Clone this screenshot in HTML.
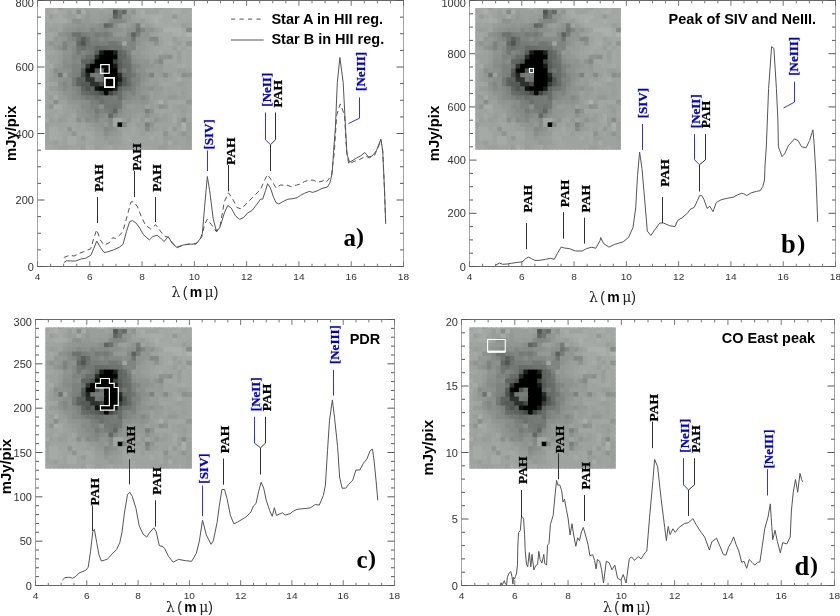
<!DOCTYPE html><html><head><meta charset="utf-8"><style>
html,body{margin:0;padding:0;background:#fff;width:840px;height:616px;overflow:hidden}
svg{display:block}
.tk{font-family:"Liberation Sans",sans-serif;font-size:10px;fill:#333}
.yl{font-family:"Liberation Sans",sans-serif;font-weight:bold;font-size:15.5px;fill:#000}
.xl{font-family:"Liberation Sans",sans-serif;font-size:14px;fill:#222;word-spacing:-1.5px}
.xl .lam,.xl .mu{font-family:"DejaVu Serif","Liberation Serif",serif}
.xl .mb{font-weight:bold;fill:#000}
.ann{font-family:"Liberation Serif",serif;font-weight:bold;font-size:13px;stroke:currentColor;stroke-width:0.25px}.pah{font-size:13.5px}
.ttl{font-family:"Liberation Sans",sans-serif;font-weight:bold;font-size:14.5px;fill:#000}
.pl{font-family:"Liberation Serif",serif;font-weight:bold;font-size:25px;fill:#000}
</style></head><body>
<svg width="840" height="616" viewBox="0 0 840 616">
<rect width="840" height="616" fill="#fff"/>
<path d="M37.5 0.5V266.5M403.5 0.5V266.5" stroke="#a4a4a4" stroke-width="1" fill="none"/>
<path d="M37 0.5H404M37 266.5H404" stroke="#686868" stroke-width="1" fill="none"/>
<path d="M37.5 266.5h7M403.5 266.5h-7M37.5 249.88h3.5M403.5 249.88h-3.5M37.5 233.25h3.5M403.5 233.25h-3.5M37.5 216.62h3.5M403.5 216.62h-3.5M37.5 200h7M403.5 200h-7M37.5 183.38h3.5M403.5 183.38h-3.5M37.5 166.75h3.5M403.5 166.75h-3.5M37.5 150.12h3.5M403.5 150.12h-3.5M37.5 133.5h7M403.5 133.5h-7M37.5 116.88h3.5M403.5 116.88h-3.5M37.5 100.25h3.5M403.5 100.25h-3.5M37.5 83.62h3.5M403.5 83.62h-3.5M37.5 67h7M403.5 67h-7M37.5 50.38h3.5M403.5 50.38h-3.5M37.5 33.75h3.5M403.5 33.75h-3.5M37.5 17.12h3.5M403.5 17.12h-3.5M37.5 0.5h7M403.5 0.5h-7" stroke="#585858" stroke-width="1" fill="none"/>
<path d="M37.5 266.5v-5.3M37.5 0.5v5.4M50.57 266.5v-2.7M50.57 0.5v2.9M63.64 266.5v-2.7M63.64 0.5v2.9M76.71 266.5v-2.7M76.71 0.5v2.9M89.79 266.5v-5.3M89.79 0.5v5.4M102.86 266.5v-2.7M102.86 0.5v2.9M115.93 266.5v-2.7M115.93 0.5v2.9M129 266.5v-2.7M129 0.5v2.9M142.07 266.5v-5.3M142.07 0.5v5.4M155.14 266.5v-2.7M155.14 0.5v2.9M168.21 266.5v-2.7M168.21 0.5v2.9M181.29 266.5v-2.7M181.29 0.5v2.9M194.36 266.5v-5.3M194.36 0.5v5.4M207.43 266.5v-2.7M207.43 0.5v2.9M220.5 266.5v-2.7M220.5 0.5v2.9M233.57 266.5v-2.7M233.57 0.5v2.9M246.64 266.5v-5.3M246.64 0.5v5.4M259.71 266.5v-2.7M259.71 0.5v2.9M272.79 266.5v-2.7M272.79 0.5v2.9M285.86 266.5v-2.7M285.86 0.5v2.9M298.93 266.5v-5.3M298.93 0.5v5.4M312 266.5v-2.7M312 0.5v2.9M325.07 266.5v-2.7M325.07 0.5v2.9M338.14 266.5v-2.7M338.14 0.5v2.9M351.21 266.5v-5.3M351.21 0.5v5.4M364.29 266.5v-2.7M364.29 0.5v2.9M377.36 266.5v-2.7M377.36 0.5v2.9M390.43 266.5v-2.7M390.43 0.5v2.9M403.5 266.5v-5.3M403.5 0.5v5.4" stroke="#767676" stroke-width="1" fill="none"/>
<text transform="translate(37.5,279.8) scale(1.07,1)" class="tk" text-anchor="middle" style="font-size:9.5px">4</text>
<text transform="translate(89.79,279.8) scale(1.07,1)" class="tk" text-anchor="middle" style="font-size:9.5px">6</text>
<text transform="translate(142.07,279.8) scale(1.07,1)" class="tk" text-anchor="middle" style="font-size:9.5px">8</text>
<text transform="translate(194.36,279.8) scale(1.07,1)" class="tk" text-anchor="middle" style="font-size:9.5px">10</text>
<text transform="translate(246.64,279.8) scale(1.07,1)" class="tk" text-anchor="middle" style="font-size:9.5px">12</text>
<text transform="translate(298.93,279.8) scale(1.07,1)" class="tk" text-anchor="middle" style="font-size:9.5px">14</text>
<text transform="translate(351.21,279.8) scale(1.07,1)" class="tk" text-anchor="middle" style="font-size:9.5px">16</text>
<text transform="translate(403.5,279.8) scale(1.07,1)" class="tk" text-anchor="middle" style="font-size:9.5px">18</text>
<text transform="translate(33.9,270.5) scale(1.1,1)" class="tk" text-anchor="end">0</text>
<text transform="translate(33.9,204) scale(1.1,1)" class="tk" text-anchor="end">200</text>
<text transform="translate(33.9,137.5) scale(1.1,1)" class="tk" text-anchor="end">400</text>
<text transform="translate(33.9,71) scale(1.1,1)" class="tk" text-anchor="end">600</text>
<text transform="translate(33.9,7.3) scale(1.1,1)" class="tk" text-anchor="end">800</text>
<text class="yl" transform="translate(16.4,133.4) rotate(-90) scale(0.96,1)" text-anchor="middle">mJy/pix</text>
<text class="xl" x="194.9" y="296.6" text-anchor="middle"><tspan class="lam">&#955;</tspan> ( <tspan class="mb">m</tspan> <tspan class="mu">&#956;</tspan>)</text>
<path d="M469.5 0.5V266.5M835.5 0.5V266.5" stroke="#a4a4a4" stroke-width="1" fill="none"/>
<path d="M469 0.5H836M469 266.5H836" stroke="#686868" stroke-width="1" fill="none"/>
<path d="M469.5 266.5h7M835.5 266.5h-7M469.5 253.2h3.5M835.5 253.2h-3.5M469.5 239.9h3.5M835.5 239.9h-3.5M469.5 226.6h3.5M835.5 226.6h-3.5M469.5 213.3h7M835.5 213.3h-7M469.5 200h3.5M835.5 200h-3.5M469.5 186.7h3.5M835.5 186.7h-3.5M469.5 173.4h3.5M835.5 173.4h-3.5M469.5 160.1h7M835.5 160.1h-7M469.5 146.8h3.5M835.5 146.8h-3.5M469.5 133.5h3.5M835.5 133.5h-3.5M469.5 120.2h3.5M835.5 120.2h-3.5M469.5 106.9h7M835.5 106.9h-7M469.5 93.6h3.5M835.5 93.6h-3.5M469.5 80.3h3.5M835.5 80.3h-3.5M469.5 67h3.5M835.5 67h-3.5M469.5 53.7h7M835.5 53.7h-7M469.5 40.4h3.5M835.5 40.4h-3.5M469.5 27.1h3.5M835.5 27.1h-3.5M469.5 13.8h3.5M835.5 13.8h-3.5M469.5 0.5h7M835.5 0.5h-7" stroke="#585858" stroke-width="1" fill="none"/>
<path d="M469.5 266.5v-5.3M469.5 0.5v5.4M482.57 266.5v-2.7M482.57 0.5v2.9M495.64 266.5v-2.7M495.64 0.5v2.9M508.71 266.5v-2.7M508.71 0.5v2.9M521.79 266.5v-5.3M521.79 0.5v5.4M534.86 266.5v-2.7M534.86 0.5v2.9M547.93 266.5v-2.7M547.93 0.5v2.9M561 266.5v-2.7M561 0.5v2.9M574.07 266.5v-5.3M574.07 0.5v5.4M587.14 266.5v-2.7M587.14 0.5v2.9M600.21 266.5v-2.7M600.21 0.5v2.9M613.29 266.5v-2.7M613.29 0.5v2.9M626.36 266.5v-5.3M626.36 0.5v5.4M639.43 266.5v-2.7M639.43 0.5v2.9M652.5 266.5v-2.7M652.5 0.5v2.9M665.57 266.5v-2.7M665.57 0.5v2.9M678.64 266.5v-5.3M678.64 0.5v5.4M691.71 266.5v-2.7M691.71 0.5v2.9M704.79 266.5v-2.7M704.79 0.5v2.9M717.86 266.5v-2.7M717.86 0.5v2.9M730.93 266.5v-5.3M730.93 0.5v5.4M744 266.5v-2.7M744 0.5v2.9M757.07 266.5v-2.7M757.07 0.5v2.9M770.14 266.5v-2.7M770.14 0.5v2.9M783.21 266.5v-5.3M783.21 0.5v5.4M796.29 266.5v-2.7M796.29 0.5v2.9M809.36 266.5v-2.7M809.36 0.5v2.9M822.43 266.5v-2.7M822.43 0.5v2.9M835.5 266.5v-5.3M835.5 0.5v5.4" stroke="#767676" stroke-width="1" fill="none"/>
<text transform="translate(469.5,279.8) scale(1.07,1)" class="tk" text-anchor="middle" style="font-size:9.5px">4</text>
<text transform="translate(521.79,279.8) scale(1.07,1)" class="tk" text-anchor="middle" style="font-size:9.5px">6</text>
<text transform="translate(574.07,279.8) scale(1.07,1)" class="tk" text-anchor="middle" style="font-size:9.5px">8</text>
<text transform="translate(626.36,279.8) scale(1.07,1)" class="tk" text-anchor="middle" style="font-size:9.5px">10</text>
<text transform="translate(678.64,279.8) scale(1.07,1)" class="tk" text-anchor="middle" style="font-size:9.5px">12</text>
<text transform="translate(730.93,279.8) scale(1.07,1)" class="tk" text-anchor="middle" style="font-size:9.5px">14</text>
<text transform="translate(783.21,279.8) scale(1.07,1)" class="tk" text-anchor="middle" style="font-size:9.5px">16</text>
<text transform="translate(835.5,279.8) scale(1.07,1)" class="tk" text-anchor="middle" style="font-size:9.5px">18</text>
<text transform="translate(465.9,270.5) scale(1.1,1)" class="tk" text-anchor="end">0</text>
<text transform="translate(465.9,217.3) scale(1.1,1)" class="tk" text-anchor="end">200</text>
<text transform="translate(465.9,164.1) scale(1.1,1)" class="tk" text-anchor="end">400</text>
<text transform="translate(465.9,110.9) scale(1.1,1)" class="tk" text-anchor="end">600</text>
<text transform="translate(465.9,57.7) scale(1.1,1)" class="tk" text-anchor="end">800</text>
<text transform="translate(465.9,7.3) scale(1.1,1)" class="tk" text-anchor="end">1000</text>
<text class="yl" transform="translate(438.9,133.5) rotate(-90) scale(0.96,1)" text-anchor="middle">mJy/pix</text>
<text class="xl" x="612.5" y="302" text-anchor="middle"><tspan class="lam">&#955;</tspan> ( <tspan class="mb">m</tspan> <tspan class="mu">&#956;</tspan>)</text>
<path d="M35.5 319.5V585.5M394.5 319.5V585.5" stroke="#a4a4a4" stroke-width="1" fill="none"/>
<path d="M35 319.5H395M35 585.5H395" stroke="#686868" stroke-width="1" fill="none"/>
<path d="M35.5 585.5h7M394.5 585.5h-7M35.5 576.63h3.5M394.5 576.63h-3.5M35.5 567.77h3.5M394.5 567.77h-3.5M35.5 558.9h3.5M394.5 558.9h-3.5M35.5 550.03h3.5M394.5 550.03h-3.5M35.5 541.17h7M394.5 541.17h-7M35.5 532.3h3.5M394.5 532.3h-3.5M35.5 523.43h3.5M394.5 523.43h-3.5M35.5 514.57h3.5M394.5 514.57h-3.5M35.5 505.7h3.5M394.5 505.7h-3.5M35.5 496.83h7M394.5 496.83h-7M35.5 487.97h3.5M394.5 487.97h-3.5M35.5 479.1h3.5M394.5 479.1h-3.5M35.5 470.23h3.5M394.5 470.23h-3.5M35.5 461.37h3.5M394.5 461.37h-3.5M35.5 452.5h7M394.5 452.5h-7M35.5 443.63h3.5M394.5 443.63h-3.5M35.5 434.77h3.5M394.5 434.77h-3.5M35.5 425.9h3.5M394.5 425.9h-3.5M35.5 417.03h3.5M394.5 417.03h-3.5M35.5 408.17h7M394.5 408.17h-7M35.5 399.3h3.5M394.5 399.3h-3.5M35.5 390.43h3.5M394.5 390.43h-3.5M35.5 381.57h3.5M394.5 381.57h-3.5M35.5 372.7h3.5M394.5 372.7h-3.5M35.5 363.83h7M394.5 363.83h-7M35.5 354.97h3.5M394.5 354.97h-3.5M35.5 346.1h3.5M394.5 346.1h-3.5M35.5 337.23h3.5M394.5 337.23h-3.5M35.5 328.37h3.5M394.5 328.37h-3.5M35.5 319.5h7M394.5 319.5h-7" stroke="#585858" stroke-width="1" fill="none"/>
<path d="M35.5 585.5v-5.3M35.5 319.5v5.4M48.32 585.5v-2.7M48.32 319.5v2.9M61.14 585.5v-2.7M61.14 319.5v2.9M73.96 585.5v-2.7M73.96 319.5v2.9M86.79 585.5v-5.3M86.79 319.5v5.4M99.61 585.5v-2.7M99.61 319.5v2.9M112.43 585.5v-2.7M112.43 319.5v2.9M125.25 585.5v-2.7M125.25 319.5v2.9M138.07 585.5v-5.3M138.07 319.5v5.4M150.89 585.5v-2.7M150.89 319.5v2.9M163.71 585.5v-2.7M163.71 319.5v2.9M176.54 585.5v-2.7M176.54 319.5v2.9M189.36 585.5v-5.3M189.36 319.5v5.4M202.18 585.5v-2.7M202.18 319.5v2.9M215 585.5v-2.7M215 319.5v2.9M227.82 585.5v-2.7M227.82 319.5v2.9M240.64 585.5v-5.3M240.64 319.5v5.4M253.46 585.5v-2.7M253.46 319.5v2.9M266.29 585.5v-2.7M266.29 319.5v2.9M279.11 585.5v-2.7M279.11 319.5v2.9M291.93 585.5v-5.3M291.93 319.5v5.4M304.75 585.5v-2.7M304.75 319.5v2.9M317.57 585.5v-2.7M317.57 319.5v2.9M330.39 585.5v-2.7M330.39 319.5v2.9M343.21 585.5v-5.3M343.21 319.5v5.4M356.04 585.5v-2.7M356.04 319.5v2.9M368.86 585.5v-2.7M368.86 319.5v2.9M381.68 585.5v-2.7M381.68 319.5v2.9M394.5 585.5v-5.3M394.5 319.5v5.4" stroke="#767676" stroke-width="1" fill="none"/>
<text transform="translate(35.5,598.8) scale(1.07,1)" class="tk" text-anchor="middle" style="font-size:9.5px">4</text>
<text transform="translate(86.79,598.8) scale(1.07,1)" class="tk" text-anchor="middle" style="font-size:9.5px">6</text>
<text transform="translate(138.07,598.8) scale(1.07,1)" class="tk" text-anchor="middle" style="font-size:9.5px">8</text>
<text transform="translate(189.36,598.8) scale(1.07,1)" class="tk" text-anchor="middle" style="font-size:9.5px">10</text>
<text transform="translate(240.64,598.8) scale(1.07,1)" class="tk" text-anchor="middle" style="font-size:9.5px">12</text>
<text transform="translate(291.93,598.8) scale(1.07,1)" class="tk" text-anchor="middle" style="font-size:9.5px">14</text>
<text transform="translate(343.21,598.8) scale(1.07,1)" class="tk" text-anchor="middle" style="font-size:9.5px">16</text>
<text transform="translate(394.5,598.8) scale(1.07,1)" class="tk" text-anchor="middle" style="font-size:9.5px">18</text>
<text transform="translate(31.9,589.5) scale(1.1,1)" class="tk" text-anchor="end">0</text>
<text transform="translate(31.9,545.17) scale(1.1,1)" class="tk" text-anchor="end">50</text>
<text transform="translate(31.9,500.83) scale(1.1,1)" class="tk" text-anchor="end">100</text>
<text transform="translate(31.9,456.5) scale(1.1,1)" class="tk" text-anchor="end">150</text>
<text transform="translate(31.9,412.17) scale(1.1,1)" class="tk" text-anchor="end">200</text>
<text transform="translate(31.9,367.83) scale(1.1,1)" class="tk" text-anchor="end">250</text>
<text transform="translate(31.9,326.3) scale(1.1,1)" class="tk" text-anchor="end">300</text>
<text class="yl" transform="translate(11,466.6) rotate(-90) scale(0.96,1)" text-anchor="middle">mJy/pix</text>
<text class="xl" x="189.5" y="611.5" text-anchor="middle"><tspan class="lam">&#955;</tspan> ( <tspan class="mb">m</tspan> <tspan class="mu">&#956;</tspan>)</text>
<path d="M461.5 319.5V585.5M834.5 319.5V585.5" stroke="#a4a4a4" stroke-width="1" fill="none"/>
<path d="M461 319.5H835M461 585.5H835" stroke="#686868" stroke-width="1" fill="none"/>
<path d="M461.5 585.5h7M834.5 585.5h-7M461.5 572.2h3.5M834.5 572.2h-3.5M461.5 558.9h3.5M834.5 558.9h-3.5M461.5 545.6h3.5M834.5 545.6h-3.5M461.5 532.3h3.5M834.5 532.3h-3.5M461.5 519h7M834.5 519h-7M461.5 505.7h3.5M834.5 505.7h-3.5M461.5 492.4h3.5M834.5 492.4h-3.5M461.5 479.1h3.5M834.5 479.1h-3.5M461.5 465.8h3.5M834.5 465.8h-3.5M461.5 452.5h7M834.5 452.5h-7M461.5 439.2h3.5M834.5 439.2h-3.5M461.5 425.9h3.5M834.5 425.9h-3.5M461.5 412.6h3.5M834.5 412.6h-3.5M461.5 399.3h3.5M834.5 399.3h-3.5M461.5 386h7M834.5 386h-7M461.5 372.7h3.5M834.5 372.7h-3.5M461.5 359.4h3.5M834.5 359.4h-3.5M461.5 346.1h3.5M834.5 346.1h-3.5M461.5 332.8h3.5M834.5 332.8h-3.5M461.5 319.5h7M834.5 319.5h-7" stroke="#585858" stroke-width="1" fill="none"/>
<path d="M461.5 585.5v-5.3M461.5 319.5v5.4M474.82 585.5v-2.7M474.82 319.5v2.9M488.14 585.5v-2.7M488.14 319.5v2.9M501.46 585.5v-2.7M501.46 319.5v2.9M514.79 585.5v-5.3M514.79 319.5v5.4M528.11 585.5v-2.7M528.11 319.5v2.9M541.43 585.5v-2.7M541.43 319.5v2.9M554.75 585.5v-2.7M554.75 319.5v2.9M568.07 585.5v-5.3M568.07 319.5v5.4M581.39 585.5v-2.7M581.39 319.5v2.9M594.71 585.5v-2.7M594.71 319.5v2.9M608.04 585.5v-2.7M608.04 319.5v2.9M621.36 585.5v-5.3M621.36 319.5v5.4M634.68 585.5v-2.7M634.68 319.5v2.9M648 585.5v-2.7M648 319.5v2.9M661.32 585.5v-2.7M661.32 319.5v2.9M674.64 585.5v-5.3M674.64 319.5v5.4M687.96 585.5v-2.7M687.96 319.5v2.9M701.29 585.5v-2.7M701.29 319.5v2.9M714.61 585.5v-2.7M714.61 319.5v2.9M727.93 585.5v-5.3M727.93 319.5v5.4M741.25 585.5v-2.7M741.25 319.5v2.9M754.57 585.5v-2.7M754.57 319.5v2.9M767.89 585.5v-2.7M767.89 319.5v2.9M781.21 585.5v-5.3M781.21 319.5v5.4M794.54 585.5v-2.7M794.54 319.5v2.9M807.86 585.5v-2.7M807.86 319.5v2.9M821.18 585.5v-2.7M821.18 319.5v2.9M834.5 585.5v-5.3M834.5 319.5v5.4" stroke="#767676" stroke-width="1" fill="none"/>
<text transform="translate(461.5,598.8) scale(1.07,1)" class="tk" text-anchor="middle" style="font-size:9.5px">4</text>
<text transform="translate(514.79,598.8) scale(1.07,1)" class="tk" text-anchor="middle" style="font-size:9.5px">6</text>
<text transform="translate(568.07,598.8) scale(1.07,1)" class="tk" text-anchor="middle" style="font-size:9.5px">8</text>
<text transform="translate(621.36,598.8) scale(1.07,1)" class="tk" text-anchor="middle" style="font-size:9.5px">10</text>
<text transform="translate(674.64,598.8) scale(1.07,1)" class="tk" text-anchor="middle" style="font-size:9.5px">12</text>
<text transform="translate(727.93,598.8) scale(1.07,1)" class="tk" text-anchor="middle" style="font-size:9.5px">14</text>
<text transform="translate(781.21,598.8) scale(1.07,1)" class="tk" text-anchor="middle" style="font-size:9.5px">16</text>
<text transform="translate(834.5,598.8) scale(1.07,1)" class="tk" text-anchor="middle" style="font-size:9.5px">18</text>
<text transform="translate(457.9,589.5) scale(1.1,1)" class="tk" text-anchor="end">0</text>
<text transform="translate(457.9,523) scale(1.1,1)" class="tk" text-anchor="end">5</text>
<text transform="translate(457.9,456.5) scale(1.1,1)" class="tk" text-anchor="end">10</text>
<text transform="translate(457.9,390) scale(1.1,1)" class="tk" text-anchor="end">15</text>
<text transform="translate(457.9,326.3) scale(1.1,1)" class="tk" text-anchor="end">20</text>
<text class="yl" transform="translate(433.2,447.7) rotate(-90) scale(0.96,1)" text-anchor="middle">mJy/pix</text>
<text class="xl" x="626.6" y="611.5" text-anchor="middle"><tspan class="lam">&#955;</tspan> ( <tspan class="mb">m</tspan> <tspan class="mu">&#956;</tspan>)</text>
<g transform="translate(45.1,8)">
<rect x="0" y="0" width="4.85" height="2.76" fill="#a4a8a5"/>
<rect x="3.85" y="0" width="5.57" height="2.76" fill="#a6aaa7"/>
<rect x="8.42" y="0" width="5.57" height="2.76" fill="#a6aaa7"/>
<rect x="12.99" y="0" width="5.57" height="2.76" fill="#9a9e9b"/>
<rect x="17.56" y="0" width="5.57" height="2.76" fill="#a6aaa7"/>
<rect x="22.13" y="0" width="5.57" height="2.76" fill="#a4a8a5"/>
<rect x="26.7" y="0" width="5.57" height="2.76" fill="#a4a8a5"/>
<rect x="31.27" y="0" width="5.57" height="2.76" fill="#a2a6a3"/>
<rect x="35.84" y="0" width="5.57" height="2.76" fill="#a2a6a3"/>
<rect x="40.41" y="0" width="5.57" height="2.76" fill="#9fa3a0"/>
<rect x="44.98" y="0" width="5.57" height="2.76" fill="#9fa3a0"/>
<rect x="49.55" y="0" width="5.57" height="2.76" fill="#a3a7a4"/>
<rect x="54.12" y="0" width="5.57" height="2.76" fill="#abafac"/>
<rect x="58.69" y="0" width="5.57" height="2.76" fill="#a3a7a4"/>
<rect x="63.26" y="0" width="5.57" height="2.76" fill="#9ea29f"/>
<rect x="67.83" y="0" width="5.57" height="2.76" fill="#9ea29f"/>
<rect x="72.4" y="0" width="5.57" height="2.76" fill="#a4a8a5"/>
<rect x="76.97" y="0" width="5.57" height="2.76" fill="#a6aaa7"/>
<rect x="81.54" y="0" width="5.57" height="2.76" fill="#9fa3a0"/>
<rect x="86.11" y="0" width="5.57" height="2.76" fill="#9fa3a0"/>
<rect x="90.68" y="0" width="5.57" height="2.76" fill="#a4a8a5"/>
<rect x="95.25" y="0" width="5.57" height="2.76" fill="#a4a8a5"/>
<rect x="99.82" y="0" width="5.57" height="2.76" fill="#a4a8a5"/>
<rect x="104.39" y="0" width="5.57" height="2.76" fill="#a6aaa7"/>
<rect x="108.96" y="0" width="5.57" height="2.76" fill="#9fa3a0"/>
<rect x="113.53" y="0" width="5.57" height="2.76" fill="#9fa3a0"/>
<rect x="118.1" y="0" width="5.57" height="2.76" fill="#a6aaa7"/>
<rect x="122.67" y="0" width="5.57" height="2.76" fill="#a6aaa7"/>
<rect x="127.24" y="0" width="5.57" height="2.76" fill="#a6aaa7"/>
<rect x="131.81" y="0" width="5.57" height="2.76" fill="#a9adaa"/>
<rect x="136.38" y="0" width="5.57" height="2.76" fill="#a2a6a3"/>
<rect x="140.95" y="0" width="5.85" height="2.76" fill="#a4a8a5"/>
<rect x="0" y="1.76" width="4.85" height="5.5" fill="#a2a6a3"/>
<rect x="3.85" y="1.76" width="5.57" height="5.5" fill="#a6aaa7"/>
<rect x="8.42" y="1.76" width="5.57" height="5.5" fill="#acb0ad"/>
<rect x="12.99" y="1.76" width="5.57" height="5.5" fill="#a4a8a5"/>
<rect x="17.56" y="1.76" width="5.57" height="5.5" fill="#a2a6a3"/>
<rect x="22.13" y="1.76" width="5.57" height="5.5" fill="#9a9e9b"/>
<rect x="26.7" y="1.76" width="5.57" height="5.5" fill="#a4a8a5"/>
<rect x="31.27" y="1.76" width="5.57" height="5.5" fill="#868a87"/>
<rect x="35.84" y="1.76" width="5.57" height="5.5" fill="#a8aca9"/>
<rect x="40.41" y="1.76" width="5.57" height="5.5" fill="#989c99"/>
<rect x="44.98" y="1.76" width="5.57" height="5.5" fill="#9ca09d"/>
<rect x="49.55" y="1.76" width="5.57" height="5.5" fill="#9ca09d"/>
<rect x="54.12" y="1.76" width="5.57" height="5.5" fill="#9b9f9c"/>
<rect x="58.69" y="1.76" width="5.57" height="5.5" fill="#9ea29f"/>
<rect x="63.26" y="1.76" width="5.57" height="5.5" fill="#9b9f9c"/>
<rect x="67.83" y="1.76" width="5.57" height="5.5" fill="#515552"/>
<rect x="72.4" y="1.76" width="5.57" height="5.5" fill="#747875"/>
<rect x="76.97" y="1.76" width="5.57" height="5.5" fill="#666a67"/>
<rect x="81.54" y="1.76" width="5.57" height="5.5" fill="#999d9a"/>
<rect x="86.11" y="1.76" width="5.57" height="5.5" fill="#909491"/>
<rect x="90.68" y="1.76" width="5.57" height="5.5" fill="#a4a8a5"/>
<rect x="95.25" y="1.76" width="5.57" height="5.5" fill="#a9adaa"/>
<rect x="99.82" y="1.76" width="5.57" height="5.5" fill="#9fa3a0"/>
<rect x="104.39" y="1.76" width="5.57" height="5.5" fill="#9fa3a0"/>
<rect x="108.96" y="1.76" width="5.57" height="5.5" fill="#9fa3a0"/>
<rect x="113.53" y="1.76" width="5.57" height="5.5" fill="#a6aaa7"/>
<rect x="118.1" y="1.76" width="5.57" height="5.5" fill="#a4a8a5"/>
<rect x="122.67" y="1.76" width="5.57" height="5.5" fill="#a4a8a5"/>
<rect x="127.24" y="1.76" width="5.57" height="5.5" fill="#a9adaa"/>
<rect x="131.81" y="1.76" width="5.57" height="5.5" fill="#a9adaa"/>
<rect x="136.38" y="1.76" width="5.57" height="5.5" fill="#a2a6a3"/>
<rect x="140.95" y="1.76" width="5.85" height="5.5" fill="#a4a8a5"/>
<rect x="0" y="6.26" width="4.85" height="5.5" fill="#a6aaa7"/>
<rect x="3.85" y="6.26" width="5.57" height="5.5" fill="#9a9e9b"/>
<rect x="8.42" y="6.26" width="5.57" height="5.5" fill="#a2a6a3"/>
<rect x="12.99" y="6.26" width="5.57" height="5.5" fill="#a6aaa7"/>
<rect x="17.56" y="6.26" width="5.57" height="5.5" fill="#9fa3a0"/>
<rect x="22.13" y="6.26" width="5.57" height="5.5" fill="#9a9e9b"/>
<rect x="26.7" y="6.26" width="5.57" height="5.5" fill="#9a9e9b"/>
<rect x="31.27" y="6.26" width="5.57" height="5.5" fill="#a7aba8"/>
<rect x="35.84" y="6.26" width="5.57" height="5.5" fill="#9ca09d"/>
<rect x="40.41" y="6.26" width="5.57" height="5.5" fill="#949895"/>
<rect x="44.98" y="6.26" width="5.57" height="5.5" fill="#9a9e9b"/>
<rect x="49.55" y="6.26" width="5.57" height="5.5" fill="#9ca09d"/>
<rect x="54.12" y="6.26" width="5.57" height="5.5" fill="#999d9a"/>
<rect x="58.69" y="6.26" width="5.57" height="5.5" fill="#999d9a"/>
<rect x="63.26" y="6.26" width="5.57" height="5.5" fill="#949895"/>
<rect x="67.83" y="6.26" width="5.57" height="5.5" fill="#626663"/>
<rect x="72.4" y="6.26" width="5.57" height="5.5" fill="#727673"/>
<rect x="76.97" y="6.26" width="5.57" height="5.5" fill="#919592"/>
<rect x="81.54" y="6.26" width="5.57" height="5.5" fill="#929693"/>
<rect x="86.11" y="6.26" width="5.57" height="5.5" fill="#9da19e"/>
<rect x="90.68" y="6.26" width="5.57" height="5.5" fill="#a2a6a3"/>
<rect x="95.25" y="6.26" width="5.57" height="5.5" fill="#a6aaa7"/>
<rect x="99.82" y="6.26" width="5.57" height="5.5" fill="#a6aaa7"/>
<rect x="104.39" y="6.26" width="5.57" height="5.5" fill="#a9adaa"/>
<rect x="108.96" y="6.26" width="5.57" height="5.5" fill="#a9adaa"/>
<rect x="113.53" y="6.26" width="5.57" height="5.5" fill="#a9adaa"/>
<rect x="118.1" y="6.26" width="5.57" height="5.5" fill="#a4a8a5"/>
<rect x="122.67" y="6.26" width="5.57" height="5.5" fill="#a4a8a5"/>
<rect x="127.24" y="6.26" width="5.57" height="5.5" fill="#959996"/>
<rect x="131.81" y="6.26" width="5.57" height="5.5" fill="#a2a6a3"/>
<rect x="136.38" y="6.26" width="5.57" height="5.5" fill="#a6aaa7"/>
<rect x="140.95" y="6.26" width="5.85" height="5.5" fill="#a4a8a5"/>
<rect x="0" y="10.77" width="4.85" height="5.51" fill="#a4a8a5"/>
<rect x="3.85" y="10.77" width="5.57" height="5.51" fill="#a4a8a5"/>
<rect x="8.42" y="10.77" width="5.57" height="5.51" fill="#a6aaa7"/>
<rect x="12.99" y="10.77" width="5.57" height="5.51" fill="#a6aaa7"/>
<rect x="17.56" y="10.77" width="5.57" height="5.51" fill="#a6aaa7"/>
<rect x="22.13" y="10.77" width="5.57" height="5.51" fill="#9ea29f"/>
<rect x="26.7" y="10.77" width="5.57" height="5.51" fill="#8e928f"/>
<rect x="31.27" y="10.77" width="5.57" height="5.51" fill="#8c908d"/>
<rect x="35.84" y="10.77" width="5.57" height="5.51" fill="#979b98"/>
<rect x="40.41" y="10.77" width="5.57" height="5.51" fill="#959996"/>
<rect x="44.98" y="10.77" width="5.57" height="5.51" fill="#979b98"/>
<rect x="49.55" y="10.77" width="5.57" height="5.51" fill="#9a9e9b"/>
<rect x="54.12" y="10.77" width="5.57" height="5.51" fill="#969a97"/>
<rect x="58.69" y="10.77" width="5.57" height="5.51" fill="#969a97"/>
<rect x="63.26" y="10.77" width="5.57" height="5.51" fill="#878b88"/>
<rect x="67.83" y="10.77" width="5.57" height="5.51" fill="#838784"/>
<rect x="72.4" y="10.77" width="5.57" height="5.51" fill="#838784"/>
<rect x="76.97" y="10.77" width="5.57" height="5.51" fill="#898d8a"/>
<rect x="81.54" y="10.77" width="5.57" height="5.51" fill="#959996"/>
<rect x="86.11" y="10.77" width="5.57" height="5.51" fill="#9b9f9c"/>
<rect x="90.68" y="10.77" width="5.57" height="5.51" fill="#9da19e"/>
<rect x="95.25" y="10.77" width="5.57" height="5.51" fill="#999d9a"/>
<rect x="99.82" y="10.77" width="5.57" height="5.51" fill="#a2a6a3"/>
<rect x="104.39" y="10.77" width="5.57" height="5.51" fill="#a6aaa7"/>
<rect x="108.96" y="10.77" width="5.57" height="5.51" fill="#acb0ad"/>
<rect x="113.53" y="10.77" width="5.57" height="5.51" fill="#a4a8a5"/>
<rect x="118.1" y="10.77" width="5.57" height="5.51" fill="#a4a8a5"/>
<rect x="122.67" y="10.77" width="5.57" height="5.51" fill="#a4a8a5"/>
<rect x="127.24" y="10.77" width="5.57" height="5.51" fill="#a9adaa"/>
<rect x="131.81" y="10.77" width="5.57" height="5.51" fill="#a4a8a5"/>
<rect x="136.38" y="10.77" width="5.57" height="5.51" fill="#a4a8a5"/>
<rect x="140.95" y="10.77" width="5.85" height="5.51" fill="#a2a6a3"/>
<rect x="0" y="15.28" width="4.85" height="5.51" fill="#9fa3a0"/>
<rect x="3.85" y="15.28" width="5.57" height="5.51" fill="#a2a6a3"/>
<rect x="8.42" y="15.28" width="5.57" height="5.51" fill="#9fa3a0"/>
<rect x="12.99" y="15.28" width="5.57" height="5.51" fill="#9fa3a0"/>
<rect x="17.56" y="15.28" width="5.57" height="5.51" fill="#999d9a"/>
<rect x="22.13" y="15.28" width="5.57" height="5.51" fill="#959996"/>
<rect x="26.7" y="15.28" width="5.57" height="5.51" fill="#949895"/>
<rect x="31.27" y="15.28" width="5.57" height="5.51" fill="#929693"/>
<rect x="35.84" y="15.28" width="5.57" height="5.51" fill="#909491"/>
<rect x="40.41" y="15.28" width="5.57" height="5.51" fill="#939794"/>
<rect x="44.98" y="15.28" width="5.57" height="5.51" fill="#909491"/>
<rect x="49.55" y="15.28" width="5.57" height="5.51" fill="#8f9390"/>
<rect x="54.12" y="15.28" width="5.57" height="5.51" fill="#8a8e8b"/>
<rect x="58.69" y="15.28" width="5.57" height="5.51" fill="#616562"/>
<rect x="63.26" y="15.28" width="5.57" height="5.51" fill="#6c706d"/>
<rect x="67.83" y="15.28" width="5.57" height="5.51" fill="#8a8e8b"/>
<rect x="72.4" y="15.28" width="5.57" height="5.51" fill="#9a9e9b"/>
<rect x="76.97" y="15.28" width="5.57" height="5.51" fill="#9da19e"/>
<rect x="81.54" y="15.28" width="5.57" height="5.51" fill="#979b98"/>
<rect x="86.11" y="15.28" width="5.57" height="5.51" fill="#8f9390"/>
<rect x="90.68" y="15.28" width="5.57" height="5.51" fill="#787c79"/>
<rect x="95.25" y="15.28" width="5.57" height="5.51" fill="#a1a5a2"/>
<rect x="99.82" y="15.28" width="5.57" height="5.51" fill="#999d9a"/>
<rect x="104.39" y="15.28" width="5.57" height="5.51" fill="#9fa3a0"/>
<rect x="108.96" y="15.28" width="5.57" height="5.51" fill="#a6aaa7"/>
<rect x="113.53" y="15.28" width="5.57" height="5.51" fill="#a6aaa7"/>
<rect x="118.1" y="15.28" width="5.57" height="5.51" fill="#a6aaa7"/>
<rect x="122.67" y="15.28" width="5.57" height="5.51" fill="#a6aaa7"/>
<rect x="127.24" y="15.28" width="5.57" height="5.51" fill="#a4a8a5"/>
<rect x="131.81" y="15.28" width="5.57" height="5.51" fill="#a4a8a5"/>
<rect x="136.38" y="15.28" width="5.57" height="5.51" fill="#9a9e9b"/>
<rect x="140.95" y="15.28" width="5.85" height="5.51" fill="#9fa3a0"/>
<rect x="0" y="19.78" width="4.85" height="5.5" fill="#9fa3a0"/>
<rect x="3.85" y="19.78" width="5.57" height="5.5" fill="#9a9e9b"/>
<rect x="8.42" y="19.78" width="5.57" height="5.5" fill="#9ca09d"/>
<rect x="12.99" y="19.78" width="5.57" height="5.5" fill="#9fa3a0"/>
<rect x="17.56" y="19.78" width="5.57" height="5.5" fill="#939794"/>
<rect x="22.13" y="19.78" width="5.57" height="5.5" fill="#909491"/>
<rect x="26.7" y="19.78" width="5.57" height="5.5" fill="#8e928f"/>
<rect x="31.27" y="19.78" width="5.57" height="5.5" fill="#888c89"/>
<rect x="35.84" y="19.78" width="5.57" height="5.5" fill="#8b8f8c"/>
<rect x="40.41" y="19.78" width="5.57" height="5.5" fill="#8d918e"/>
<rect x="44.98" y="19.78" width="5.57" height="5.5" fill="#838784"/>
<rect x="49.55" y="19.78" width="5.57" height="5.5" fill="#8a8e8b"/>
<rect x="54.12" y="19.78" width="5.57" height="5.5" fill="#878b88"/>
<rect x="58.69" y="19.78" width="5.57" height="5.5" fill="#848885"/>
<rect x="63.26" y="19.78" width="5.57" height="5.5" fill="#8c908d"/>
<rect x="67.83" y="19.78" width="5.57" height="5.5" fill="#8c908d"/>
<rect x="72.4" y="19.78" width="5.57" height="5.5" fill="#8f9390"/>
<rect x="76.97" y="19.78" width="5.57" height="5.5" fill="#949895"/>
<rect x="81.54" y="19.78" width="5.57" height="5.5" fill="#8e928f"/>
<rect x="86.11" y="19.78" width="5.57" height="5.5" fill="#8d918e"/>
<rect x="90.68" y="19.78" width="5.57" height="5.5" fill="#707471"/>
<rect x="95.25" y="19.78" width="5.57" height="5.5" fill="#818582"/>
<rect x="99.82" y="19.78" width="5.57" height="5.5" fill="#939794"/>
<rect x="104.39" y="19.78" width="5.57" height="5.5" fill="#909491"/>
<rect x="108.96" y="19.78" width="5.57" height="5.5" fill="#9a9e9b"/>
<rect x="113.53" y="19.78" width="5.57" height="5.5" fill="#9fa3a0"/>
<rect x="118.1" y="19.78" width="5.57" height="5.5" fill="#acb0ad"/>
<rect x="122.67" y="19.78" width="5.57" height="5.5" fill="#acb0ad"/>
<rect x="127.24" y="19.78" width="5.57" height="5.5" fill="#acb0ad"/>
<rect x="131.81" y="19.78" width="5.57" height="5.5" fill="#acb0ad"/>
<rect x="136.38" y="19.78" width="5.57" height="5.5" fill="#a4a8a5"/>
<rect x="140.95" y="19.78" width="5.85" height="5.5" fill="#868a87"/>
<rect x="0" y="24.29" width="4.85" height="5.51" fill="#a2a6a3"/>
<rect x="3.85" y="24.29" width="5.57" height="5.51" fill="#a4a8a5"/>
<rect x="8.42" y="24.29" width="5.57" height="5.51" fill="#9fa3a0"/>
<rect x="12.99" y="24.29" width="5.57" height="5.51" fill="#8e928f"/>
<rect x="17.56" y="24.29" width="5.57" height="5.51" fill="#8c908d"/>
<rect x="22.13" y="24.29" width="5.57" height="5.51" fill="#858986"/>
<rect x="26.7" y="24.29" width="5.57" height="5.51" fill="#6f7370"/>
<rect x="31.27" y="24.29" width="5.57" height="5.51" fill="#6d716e"/>
<rect x="35.84" y="24.29" width="5.57" height="5.51" fill="#7a7e7b"/>
<rect x="40.41" y="24.29" width="5.57" height="5.51" fill="#7d817e"/>
<rect x="44.98" y="24.29" width="5.57" height="5.51" fill="#818582"/>
<rect x="49.55" y="24.29" width="5.57" height="5.51" fill="#767a77"/>
<rect x="54.12" y="24.29" width="5.57" height="5.51" fill="#7a7e7b"/>
<rect x="58.69" y="24.29" width="5.57" height="5.51" fill="#757976"/>
<rect x="63.26" y="24.29" width="5.57" height="5.51" fill="#7f8380"/>
<rect x="67.83" y="24.29" width="5.57" height="5.51" fill="#949895"/>
<rect x="72.4" y="24.29" width="5.57" height="5.51" fill="#959996"/>
<rect x="76.97" y="24.29" width="5.57" height="5.51" fill="#969a97"/>
<rect x="81.54" y="24.29" width="5.57" height="5.51" fill="#848885"/>
<rect x="86.11" y="24.29" width="5.57" height="5.51" fill="#5e625f"/>
<rect x="90.68" y="24.29" width="5.57" height="5.51" fill="#797d7a"/>
<rect x="95.25" y="24.29" width="5.57" height="5.51" fill="#949895"/>
<rect x="99.82" y="24.29" width="5.57" height="5.51" fill="#919592"/>
<rect x="104.39" y="24.29" width="5.57" height="5.51" fill="#9da19e"/>
<rect x="108.96" y="24.29" width="5.57" height="5.51" fill="#9fa3a0"/>
<rect x="113.53" y="24.29" width="5.57" height="5.51" fill="#a4a8a5"/>
<rect x="118.1" y="24.29" width="5.57" height="5.51" fill="#a4a8a5"/>
<rect x="122.67" y="24.29" width="5.57" height="5.51" fill="#a4a8a5"/>
<rect x="127.24" y="24.29" width="5.57" height="5.51" fill="#a9adaa"/>
<rect x="131.81" y="24.29" width="5.57" height="5.51" fill="#acb0ad"/>
<rect x="136.38" y="24.29" width="5.57" height="5.51" fill="#a6aaa7"/>
<rect x="140.95" y="24.29" width="5.85" height="5.51" fill="#aeb2af"/>
<rect x="0" y="28.79" width="4.85" height="5.5" fill="#a2a6a3"/>
<rect x="3.85" y="28.79" width="5.57" height="5.5" fill="#a2a6a3"/>
<rect x="8.42" y="28.79" width="5.57" height="5.5" fill="#949895"/>
<rect x="12.99" y="28.79" width="5.57" height="5.5" fill="#979b98"/>
<rect x="17.56" y="28.79" width="5.57" height="5.5" fill="#929693"/>
<rect x="22.13" y="28.79" width="5.57" height="5.5" fill="#888c89"/>
<rect x="26.7" y="28.79" width="5.57" height="5.5" fill="#818582"/>
<rect x="31.27" y="28.79" width="5.57" height="5.5" fill="#707471"/>
<rect x="35.84" y="28.79" width="5.57" height="5.5" fill="#5b5f5c"/>
<rect x="40.41" y="28.79" width="5.57" height="5.5" fill="#6c706d"/>
<rect x="44.98" y="28.79" width="5.57" height="5.5" fill="#7f8380"/>
<rect x="49.55" y="28.79" width="5.57" height="5.5" fill="#7e827f"/>
<rect x="54.12" y="28.79" width="5.57" height="5.5" fill="#888c89"/>
<rect x="58.69" y="28.79" width="5.57" height="5.5" fill="#7e827f"/>
<rect x="63.26" y="28.79" width="5.57" height="5.5" fill="#868a87"/>
<rect x="67.83" y="28.79" width="5.57" height="5.5" fill="#868a87"/>
<rect x="72.4" y="28.79" width="5.57" height="5.5" fill="#878b88"/>
<rect x="76.97" y="28.79" width="5.57" height="5.5" fill="#8a8e8b"/>
<rect x="81.54" y="28.79" width="5.57" height="5.5" fill="#878b88"/>
<rect x="86.11" y="28.79" width="5.57" height="5.5" fill="#707471"/>
<rect x="90.68" y="28.79" width="5.57" height="5.5" fill="#909491"/>
<rect x="95.25" y="28.79" width="5.57" height="5.5" fill="#929693"/>
<rect x="99.82" y="28.79" width="5.57" height="5.5" fill="#949895"/>
<rect x="104.39" y="28.79" width="5.57" height="5.5" fill="#838784"/>
<rect x="108.96" y="28.79" width="5.57" height="5.5" fill="#858986"/>
<rect x="113.53" y="28.79" width="5.57" height="5.5" fill="#9fa3a0"/>
<rect x="118.1" y="28.79" width="5.57" height="5.5" fill="#a4a8a5"/>
<rect x="122.67" y="28.79" width="5.57" height="5.5" fill="#a4a8a5"/>
<rect x="127.24" y="28.79" width="5.57" height="5.5" fill="#9a9e9b"/>
<rect x="131.81" y="28.79" width="5.57" height="5.5" fill="#a2a6a3"/>
<rect x="136.38" y="28.79" width="5.57" height="5.5" fill="#a4a8a5"/>
<rect x="140.95" y="28.79" width="5.85" height="5.5" fill="#a4a8a5"/>
<rect x="0" y="33.3" width="4.85" height="5.5" fill="#9a9e9b"/>
<rect x="3.85" y="33.3" width="5.57" height="5.5" fill="#909491"/>
<rect x="8.42" y="33.3" width="5.57" height="5.5" fill="#989c99"/>
<rect x="12.99" y="33.3" width="5.57" height="5.5" fill="#939794"/>
<rect x="17.56" y="33.3" width="5.57" height="5.5" fill="#7f8380"/>
<rect x="22.13" y="33.3" width="5.57" height="5.5" fill="#8b8f8c"/>
<rect x="26.7" y="33.3" width="5.57" height="5.5" fill="#8e928f"/>
<rect x="31.27" y="33.3" width="5.57" height="5.5" fill="#646865"/>
<rect x="35.84" y="33.3" width="5.57" height="5.5" fill="#515552"/>
<rect x="40.41" y="33.3" width="5.57" height="5.5" fill="#6f7370"/>
<rect x="44.98" y="33.3" width="5.57" height="5.5" fill="#797d7a"/>
<rect x="49.55" y="33.3" width="5.57" height="5.5" fill="#797d7a"/>
<rect x="54.12" y="33.3" width="5.57" height="5.5" fill="#7c807d"/>
<rect x="58.69" y="33.3" width="5.57" height="5.5" fill="#7c807d"/>
<rect x="63.26" y="33.3" width="5.57" height="5.5" fill="#747875"/>
<rect x="67.83" y="33.3" width="5.57" height="5.5" fill="#747875"/>
<rect x="72.4" y="33.3" width="5.57" height="5.5" fill="#7c807d"/>
<rect x="76.97" y="33.3" width="5.57" height="5.5" fill="#a1a5a2"/>
<rect x="81.54" y="33.3" width="5.57" height="5.5" fill="#808481"/>
<rect x="86.11" y="33.3" width="5.57" height="5.5" fill="#828683"/>
<rect x="90.68" y="33.3" width="5.57" height="5.5" fill="#8e928f"/>
<rect x="95.25" y="33.3" width="5.57" height="5.5" fill="#959996"/>
<rect x="99.82" y="33.3" width="5.57" height="5.5" fill="#9b9f9c"/>
<rect x="104.39" y="33.3" width="5.57" height="5.5" fill="#9a9e9b"/>
<rect x="108.96" y="33.3" width="5.57" height="5.5" fill="#8e928f"/>
<rect x="113.53" y="33.3" width="5.57" height="5.5" fill="#9fa3a0"/>
<rect x="118.1" y="33.3" width="5.57" height="5.5" fill="#a4a8a5"/>
<rect x="122.67" y="33.3" width="5.57" height="5.5" fill="#a9adaa"/>
<rect x="127.24" y="33.3" width="5.57" height="5.5" fill="#9fa3a0"/>
<rect x="131.81" y="33.3" width="5.57" height="5.5" fill="#9a9e9b"/>
<rect x="136.38" y="33.3" width="5.57" height="5.5" fill="#a4a8a5"/>
<rect x="140.95" y="33.3" width="5.85" height="5.5" fill="#909491"/>
<rect x="0" y="37.8" width="4.85" height="5.51" fill="#9fa3a0"/>
<rect x="3.85" y="37.8" width="5.57" height="5.51" fill="#9ca09d"/>
<rect x="8.42" y="37.8" width="5.57" height="5.51" fill="#929693"/>
<rect x="12.99" y="37.8" width="5.57" height="5.51" fill="#8c908d"/>
<rect x="17.56" y="37.8" width="5.57" height="5.51" fill="#7e827f"/>
<rect x="22.13" y="37.8" width="5.57" height="5.51" fill="#8d918e"/>
<rect x="26.7" y="37.8" width="5.57" height="5.51" fill="#848885"/>
<rect x="31.27" y="37.8" width="5.57" height="5.51" fill="#717572"/>
<rect x="35.84" y="37.8" width="5.57" height="5.51" fill="#6a6e6b"/>
<rect x="40.41" y="37.8" width="5.57" height="5.51" fill="#747875"/>
<rect x="44.98" y="37.8" width="5.57" height="5.51" fill="#747875"/>
<rect x="49.55" y="37.8" width="5.57" height="5.51" fill="#686c69"/>
<rect x="54.12" y="37.8" width="5.57" height="5.51" fill="#686c69"/>
<rect x="58.69" y="37.8" width="5.57" height="5.51" fill="#6a6e6b"/>
<rect x="63.26" y="37.8" width="5.57" height="5.51" fill="#6f7370"/>
<rect x="67.83" y="37.8" width="5.57" height="5.51" fill="#6f7370"/>
<rect x="72.4" y="37.8" width="5.57" height="5.51" fill="#6f7370"/>
<rect x="76.97" y="37.8" width="5.57" height="5.51" fill="#7e827f"/>
<rect x="81.54" y="37.8" width="5.57" height="5.51" fill="#838784"/>
<rect x="86.11" y="37.8" width="5.57" height="5.51" fill="#808481"/>
<rect x="90.68" y="37.8" width="5.57" height="5.51" fill="#969a97"/>
<rect x="95.25" y="37.8" width="5.57" height="5.51" fill="#979b98"/>
<rect x="99.82" y="37.8" width="5.57" height="5.51" fill="#9a9e9b"/>
<rect x="104.39" y="37.8" width="5.57" height="5.51" fill="#9ea29f"/>
<rect x="108.96" y="37.8" width="5.57" height="5.51" fill="#a1a5a2"/>
<rect x="113.53" y="37.8" width="5.57" height="5.51" fill="#a2a6a3"/>
<rect x="118.1" y="37.8" width="5.57" height="5.51" fill="#a4a8a5"/>
<rect x="122.67" y="37.8" width="5.57" height="5.51" fill="#a2a6a3"/>
<rect x="127.24" y="37.8" width="5.57" height="5.51" fill="#9a9e9b"/>
<rect x="131.81" y="37.8" width="5.57" height="5.51" fill="#a4a8a5"/>
<rect x="136.38" y="37.8" width="5.57" height="5.51" fill="#9fa3a0"/>
<rect x="140.95" y="37.8" width="5.85" height="5.51" fill="#a4a8a5"/>
<rect x="0" y="42.3" width="4.85" height="5.5" fill="#a4a8a5"/>
<rect x="3.85" y="42.3" width="5.57" height="5.5" fill="#a1a5a2"/>
<rect x="8.42" y="42.3" width="5.57" height="5.5" fill="#9ea29f"/>
<rect x="12.99" y="42.3" width="5.57" height="5.5" fill="#9b9f9c"/>
<rect x="17.56" y="42.3" width="5.57" height="5.5" fill="#909491"/>
<rect x="22.13" y="42.3" width="5.57" height="5.5" fill="#909491"/>
<rect x="26.7" y="42.3" width="5.57" height="5.5" fill="#868a87"/>
<rect x="31.27" y="42.3" width="5.57" height="5.5" fill="#747875"/>
<rect x="35.84" y="42.3" width="5.57" height="5.5" fill="#838784"/>
<rect x="40.41" y="42.3" width="5.57" height="5.5" fill="#7c807d"/>
<rect x="44.98" y="42.3" width="5.57" height="5.5" fill="#747875"/>
<rect x="49.55" y="42.3" width="5.57" height="5.5" fill="#5b5f5c"/>
<rect x="54.12" y="42.3" width="5.57" height="5.5" fill="#1a1e1b"/>
<rect x="58.69" y="42.3" width="5.57" height="5.5" fill="#000000"/>
<rect x="63.26" y="42.3" width="5.57" height="5.5" fill="#000000"/>
<rect x="67.83" y="42.3" width="5.57" height="5.5" fill="#1f2320"/>
<rect x="72.4" y="42.3" width="5.57" height="5.5" fill="#606461"/>
<rect x="76.97" y="42.3" width="5.57" height="5.5" fill="#6a6e6b"/>
<rect x="81.54" y="42.3" width="5.57" height="5.5" fill="#7e827f"/>
<rect x="86.11" y="42.3" width="5.57" height="5.5" fill="#979b98"/>
<rect x="90.68" y="42.3" width="5.57" height="5.5" fill="#939794"/>
<rect x="95.25" y="42.3" width="5.57" height="5.5" fill="#9a9e9b"/>
<rect x="99.82" y="42.3" width="5.57" height="5.5" fill="#9ca09d"/>
<rect x="104.39" y="42.3" width="5.57" height="5.5" fill="#9fa3a0"/>
<rect x="108.96" y="42.3" width="5.57" height="5.5" fill="#a2a6a3"/>
<rect x="113.53" y="42.3" width="5.57" height="5.5" fill="#a5a9a6"/>
<rect x="118.1" y="42.3" width="5.57" height="5.5" fill="#9fa3a0"/>
<rect x="122.67" y="42.3" width="5.57" height="5.5" fill="#a2a6a3"/>
<rect x="127.24" y="42.3" width="5.57" height="5.5" fill="#a2a6a3"/>
<rect x="131.81" y="42.3" width="5.57" height="5.5" fill="#9a9e9b"/>
<rect x="136.38" y="42.3" width="5.57" height="5.5" fill="#a4a8a5"/>
<rect x="140.95" y="42.3" width="5.85" height="5.5" fill="#a2a6a3"/>
<rect x="0" y="46.81" width="4.85" height="5.51" fill="#9fa3a0"/>
<rect x="3.85" y="46.81" width="5.57" height="5.51" fill="#9da19e"/>
<rect x="8.42" y="46.81" width="5.57" height="5.51" fill="#9da19e"/>
<rect x="12.99" y="46.81" width="5.57" height="5.51" fill="#979b98"/>
<rect x="17.56" y="46.81" width="5.57" height="5.51" fill="#8e928f"/>
<rect x="22.13" y="46.81" width="5.57" height="5.51" fill="#8d918e"/>
<rect x="26.7" y="46.81" width="5.57" height="5.51" fill="#808481"/>
<rect x="31.27" y="46.81" width="5.57" height="5.51" fill="#838784"/>
<rect x="35.84" y="46.81" width="5.57" height="5.51" fill="#797d7a"/>
<rect x="40.41" y="46.81" width="5.57" height="5.51" fill="#6a6e6b"/>
<rect x="44.98" y="46.81" width="5.57" height="5.51" fill="#686c69"/>
<rect x="49.55" y="46.81" width="5.57" height="5.51" fill="#292d2a"/>
<rect x="54.12" y="46.81" width="5.57" height="5.51" fill="#010502"/>
<rect x="58.69" y="46.81" width="5.57" height="5.51" fill="#000000"/>
<rect x="63.26" y="46.81" width="5.57" height="5.51" fill="#000000"/>
<rect x="67.83" y="46.81" width="5.57" height="5.51" fill="#040805"/>
<rect x="72.4" y="46.81" width="5.57" height="5.51" fill="#606461"/>
<rect x="76.97" y="46.81" width="5.57" height="5.51" fill="#656966"/>
<rect x="81.54" y="46.81" width="5.57" height="5.51" fill="#747875"/>
<rect x="86.11" y="46.81" width="5.57" height="5.51" fill="#8d918e"/>
<rect x="90.68" y="46.81" width="5.57" height="5.51" fill="#949895"/>
<rect x="95.25" y="46.81" width="5.57" height="5.51" fill="#959996"/>
<rect x="99.82" y="46.81" width="5.57" height="5.51" fill="#9a9e9b"/>
<rect x="104.39" y="46.81" width="5.57" height="5.51" fill="#9ea29f"/>
<rect x="108.96" y="46.81" width="5.57" height="5.51" fill="#9fa3a0"/>
<rect x="113.53" y="46.81" width="5.57" height="5.51" fill="#8e928f"/>
<rect x="118.1" y="46.81" width="5.57" height="5.51" fill="#909491"/>
<rect x="122.67" y="46.81" width="5.57" height="5.51" fill="#8b8f8c"/>
<rect x="127.24" y="46.81" width="5.57" height="5.51" fill="#a2a6a3"/>
<rect x="131.81" y="46.81" width="5.57" height="5.51" fill="#9a9e9b"/>
<rect x="136.38" y="46.81" width="5.57" height="5.51" fill="#a4a8a5"/>
<rect x="140.95" y="46.81" width="5.85" height="5.51" fill="#a2a6a3"/>
<rect x="0" y="51.31" width="4.85" height="5.51" fill="#a6aaa7"/>
<rect x="3.85" y="51.31" width="5.57" height="5.51" fill="#9da19e"/>
<rect x="8.42" y="51.31" width="5.57" height="5.51" fill="#9da19e"/>
<rect x="12.99" y="51.31" width="5.57" height="5.51" fill="#979b98"/>
<rect x="17.56" y="51.31" width="5.57" height="5.51" fill="#8a8e8b"/>
<rect x="22.13" y="51.31" width="5.57" height="5.51" fill="#8c908d"/>
<rect x="26.7" y="51.31" width="5.57" height="5.51" fill="#848885"/>
<rect x="31.27" y="51.31" width="5.57" height="5.51" fill="#888c89"/>
<rect x="35.84" y="51.31" width="5.57" height="5.51" fill="#606461"/>
<rect x="40.41" y="51.31" width="5.57" height="5.51" fill="#606461"/>
<rect x="44.98" y="51.31" width="5.57" height="5.51" fill="#515552"/>
<rect x="49.55" y="51.31" width="5.57" height="5.51" fill="#010502"/>
<rect x="54.12" y="51.31" width="5.57" height="5.51" fill="#000000"/>
<rect x="58.69" y="51.31" width="5.57" height="5.51" fill="#000000"/>
<rect x="63.26" y="51.31" width="5.57" height="5.51" fill="#000000"/>
<rect x="67.83" y="51.31" width="5.57" height="5.51" fill="#3d413e"/>
<rect x="72.4" y="51.31" width="5.57" height="5.51" fill="#5b5f5c"/>
<rect x="76.97" y="51.31" width="5.57" height="5.51" fill="#6a6e6b"/>
<rect x="81.54" y="51.31" width="5.57" height="5.51" fill="#6f7370"/>
<rect x="86.11" y="51.31" width="5.57" height="5.51" fill="#888c89"/>
<rect x="90.68" y="51.31" width="5.57" height="5.51" fill="#8e928f"/>
<rect x="95.25" y="51.31" width="5.57" height="5.51" fill="#919592"/>
<rect x="99.82" y="51.31" width="5.57" height="5.51" fill="#919592"/>
<rect x="104.39" y="51.31" width="5.57" height="5.51" fill="#9a9e9b"/>
<rect x="108.96" y="51.31" width="5.57" height="5.51" fill="#909491"/>
<rect x="113.53" y="51.31" width="5.57" height="5.51" fill="#848885"/>
<rect x="118.1" y="51.31" width="5.57" height="5.51" fill="#a2a6a3"/>
<rect x="122.67" y="51.31" width="5.57" height="5.51" fill="#a4a8a5"/>
<rect x="127.24" y="51.31" width="5.57" height="5.51" fill="#a2a6a3"/>
<rect x="131.81" y="51.31" width="5.57" height="5.51" fill="#9ca09d"/>
<rect x="136.38" y="51.31" width="5.57" height="5.51" fill="#a4a8a5"/>
<rect x="140.95" y="51.31" width="5.85" height="5.51" fill="#a2a6a3"/>
<rect x="0" y="55.82" width="4.85" height="5.5" fill="#a2a6a3"/>
<rect x="3.85" y="55.82" width="5.57" height="5.5" fill="#a6aaa7"/>
<rect x="8.42" y="55.82" width="5.57" height="5.5" fill="#999d9a"/>
<rect x="12.99" y="55.82" width="5.57" height="5.5" fill="#939794"/>
<rect x="17.56" y="55.82" width="5.57" height="5.5" fill="#898d8a"/>
<rect x="22.13" y="55.82" width="5.57" height="5.5" fill="#868a87"/>
<rect x="26.7" y="55.82" width="5.57" height="5.5" fill="#7e827f"/>
<rect x="31.27" y="55.82" width="5.57" height="5.5" fill="#7e827f"/>
<rect x="35.84" y="55.82" width="5.57" height="5.5" fill="#6f7370"/>
<rect x="40.41" y="55.82" width="5.57" height="5.5" fill="#333734"/>
<rect x="44.98" y="55.82" width="5.57" height="5.5" fill="#000000"/>
<rect x="49.55" y="55.82" width="5.57" height="5.5" fill="#000000"/>
<rect x="54.12" y="55.82" width="5.57" height="5.5" fill="#000000"/>
<rect x="58.69" y="55.82" width="5.57" height="5.5" fill="#000000"/>
<rect x="63.26" y="55.82" width="5.57" height="5.5" fill="#000000"/>
<rect x="67.83" y="55.82" width="5.57" height="5.5" fill="#151916"/>
<rect x="72.4" y="55.82" width="5.57" height="5.5" fill="#565a57"/>
<rect x="76.97" y="55.82" width="5.57" height="5.5" fill="#656966"/>
<rect x="81.54" y="55.82" width="5.57" height="5.5" fill="#6a6e6b"/>
<rect x="86.11" y="55.82" width="5.57" height="5.5" fill="#7e827f"/>
<rect x="90.68" y="55.82" width="5.57" height="5.5" fill="#838784"/>
<rect x="95.25" y="55.82" width="5.57" height="5.5" fill="#8d918e"/>
<rect x="99.82" y="55.82" width="5.57" height="5.5" fill="#909491"/>
<rect x="104.39" y="55.82" width="5.57" height="5.5" fill="#939794"/>
<rect x="108.96" y="55.82" width="5.57" height="5.5" fill="#999d9a"/>
<rect x="113.53" y="55.82" width="5.57" height="5.5" fill="#959996"/>
<rect x="118.1" y="55.82" width="5.57" height="5.5" fill="#9fa3a0"/>
<rect x="122.67" y="55.82" width="5.57" height="5.5" fill="#9fa3a0"/>
<rect x="127.24" y="55.82" width="5.57" height="5.5" fill="#a2a6a3"/>
<rect x="131.81" y="55.82" width="5.57" height="5.5" fill="#a4a8a5"/>
<rect x="136.38" y="55.82" width="5.57" height="5.5" fill="#a6aaa7"/>
<rect x="140.95" y="55.82" width="5.85" height="5.5" fill="#a2a6a3"/>
<rect x="0" y="60.32" width="4.85" height="5.51" fill="#a4a8a5"/>
<rect x="3.85" y="60.32" width="5.57" height="5.51" fill="#9ca09d"/>
<rect x="8.42" y="60.32" width="5.57" height="5.51" fill="#8a8e8b"/>
<rect x="12.99" y="60.32" width="5.57" height="5.51" fill="#919592"/>
<rect x="17.56" y="60.32" width="5.57" height="5.51" fill="#8e928f"/>
<rect x="22.13" y="60.32" width="5.57" height="5.51" fill="#8b8f8c"/>
<rect x="26.7" y="60.32" width="5.57" height="5.51" fill="#7e827f"/>
<rect x="31.27" y="60.32" width="5.57" height="5.51" fill="#7e827f"/>
<rect x="35.84" y="60.32" width="5.57" height="5.51" fill="#565a57"/>
<rect x="40.41" y="60.32" width="5.57" height="5.51" fill="#060a07"/>
<rect x="44.98" y="60.32" width="5.57" height="5.51" fill="#000000"/>
<rect x="49.55" y="60.32" width="5.57" height="5.51" fill="#515552"/>
<rect x="54.12" y="60.32" width="5.57" height="5.51" fill="#6f7370"/>
<rect x="58.69" y="60.32" width="5.57" height="5.51" fill="#000000"/>
<rect x="63.26" y="60.32" width="5.57" height="5.51" fill="#000000"/>
<rect x="67.83" y="60.32" width="5.57" height="5.51" fill="#000000"/>
<rect x="72.4" y="60.32" width="5.57" height="5.51" fill="#606461"/>
<rect x="76.97" y="60.32" width="5.57" height="5.51" fill="#747875"/>
<rect x="81.54" y="60.32" width="5.57" height="5.51" fill="#6a6e6b"/>
<rect x="86.11" y="60.32" width="5.57" height="5.51" fill="#7e827f"/>
<rect x="90.68" y="60.32" width="5.57" height="5.51" fill="#8d918e"/>
<rect x="95.25" y="60.32" width="5.57" height="5.51" fill="#8d918e"/>
<rect x="99.82" y="60.32" width="5.57" height="5.51" fill="#969a97"/>
<rect x="104.39" y="60.32" width="5.57" height="5.51" fill="#999d9a"/>
<rect x="108.96" y="60.32" width="5.57" height="5.51" fill="#999d9a"/>
<rect x="113.53" y="60.32" width="5.57" height="5.51" fill="#979b98"/>
<rect x="118.1" y="60.32" width="5.57" height="5.51" fill="#9fa3a0"/>
<rect x="122.67" y="60.32" width="5.57" height="5.51" fill="#9fa3a0"/>
<rect x="127.24" y="60.32" width="5.57" height="5.51" fill="#9fa3a0"/>
<rect x="131.81" y="60.32" width="5.57" height="5.51" fill="#9a9e9b"/>
<rect x="136.38" y="60.32" width="5.57" height="5.51" fill="#9a9e9b"/>
<rect x="140.95" y="60.32" width="5.85" height="5.51" fill="#9fa3a0"/>
<rect x="0" y="64.83" width="4.85" height="5.51" fill="#a2a6a3"/>
<rect x="3.85" y="64.83" width="5.57" height="5.51" fill="#9ca09d"/>
<rect x="8.42" y="64.83" width="5.57" height="5.51" fill="#929693"/>
<rect x="12.99" y="64.83" width="5.57" height="5.51" fill="#6e726f"/>
<rect x="17.56" y="64.83" width="5.57" height="5.51" fill="#9da19e"/>
<rect x="22.13" y="64.83" width="5.57" height="5.51" fill="#868a87"/>
<rect x="26.7" y="64.83" width="5.57" height="5.51" fill="#7e827f"/>
<rect x="31.27" y="64.83" width="5.57" height="5.51" fill="#797d7a"/>
<rect x="35.84" y="64.83" width="5.57" height="5.51" fill="#4e524f"/>
<rect x="40.41" y="64.83" width="5.57" height="5.51" fill="#222623"/>
<rect x="44.98" y="64.83" width="5.57" height="5.51" fill="#747875"/>
<rect x="49.55" y="64.83" width="5.57" height="5.51" fill="#797d7a"/>
<rect x="54.12" y="64.83" width="5.57" height="5.51" fill="#797d7a"/>
<rect x="58.69" y="64.83" width="5.57" height="5.51" fill="#000000"/>
<rect x="63.26" y="64.83" width="5.57" height="5.51" fill="#000000"/>
<rect x="67.83" y="64.83" width="5.57" height="5.51" fill="#000000"/>
<rect x="72.4" y="64.83" width="5.57" height="5.51" fill="#292d2a"/>
<rect x="76.97" y="64.83" width="5.57" height="5.51" fill="#656966"/>
<rect x="81.54" y="64.83" width="5.57" height="5.51" fill="#6a6e6b"/>
<rect x="86.11" y="64.83" width="5.57" height="5.51" fill="#747875"/>
<rect x="90.68" y="64.83" width="5.57" height="5.51" fill="#838784"/>
<rect x="95.25" y="64.83" width="5.57" height="5.51" fill="#8b8f8c"/>
<rect x="99.82" y="64.83" width="5.57" height="5.51" fill="#8e928f"/>
<rect x="104.39" y="64.83" width="5.57" height="5.51" fill="#7d817e"/>
<rect x="108.96" y="64.83" width="5.57" height="5.51" fill="#9ca09d"/>
<rect x="113.53" y="64.83" width="5.57" height="5.51" fill="#999d9a"/>
<rect x="118.1" y="64.83" width="5.57" height="5.51" fill="#868a87"/>
<rect x="122.67" y="64.83" width="5.57" height="5.51" fill="#9a9e9b"/>
<rect x="127.24" y="64.83" width="5.57" height="5.51" fill="#a2a6a3"/>
<rect x="131.81" y="64.83" width="5.57" height="5.51" fill="#9fa3a0"/>
<rect x="136.38" y="64.83" width="5.57" height="5.51" fill="#8b8f8c"/>
<rect x="140.95" y="64.83" width="5.85" height="5.51" fill="#909491"/>
<rect x="0" y="69.34" width="4.85" height="5.5" fill="#a2a6a3"/>
<rect x="3.85" y="69.34" width="5.57" height="5.5" fill="#999d9a"/>
<rect x="8.42" y="69.34" width="5.57" height="5.5" fill="#969a97"/>
<rect x="12.99" y="69.34" width="5.57" height="5.5" fill="#939794"/>
<rect x="17.56" y="69.34" width="5.57" height="5.5" fill="#8c908d"/>
<rect x="22.13" y="69.34" width="5.57" height="5.5" fill="#8b8f8c"/>
<rect x="26.7" y="69.34" width="5.57" height="5.5" fill="#767a77"/>
<rect x="31.27" y="69.34" width="5.57" height="5.5" fill="#5e625f"/>
<rect x="35.84" y="69.34" width="5.57" height="5.5" fill="#606461"/>
<rect x="40.41" y="69.34" width="5.57" height="5.5" fill="#2e322f"/>
<rect x="44.98" y="69.34" width="5.57" height="5.5" fill="#2e322f"/>
<rect x="49.55" y="69.34" width="5.57" height="5.5" fill="#747875"/>
<rect x="54.12" y="69.34" width="5.57" height="5.5" fill="#6f7370"/>
<rect x="58.69" y="69.34" width="5.57" height="5.5" fill="#000000"/>
<rect x="63.26" y="69.34" width="5.57" height="5.5" fill="#000000"/>
<rect x="67.83" y="69.34" width="5.57" height="5.5" fill="#000000"/>
<rect x="72.4" y="69.34" width="5.57" height="5.5" fill="#1a1e1b"/>
<rect x="76.97" y="69.34" width="5.57" height="5.5" fill="#515552"/>
<rect x="81.54" y="69.34" width="5.57" height="5.5" fill="#6a6e6b"/>
<rect x="86.11" y="69.34" width="5.57" height="5.5" fill="#7e827f"/>
<rect x="90.68" y="69.34" width="5.57" height="5.5" fill="#808481"/>
<rect x="95.25" y="69.34" width="5.57" height="5.5" fill="#8d918e"/>
<rect x="99.82" y="69.34" width="5.57" height="5.5" fill="#939794"/>
<rect x="104.39" y="69.34" width="5.57" height="5.5" fill="#9b9f9c"/>
<rect x="108.96" y="69.34" width="5.57" height="5.5" fill="#999d9a"/>
<rect x="113.53" y="69.34" width="5.57" height="5.5" fill="#9fa3a0"/>
<rect x="118.1" y="69.34" width="5.57" height="5.5" fill="#9ca09d"/>
<rect x="122.67" y="69.34" width="5.57" height="5.5" fill="#9fa3a0"/>
<rect x="127.24" y="69.34" width="5.57" height="5.5" fill="#a2a6a3"/>
<rect x="131.81" y="69.34" width="5.57" height="5.5" fill="#a9adaa"/>
<rect x="136.38" y="69.34" width="5.57" height="5.5" fill="#9fa3a0"/>
<rect x="140.95" y="69.34" width="5.85" height="5.5" fill="#9fa3a0"/>
<rect x="0" y="73.84" width="4.85" height="5.5" fill="#a4a8a5"/>
<rect x="3.85" y="73.84" width="5.57" height="5.5" fill="#a2a6a3"/>
<rect x="8.42" y="73.84" width="5.57" height="5.5" fill="#9fa3a0"/>
<rect x="12.99" y="73.84" width="5.57" height="5.5" fill="#8d918e"/>
<rect x="17.56" y="73.84" width="5.57" height="5.5" fill="#838784"/>
<rect x="22.13" y="73.84" width="5.57" height="5.5" fill="#8c908d"/>
<rect x="26.7" y="73.84" width="5.57" height="5.5" fill="#757976"/>
<rect x="31.27" y="73.84" width="5.57" height="5.5" fill="#5e625f"/>
<rect x="35.84" y="73.84" width="5.57" height="5.5" fill="#565a57"/>
<rect x="40.41" y="73.84" width="5.57" height="5.5" fill="#565a57"/>
<rect x="44.98" y="73.84" width="5.57" height="5.5" fill="#2e322f"/>
<rect x="49.55" y="73.84" width="5.57" height="5.5" fill="#2e322f"/>
<rect x="54.12" y="73.84" width="5.57" height="5.5" fill="#474b48"/>
<rect x="58.69" y="73.84" width="5.57" height="5.5" fill="#000000"/>
<rect x="63.26" y="73.84" width="5.57" height="5.5" fill="#000000"/>
<rect x="67.83" y="73.84" width="5.57" height="5.5" fill="#000000"/>
<rect x="72.4" y="73.84" width="5.57" height="5.5" fill="#383c39"/>
<rect x="76.97" y="73.84" width="5.57" height="5.5" fill="#565a57"/>
<rect x="81.54" y="73.84" width="5.57" height="5.5" fill="#656966"/>
<rect x="86.11" y="73.84" width="5.57" height="5.5" fill="#797d7a"/>
<rect x="90.68" y="73.84" width="5.57" height="5.5" fill="#848885"/>
<rect x="95.25" y="73.84" width="5.57" height="5.5" fill="#919592"/>
<rect x="99.82" y="73.84" width="5.57" height="5.5" fill="#979b98"/>
<rect x="104.39" y="73.84" width="5.57" height="5.5" fill="#9a9e9b"/>
<rect x="108.96" y="73.84" width="5.57" height="5.5" fill="#979b98"/>
<rect x="113.53" y="73.84" width="5.57" height="5.5" fill="#a0a4a1"/>
<rect x="118.1" y="73.84" width="5.57" height="5.5" fill="#a2a6a3"/>
<rect x="122.67" y="73.84" width="5.57" height="5.5" fill="#a2a6a3"/>
<rect x="127.24" y="73.84" width="5.57" height="5.5" fill="#9fa3a0"/>
<rect x="131.81" y="73.84" width="5.57" height="5.5" fill="#9a9e9b"/>
<rect x="136.38" y="73.84" width="5.57" height="5.5" fill="#9ca09d"/>
<rect x="140.95" y="73.84" width="5.85" height="5.5" fill="#9fa3a0"/>
<rect x="0" y="78.34" width="4.85" height="5.51" fill="#a2a6a3"/>
<rect x="3.85" y="78.34" width="5.57" height="5.51" fill="#989c99"/>
<rect x="8.42" y="78.34" width="5.57" height="5.51" fill="#979b98"/>
<rect x="12.99" y="78.34" width="5.57" height="5.51" fill="#909491"/>
<rect x="17.56" y="78.34" width="5.57" height="5.51" fill="#868a87"/>
<rect x="22.13" y="78.34" width="5.57" height="5.51" fill="#8b8f8c"/>
<rect x="26.7" y="78.34" width="5.57" height="5.51" fill="#858986"/>
<rect x="31.27" y="78.34" width="5.57" height="5.51" fill="#7e827f"/>
<rect x="35.84" y="78.34" width="5.57" height="5.51" fill="#606461"/>
<rect x="40.41" y="78.34" width="5.57" height="5.51" fill="#515552"/>
<rect x="44.98" y="78.34" width="5.57" height="5.51" fill="#606461"/>
<rect x="49.55" y="78.34" width="5.57" height="5.51" fill="#101411"/>
<rect x="54.12" y="78.34" width="5.57" height="5.51" fill="#000000"/>
<rect x="58.69" y="78.34" width="5.57" height="5.51" fill="#000000"/>
<rect x="63.26" y="78.34" width="5.57" height="5.51" fill="#000000"/>
<rect x="67.83" y="78.34" width="5.57" height="5.51" fill="#1a1e1b"/>
<rect x="72.4" y="78.34" width="5.57" height="5.51" fill="#606461"/>
<rect x="76.97" y="78.34" width="5.57" height="5.51" fill="#6f7370"/>
<rect x="81.54" y="78.34" width="5.57" height="5.51" fill="#727673"/>
<rect x="86.11" y="78.34" width="5.57" height="5.51" fill="#7c807d"/>
<rect x="90.68" y="78.34" width="5.57" height="5.51" fill="#8a8e8b"/>
<rect x="95.25" y="78.34" width="5.57" height="5.51" fill="#8f9390"/>
<rect x="99.82" y="78.34" width="5.57" height="5.51" fill="#909491"/>
<rect x="104.39" y="78.34" width="5.57" height="5.51" fill="#8d918e"/>
<rect x="108.96" y="78.34" width="5.57" height="5.51" fill="#979b98"/>
<rect x="113.53" y="78.34" width="5.57" height="5.51" fill="#969a97"/>
<rect x="118.1" y="78.34" width="5.57" height="5.51" fill="#9fa3a0"/>
<rect x="122.67" y="78.34" width="5.57" height="5.51" fill="#9ca09d"/>
<rect x="127.24" y="78.34" width="5.57" height="5.51" fill="#9fa3a0"/>
<rect x="131.81" y="78.34" width="5.57" height="5.51" fill="#9fa3a0"/>
<rect x="136.38" y="78.34" width="5.57" height="5.51" fill="#9ca09d"/>
<rect x="140.95" y="78.34" width="5.85" height="5.51" fill="#9fa3a0"/>
<rect x="0" y="82.85" width="4.85" height="5.5" fill="#9fa3a0"/>
<rect x="3.85" y="82.85" width="5.57" height="5.5" fill="#a1a5a2"/>
<rect x="8.42" y="82.85" width="5.57" height="5.5" fill="#9ea29f"/>
<rect x="12.99" y="82.85" width="5.57" height="5.5" fill="#989c99"/>
<rect x="17.56" y="82.85" width="5.57" height="5.5" fill="#909491"/>
<rect x="22.13" y="82.85" width="5.57" height="5.5" fill="#8e928f"/>
<rect x="26.7" y="82.85" width="5.57" height="5.5" fill="#898d8a"/>
<rect x="31.27" y="82.85" width="5.57" height="5.5" fill="#808481"/>
<rect x="35.84" y="82.85" width="5.57" height="5.5" fill="#6a6e6b"/>
<rect x="40.41" y="82.85" width="5.57" height="5.5" fill="#656966"/>
<rect x="44.98" y="82.85" width="5.57" height="5.5" fill="#5e625f"/>
<rect x="49.55" y="82.85" width="5.57" height="5.5" fill="#585c59"/>
<rect x="54.12" y="82.85" width="5.57" height="5.5" fill="#474b48"/>
<rect x="58.69" y="82.85" width="5.57" height="5.5" fill="#060a07"/>
<rect x="63.26" y="82.85" width="5.57" height="5.5" fill="#424643"/>
<rect x="67.83" y="82.85" width="5.57" height="5.5" fill="#5b5f5c"/>
<rect x="72.4" y="82.85" width="5.57" height="5.5" fill="#6a6e6b"/>
<rect x="76.97" y="82.85" width="5.57" height="5.5" fill="#7e827f"/>
<rect x="81.54" y="82.85" width="5.57" height="5.5" fill="#838784"/>
<rect x="86.11" y="82.85" width="5.57" height="5.5" fill="#808481"/>
<rect x="90.68" y="82.85" width="5.57" height="5.5" fill="#8d918e"/>
<rect x="95.25" y="82.85" width="5.57" height="5.5" fill="#939794"/>
<rect x="99.82" y="82.85" width="5.57" height="5.5" fill="#959996"/>
<rect x="104.39" y="82.85" width="5.57" height="5.5" fill="#9da19e"/>
<rect x="108.96" y="82.85" width="5.57" height="5.5" fill="#989c99"/>
<rect x="113.53" y="82.85" width="5.57" height="5.5" fill="#9b9f9c"/>
<rect x="118.1" y="82.85" width="5.57" height="5.5" fill="#9fa3a0"/>
<rect x="122.67" y="82.85" width="5.57" height="5.5" fill="#9ca09d"/>
<rect x="127.24" y="82.85" width="5.57" height="5.5" fill="#9ca09d"/>
<rect x="131.81" y="82.85" width="5.57" height="5.5" fill="#9fa3a0"/>
<rect x="136.38" y="82.85" width="5.57" height="5.5" fill="#9a9e9b"/>
<rect x="140.95" y="82.85" width="5.85" height="5.5" fill="#9fa3a0"/>
<rect x="0" y="87.36" width="4.85" height="5.5" fill="#9fa3a0"/>
<rect x="3.85" y="87.36" width="5.57" height="5.5" fill="#989c99"/>
<rect x="8.42" y="87.36" width="5.57" height="5.5" fill="#a6aaa7"/>
<rect x="12.99" y="87.36" width="5.57" height="5.5" fill="#999d9a"/>
<rect x="17.56" y="87.36" width="5.57" height="5.5" fill="#979b98"/>
<rect x="22.13" y="87.36" width="5.57" height="5.5" fill="#8f9390"/>
<rect x="26.7" y="87.36" width="5.57" height="5.5" fill="#878b88"/>
<rect x="31.27" y="87.36" width="5.57" height="5.5" fill="#858986"/>
<rect x="35.84" y="87.36" width="5.57" height="5.5" fill="#7e827f"/>
<rect x="40.41" y="87.36" width="5.57" height="5.5" fill="#747875"/>
<rect x="44.98" y="87.36" width="5.57" height="5.5" fill="#747875"/>
<rect x="49.55" y="87.36" width="5.57" height="5.5" fill="#6a6e6b"/>
<rect x="54.12" y="87.36" width="5.57" height="5.5" fill="#6f7370"/>
<rect x="58.69" y="87.36" width="5.57" height="5.5" fill="#747875"/>
<rect x="63.26" y="87.36" width="5.57" height="5.5" fill="#747875"/>
<rect x="67.83" y="87.36" width="5.57" height="5.5" fill="#797d7a"/>
<rect x="72.4" y="87.36" width="5.57" height="5.5" fill="#6a6e6b"/>
<rect x="76.97" y="87.36" width="5.57" height="5.5" fill="#7e827f"/>
<rect x="81.54" y="87.36" width="5.57" height="5.5" fill="#868a87"/>
<rect x="86.11" y="87.36" width="5.57" height="5.5" fill="#8a8e8b"/>
<rect x="90.68" y="87.36" width="5.57" height="5.5" fill="#8e928f"/>
<rect x="95.25" y="87.36" width="5.57" height="5.5" fill="#858986"/>
<rect x="99.82" y="87.36" width="5.57" height="5.5" fill="#8d918e"/>
<rect x="104.39" y="87.36" width="5.57" height="5.5" fill="#9ca09d"/>
<rect x="108.96" y="87.36" width="5.57" height="5.5" fill="#999d9a"/>
<rect x="113.53" y="87.36" width="5.57" height="5.5" fill="#9ca09d"/>
<rect x="118.1" y="87.36" width="5.57" height="5.5" fill="#9ca09d"/>
<rect x="122.67" y="87.36" width="5.57" height="5.5" fill="#959996"/>
<rect x="127.24" y="87.36" width="5.57" height="5.5" fill="#959996"/>
<rect x="131.81" y="87.36" width="5.57" height="5.5" fill="#9ca09d"/>
<rect x="136.38" y="87.36" width="5.57" height="5.5" fill="#9ca09d"/>
<rect x="140.95" y="87.36" width="5.85" height="5.5" fill="#9fa3a0"/>
<rect x="0" y="91.86" width="4.85" height="5.51" fill="#a0a4a1"/>
<rect x="3.85" y="91.86" width="5.57" height="5.51" fill="#9fa3a0"/>
<rect x="8.42" y="91.86" width="5.57" height="5.51" fill="#898d8a"/>
<rect x="12.99" y="91.86" width="5.57" height="5.51" fill="#9b9f9c"/>
<rect x="17.56" y="91.86" width="5.57" height="5.51" fill="#9da19e"/>
<rect x="22.13" y="91.86" width="5.57" height="5.51" fill="#939794"/>
<rect x="26.7" y="91.86" width="5.57" height="5.51" fill="#919592"/>
<rect x="31.27" y="91.86" width="5.57" height="5.51" fill="#909491"/>
<rect x="35.84" y="91.86" width="5.57" height="5.51" fill="#8a8e8b"/>
<rect x="40.41" y="91.86" width="5.57" height="5.51" fill="#888c89"/>
<rect x="44.98" y="91.86" width="5.57" height="5.51" fill="#7c807d"/>
<rect x="49.55" y="91.86" width="5.57" height="5.51" fill="#797d7a"/>
<rect x="54.12" y="91.86" width="5.57" height="5.51" fill="#6c706d"/>
<rect x="58.69" y="91.86" width="5.57" height="5.51" fill="#747875"/>
<rect x="63.26" y="91.86" width="5.57" height="5.51" fill="#767a77"/>
<rect x="67.83" y="91.86" width="5.57" height="5.51" fill="#767a77"/>
<rect x="72.4" y="91.86" width="5.57" height="5.51" fill="#747875"/>
<rect x="76.97" y="91.86" width="5.57" height="5.51" fill="#8d918e"/>
<rect x="81.54" y="91.86" width="5.57" height="5.51" fill="#8c908d"/>
<rect x="86.11" y="91.86" width="5.57" height="5.51" fill="#919592"/>
<rect x="90.68" y="91.86" width="5.57" height="5.51" fill="#919592"/>
<rect x="95.25" y="91.86" width="5.57" height="5.51" fill="#8e928f"/>
<rect x="99.82" y="91.86" width="5.57" height="5.51" fill="#919592"/>
<rect x="104.39" y="91.86" width="5.57" height="5.51" fill="#9a9e9b"/>
<rect x="108.96" y="91.86" width="5.57" height="5.51" fill="#a0a4a1"/>
<rect x="113.53" y="91.86" width="5.57" height="5.51" fill="#acb0ad"/>
<rect x="118.1" y="91.86" width="5.57" height="5.51" fill="#9a9e9b"/>
<rect x="122.67" y="91.86" width="5.57" height="5.51" fill="#a2a6a3"/>
<rect x="127.24" y="91.86" width="5.57" height="5.51" fill="#a2a6a3"/>
<rect x="131.81" y="91.86" width="5.57" height="5.51" fill="#a4a8a5"/>
<rect x="136.38" y="91.86" width="5.57" height="5.51" fill="#a2a6a3"/>
<rect x="140.95" y="91.86" width="5.85" height="5.51" fill="#909491"/>
<rect x="0" y="96.37" width="4.85" height="5.5" fill="#9ca09d"/>
<rect x="3.85" y="96.37" width="5.57" height="5.5" fill="#909491"/>
<rect x="8.42" y="96.37" width="5.57" height="5.5" fill="#a8aca9"/>
<rect x="12.99" y="96.37" width="5.57" height="5.5" fill="#a6aaa7"/>
<rect x="17.56" y="96.37" width="5.57" height="5.5" fill="#9ca09d"/>
<rect x="22.13" y="96.37" width="5.57" height="5.5" fill="#9a9e9b"/>
<rect x="26.7" y="96.37" width="5.57" height="5.5" fill="#959996"/>
<rect x="31.27" y="96.37" width="5.57" height="5.5" fill="#939794"/>
<rect x="35.84" y="96.37" width="5.57" height="5.5" fill="#878b88"/>
<rect x="40.41" y="96.37" width="5.57" height="5.5" fill="#888c89"/>
<rect x="44.98" y="96.37" width="5.57" height="5.5" fill="#7f8380"/>
<rect x="49.55" y="96.37" width="5.57" height="5.5" fill="#7e827f"/>
<rect x="54.12" y="96.37" width="5.57" height="5.5" fill="#8d918e"/>
<rect x="58.69" y="96.37" width="5.57" height="5.5" fill="#747875"/>
<rect x="63.26" y="96.37" width="5.57" height="5.5" fill="#747875"/>
<rect x="67.83" y="96.37" width="5.57" height="5.5" fill="#6f7370"/>
<rect x="72.4" y="96.37" width="5.57" height="5.5" fill="#757976"/>
<rect x="76.97" y="96.37" width="5.57" height="5.5" fill="#8f9390"/>
<rect x="81.54" y="96.37" width="5.57" height="5.5" fill="#989c99"/>
<rect x="86.11" y="96.37" width="5.57" height="5.5" fill="#989c99"/>
<rect x="90.68" y="96.37" width="5.57" height="5.5" fill="#959996"/>
<rect x="95.25" y="96.37" width="5.57" height="5.5" fill="#949895"/>
<rect x="99.82" y="96.37" width="5.57" height="5.5" fill="#9ea29f"/>
<rect x="104.39" y="96.37" width="5.57" height="5.5" fill="#999d9a"/>
<rect x="108.96" y="96.37" width="5.57" height="5.5" fill="#9b9f9c"/>
<rect x="113.53" y="96.37" width="5.57" height="5.5" fill="#8b8f8c"/>
<rect x="118.1" y="96.37" width="5.57" height="5.5" fill="#909491"/>
<rect x="122.67" y="96.37" width="5.57" height="5.5" fill="#a2a6a3"/>
<rect x="127.24" y="96.37" width="5.57" height="5.5" fill="#9fa3a0"/>
<rect x="131.81" y="96.37" width="5.57" height="5.5" fill="#9a9e9b"/>
<rect x="136.38" y="96.37" width="5.57" height="5.5" fill="#9ca09d"/>
<rect x="140.95" y="96.37" width="5.85" height="5.5" fill="#9fa3a0"/>
<rect x="0" y="100.87" width="4.85" height="5.5" fill="#a2a6a3"/>
<rect x="3.85" y="100.87" width="5.57" height="5.5" fill="#9fa3a0"/>
<rect x="8.42" y="100.87" width="5.57" height="5.5" fill="#9fa3a0"/>
<rect x="12.99" y="100.87" width="5.57" height="5.5" fill="#a4a8a5"/>
<rect x="17.56" y="100.87" width="5.57" height="5.5" fill="#9ea29f"/>
<rect x="22.13" y="100.87" width="5.57" height="5.5" fill="#9ca09d"/>
<rect x="26.7" y="100.87" width="5.57" height="5.5" fill="#9a9e9b"/>
<rect x="31.27" y="100.87" width="5.57" height="5.5" fill="#929693"/>
<rect x="35.84" y="100.87" width="5.57" height="5.5" fill="#8e928f"/>
<rect x="40.41" y="100.87" width="5.57" height="5.5" fill="#878b88"/>
<rect x="44.98" y="100.87" width="5.57" height="5.5" fill="#868a87"/>
<rect x="49.55" y="100.87" width="5.57" height="5.5" fill="#767a77"/>
<rect x="54.12" y="100.87" width="5.57" height="5.5" fill="#7f8380"/>
<rect x="58.69" y="100.87" width="5.57" height="5.5" fill="#7a7e7b"/>
<rect x="63.26" y="100.87" width="5.57" height="5.5" fill="#757976"/>
<rect x="67.83" y="100.87" width="5.57" height="5.5" fill="#626663"/>
<rect x="72.4" y="100.87" width="5.57" height="5.5" fill="#868a87"/>
<rect x="76.97" y="100.87" width="5.57" height="5.5" fill="#919592"/>
<rect x="81.54" y="100.87" width="5.57" height="5.5" fill="#939794"/>
<rect x="86.11" y="100.87" width="5.57" height="5.5" fill="#959996"/>
<rect x="90.68" y="100.87" width="5.57" height="5.5" fill="#979b98"/>
<rect x="95.25" y="100.87" width="5.57" height="5.5" fill="#969a97"/>
<rect x="99.82" y="100.87" width="5.57" height="5.5" fill="#7d817e"/>
<rect x="104.39" y="100.87" width="5.57" height="5.5" fill="#8e928f"/>
<rect x="108.96" y="100.87" width="5.57" height="5.5" fill="#a2a6a3"/>
<rect x="113.53" y="100.87" width="5.57" height="5.5" fill="#a2a6a3"/>
<rect x="118.1" y="100.87" width="5.57" height="5.5" fill="#a2a6a3"/>
<rect x="122.67" y="100.87" width="5.57" height="5.5" fill="#a2a6a3"/>
<rect x="127.24" y="100.87" width="5.57" height="5.5" fill="#9fa3a0"/>
<rect x="131.81" y="100.87" width="5.57" height="5.5" fill="#9fa3a0"/>
<rect x="136.38" y="100.87" width="5.57" height="5.5" fill="#989c99"/>
<rect x="140.95" y="100.87" width="5.85" height="5.5" fill="#9fa3a0"/>
<rect x="0" y="105.38" width="4.85" height="5.51" fill="#9fa3a0"/>
<rect x="3.85" y="105.38" width="5.57" height="5.51" fill="#9fa3a0"/>
<rect x="8.42" y="105.38" width="5.57" height="5.51" fill="#a4a8a5"/>
<rect x="12.99" y="105.38" width="5.57" height="5.51" fill="#9fa3a0"/>
<rect x="17.56" y="105.38" width="5.57" height="5.51" fill="#9a9e9b"/>
<rect x="22.13" y="105.38" width="5.57" height="5.51" fill="#9da19e"/>
<rect x="26.7" y="105.38" width="5.57" height="5.51" fill="#a2a6a3"/>
<rect x="31.27" y="105.38" width="5.57" height="5.51" fill="#949895"/>
<rect x="35.84" y="105.38" width="5.57" height="5.51" fill="#909491"/>
<rect x="40.41" y="105.38" width="5.57" height="5.51" fill="#8d918e"/>
<rect x="44.98" y="105.38" width="5.57" height="5.51" fill="#888c89"/>
<rect x="49.55" y="105.38" width="5.57" height="5.51" fill="#808481"/>
<rect x="54.12" y="105.38" width="5.57" height="5.51" fill="#878b88"/>
<rect x="58.69" y="105.38" width="5.57" height="5.51" fill="#8c908d"/>
<rect x="63.26" y="105.38" width="5.57" height="5.51" fill="#646865"/>
<rect x="67.83" y="105.38" width="5.57" height="5.51" fill="#828683"/>
<rect x="72.4" y="105.38" width="5.57" height="5.51" fill="#8d918e"/>
<rect x="76.97" y="105.38" width="5.57" height="5.51" fill="#919592"/>
<rect x="81.54" y="105.38" width="5.57" height="5.51" fill="#959996"/>
<rect x="86.11" y="105.38" width="5.57" height="5.51" fill="#979b98"/>
<rect x="90.68" y="105.38" width="5.57" height="5.51" fill="#9b9f9c"/>
<rect x="95.25" y="105.38" width="5.57" height="5.51" fill="#9a9e9b"/>
<rect x="99.82" y="105.38" width="5.57" height="5.51" fill="#8e928f"/>
<rect x="104.39" y="105.38" width="5.57" height="5.51" fill="#989c99"/>
<rect x="108.96" y="105.38" width="5.57" height="5.51" fill="#9a9e9b"/>
<rect x="113.53" y="105.38" width="5.57" height="5.51" fill="#9fa3a0"/>
<rect x="118.1" y="105.38" width="5.57" height="5.51" fill="#9a9e9b"/>
<rect x="122.67" y="105.38" width="5.57" height="5.51" fill="#9fa3a0"/>
<rect x="127.24" y="105.38" width="5.57" height="5.51" fill="#a6aaa7"/>
<rect x="131.81" y="105.38" width="5.57" height="5.51" fill="#9fa3a0"/>
<rect x="136.38" y="105.38" width="5.57" height="5.51" fill="#9ca09d"/>
<rect x="140.95" y="105.38" width="5.85" height="5.51" fill="#a2a6a3"/>
<rect x="0" y="109.88" width="4.85" height="5.5" fill="#a6aaa7"/>
<rect x="3.85" y="109.88" width="5.57" height="5.5" fill="#9a9e9b"/>
<rect x="8.42" y="109.88" width="5.57" height="5.5" fill="#9fa3a0"/>
<rect x="12.99" y="109.88" width="5.57" height="5.5" fill="#989c99"/>
<rect x="17.56" y="109.88" width="5.57" height="5.5" fill="#9b9f9c"/>
<rect x="22.13" y="109.88" width="5.57" height="5.5" fill="#a1a5a2"/>
<rect x="26.7" y="109.88" width="5.57" height="5.5" fill="#9ea29f"/>
<rect x="31.27" y="109.88" width="5.57" height="5.5" fill="#8a8e8b"/>
<rect x="35.84" y="109.88" width="5.57" height="5.5" fill="#979b98"/>
<rect x="40.41" y="109.88" width="5.57" height="5.5" fill="#878b88"/>
<rect x="44.98" y="109.88" width="5.57" height="5.5" fill="#8b8f8c"/>
<rect x="49.55" y="109.88" width="5.57" height="5.5" fill="#858986"/>
<rect x="54.12" y="109.88" width="5.57" height="5.5" fill="#8f9390"/>
<rect x="58.69" y="109.88" width="5.57" height="5.5" fill="#8e928f"/>
<rect x="63.26" y="109.88" width="5.57" height="5.5" fill="#858986"/>
<rect x="67.83" y="109.88" width="5.57" height="5.5" fill="#a3a7a4"/>
<rect x="72.4" y="109.88" width="5.57" height="5.5" fill="#a4a8a5"/>
<rect x="76.97" y="109.88" width="5.57" height="5.5" fill="#999d9a"/>
<rect x="81.54" y="109.88" width="5.57" height="5.5" fill="#909491"/>
<rect x="86.11" y="109.88" width="5.57" height="5.5" fill="#9ea29f"/>
<rect x="90.68" y="109.88" width="5.57" height="5.5" fill="#a0a4a1"/>
<rect x="95.25" y="109.88" width="5.57" height="5.5" fill="#959996"/>
<rect x="99.82" y="109.88" width="5.57" height="5.5" fill="#a1a5a2"/>
<rect x="104.39" y="109.88" width="5.57" height="5.5" fill="#9a9e9b"/>
<rect x="108.96" y="109.88" width="5.57" height="5.5" fill="#909491"/>
<rect x="113.53" y="109.88" width="5.57" height="5.5" fill="#989c99"/>
<rect x="118.1" y="109.88" width="5.57" height="5.5" fill="#9a9e9b"/>
<rect x="122.67" y="109.88" width="5.57" height="5.5" fill="#9fa3a0"/>
<rect x="127.24" y="109.88" width="5.57" height="5.5" fill="#a6aaa7"/>
<rect x="131.81" y="109.88" width="5.57" height="5.5" fill="#9a9e9b"/>
<rect x="136.38" y="109.88" width="5.57" height="5.5" fill="#868a87"/>
<rect x="140.95" y="109.88" width="5.85" height="5.5" fill="#9fa3a0"/>
<rect x="0" y="114.39" width="4.85" height="5.5" fill="#9a9e9b"/>
<rect x="3.85" y="114.39" width="5.57" height="5.5" fill="#9fa3a0"/>
<rect x="8.42" y="114.39" width="5.57" height="5.5" fill="#9fa3a0"/>
<rect x="12.99" y="114.39" width="5.57" height="5.5" fill="#9fa3a0"/>
<rect x="17.56" y="114.39" width="5.57" height="5.5" fill="#9fa3a0"/>
<rect x="22.13" y="114.39" width="5.57" height="5.5" fill="#a1a5a2"/>
<rect x="26.7" y="114.39" width="5.57" height="5.5" fill="#a2a6a3"/>
<rect x="31.27" y="114.39" width="5.57" height="5.5" fill="#9ea29f"/>
<rect x="35.84" y="114.39" width="5.57" height="5.5" fill="#9fa3a0"/>
<rect x="40.41" y="114.39" width="5.57" height="5.5" fill="#9b9f9c"/>
<rect x="44.98" y="114.39" width="5.57" height="5.5" fill="#949895"/>
<rect x="49.55" y="114.39" width="5.57" height="5.5" fill="#929693"/>
<rect x="54.12" y="114.39" width="5.57" height="5.5" fill="#8f9390"/>
<rect x="58.69" y="114.39" width="5.57" height="5.5" fill="#969a97"/>
<rect x="63.26" y="114.39" width="5.57" height="5.5" fill="#878b88"/>
<rect x="67.83" y="114.39" width="5.57" height="5.5" fill="#a1a5a2"/>
<rect x="72.4" y="114.39" width="5.57" height="5.5" fill="#000000"/>
<rect x="76.97" y="114.39" width="5.57" height="5.5" fill="#848885"/>
<rect x="81.54" y="114.39" width="5.57" height="5.5" fill="#9da19e"/>
<rect x="86.11" y="114.39" width="5.57" height="5.5" fill="#a0a4a1"/>
<rect x="90.68" y="114.39" width="5.57" height="5.5" fill="#989c99"/>
<rect x="95.25" y="114.39" width="5.57" height="5.5" fill="#9b9f9c"/>
<rect x="99.82" y="114.39" width="5.57" height="5.5" fill="#7c807d"/>
<rect x="104.39" y="114.39" width="5.57" height="5.5" fill="#909491"/>
<rect x="108.96" y="114.39" width="5.57" height="5.5" fill="#9fa3a0"/>
<rect x="113.53" y="114.39" width="5.57" height="5.5" fill="#9fa3a0"/>
<rect x="118.1" y="114.39" width="5.57" height="5.5" fill="#9fa3a0"/>
<rect x="122.67" y="114.39" width="5.57" height="5.5" fill="#9fa3a0"/>
<rect x="127.24" y="114.39" width="5.57" height="5.5" fill="#a2a6a3"/>
<rect x="131.81" y="114.39" width="5.57" height="5.5" fill="#989c99"/>
<rect x="136.38" y="114.39" width="5.57" height="5.5" fill="#acb0ad"/>
<rect x="140.95" y="114.39" width="5.85" height="5.5" fill="#9a9e9b"/>
<rect x="0" y="118.89" width="4.85" height="5.5" fill="#9fa3a0"/>
<rect x="3.85" y="118.89" width="5.57" height="5.5" fill="#a6aaa7"/>
<rect x="8.42" y="118.89" width="5.57" height="5.5" fill="#a6aaa7"/>
<rect x="12.99" y="118.89" width="5.57" height="5.5" fill="#9fa3a0"/>
<rect x="17.56" y="118.89" width="5.57" height="5.5" fill="#a2a6a3"/>
<rect x="22.13" y="118.89" width="5.57" height="5.5" fill="#909491"/>
<rect x="26.7" y="118.89" width="5.57" height="5.5" fill="#a2a6a3"/>
<rect x="31.27" y="118.89" width="5.57" height="5.5" fill="#a0a4a1"/>
<rect x="35.84" y="118.89" width="5.57" height="5.5" fill="#9fa3a0"/>
<rect x="40.41" y="118.89" width="5.57" height="5.5" fill="#9b9f9c"/>
<rect x="44.98" y="118.89" width="5.57" height="5.5" fill="#9da19e"/>
<rect x="49.55" y="118.89" width="5.57" height="5.5" fill="#949895"/>
<rect x="54.12" y="118.89" width="5.57" height="5.5" fill="#949895"/>
<rect x="58.69" y="118.89" width="5.57" height="5.5" fill="#858986"/>
<rect x="63.26" y="118.89" width="5.57" height="5.5" fill="#8a8e8b"/>
<rect x="67.83" y="118.89" width="5.57" height="5.5" fill="#8f9390"/>
<rect x="72.4" y="118.89" width="5.57" height="5.5" fill="#9a9e9b"/>
<rect x="76.97" y="118.89" width="5.57" height="5.5" fill="#9ea29f"/>
<rect x="81.54" y="118.89" width="5.57" height="5.5" fill="#9fa3a0"/>
<rect x="86.11" y="118.89" width="5.57" height="5.5" fill="#a4a8a5"/>
<rect x="90.68" y="118.89" width="5.57" height="5.5" fill="#9ea29f"/>
<rect x="95.25" y="118.89" width="5.57" height="5.5" fill="#9ca09d"/>
<rect x="99.82" y="118.89" width="5.57" height="5.5" fill="#868a87"/>
<rect x="104.39" y="118.89" width="5.57" height="5.5" fill="#989c99"/>
<rect x="108.96" y="118.89" width="5.57" height="5.5" fill="#9a9e9b"/>
<rect x="113.53" y="118.89" width="5.57" height="5.5" fill="#9fa3a0"/>
<rect x="118.1" y="118.89" width="5.57" height="5.5" fill="#9ca09d"/>
<rect x="122.67" y="118.89" width="5.57" height="5.5" fill="#a4a8a5"/>
<rect x="127.24" y="118.89" width="5.57" height="5.5" fill="#959996"/>
<rect x="131.81" y="118.89" width="5.57" height="5.5" fill="#9fa3a0"/>
<rect x="136.38" y="118.89" width="5.57" height="5.5" fill="#a9adaa"/>
<rect x="140.95" y="118.89" width="5.85" height="5.5" fill="#9a9e9b"/>
<rect x="0" y="123.39" width="4.85" height="5.51" fill="#9fa3a0"/>
<rect x="3.85" y="123.39" width="5.57" height="5.51" fill="#a6aaa7"/>
<rect x="8.42" y="123.39" width="5.57" height="5.51" fill="#a6aaa7"/>
<rect x="12.99" y="123.39" width="5.57" height="5.51" fill="#a4a8a5"/>
<rect x="17.56" y="123.39" width="5.57" height="5.51" fill="#9fa3a0"/>
<rect x="22.13" y="123.39" width="5.57" height="5.51" fill="#9fa3a0"/>
<rect x="26.7" y="123.39" width="5.57" height="5.51" fill="#909491"/>
<rect x="31.27" y="123.39" width="5.57" height="5.51" fill="#a2a6a3"/>
<rect x="35.84" y="123.39" width="5.57" height="5.51" fill="#a1a5a2"/>
<rect x="40.41" y="123.39" width="5.57" height="5.51" fill="#a4a8a5"/>
<rect x="44.98" y="123.39" width="5.57" height="5.51" fill="#a1a5a2"/>
<rect x="49.55" y="123.39" width="5.57" height="5.51" fill="#999d9a"/>
<rect x="54.12" y="123.39" width="5.57" height="5.51" fill="#989c99"/>
<rect x="58.69" y="123.39" width="5.57" height="5.51" fill="#8a8e8b"/>
<rect x="63.26" y="123.39" width="5.57" height="5.51" fill="#919592"/>
<rect x="67.83" y="123.39" width="5.57" height="5.51" fill="#959996"/>
<rect x="72.4" y="123.39" width="5.57" height="5.51" fill="#979b98"/>
<rect x="76.97" y="123.39" width="5.57" height="5.51" fill="#a2a6a3"/>
<rect x="81.54" y="123.39" width="5.57" height="5.51" fill="#a1a5a2"/>
<rect x="86.11" y="123.39" width="5.57" height="5.51" fill="#a2a6a3"/>
<rect x="90.68" y="123.39" width="5.57" height="5.51" fill="#a0a4a1"/>
<rect x="95.25" y="123.39" width="5.57" height="5.51" fill="#9a9e9b"/>
<rect x="99.82" y="123.39" width="5.57" height="5.51" fill="#9fa3a0"/>
<rect x="104.39" y="123.39" width="5.57" height="5.51" fill="#9fa3a0"/>
<rect x="108.96" y="123.39" width="5.57" height="5.51" fill="#a2a6a3"/>
<rect x="113.53" y="123.39" width="5.57" height="5.51" fill="#a2a6a3"/>
<rect x="118.1" y="123.39" width="5.57" height="5.51" fill="#8e928f"/>
<rect x="122.67" y="123.39" width="5.57" height="5.51" fill="#9fa3a0"/>
<rect x="127.24" y="123.39" width="5.57" height="5.51" fill="#a2a6a3"/>
<rect x="131.81" y="123.39" width="5.57" height="5.51" fill="#9ca09d"/>
<rect x="136.38" y="123.39" width="5.57" height="5.51" fill="#909491"/>
<rect x="140.95" y="123.39" width="5.85" height="5.51" fill="#9ca09d"/>
<rect x="0" y="127.9" width="4.85" height="5.5" fill="#9fa3a0"/>
<rect x="3.85" y="127.9" width="5.57" height="5.5" fill="#a6aaa7"/>
<rect x="8.42" y="127.9" width="5.57" height="5.5" fill="#a6aaa7"/>
<rect x="12.99" y="127.9" width="5.57" height="5.5" fill="#a6aaa7"/>
<rect x="17.56" y="127.9" width="5.57" height="5.5" fill="#9fa3a0"/>
<rect x="22.13" y="127.9" width="5.57" height="5.5" fill="#a6aaa7"/>
<rect x="26.7" y="127.9" width="5.57" height="5.5" fill="#a6aaa7"/>
<rect x="31.27" y="127.9" width="5.57" height="5.5" fill="#9fa3a0"/>
<rect x="35.84" y="127.9" width="5.57" height="5.5" fill="#959996"/>
<rect x="40.41" y="127.9" width="5.57" height="5.5" fill="#a2a6a3"/>
<rect x="44.98" y="127.9" width="5.57" height="5.5" fill="#a2a6a3"/>
<rect x="49.55" y="127.9" width="5.57" height="5.5" fill="#9b9f9c"/>
<rect x="54.12" y="127.9" width="5.57" height="5.5" fill="#9b9f9c"/>
<rect x="58.69" y="127.9" width="5.57" height="5.5" fill="#949895"/>
<rect x="63.26" y="127.9" width="5.57" height="5.5" fill="#999d9a"/>
<rect x="67.83" y="127.9" width="5.57" height="5.5" fill="#999d9a"/>
<rect x="72.4" y="127.9" width="5.57" height="5.5" fill="#9ca09d"/>
<rect x="76.97" y="127.9" width="5.57" height="5.5" fill="#a2a6a3"/>
<rect x="81.54" y="127.9" width="5.57" height="5.5" fill="#a4a8a5"/>
<rect x="86.11" y="127.9" width="5.57" height="5.5" fill="#9fa3a0"/>
<rect x="90.68" y="127.9" width="5.57" height="5.5" fill="#a0a4a1"/>
<rect x="95.25" y="127.9" width="5.57" height="5.5" fill="#9fa3a0"/>
<rect x="99.82" y="127.9" width="5.57" height="5.5" fill="#9fa3a0"/>
<rect x="104.39" y="127.9" width="5.57" height="5.5" fill="#a6aaa7"/>
<rect x="108.96" y="127.9" width="5.57" height="5.5" fill="#9fa3a0"/>
<rect x="113.53" y="127.9" width="5.57" height="5.5" fill="#a2a6a3"/>
<rect x="118.1" y="127.9" width="5.57" height="5.5" fill="#989c99"/>
<rect x="122.67" y="127.9" width="5.57" height="5.5" fill="#9a9e9b"/>
<rect x="127.24" y="127.9" width="5.57" height="5.5" fill="#9fa3a0"/>
<rect x="131.81" y="127.9" width="5.57" height="5.5" fill="#9fa3a0"/>
<rect x="136.38" y="127.9" width="5.57" height="5.5" fill="#9fa3a0"/>
<rect x="140.95" y="127.9" width="5.85" height="5.5" fill="#9a9e9b"/>
<rect x="0" y="132.41" width="4.85" height="5.5" fill="#9fa3a0"/>
<rect x="3.85" y="132.41" width="5.57" height="5.5" fill="#9fa3a0"/>
<rect x="8.42" y="132.41" width="5.57" height="5.5" fill="#9a9e9b"/>
<rect x="12.99" y="132.41" width="5.57" height="5.5" fill="#a2a6a3"/>
<rect x="17.56" y="132.41" width="5.57" height="5.5" fill="#9fa3a0"/>
<rect x="22.13" y="132.41" width="5.57" height="5.5" fill="#a6aaa7"/>
<rect x="26.7" y="132.41" width="5.57" height="5.5" fill="#a6aaa7"/>
<rect x="31.27" y="132.41" width="5.57" height="5.5" fill="#9fa3a0"/>
<rect x="35.84" y="132.41" width="5.57" height="5.5" fill="#9fa3a0"/>
<rect x="40.41" y="132.41" width="5.57" height="5.5" fill="#a2a6a3"/>
<rect x="44.98" y="132.41" width="5.57" height="5.5" fill="#9fa3a0"/>
<rect x="49.55" y="132.41" width="5.57" height="5.5" fill="#9ca09d"/>
<rect x="54.12" y="132.41" width="5.57" height="5.5" fill="#9ca09d"/>
<rect x="58.69" y="132.41" width="5.57" height="5.5" fill="#9ca09d"/>
<rect x="63.26" y="132.41" width="5.57" height="5.5" fill="#959996"/>
<rect x="67.83" y="132.41" width="5.57" height="5.5" fill="#9a9e9b"/>
<rect x="72.4" y="132.41" width="5.57" height="5.5" fill="#9a9e9b"/>
<rect x="76.97" y="132.41" width="5.57" height="5.5" fill="#9fa3a0"/>
<rect x="81.54" y="132.41" width="5.57" height="5.5" fill="#a2a6a3"/>
<rect x="86.11" y="132.41" width="5.57" height="5.5" fill="#a2a6a3"/>
<rect x="90.68" y="132.41" width="5.57" height="5.5" fill="#9fa3a0"/>
<rect x="95.25" y="132.41" width="5.57" height="5.5" fill="#9fa3a0"/>
<rect x="99.82" y="132.41" width="5.57" height="5.5" fill="#9fa3a0"/>
<rect x="104.39" y="132.41" width="5.57" height="5.5" fill="#9fa3a0"/>
<rect x="108.96" y="132.41" width="5.57" height="5.5" fill="#9fa3a0"/>
<rect x="113.53" y="132.41" width="5.57" height="5.5" fill="#a2a6a3"/>
<rect x="118.1" y="132.41" width="5.57" height="5.5" fill="#9ca09d"/>
<rect x="122.67" y="132.41" width="5.57" height="5.5" fill="#a6aaa7"/>
<rect x="127.24" y="132.41" width="5.57" height="5.5" fill="#9ca09d"/>
<rect x="131.81" y="132.41" width="5.57" height="5.5" fill="#9fa3a0"/>
<rect x="136.38" y="132.41" width="5.57" height="5.5" fill="#9fa3a0"/>
<rect x="140.95" y="132.41" width="5.85" height="5.5" fill="#9ca09d"/>
<rect x="0" y="136.91" width="4.85" height="4.99" fill="#a2a6a3"/>
<rect x="3.85" y="136.91" width="5.57" height="4.99" fill="#a2a6a3"/>
<rect x="8.42" y="136.91" width="5.57" height="4.99" fill="#9fa3a0"/>
<rect x="12.99" y="136.91" width="5.57" height="4.99" fill="#9ca09d"/>
<rect x="17.56" y="136.91" width="5.57" height="4.99" fill="#9ca09d"/>
<rect x="22.13" y="136.91" width="5.57" height="4.99" fill="#9fa3a0"/>
<rect x="26.7" y="136.91" width="5.57" height="4.99" fill="#9fa3a0"/>
<rect x="31.27" y="136.91" width="5.57" height="4.99" fill="#9fa3a0"/>
<rect x="35.84" y="136.91" width="5.57" height="4.99" fill="#9a9e9b"/>
<rect x="40.41" y="136.91" width="5.57" height="4.99" fill="#a6aaa7"/>
<rect x="44.98" y="136.91" width="5.57" height="4.99" fill="#a2a6a3"/>
<rect x="49.55" y="136.91" width="5.57" height="4.99" fill="#9a9e9b"/>
<rect x="54.12" y="136.91" width="5.57" height="4.99" fill="#9ca09d"/>
<rect x="58.69" y="136.91" width="5.57" height="4.99" fill="#9fa3a0"/>
<rect x="63.26" y="136.91" width="5.57" height="4.99" fill="#a2a6a3"/>
<rect x="67.83" y="136.91" width="5.57" height="4.99" fill="#9ca09d"/>
<rect x="72.4" y="136.91" width="5.57" height="4.99" fill="#9fa3a0"/>
<rect x="76.97" y="136.91" width="5.57" height="4.99" fill="#9fa3a0"/>
<rect x="81.54" y="136.91" width="5.57" height="4.99" fill="#a2a6a3"/>
<rect x="86.11" y="136.91" width="5.57" height="4.99" fill="#a2a6a3"/>
<rect x="90.68" y="136.91" width="5.57" height="4.99" fill="#a0a4a1"/>
<rect x="95.25" y="136.91" width="5.57" height="4.99" fill="#9fa3a0"/>
<rect x="99.82" y="136.91" width="5.57" height="4.99" fill="#9fa3a0"/>
<rect x="104.39" y="136.91" width="5.57" height="4.99" fill="#9fa3a0"/>
<rect x="108.96" y="136.91" width="5.57" height="4.99" fill="#9fa3a0"/>
<rect x="113.53" y="136.91" width="5.57" height="4.99" fill="#9a9e9b"/>
<rect x="118.1" y="136.91" width="5.57" height="4.99" fill="#9a9e9b"/>
<rect x="122.67" y="136.91" width="5.57" height="4.99" fill="#9fa3a0"/>
<rect x="127.24" y="136.91" width="5.57" height="4.99" fill="#9fa3a0"/>
<rect x="131.81" y="136.91" width="5.57" height="4.99" fill="#a2a6a3"/>
<rect x="136.38" y="136.91" width="5.57" height="4.99" fill="#9fa3a0"/>
<rect x="140.95" y="136.91" width="5.85" height="4.99" fill="#9ca09d"/>
</g>
<g transform="translate(475.2,8)">
<rect x="0" y="0" width="4.85" height="2.76" fill="#a4a8a5"/>
<rect x="3.85" y="0" width="5.57" height="2.76" fill="#a6aaa7"/>
<rect x="8.42" y="0" width="5.57" height="2.76" fill="#a6aaa7"/>
<rect x="12.99" y="0" width="5.57" height="2.76" fill="#9a9e9b"/>
<rect x="17.56" y="0" width="5.57" height="2.76" fill="#a6aaa7"/>
<rect x="22.13" y="0" width="5.57" height="2.76" fill="#a4a8a5"/>
<rect x="26.7" y="0" width="5.57" height="2.76" fill="#a4a8a5"/>
<rect x="31.27" y="0" width="5.57" height="2.76" fill="#a2a6a3"/>
<rect x="35.84" y="0" width="5.57" height="2.76" fill="#a2a6a3"/>
<rect x="40.41" y="0" width="5.57" height="2.76" fill="#9fa3a0"/>
<rect x="44.98" y="0" width="5.57" height="2.76" fill="#9fa3a0"/>
<rect x="49.55" y="0" width="5.57" height="2.76" fill="#a3a7a4"/>
<rect x="54.12" y="0" width="5.57" height="2.76" fill="#abafac"/>
<rect x="58.69" y="0" width="5.57" height="2.76" fill="#a3a7a4"/>
<rect x="63.26" y="0" width="5.57" height="2.76" fill="#9ea29f"/>
<rect x="67.83" y="0" width="5.57" height="2.76" fill="#9ea29f"/>
<rect x="72.4" y="0" width="5.57" height="2.76" fill="#a4a8a5"/>
<rect x="76.97" y="0" width="5.57" height="2.76" fill="#a6aaa7"/>
<rect x="81.54" y="0" width="5.57" height="2.76" fill="#9fa3a0"/>
<rect x="86.11" y="0" width="5.57" height="2.76" fill="#9fa3a0"/>
<rect x="90.68" y="0" width="5.57" height="2.76" fill="#a4a8a5"/>
<rect x="95.25" y="0" width="5.57" height="2.76" fill="#a4a8a5"/>
<rect x="99.82" y="0" width="5.57" height="2.76" fill="#a4a8a5"/>
<rect x="104.39" y="0" width="5.57" height="2.76" fill="#a6aaa7"/>
<rect x="108.96" y="0" width="5.57" height="2.76" fill="#9fa3a0"/>
<rect x="113.53" y="0" width="5.57" height="2.76" fill="#9fa3a0"/>
<rect x="118.1" y="0" width="5.57" height="2.76" fill="#a6aaa7"/>
<rect x="122.67" y="0" width="5.57" height="2.76" fill="#a6aaa7"/>
<rect x="127.24" y="0" width="5.57" height="2.76" fill="#a6aaa7"/>
<rect x="131.81" y="0" width="5.57" height="2.76" fill="#a9adaa"/>
<rect x="136.38" y="0" width="5.57" height="2.76" fill="#a2a6a3"/>
<rect x="140.95" y="0" width="4.75" height="2.76" fill="#a4a8a5"/>
<rect x="0" y="1.76" width="4.85" height="5.5" fill="#a2a6a3"/>
<rect x="3.85" y="1.76" width="5.57" height="5.5" fill="#a6aaa7"/>
<rect x="8.42" y="1.76" width="5.57" height="5.5" fill="#acb0ad"/>
<rect x="12.99" y="1.76" width="5.57" height="5.5" fill="#a4a8a5"/>
<rect x="17.56" y="1.76" width="5.57" height="5.5" fill="#a2a6a3"/>
<rect x="22.13" y="1.76" width="5.57" height="5.5" fill="#9a9e9b"/>
<rect x="26.7" y="1.76" width="5.57" height="5.5" fill="#a4a8a5"/>
<rect x="31.27" y="1.76" width="5.57" height="5.5" fill="#868a87"/>
<rect x="35.84" y="1.76" width="5.57" height="5.5" fill="#a8aca9"/>
<rect x="40.41" y="1.76" width="5.57" height="5.5" fill="#989c99"/>
<rect x="44.98" y="1.76" width="5.57" height="5.5" fill="#9ca09d"/>
<rect x="49.55" y="1.76" width="5.57" height="5.5" fill="#9ca09d"/>
<rect x="54.12" y="1.76" width="5.57" height="5.5" fill="#9b9f9c"/>
<rect x="58.69" y="1.76" width="5.57" height="5.5" fill="#9ea29f"/>
<rect x="63.26" y="1.76" width="5.57" height="5.5" fill="#9b9f9c"/>
<rect x="67.83" y="1.76" width="5.57" height="5.5" fill="#515552"/>
<rect x="72.4" y="1.76" width="5.57" height="5.5" fill="#747875"/>
<rect x="76.97" y="1.76" width="5.57" height="5.5" fill="#666a67"/>
<rect x="81.54" y="1.76" width="5.57" height="5.5" fill="#999d9a"/>
<rect x="86.11" y="1.76" width="5.57" height="5.5" fill="#909491"/>
<rect x="90.68" y="1.76" width="5.57" height="5.5" fill="#a4a8a5"/>
<rect x="95.25" y="1.76" width="5.57" height="5.5" fill="#a9adaa"/>
<rect x="99.82" y="1.76" width="5.57" height="5.5" fill="#9fa3a0"/>
<rect x="104.39" y="1.76" width="5.57" height="5.5" fill="#9fa3a0"/>
<rect x="108.96" y="1.76" width="5.57" height="5.5" fill="#9fa3a0"/>
<rect x="113.53" y="1.76" width="5.57" height="5.5" fill="#a6aaa7"/>
<rect x="118.1" y="1.76" width="5.57" height="5.5" fill="#a4a8a5"/>
<rect x="122.67" y="1.76" width="5.57" height="5.5" fill="#a4a8a5"/>
<rect x="127.24" y="1.76" width="5.57" height="5.5" fill="#a9adaa"/>
<rect x="131.81" y="1.76" width="5.57" height="5.5" fill="#a9adaa"/>
<rect x="136.38" y="1.76" width="5.57" height="5.5" fill="#a2a6a3"/>
<rect x="140.95" y="1.76" width="4.75" height="5.5" fill="#a4a8a5"/>
<rect x="0" y="6.26" width="4.85" height="5.5" fill="#a6aaa7"/>
<rect x="3.85" y="6.26" width="5.57" height="5.5" fill="#9a9e9b"/>
<rect x="8.42" y="6.26" width="5.57" height="5.5" fill="#a2a6a3"/>
<rect x="12.99" y="6.26" width="5.57" height="5.5" fill="#a6aaa7"/>
<rect x="17.56" y="6.26" width="5.57" height="5.5" fill="#9fa3a0"/>
<rect x="22.13" y="6.26" width="5.57" height="5.5" fill="#9a9e9b"/>
<rect x="26.7" y="6.26" width="5.57" height="5.5" fill="#9a9e9b"/>
<rect x="31.27" y="6.26" width="5.57" height="5.5" fill="#a7aba8"/>
<rect x="35.84" y="6.26" width="5.57" height="5.5" fill="#9ca09d"/>
<rect x="40.41" y="6.26" width="5.57" height="5.5" fill="#949895"/>
<rect x="44.98" y="6.26" width="5.57" height="5.5" fill="#9a9e9b"/>
<rect x="49.55" y="6.26" width="5.57" height="5.5" fill="#9ca09d"/>
<rect x="54.12" y="6.26" width="5.57" height="5.5" fill="#999d9a"/>
<rect x="58.69" y="6.26" width="5.57" height="5.5" fill="#999d9a"/>
<rect x="63.26" y="6.26" width="5.57" height="5.5" fill="#949895"/>
<rect x="67.83" y="6.26" width="5.57" height="5.5" fill="#626663"/>
<rect x="72.4" y="6.26" width="5.57" height="5.5" fill="#727673"/>
<rect x="76.97" y="6.26" width="5.57" height="5.5" fill="#919592"/>
<rect x="81.54" y="6.26" width="5.57" height="5.5" fill="#929693"/>
<rect x="86.11" y="6.26" width="5.57" height="5.5" fill="#9da19e"/>
<rect x="90.68" y="6.26" width="5.57" height="5.5" fill="#a2a6a3"/>
<rect x="95.25" y="6.26" width="5.57" height="5.5" fill="#a6aaa7"/>
<rect x="99.82" y="6.26" width="5.57" height="5.5" fill="#a6aaa7"/>
<rect x="104.39" y="6.26" width="5.57" height="5.5" fill="#a9adaa"/>
<rect x="108.96" y="6.26" width="5.57" height="5.5" fill="#a9adaa"/>
<rect x="113.53" y="6.26" width="5.57" height="5.5" fill="#a9adaa"/>
<rect x="118.1" y="6.26" width="5.57" height="5.5" fill="#a4a8a5"/>
<rect x="122.67" y="6.26" width="5.57" height="5.5" fill="#a4a8a5"/>
<rect x="127.24" y="6.26" width="5.57" height="5.5" fill="#959996"/>
<rect x="131.81" y="6.26" width="5.57" height="5.5" fill="#a2a6a3"/>
<rect x="136.38" y="6.26" width="5.57" height="5.5" fill="#a6aaa7"/>
<rect x="140.95" y="6.26" width="4.75" height="5.5" fill="#a4a8a5"/>
<rect x="0" y="10.77" width="4.85" height="5.51" fill="#a4a8a5"/>
<rect x="3.85" y="10.77" width="5.57" height="5.51" fill="#a4a8a5"/>
<rect x="8.42" y="10.77" width="5.57" height="5.51" fill="#a6aaa7"/>
<rect x="12.99" y="10.77" width="5.57" height="5.51" fill="#a6aaa7"/>
<rect x="17.56" y="10.77" width="5.57" height="5.51" fill="#a6aaa7"/>
<rect x="22.13" y="10.77" width="5.57" height="5.51" fill="#9ea29f"/>
<rect x="26.7" y="10.77" width="5.57" height="5.51" fill="#8e928f"/>
<rect x="31.27" y="10.77" width="5.57" height="5.51" fill="#8c908d"/>
<rect x="35.84" y="10.77" width="5.57" height="5.51" fill="#979b98"/>
<rect x="40.41" y="10.77" width="5.57" height="5.51" fill="#959996"/>
<rect x="44.98" y="10.77" width="5.57" height="5.51" fill="#979b98"/>
<rect x="49.55" y="10.77" width="5.57" height="5.51" fill="#9a9e9b"/>
<rect x="54.12" y="10.77" width="5.57" height="5.51" fill="#969a97"/>
<rect x="58.69" y="10.77" width="5.57" height="5.51" fill="#969a97"/>
<rect x="63.26" y="10.77" width="5.57" height="5.51" fill="#878b88"/>
<rect x="67.83" y="10.77" width="5.57" height="5.51" fill="#838784"/>
<rect x="72.4" y="10.77" width="5.57" height="5.51" fill="#838784"/>
<rect x="76.97" y="10.77" width="5.57" height="5.51" fill="#898d8a"/>
<rect x="81.54" y="10.77" width="5.57" height="5.51" fill="#959996"/>
<rect x="86.11" y="10.77" width="5.57" height="5.51" fill="#9b9f9c"/>
<rect x="90.68" y="10.77" width="5.57" height="5.51" fill="#9da19e"/>
<rect x="95.25" y="10.77" width="5.57" height="5.51" fill="#999d9a"/>
<rect x="99.82" y="10.77" width="5.57" height="5.51" fill="#a2a6a3"/>
<rect x="104.39" y="10.77" width="5.57" height="5.51" fill="#a6aaa7"/>
<rect x="108.96" y="10.77" width="5.57" height="5.51" fill="#acb0ad"/>
<rect x="113.53" y="10.77" width="5.57" height="5.51" fill="#a4a8a5"/>
<rect x="118.1" y="10.77" width="5.57" height="5.51" fill="#a4a8a5"/>
<rect x="122.67" y="10.77" width="5.57" height="5.51" fill="#a4a8a5"/>
<rect x="127.24" y="10.77" width="5.57" height="5.51" fill="#a9adaa"/>
<rect x="131.81" y="10.77" width="5.57" height="5.51" fill="#a4a8a5"/>
<rect x="136.38" y="10.77" width="5.57" height="5.51" fill="#a4a8a5"/>
<rect x="140.95" y="10.77" width="4.75" height="5.51" fill="#a2a6a3"/>
<rect x="0" y="15.28" width="4.85" height="5.51" fill="#9fa3a0"/>
<rect x="3.85" y="15.28" width="5.57" height="5.51" fill="#a2a6a3"/>
<rect x="8.42" y="15.28" width="5.57" height="5.51" fill="#9fa3a0"/>
<rect x="12.99" y="15.28" width="5.57" height="5.51" fill="#9fa3a0"/>
<rect x="17.56" y="15.28" width="5.57" height="5.51" fill="#999d9a"/>
<rect x="22.13" y="15.28" width="5.57" height="5.51" fill="#959996"/>
<rect x="26.7" y="15.28" width="5.57" height="5.51" fill="#949895"/>
<rect x="31.27" y="15.28" width="5.57" height="5.51" fill="#929693"/>
<rect x="35.84" y="15.28" width="5.57" height="5.51" fill="#909491"/>
<rect x="40.41" y="15.28" width="5.57" height="5.51" fill="#939794"/>
<rect x="44.98" y="15.28" width="5.57" height="5.51" fill="#909491"/>
<rect x="49.55" y="15.28" width="5.57" height="5.51" fill="#8f9390"/>
<rect x="54.12" y="15.28" width="5.57" height="5.51" fill="#8a8e8b"/>
<rect x="58.69" y="15.28" width="5.57" height="5.51" fill="#616562"/>
<rect x="63.26" y="15.28" width="5.57" height="5.51" fill="#6c706d"/>
<rect x="67.83" y="15.28" width="5.57" height="5.51" fill="#8a8e8b"/>
<rect x="72.4" y="15.28" width="5.57" height="5.51" fill="#9a9e9b"/>
<rect x="76.97" y="15.28" width="5.57" height="5.51" fill="#9da19e"/>
<rect x="81.54" y="15.28" width="5.57" height="5.51" fill="#979b98"/>
<rect x="86.11" y="15.28" width="5.57" height="5.51" fill="#8f9390"/>
<rect x="90.68" y="15.28" width="5.57" height="5.51" fill="#787c79"/>
<rect x="95.25" y="15.28" width="5.57" height="5.51" fill="#a1a5a2"/>
<rect x="99.82" y="15.28" width="5.57" height="5.51" fill="#999d9a"/>
<rect x="104.39" y="15.28" width="5.57" height="5.51" fill="#9fa3a0"/>
<rect x="108.96" y="15.28" width="5.57" height="5.51" fill="#a6aaa7"/>
<rect x="113.53" y="15.28" width="5.57" height="5.51" fill="#a6aaa7"/>
<rect x="118.1" y="15.28" width="5.57" height="5.51" fill="#a6aaa7"/>
<rect x="122.67" y="15.28" width="5.57" height="5.51" fill="#a6aaa7"/>
<rect x="127.24" y="15.28" width="5.57" height="5.51" fill="#a4a8a5"/>
<rect x="131.81" y="15.28" width="5.57" height="5.51" fill="#a4a8a5"/>
<rect x="136.38" y="15.28" width="5.57" height="5.51" fill="#9a9e9b"/>
<rect x="140.95" y="15.28" width="4.75" height="5.51" fill="#9fa3a0"/>
<rect x="0" y="19.78" width="4.85" height="5.5" fill="#9fa3a0"/>
<rect x="3.85" y="19.78" width="5.57" height="5.5" fill="#9a9e9b"/>
<rect x="8.42" y="19.78" width="5.57" height="5.5" fill="#9ca09d"/>
<rect x="12.99" y="19.78" width="5.57" height="5.5" fill="#9fa3a0"/>
<rect x="17.56" y="19.78" width="5.57" height="5.5" fill="#939794"/>
<rect x="22.13" y="19.78" width="5.57" height="5.5" fill="#909491"/>
<rect x="26.7" y="19.78" width="5.57" height="5.5" fill="#8e928f"/>
<rect x="31.27" y="19.78" width="5.57" height="5.5" fill="#888c89"/>
<rect x="35.84" y="19.78" width="5.57" height="5.5" fill="#8b8f8c"/>
<rect x="40.41" y="19.78" width="5.57" height="5.5" fill="#8d918e"/>
<rect x="44.98" y="19.78" width="5.57" height="5.5" fill="#838784"/>
<rect x="49.55" y="19.78" width="5.57" height="5.5" fill="#8a8e8b"/>
<rect x="54.12" y="19.78" width="5.57" height="5.5" fill="#878b88"/>
<rect x="58.69" y="19.78" width="5.57" height="5.5" fill="#848885"/>
<rect x="63.26" y="19.78" width="5.57" height="5.5" fill="#8c908d"/>
<rect x="67.83" y="19.78" width="5.57" height="5.5" fill="#8c908d"/>
<rect x="72.4" y="19.78" width="5.57" height="5.5" fill="#8f9390"/>
<rect x="76.97" y="19.78" width="5.57" height="5.5" fill="#949895"/>
<rect x="81.54" y="19.78" width="5.57" height="5.5" fill="#8e928f"/>
<rect x="86.11" y="19.78" width="5.57" height="5.5" fill="#8d918e"/>
<rect x="90.68" y="19.78" width="5.57" height="5.5" fill="#707471"/>
<rect x="95.25" y="19.78" width="5.57" height="5.5" fill="#818582"/>
<rect x="99.82" y="19.78" width="5.57" height="5.5" fill="#939794"/>
<rect x="104.39" y="19.78" width="5.57" height="5.5" fill="#909491"/>
<rect x="108.96" y="19.78" width="5.57" height="5.5" fill="#9a9e9b"/>
<rect x="113.53" y="19.78" width="5.57" height="5.5" fill="#9fa3a0"/>
<rect x="118.1" y="19.78" width="5.57" height="5.5" fill="#acb0ad"/>
<rect x="122.67" y="19.78" width="5.57" height="5.5" fill="#acb0ad"/>
<rect x="127.24" y="19.78" width="5.57" height="5.5" fill="#acb0ad"/>
<rect x="131.81" y="19.78" width="5.57" height="5.5" fill="#acb0ad"/>
<rect x="136.38" y="19.78" width="5.57" height="5.5" fill="#a4a8a5"/>
<rect x="140.95" y="19.78" width="4.75" height="5.5" fill="#868a87"/>
<rect x="0" y="24.29" width="4.85" height="5.51" fill="#a2a6a3"/>
<rect x="3.85" y="24.29" width="5.57" height="5.51" fill="#a4a8a5"/>
<rect x="8.42" y="24.29" width="5.57" height="5.51" fill="#9fa3a0"/>
<rect x="12.99" y="24.29" width="5.57" height="5.51" fill="#8e928f"/>
<rect x="17.56" y="24.29" width="5.57" height="5.51" fill="#8c908d"/>
<rect x="22.13" y="24.29" width="5.57" height="5.51" fill="#858986"/>
<rect x="26.7" y="24.29" width="5.57" height="5.51" fill="#6f7370"/>
<rect x="31.27" y="24.29" width="5.57" height="5.51" fill="#6d716e"/>
<rect x="35.84" y="24.29" width="5.57" height="5.51" fill="#7a7e7b"/>
<rect x="40.41" y="24.29" width="5.57" height="5.51" fill="#7d817e"/>
<rect x="44.98" y="24.29" width="5.57" height="5.51" fill="#818582"/>
<rect x="49.55" y="24.29" width="5.57" height="5.51" fill="#767a77"/>
<rect x="54.12" y="24.29" width="5.57" height="5.51" fill="#7a7e7b"/>
<rect x="58.69" y="24.29" width="5.57" height="5.51" fill="#757976"/>
<rect x="63.26" y="24.29" width="5.57" height="5.51" fill="#7f8380"/>
<rect x="67.83" y="24.29" width="5.57" height="5.51" fill="#949895"/>
<rect x="72.4" y="24.29" width="5.57" height="5.51" fill="#959996"/>
<rect x="76.97" y="24.29" width="5.57" height="5.51" fill="#969a97"/>
<rect x="81.54" y="24.29" width="5.57" height="5.51" fill="#848885"/>
<rect x="86.11" y="24.29" width="5.57" height="5.51" fill="#5e625f"/>
<rect x="90.68" y="24.29" width="5.57" height="5.51" fill="#797d7a"/>
<rect x="95.25" y="24.29" width="5.57" height="5.51" fill="#949895"/>
<rect x="99.82" y="24.29" width="5.57" height="5.51" fill="#919592"/>
<rect x="104.39" y="24.29" width="5.57" height="5.51" fill="#9da19e"/>
<rect x="108.96" y="24.29" width="5.57" height="5.51" fill="#9fa3a0"/>
<rect x="113.53" y="24.29" width="5.57" height="5.51" fill="#a4a8a5"/>
<rect x="118.1" y="24.29" width="5.57" height="5.51" fill="#a4a8a5"/>
<rect x="122.67" y="24.29" width="5.57" height="5.51" fill="#a4a8a5"/>
<rect x="127.24" y="24.29" width="5.57" height="5.51" fill="#a9adaa"/>
<rect x="131.81" y="24.29" width="5.57" height="5.51" fill="#acb0ad"/>
<rect x="136.38" y="24.29" width="5.57" height="5.51" fill="#a6aaa7"/>
<rect x="140.95" y="24.29" width="4.75" height="5.51" fill="#aeb2af"/>
<rect x="0" y="28.79" width="4.85" height="5.5" fill="#a2a6a3"/>
<rect x="3.85" y="28.79" width="5.57" height="5.5" fill="#a2a6a3"/>
<rect x="8.42" y="28.79" width="5.57" height="5.5" fill="#949895"/>
<rect x="12.99" y="28.79" width="5.57" height="5.5" fill="#979b98"/>
<rect x="17.56" y="28.79" width="5.57" height="5.5" fill="#929693"/>
<rect x="22.13" y="28.79" width="5.57" height="5.5" fill="#888c89"/>
<rect x="26.7" y="28.79" width="5.57" height="5.5" fill="#818582"/>
<rect x="31.27" y="28.79" width="5.57" height="5.5" fill="#707471"/>
<rect x="35.84" y="28.79" width="5.57" height="5.5" fill="#5b5f5c"/>
<rect x="40.41" y="28.79" width="5.57" height="5.5" fill="#6c706d"/>
<rect x="44.98" y="28.79" width="5.57" height="5.5" fill="#7f8380"/>
<rect x="49.55" y="28.79" width="5.57" height="5.5" fill="#7e827f"/>
<rect x="54.12" y="28.79" width="5.57" height="5.5" fill="#888c89"/>
<rect x="58.69" y="28.79" width="5.57" height="5.5" fill="#7e827f"/>
<rect x="63.26" y="28.79" width="5.57" height="5.5" fill="#868a87"/>
<rect x="67.83" y="28.79" width="5.57" height="5.5" fill="#868a87"/>
<rect x="72.4" y="28.79" width="5.57" height="5.5" fill="#878b88"/>
<rect x="76.97" y="28.79" width="5.57" height="5.5" fill="#8a8e8b"/>
<rect x="81.54" y="28.79" width="5.57" height="5.5" fill="#878b88"/>
<rect x="86.11" y="28.79" width="5.57" height="5.5" fill="#707471"/>
<rect x="90.68" y="28.79" width="5.57" height="5.5" fill="#909491"/>
<rect x="95.25" y="28.79" width="5.57" height="5.5" fill="#929693"/>
<rect x="99.82" y="28.79" width="5.57" height="5.5" fill="#949895"/>
<rect x="104.39" y="28.79" width="5.57" height="5.5" fill="#838784"/>
<rect x="108.96" y="28.79" width="5.57" height="5.5" fill="#858986"/>
<rect x="113.53" y="28.79" width="5.57" height="5.5" fill="#9fa3a0"/>
<rect x="118.1" y="28.79" width="5.57" height="5.5" fill="#a4a8a5"/>
<rect x="122.67" y="28.79" width="5.57" height="5.5" fill="#a4a8a5"/>
<rect x="127.24" y="28.79" width="5.57" height="5.5" fill="#9a9e9b"/>
<rect x="131.81" y="28.79" width="5.57" height="5.5" fill="#a2a6a3"/>
<rect x="136.38" y="28.79" width="5.57" height="5.5" fill="#a4a8a5"/>
<rect x="140.95" y="28.79" width="4.75" height="5.5" fill="#a4a8a5"/>
<rect x="0" y="33.3" width="4.85" height="5.5" fill="#9a9e9b"/>
<rect x="3.85" y="33.3" width="5.57" height="5.5" fill="#909491"/>
<rect x="8.42" y="33.3" width="5.57" height="5.5" fill="#989c99"/>
<rect x="12.99" y="33.3" width="5.57" height="5.5" fill="#939794"/>
<rect x="17.56" y="33.3" width="5.57" height="5.5" fill="#7f8380"/>
<rect x="22.13" y="33.3" width="5.57" height="5.5" fill="#8b8f8c"/>
<rect x="26.7" y="33.3" width="5.57" height="5.5" fill="#8e928f"/>
<rect x="31.27" y="33.3" width="5.57" height="5.5" fill="#646865"/>
<rect x="35.84" y="33.3" width="5.57" height="5.5" fill="#515552"/>
<rect x="40.41" y="33.3" width="5.57" height="5.5" fill="#6f7370"/>
<rect x="44.98" y="33.3" width="5.57" height="5.5" fill="#797d7a"/>
<rect x="49.55" y="33.3" width="5.57" height="5.5" fill="#797d7a"/>
<rect x="54.12" y="33.3" width="5.57" height="5.5" fill="#7c807d"/>
<rect x="58.69" y="33.3" width="5.57" height="5.5" fill="#7c807d"/>
<rect x="63.26" y="33.3" width="5.57" height="5.5" fill="#747875"/>
<rect x="67.83" y="33.3" width="5.57" height="5.5" fill="#747875"/>
<rect x="72.4" y="33.3" width="5.57" height="5.5" fill="#7c807d"/>
<rect x="76.97" y="33.3" width="5.57" height="5.5" fill="#a1a5a2"/>
<rect x="81.54" y="33.3" width="5.57" height="5.5" fill="#808481"/>
<rect x="86.11" y="33.3" width="5.57" height="5.5" fill="#828683"/>
<rect x="90.68" y="33.3" width="5.57" height="5.5" fill="#8e928f"/>
<rect x="95.25" y="33.3" width="5.57" height="5.5" fill="#959996"/>
<rect x="99.82" y="33.3" width="5.57" height="5.5" fill="#9b9f9c"/>
<rect x="104.39" y="33.3" width="5.57" height="5.5" fill="#9a9e9b"/>
<rect x="108.96" y="33.3" width="5.57" height="5.5" fill="#8e928f"/>
<rect x="113.53" y="33.3" width="5.57" height="5.5" fill="#9fa3a0"/>
<rect x="118.1" y="33.3" width="5.57" height="5.5" fill="#a4a8a5"/>
<rect x="122.67" y="33.3" width="5.57" height="5.5" fill="#a9adaa"/>
<rect x="127.24" y="33.3" width="5.57" height="5.5" fill="#9fa3a0"/>
<rect x="131.81" y="33.3" width="5.57" height="5.5" fill="#9a9e9b"/>
<rect x="136.38" y="33.3" width="5.57" height="5.5" fill="#a4a8a5"/>
<rect x="140.95" y="33.3" width="4.75" height="5.5" fill="#909491"/>
<rect x="0" y="37.8" width="4.85" height="5.51" fill="#9fa3a0"/>
<rect x="3.85" y="37.8" width="5.57" height="5.51" fill="#9ca09d"/>
<rect x="8.42" y="37.8" width="5.57" height="5.51" fill="#929693"/>
<rect x="12.99" y="37.8" width="5.57" height="5.51" fill="#8c908d"/>
<rect x="17.56" y="37.8" width="5.57" height="5.51" fill="#7e827f"/>
<rect x="22.13" y="37.8" width="5.57" height="5.51" fill="#8d918e"/>
<rect x="26.7" y="37.8" width="5.57" height="5.51" fill="#848885"/>
<rect x="31.27" y="37.8" width="5.57" height="5.51" fill="#717572"/>
<rect x="35.84" y="37.8" width="5.57" height="5.51" fill="#6a6e6b"/>
<rect x="40.41" y="37.8" width="5.57" height="5.51" fill="#747875"/>
<rect x="44.98" y="37.8" width="5.57" height="5.51" fill="#747875"/>
<rect x="49.55" y="37.8" width="5.57" height="5.51" fill="#686c69"/>
<rect x="54.12" y="37.8" width="5.57" height="5.51" fill="#686c69"/>
<rect x="58.69" y="37.8" width="5.57" height="5.51" fill="#6a6e6b"/>
<rect x="63.26" y="37.8" width="5.57" height="5.51" fill="#6f7370"/>
<rect x="67.83" y="37.8" width="5.57" height="5.51" fill="#6f7370"/>
<rect x="72.4" y="37.8" width="5.57" height="5.51" fill="#6f7370"/>
<rect x="76.97" y="37.8" width="5.57" height="5.51" fill="#7e827f"/>
<rect x="81.54" y="37.8" width="5.57" height="5.51" fill="#838784"/>
<rect x="86.11" y="37.8" width="5.57" height="5.51" fill="#808481"/>
<rect x="90.68" y="37.8" width="5.57" height="5.51" fill="#969a97"/>
<rect x="95.25" y="37.8" width="5.57" height="5.51" fill="#979b98"/>
<rect x="99.82" y="37.8" width="5.57" height="5.51" fill="#9a9e9b"/>
<rect x="104.39" y="37.8" width="5.57" height="5.51" fill="#9ea29f"/>
<rect x="108.96" y="37.8" width="5.57" height="5.51" fill="#a1a5a2"/>
<rect x="113.53" y="37.8" width="5.57" height="5.51" fill="#a2a6a3"/>
<rect x="118.1" y="37.8" width="5.57" height="5.51" fill="#a4a8a5"/>
<rect x="122.67" y="37.8" width="5.57" height="5.51" fill="#a2a6a3"/>
<rect x="127.24" y="37.8" width="5.57" height="5.51" fill="#9a9e9b"/>
<rect x="131.81" y="37.8" width="5.57" height="5.51" fill="#a4a8a5"/>
<rect x="136.38" y="37.8" width="5.57" height="5.51" fill="#9fa3a0"/>
<rect x="140.95" y="37.8" width="4.75" height="5.51" fill="#a4a8a5"/>
<rect x="0" y="42.3" width="4.85" height="5.5" fill="#a4a8a5"/>
<rect x="3.85" y="42.3" width="5.57" height="5.5" fill="#a1a5a2"/>
<rect x="8.42" y="42.3" width="5.57" height="5.5" fill="#9ea29f"/>
<rect x="12.99" y="42.3" width="5.57" height="5.5" fill="#9b9f9c"/>
<rect x="17.56" y="42.3" width="5.57" height="5.5" fill="#909491"/>
<rect x="22.13" y="42.3" width="5.57" height="5.5" fill="#909491"/>
<rect x="26.7" y="42.3" width="5.57" height="5.5" fill="#868a87"/>
<rect x="31.27" y="42.3" width="5.57" height="5.5" fill="#747875"/>
<rect x="35.84" y="42.3" width="5.57" height="5.5" fill="#838784"/>
<rect x="40.41" y="42.3" width="5.57" height="5.5" fill="#7c807d"/>
<rect x="44.98" y="42.3" width="5.57" height="5.5" fill="#747875"/>
<rect x="49.55" y="42.3" width="5.57" height="5.5" fill="#5b5f5c"/>
<rect x="54.12" y="42.3" width="5.57" height="5.5" fill="#1a1e1b"/>
<rect x="58.69" y="42.3" width="5.57" height="5.5" fill="#000000"/>
<rect x="63.26" y="42.3" width="5.57" height="5.5" fill="#000000"/>
<rect x="67.83" y="42.3" width="5.57" height="5.5" fill="#1f2320"/>
<rect x="72.4" y="42.3" width="5.57" height="5.5" fill="#606461"/>
<rect x="76.97" y="42.3" width="5.57" height="5.5" fill="#6a6e6b"/>
<rect x="81.54" y="42.3" width="5.57" height="5.5" fill="#7e827f"/>
<rect x="86.11" y="42.3" width="5.57" height="5.5" fill="#979b98"/>
<rect x="90.68" y="42.3" width="5.57" height="5.5" fill="#939794"/>
<rect x="95.25" y="42.3" width="5.57" height="5.5" fill="#9a9e9b"/>
<rect x="99.82" y="42.3" width="5.57" height="5.5" fill="#9ca09d"/>
<rect x="104.39" y="42.3" width="5.57" height="5.5" fill="#9fa3a0"/>
<rect x="108.96" y="42.3" width="5.57" height="5.5" fill="#a2a6a3"/>
<rect x="113.53" y="42.3" width="5.57" height="5.5" fill="#a5a9a6"/>
<rect x="118.1" y="42.3" width="5.57" height="5.5" fill="#9fa3a0"/>
<rect x="122.67" y="42.3" width="5.57" height="5.5" fill="#a2a6a3"/>
<rect x="127.24" y="42.3" width="5.57" height="5.5" fill="#a2a6a3"/>
<rect x="131.81" y="42.3" width="5.57" height="5.5" fill="#9a9e9b"/>
<rect x="136.38" y="42.3" width="5.57" height="5.5" fill="#a4a8a5"/>
<rect x="140.95" y="42.3" width="4.75" height="5.5" fill="#a2a6a3"/>
<rect x="0" y="46.81" width="4.85" height="5.51" fill="#9fa3a0"/>
<rect x="3.85" y="46.81" width="5.57" height="5.51" fill="#9da19e"/>
<rect x="8.42" y="46.81" width="5.57" height="5.51" fill="#9da19e"/>
<rect x="12.99" y="46.81" width="5.57" height="5.51" fill="#979b98"/>
<rect x="17.56" y="46.81" width="5.57" height="5.51" fill="#8e928f"/>
<rect x="22.13" y="46.81" width="5.57" height="5.51" fill="#8d918e"/>
<rect x="26.7" y="46.81" width="5.57" height="5.51" fill="#808481"/>
<rect x="31.27" y="46.81" width="5.57" height="5.51" fill="#838784"/>
<rect x="35.84" y="46.81" width="5.57" height="5.51" fill="#797d7a"/>
<rect x="40.41" y="46.81" width="5.57" height="5.51" fill="#6a6e6b"/>
<rect x="44.98" y="46.81" width="5.57" height="5.51" fill="#686c69"/>
<rect x="49.55" y="46.81" width="5.57" height="5.51" fill="#292d2a"/>
<rect x="54.12" y="46.81" width="5.57" height="5.51" fill="#010502"/>
<rect x="58.69" y="46.81" width="5.57" height="5.51" fill="#000000"/>
<rect x="63.26" y="46.81" width="5.57" height="5.51" fill="#000000"/>
<rect x="67.83" y="46.81" width="5.57" height="5.51" fill="#040805"/>
<rect x="72.4" y="46.81" width="5.57" height="5.51" fill="#606461"/>
<rect x="76.97" y="46.81" width="5.57" height="5.51" fill="#656966"/>
<rect x="81.54" y="46.81" width="5.57" height="5.51" fill="#747875"/>
<rect x="86.11" y="46.81" width="5.57" height="5.51" fill="#8d918e"/>
<rect x="90.68" y="46.81" width="5.57" height="5.51" fill="#949895"/>
<rect x="95.25" y="46.81" width="5.57" height="5.51" fill="#959996"/>
<rect x="99.82" y="46.81" width="5.57" height="5.51" fill="#9a9e9b"/>
<rect x="104.39" y="46.81" width="5.57" height="5.51" fill="#9ea29f"/>
<rect x="108.96" y="46.81" width="5.57" height="5.51" fill="#9fa3a0"/>
<rect x="113.53" y="46.81" width="5.57" height="5.51" fill="#8e928f"/>
<rect x="118.1" y="46.81" width="5.57" height="5.51" fill="#909491"/>
<rect x="122.67" y="46.81" width="5.57" height="5.51" fill="#8b8f8c"/>
<rect x="127.24" y="46.81" width="5.57" height="5.51" fill="#a2a6a3"/>
<rect x="131.81" y="46.81" width="5.57" height="5.51" fill="#9a9e9b"/>
<rect x="136.38" y="46.81" width="5.57" height="5.51" fill="#a4a8a5"/>
<rect x="140.95" y="46.81" width="4.75" height="5.51" fill="#a2a6a3"/>
<rect x="0" y="51.31" width="4.85" height="5.51" fill="#a6aaa7"/>
<rect x="3.85" y="51.31" width="5.57" height="5.51" fill="#9da19e"/>
<rect x="8.42" y="51.31" width="5.57" height="5.51" fill="#9da19e"/>
<rect x="12.99" y="51.31" width="5.57" height="5.51" fill="#979b98"/>
<rect x="17.56" y="51.31" width="5.57" height="5.51" fill="#8a8e8b"/>
<rect x="22.13" y="51.31" width="5.57" height="5.51" fill="#8c908d"/>
<rect x="26.7" y="51.31" width="5.57" height="5.51" fill="#848885"/>
<rect x="31.27" y="51.31" width="5.57" height="5.51" fill="#888c89"/>
<rect x="35.84" y="51.31" width="5.57" height="5.51" fill="#606461"/>
<rect x="40.41" y="51.31" width="5.57" height="5.51" fill="#606461"/>
<rect x="44.98" y="51.31" width="5.57" height="5.51" fill="#515552"/>
<rect x="49.55" y="51.31" width="5.57" height="5.51" fill="#010502"/>
<rect x="54.12" y="51.31" width="5.57" height="5.51" fill="#000000"/>
<rect x="58.69" y="51.31" width="5.57" height="5.51" fill="#000000"/>
<rect x="63.26" y="51.31" width="5.57" height="5.51" fill="#000000"/>
<rect x="67.83" y="51.31" width="5.57" height="5.51" fill="#3d413e"/>
<rect x="72.4" y="51.31" width="5.57" height="5.51" fill="#5b5f5c"/>
<rect x="76.97" y="51.31" width="5.57" height="5.51" fill="#6a6e6b"/>
<rect x="81.54" y="51.31" width="5.57" height="5.51" fill="#6f7370"/>
<rect x="86.11" y="51.31" width="5.57" height="5.51" fill="#888c89"/>
<rect x="90.68" y="51.31" width="5.57" height="5.51" fill="#8e928f"/>
<rect x="95.25" y="51.31" width="5.57" height="5.51" fill="#919592"/>
<rect x="99.82" y="51.31" width="5.57" height="5.51" fill="#919592"/>
<rect x="104.39" y="51.31" width="5.57" height="5.51" fill="#9a9e9b"/>
<rect x="108.96" y="51.31" width="5.57" height="5.51" fill="#909491"/>
<rect x="113.53" y="51.31" width="5.57" height="5.51" fill="#848885"/>
<rect x="118.1" y="51.31" width="5.57" height="5.51" fill="#a2a6a3"/>
<rect x="122.67" y="51.31" width="5.57" height="5.51" fill="#a4a8a5"/>
<rect x="127.24" y="51.31" width="5.57" height="5.51" fill="#a2a6a3"/>
<rect x="131.81" y="51.31" width="5.57" height="5.51" fill="#9ca09d"/>
<rect x="136.38" y="51.31" width="5.57" height="5.51" fill="#a4a8a5"/>
<rect x="140.95" y="51.31" width="4.75" height="5.51" fill="#a2a6a3"/>
<rect x="0" y="55.82" width="4.85" height="5.5" fill="#a2a6a3"/>
<rect x="3.85" y="55.82" width="5.57" height="5.5" fill="#a6aaa7"/>
<rect x="8.42" y="55.82" width="5.57" height="5.5" fill="#999d9a"/>
<rect x="12.99" y="55.82" width="5.57" height="5.5" fill="#939794"/>
<rect x="17.56" y="55.82" width="5.57" height="5.5" fill="#898d8a"/>
<rect x="22.13" y="55.82" width="5.57" height="5.5" fill="#868a87"/>
<rect x="26.7" y="55.82" width="5.57" height="5.5" fill="#7e827f"/>
<rect x="31.27" y="55.82" width="5.57" height="5.5" fill="#7e827f"/>
<rect x="35.84" y="55.82" width="5.57" height="5.5" fill="#6f7370"/>
<rect x="40.41" y="55.82" width="5.57" height="5.5" fill="#333734"/>
<rect x="44.98" y="55.82" width="5.57" height="5.5" fill="#000000"/>
<rect x="49.55" y="55.82" width="5.57" height="5.5" fill="#000000"/>
<rect x="54.12" y="55.82" width="5.57" height="5.5" fill="#000000"/>
<rect x="58.69" y="55.82" width="5.57" height="5.5" fill="#000000"/>
<rect x="63.26" y="55.82" width="5.57" height="5.5" fill="#000000"/>
<rect x="67.83" y="55.82" width="5.57" height="5.5" fill="#151916"/>
<rect x="72.4" y="55.82" width="5.57" height="5.5" fill="#565a57"/>
<rect x="76.97" y="55.82" width="5.57" height="5.5" fill="#656966"/>
<rect x="81.54" y="55.82" width="5.57" height="5.5" fill="#6a6e6b"/>
<rect x="86.11" y="55.82" width="5.57" height="5.5" fill="#7e827f"/>
<rect x="90.68" y="55.82" width="5.57" height="5.5" fill="#838784"/>
<rect x="95.25" y="55.82" width="5.57" height="5.5" fill="#8d918e"/>
<rect x="99.82" y="55.82" width="5.57" height="5.5" fill="#909491"/>
<rect x="104.39" y="55.82" width="5.57" height="5.5" fill="#939794"/>
<rect x="108.96" y="55.82" width="5.57" height="5.5" fill="#999d9a"/>
<rect x="113.53" y="55.82" width="5.57" height="5.5" fill="#959996"/>
<rect x="118.1" y="55.82" width="5.57" height="5.5" fill="#9fa3a0"/>
<rect x="122.67" y="55.82" width="5.57" height="5.5" fill="#9fa3a0"/>
<rect x="127.24" y="55.82" width="5.57" height="5.5" fill="#a2a6a3"/>
<rect x="131.81" y="55.82" width="5.57" height="5.5" fill="#a4a8a5"/>
<rect x="136.38" y="55.82" width="5.57" height="5.5" fill="#a6aaa7"/>
<rect x="140.95" y="55.82" width="4.75" height="5.5" fill="#a2a6a3"/>
<rect x="0" y="60.32" width="4.85" height="5.51" fill="#a4a8a5"/>
<rect x="3.85" y="60.32" width="5.57" height="5.51" fill="#9ca09d"/>
<rect x="8.42" y="60.32" width="5.57" height="5.51" fill="#8a8e8b"/>
<rect x="12.99" y="60.32" width="5.57" height="5.51" fill="#919592"/>
<rect x="17.56" y="60.32" width="5.57" height="5.51" fill="#8e928f"/>
<rect x="22.13" y="60.32" width="5.57" height="5.51" fill="#8b8f8c"/>
<rect x="26.7" y="60.32" width="5.57" height="5.51" fill="#7e827f"/>
<rect x="31.27" y="60.32" width="5.57" height="5.51" fill="#7e827f"/>
<rect x="35.84" y="60.32" width="5.57" height="5.51" fill="#565a57"/>
<rect x="40.41" y="60.32" width="5.57" height="5.51" fill="#060a07"/>
<rect x="44.98" y="60.32" width="5.57" height="5.51" fill="#000000"/>
<rect x="49.55" y="60.32" width="5.57" height="5.51" fill="#515552"/>
<rect x="54.12" y="60.32" width="5.57" height="5.51" fill="#6f7370"/>
<rect x="58.69" y="60.32" width="5.57" height="5.51" fill="#000000"/>
<rect x="63.26" y="60.32" width="5.57" height="5.51" fill="#000000"/>
<rect x="67.83" y="60.32" width="5.57" height="5.51" fill="#000000"/>
<rect x="72.4" y="60.32" width="5.57" height="5.51" fill="#606461"/>
<rect x="76.97" y="60.32" width="5.57" height="5.51" fill="#747875"/>
<rect x="81.54" y="60.32" width="5.57" height="5.51" fill="#6a6e6b"/>
<rect x="86.11" y="60.32" width="5.57" height="5.51" fill="#7e827f"/>
<rect x="90.68" y="60.32" width="5.57" height="5.51" fill="#8d918e"/>
<rect x="95.25" y="60.32" width="5.57" height="5.51" fill="#8d918e"/>
<rect x="99.82" y="60.32" width="5.57" height="5.51" fill="#969a97"/>
<rect x="104.39" y="60.32" width="5.57" height="5.51" fill="#999d9a"/>
<rect x="108.96" y="60.32" width="5.57" height="5.51" fill="#999d9a"/>
<rect x="113.53" y="60.32" width="5.57" height="5.51" fill="#979b98"/>
<rect x="118.1" y="60.32" width="5.57" height="5.51" fill="#9fa3a0"/>
<rect x="122.67" y="60.32" width="5.57" height="5.51" fill="#9fa3a0"/>
<rect x="127.24" y="60.32" width="5.57" height="5.51" fill="#9fa3a0"/>
<rect x="131.81" y="60.32" width="5.57" height="5.51" fill="#9a9e9b"/>
<rect x="136.38" y="60.32" width="5.57" height="5.51" fill="#9a9e9b"/>
<rect x="140.95" y="60.32" width="4.75" height="5.51" fill="#9fa3a0"/>
<rect x="0" y="64.83" width="4.85" height="5.51" fill="#a2a6a3"/>
<rect x="3.85" y="64.83" width="5.57" height="5.51" fill="#9ca09d"/>
<rect x="8.42" y="64.83" width="5.57" height="5.51" fill="#929693"/>
<rect x="12.99" y="64.83" width="5.57" height="5.51" fill="#6e726f"/>
<rect x="17.56" y="64.83" width="5.57" height="5.51" fill="#9da19e"/>
<rect x="22.13" y="64.83" width="5.57" height="5.51" fill="#868a87"/>
<rect x="26.7" y="64.83" width="5.57" height="5.51" fill="#7e827f"/>
<rect x="31.27" y="64.83" width="5.57" height="5.51" fill="#797d7a"/>
<rect x="35.84" y="64.83" width="5.57" height="5.51" fill="#4e524f"/>
<rect x="40.41" y="64.83" width="5.57" height="5.51" fill="#222623"/>
<rect x="44.98" y="64.83" width="5.57" height="5.51" fill="#747875"/>
<rect x="49.55" y="64.83" width="5.57" height="5.51" fill="#797d7a"/>
<rect x="54.12" y="64.83" width="5.57" height="5.51" fill="#797d7a"/>
<rect x="58.69" y="64.83" width="5.57" height="5.51" fill="#000000"/>
<rect x="63.26" y="64.83" width="5.57" height="5.51" fill="#000000"/>
<rect x="67.83" y="64.83" width="5.57" height="5.51" fill="#000000"/>
<rect x="72.4" y="64.83" width="5.57" height="5.51" fill="#292d2a"/>
<rect x="76.97" y="64.83" width="5.57" height="5.51" fill="#656966"/>
<rect x="81.54" y="64.83" width="5.57" height="5.51" fill="#6a6e6b"/>
<rect x="86.11" y="64.83" width="5.57" height="5.51" fill="#747875"/>
<rect x="90.68" y="64.83" width="5.57" height="5.51" fill="#838784"/>
<rect x="95.25" y="64.83" width="5.57" height="5.51" fill="#8b8f8c"/>
<rect x="99.82" y="64.83" width="5.57" height="5.51" fill="#8e928f"/>
<rect x="104.39" y="64.83" width="5.57" height="5.51" fill="#7d817e"/>
<rect x="108.96" y="64.83" width="5.57" height="5.51" fill="#9ca09d"/>
<rect x="113.53" y="64.83" width="5.57" height="5.51" fill="#999d9a"/>
<rect x="118.1" y="64.83" width="5.57" height="5.51" fill="#868a87"/>
<rect x="122.67" y="64.83" width="5.57" height="5.51" fill="#9a9e9b"/>
<rect x="127.24" y="64.83" width="5.57" height="5.51" fill="#a2a6a3"/>
<rect x="131.81" y="64.83" width="5.57" height="5.51" fill="#9fa3a0"/>
<rect x="136.38" y="64.83" width="5.57" height="5.51" fill="#8b8f8c"/>
<rect x="140.95" y="64.83" width="4.75" height="5.51" fill="#909491"/>
<rect x="0" y="69.34" width="4.85" height="5.5" fill="#a2a6a3"/>
<rect x="3.85" y="69.34" width="5.57" height="5.5" fill="#999d9a"/>
<rect x="8.42" y="69.34" width="5.57" height="5.5" fill="#969a97"/>
<rect x="12.99" y="69.34" width="5.57" height="5.5" fill="#939794"/>
<rect x="17.56" y="69.34" width="5.57" height="5.5" fill="#8c908d"/>
<rect x="22.13" y="69.34" width="5.57" height="5.5" fill="#8b8f8c"/>
<rect x="26.7" y="69.34" width="5.57" height="5.5" fill="#767a77"/>
<rect x="31.27" y="69.34" width="5.57" height="5.5" fill="#5e625f"/>
<rect x="35.84" y="69.34" width="5.57" height="5.5" fill="#606461"/>
<rect x="40.41" y="69.34" width="5.57" height="5.5" fill="#2e322f"/>
<rect x="44.98" y="69.34" width="5.57" height="5.5" fill="#2e322f"/>
<rect x="49.55" y="69.34" width="5.57" height="5.5" fill="#747875"/>
<rect x="54.12" y="69.34" width="5.57" height="5.5" fill="#6f7370"/>
<rect x="58.69" y="69.34" width="5.57" height="5.5" fill="#000000"/>
<rect x="63.26" y="69.34" width="5.57" height="5.5" fill="#000000"/>
<rect x="67.83" y="69.34" width="5.57" height="5.5" fill="#000000"/>
<rect x="72.4" y="69.34" width="5.57" height="5.5" fill="#1a1e1b"/>
<rect x="76.97" y="69.34" width="5.57" height="5.5" fill="#515552"/>
<rect x="81.54" y="69.34" width="5.57" height="5.5" fill="#6a6e6b"/>
<rect x="86.11" y="69.34" width="5.57" height="5.5" fill="#7e827f"/>
<rect x="90.68" y="69.34" width="5.57" height="5.5" fill="#808481"/>
<rect x="95.25" y="69.34" width="5.57" height="5.5" fill="#8d918e"/>
<rect x="99.82" y="69.34" width="5.57" height="5.5" fill="#939794"/>
<rect x="104.39" y="69.34" width="5.57" height="5.5" fill="#9b9f9c"/>
<rect x="108.96" y="69.34" width="5.57" height="5.5" fill="#999d9a"/>
<rect x="113.53" y="69.34" width="5.57" height="5.5" fill="#9fa3a0"/>
<rect x="118.1" y="69.34" width="5.57" height="5.5" fill="#9ca09d"/>
<rect x="122.67" y="69.34" width="5.57" height="5.5" fill="#9fa3a0"/>
<rect x="127.24" y="69.34" width="5.57" height="5.5" fill="#a2a6a3"/>
<rect x="131.81" y="69.34" width="5.57" height="5.5" fill="#a9adaa"/>
<rect x="136.38" y="69.34" width="5.57" height="5.5" fill="#9fa3a0"/>
<rect x="140.95" y="69.34" width="4.75" height="5.5" fill="#9fa3a0"/>
<rect x="0" y="73.84" width="4.85" height="5.5" fill="#a4a8a5"/>
<rect x="3.85" y="73.84" width="5.57" height="5.5" fill="#a2a6a3"/>
<rect x="8.42" y="73.84" width="5.57" height="5.5" fill="#9fa3a0"/>
<rect x="12.99" y="73.84" width="5.57" height="5.5" fill="#8d918e"/>
<rect x="17.56" y="73.84" width="5.57" height="5.5" fill="#838784"/>
<rect x="22.13" y="73.84" width="5.57" height="5.5" fill="#8c908d"/>
<rect x="26.7" y="73.84" width="5.57" height="5.5" fill="#757976"/>
<rect x="31.27" y="73.84" width="5.57" height="5.5" fill="#5e625f"/>
<rect x="35.84" y="73.84" width="5.57" height="5.5" fill="#565a57"/>
<rect x="40.41" y="73.84" width="5.57" height="5.5" fill="#565a57"/>
<rect x="44.98" y="73.84" width="5.57" height="5.5" fill="#2e322f"/>
<rect x="49.55" y="73.84" width="5.57" height="5.5" fill="#2e322f"/>
<rect x="54.12" y="73.84" width="5.57" height="5.5" fill="#474b48"/>
<rect x="58.69" y="73.84" width="5.57" height="5.5" fill="#000000"/>
<rect x="63.26" y="73.84" width="5.57" height="5.5" fill="#000000"/>
<rect x="67.83" y="73.84" width="5.57" height="5.5" fill="#000000"/>
<rect x="72.4" y="73.84" width="5.57" height="5.5" fill="#383c39"/>
<rect x="76.97" y="73.84" width="5.57" height="5.5" fill="#565a57"/>
<rect x="81.54" y="73.84" width="5.57" height="5.5" fill="#656966"/>
<rect x="86.11" y="73.84" width="5.57" height="5.5" fill="#797d7a"/>
<rect x="90.68" y="73.84" width="5.57" height="5.5" fill="#848885"/>
<rect x="95.25" y="73.84" width="5.57" height="5.5" fill="#919592"/>
<rect x="99.82" y="73.84" width="5.57" height="5.5" fill="#979b98"/>
<rect x="104.39" y="73.84" width="5.57" height="5.5" fill="#9a9e9b"/>
<rect x="108.96" y="73.84" width="5.57" height="5.5" fill="#979b98"/>
<rect x="113.53" y="73.84" width="5.57" height="5.5" fill="#a0a4a1"/>
<rect x="118.1" y="73.84" width="5.57" height="5.5" fill="#a2a6a3"/>
<rect x="122.67" y="73.84" width="5.57" height="5.5" fill="#a2a6a3"/>
<rect x="127.24" y="73.84" width="5.57" height="5.5" fill="#9fa3a0"/>
<rect x="131.81" y="73.84" width="5.57" height="5.5" fill="#9a9e9b"/>
<rect x="136.38" y="73.84" width="5.57" height="5.5" fill="#9ca09d"/>
<rect x="140.95" y="73.84" width="4.75" height="5.5" fill="#9fa3a0"/>
<rect x="0" y="78.34" width="4.85" height="5.51" fill="#a2a6a3"/>
<rect x="3.85" y="78.34" width="5.57" height="5.51" fill="#989c99"/>
<rect x="8.42" y="78.34" width="5.57" height="5.51" fill="#979b98"/>
<rect x="12.99" y="78.34" width="5.57" height="5.51" fill="#909491"/>
<rect x="17.56" y="78.34" width="5.57" height="5.51" fill="#868a87"/>
<rect x="22.13" y="78.34" width="5.57" height="5.51" fill="#8b8f8c"/>
<rect x="26.7" y="78.34" width="5.57" height="5.51" fill="#858986"/>
<rect x="31.27" y="78.34" width="5.57" height="5.51" fill="#7e827f"/>
<rect x="35.84" y="78.34" width="5.57" height="5.51" fill="#606461"/>
<rect x="40.41" y="78.34" width="5.57" height="5.51" fill="#515552"/>
<rect x="44.98" y="78.34" width="5.57" height="5.51" fill="#606461"/>
<rect x="49.55" y="78.34" width="5.57" height="5.51" fill="#101411"/>
<rect x="54.12" y="78.34" width="5.57" height="5.51" fill="#000000"/>
<rect x="58.69" y="78.34" width="5.57" height="5.51" fill="#000000"/>
<rect x="63.26" y="78.34" width="5.57" height="5.51" fill="#000000"/>
<rect x="67.83" y="78.34" width="5.57" height="5.51" fill="#1a1e1b"/>
<rect x="72.4" y="78.34" width="5.57" height="5.51" fill="#606461"/>
<rect x="76.97" y="78.34" width="5.57" height="5.51" fill="#6f7370"/>
<rect x="81.54" y="78.34" width="5.57" height="5.51" fill="#727673"/>
<rect x="86.11" y="78.34" width="5.57" height="5.51" fill="#7c807d"/>
<rect x="90.68" y="78.34" width="5.57" height="5.51" fill="#8a8e8b"/>
<rect x="95.25" y="78.34" width="5.57" height="5.51" fill="#8f9390"/>
<rect x="99.82" y="78.34" width="5.57" height="5.51" fill="#909491"/>
<rect x="104.39" y="78.34" width="5.57" height="5.51" fill="#8d918e"/>
<rect x="108.96" y="78.34" width="5.57" height="5.51" fill="#979b98"/>
<rect x="113.53" y="78.34" width="5.57" height="5.51" fill="#969a97"/>
<rect x="118.1" y="78.34" width="5.57" height="5.51" fill="#9fa3a0"/>
<rect x="122.67" y="78.34" width="5.57" height="5.51" fill="#9ca09d"/>
<rect x="127.24" y="78.34" width="5.57" height="5.51" fill="#9fa3a0"/>
<rect x="131.81" y="78.34" width="5.57" height="5.51" fill="#9fa3a0"/>
<rect x="136.38" y="78.34" width="5.57" height="5.51" fill="#9ca09d"/>
<rect x="140.95" y="78.34" width="4.75" height="5.51" fill="#9fa3a0"/>
<rect x="0" y="82.85" width="4.85" height="5.5" fill="#9fa3a0"/>
<rect x="3.85" y="82.85" width="5.57" height="5.5" fill="#a1a5a2"/>
<rect x="8.42" y="82.85" width="5.57" height="5.5" fill="#9ea29f"/>
<rect x="12.99" y="82.85" width="5.57" height="5.5" fill="#989c99"/>
<rect x="17.56" y="82.85" width="5.57" height="5.5" fill="#909491"/>
<rect x="22.13" y="82.85" width="5.57" height="5.5" fill="#8e928f"/>
<rect x="26.7" y="82.85" width="5.57" height="5.5" fill="#898d8a"/>
<rect x="31.27" y="82.85" width="5.57" height="5.5" fill="#808481"/>
<rect x="35.84" y="82.85" width="5.57" height="5.5" fill="#6a6e6b"/>
<rect x="40.41" y="82.85" width="5.57" height="5.5" fill="#656966"/>
<rect x="44.98" y="82.85" width="5.57" height="5.5" fill="#5e625f"/>
<rect x="49.55" y="82.85" width="5.57" height="5.5" fill="#585c59"/>
<rect x="54.12" y="82.85" width="5.57" height="5.5" fill="#474b48"/>
<rect x="58.69" y="82.85" width="5.57" height="5.5" fill="#060a07"/>
<rect x="63.26" y="82.85" width="5.57" height="5.5" fill="#424643"/>
<rect x="67.83" y="82.85" width="5.57" height="5.5" fill="#5b5f5c"/>
<rect x="72.4" y="82.85" width="5.57" height="5.5" fill="#6a6e6b"/>
<rect x="76.97" y="82.85" width="5.57" height="5.5" fill="#7e827f"/>
<rect x="81.54" y="82.85" width="5.57" height="5.5" fill="#838784"/>
<rect x="86.11" y="82.85" width="5.57" height="5.5" fill="#808481"/>
<rect x="90.68" y="82.85" width="5.57" height="5.5" fill="#8d918e"/>
<rect x="95.25" y="82.85" width="5.57" height="5.5" fill="#939794"/>
<rect x="99.82" y="82.85" width="5.57" height="5.5" fill="#959996"/>
<rect x="104.39" y="82.85" width="5.57" height="5.5" fill="#9da19e"/>
<rect x="108.96" y="82.85" width="5.57" height="5.5" fill="#989c99"/>
<rect x="113.53" y="82.85" width="5.57" height="5.5" fill="#9b9f9c"/>
<rect x="118.1" y="82.85" width="5.57" height="5.5" fill="#9fa3a0"/>
<rect x="122.67" y="82.85" width="5.57" height="5.5" fill="#9ca09d"/>
<rect x="127.24" y="82.85" width="5.57" height="5.5" fill="#9ca09d"/>
<rect x="131.81" y="82.85" width="5.57" height="5.5" fill="#9fa3a0"/>
<rect x="136.38" y="82.85" width="5.57" height="5.5" fill="#9a9e9b"/>
<rect x="140.95" y="82.85" width="4.75" height="5.5" fill="#9fa3a0"/>
<rect x="0" y="87.36" width="4.85" height="5.5" fill="#9fa3a0"/>
<rect x="3.85" y="87.36" width="5.57" height="5.5" fill="#989c99"/>
<rect x="8.42" y="87.36" width="5.57" height="5.5" fill="#a6aaa7"/>
<rect x="12.99" y="87.36" width="5.57" height="5.5" fill="#999d9a"/>
<rect x="17.56" y="87.36" width="5.57" height="5.5" fill="#979b98"/>
<rect x="22.13" y="87.36" width="5.57" height="5.5" fill="#8f9390"/>
<rect x="26.7" y="87.36" width="5.57" height="5.5" fill="#878b88"/>
<rect x="31.27" y="87.36" width="5.57" height="5.5" fill="#858986"/>
<rect x="35.84" y="87.36" width="5.57" height="5.5" fill="#7e827f"/>
<rect x="40.41" y="87.36" width="5.57" height="5.5" fill="#747875"/>
<rect x="44.98" y="87.36" width="5.57" height="5.5" fill="#747875"/>
<rect x="49.55" y="87.36" width="5.57" height="5.5" fill="#6a6e6b"/>
<rect x="54.12" y="87.36" width="5.57" height="5.5" fill="#6f7370"/>
<rect x="58.69" y="87.36" width="5.57" height="5.5" fill="#747875"/>
<rect x="63.26" y="87.36" width="5.57" height="5.5" fill="#747875"/>
<rect x="67.83" y="87.36" width="5.57" height="5.5" fill="#797d7a"/>
<rect x="72.4" y="87.36" width="5.57" height="5.5" fill="#6a6e6b"/>
<rect x="76.97" y="87.36" width="5.57" height="5.5" fill="#7e827f"/>
<rect x="81.54" y="87.36" width="5.57" height="5.5" fill="#868a87"/>
<rect x="86.11" y="87.36" width="5.57" height="5.5" fill="#8a8e8b"/>
<rect x="90.68" y="87.36" width="5.57" height="5.5" fill="#8e928f"/>
<rect x="95.25" y="87.36" width="5.57" height="5.5" fill="#858986"/>
<rect x="99.82" y="87.36" width="5.57" height="5.5" fill="#8d918e"/>
<rect x="104.39" y="87.36" width="5.57" height="5.5" fill="#9ca09d"/>
<rect x="108.96" y="87.36" width="5.57" height="5.5" fill="#999d9a"/>
<rect x="113.53" y="87.36" width="5.57" height="5.5" fill="#9ca09d"/>
<rect x="118.1" y="87.36" width="5.57" height="5.5" fill="#9ca09d"/>
<rect x="122.67" y="87.36" width="5.57" height="5.5" fill="#959996"/>
<rect x="127.24" y="87.36" width="5.57" height="5.5" fill="#959996"/>
<rect x="131.81" y="87.36" width="5.57" height="5.5" fill="#9ca09d"/>
<rect x="136.38" y="87.36" width="5.57" height="5.5" fill="#9ca09d"/>
<rect x="140.95" y="87.36" width="4.75" height="5.5" fill="#9fa3a0"/>
<rect x="0" y="91.86" width="4.85" height="5.51" fill="#a0a4a1"/>
<rect x="3.85" y="91.86" width="5.57" height="5.51" fill="#9fa3a0"/>
<rect x="8.42" y="91.86" width="5.57" height="5.51" fill="#898d8a"/>
<rect x="12.99" y="91.86" width="5.57" height="5.51" fill="#9b9f9c"/>
<rect x="17.56" y="91.86" width="5.57" height="5.51" fill="#9da19e"/>
<rect x="22.13" y="91.86" width="5.57" height="5.51" fill="#939794"/>
<rect x="26.7" y="91.86" width="5.57" height="5.51" fill="#919592"/>
<rect x="31.27" y="91.86" width="5.57" height="5.51" fill="#909491"/>
<rect x="35.84" y="91.86" width="5.57" height="5.51" fill="#8a8e8b"/>
<rect x="40.41" y="91.86" width="5.57" height="5.51" fill="#888c89"/>
<rect x="44.98" y="91.86" width="5.57" height="5.51" fill="#7c807d"/>
<rect x="49.55" y="91.86" width="5.57" height="5.51" fill="#797d7a"/>
<rect x="54.12" y="91.86" width="5.57" height="5.51" fill="#6c706d"/>
<rect x="58.69" y="91.86" width="5.57" height="5.51" fill="#747875"/>
<rect x="63.26" y="91.86" width="5.57" height="5.51" fill="#767a77"/>
<rect x="67.83" y="91.86" width="5.57" height="5.51" fill="#767a77"/>
<rect x="72.4" y="91.86" width="5.57" height="5.51" fill="#747875"/>
<rect x="76.97" y="91.86" width="5.57" height="5.51" fill="#8d918e"/>
<rect x="81.54" y="91.86" width="5.57" height="5.51" fill="#8c908d"/>
<rect x="86.11" y="91.86" width="5.57" height="5.51" fill="#919592"/>
<rect x="90.68" y="91.86" width="5.57" height="5.51" fill="#919592"/>
<rect x="95.25" y="91.86" width="5.57" height="5.51" fill="#8e928f"/>
<rect x="99.82" y="91.86" width="5.57" height="5.51" fill="#919592"/>
<rect x="104.39" y="91.86" width="5.57" height="5.51" fill="#9a9e9b"/>
<rect x="108.96" y="91.86" width="5.57" height="5.51" fill="#a0a4a1"/>
<rect x="113.53" y="91.86" width="5.57" height="5.51" fill="#acb0ad"/>
<rect x="118.1" y="91.86" width="5.57" height="5.51" fill="#9a9e9b"/>
<rect x="122.67" y="91.86" width="5.57" height="5.51" fill="#a2a6a3"/>
<rect x="127.24" y="91.86" width="5.57" height="5.51" fill="#a2a6a3"/>
<rect x="131.81" y="91.86" width="5.57" height="5.51" fill="#a4a8a5"/>
<rect x="136.38" y="91.86" width="5.57" height="5.51" fill="#a2a6a3"/>
<rect x="140.95" y="91.86" width="4.75" height="5.51" fill="#909491"/>
<rect x="0" y="96.37" width="4.85" height="5.5" fill="#9ca09d"/>
<rect x="3.85" y="96.37" width="5.57" height="5.5" fill="#909491"/>
<rect x="8.42" y="96.37" width="5.57" height="5.5" fill="#a8aca9"/>
<rect x="12.99" y="96.37" width="5.57" height="5.5" fill="#a6aaa7"/>
<rect x="17.56" y="96.37" width="5.57" height="5.5" fill="#9ca09d"/>
<rect x="22.13" y="96.37" width="5.57" height="5.5" fill="#9a9e9b"/>
<rect x="26.7" y="96.37" width="5.57" height="5.5" fill="#959996"/>
<rect x="31.27" y="96.37" width="5.57" height="5.5" fill="#939794"/>
<rect x="35.84" y="96.37" width="5.57" height="5.5" fill="#878b88"/>
<rect x="40.41" y="96.37" width="5.57" height="5.5" fill="#888c89"/>
<rect x="44.98" y="96.37" width="5.57" height="5.5" fill="#7f8380"/>
<rect x="49.55" y="96.37" width="5.57" height="5.5" fill="#7e827f"/>
<rect x="54.12" y="96.37" width="5.57" height="5.5" fill="#8d918e"/>
<rect x="58.69" y="96.37" width="5.57" height="5.5" fill="#747875"/>
<rect x="63.26" y="96.37" width="5.57" height="5.5" fill="#747875"/>
<rect x="67.83" y="96.37" width="5.57" height="5.5" fill="#6f7370"/>
<rect x="72.4" y="96.37" width="5.57" height="5.5" fill="#757976"/>
<rect x="76.97" y="96.37" width="5.57" height="5.5" fill="#8f9390"/>
<rect x="81.54" y="96.37" width="5.57" height="5.5" fill="#989c99"/>
<rect x="86.11" y="96.37" width="5.57" height="5.5" fill="#989c99"/>
<rect x="90.68" y="96.37" width="5.57" height="5.5" fill="#959996"/>
<rect x="95.25" y="96.37" width="5.57" height="5.5" fill="#949895"/>
<rect x="99.82" y="96.37" width="5.57" height="5.5" fill="#9ea29f"/>
<rect x="104.39" y="96.37" width="5.57" height="5.5" fill="#999d9a"/>
<rect x="108.96" y="96.37" width="5.57" height="5.5" fill="#9b9f9c"/>
<rect x="113.53" y="96.37" width="5.57" height="5.5" fill="#8b8f8c"/>
<rect x="118.1" y="96.37" width="5.57" height="5.5" fill="#909491"/>
<rect x="122.67" y="96.37" width="5.57" height="5.5" fill="#a2a6a3"/>
<rect x="127.24" y="96.37" width="5.57" height="5.5" fill="#9fa3a0"/>
<rect x="131.81" y="96.37" width="5.57" height="5.5" fill="#9a9e9b"/>
<rect x="136.38" y="96.37" width="5.57" height="5.5" fill="#9ca09d"/>
<rect x="140.95" y="96.37" width="4.75" height="5.5" fill="#9fa3a0"/>
<rect x="0" y="100.87" width="4.85" height="5.5" fill="#a2a6a3"/>
<rect x="3.85" y="100.87" width="5.57" height="5.5" fill="#9fa3a0"/>
<rect x="8.42" y="100.87" width="5.57" height="5.5" fill="#9fa3a0"/>
<rect x="12.99" y="100.87" width="5.57" height="5.5" fill="#a4a8a5"/>
<rect x="17.56" y="100.87" width="5.57" height="5.5" fill="#9ea29f"/>
<rect x="22.13" y="100.87" width="5.57" height="5.5" fill="#9ca09d"/>
<rect x="26.7" y="100.87" width="5.57" height="5.5" fill="#9a9e9b"/>
<rect x="31.27" y="100.87" width="5.57" height="5.5" fill="#929693"/>
<rect x="35.84" y="100.87" width="5.57" height="5.5" fill="#8e928f"/>
<rect x="40.41" y="100.87" width="5.57" height="5.5" fill="#878b88"/>
<rect x="44.98" y="100.87" width="5.57" height="5.5" fill="#868a87"/>
<rect x="49.55" y="100.87" width="5.57" height="5.5" fill="#767a77"/>
<rect x="54.12" y="100.87" width="5.57" height="5.5" fill="#7f8380"/>
<rect x="58.69" y="100.87" width="5.57" height="5.5" fill="#7a7e7b"/>
<rect x="63.26" y="100.87" width="5.57" height="5.5" fill="#757976"/>
<rect x="67.83" y="100.87" width="5.57" height="5.5" fill="#626663"/>
<rect x="72.4" y="100.87" width="5.57" height="5.5" fill="#868a87"/>
<rect x="76.97" y="100.87" width="5.57" height="5.5" fill="#919592"/>
<rect x="81.54" y="100.87" width="5.57" height="5.5" fill="#939794"/>
<rect x="86.11" y="100.87" width="5.57" height="5.5" fill="#959996"/>
<rect x="90.68" y="100.87" width="5.57" height="5.5" fill="#979b98"/>
<rect x="95.25" y="100.87" width="5.57" height="5.5" fill="#969a97"/>
<rect x="99.82" y="100.87" width="5.57" height="5.5" fill="#7d817e"/>
<rect x="104.39" y="100.87" width="5.57" height="5.5" fill="#8e928f"/>
<rect x="108.96" y="100.87" width="5.57" height="5.5" fill="#a2a6a3"/>
<rect x="113.53" y="100.87" width="5.57" height="5.5" fill="#a2a6a3"/>
<rect x="118.1" y="100.87" width="5.57" height="5.5" fill="#a2a6a3"/>
<rect x="122.67" y="100.87" width="5.57" height="5.5" fill="#a2a6a3"/>
<rect x="127.24" y="100.87" width="5.57" height="5.5" fill="#9fa3a0"/>
<rect x="131.81" y="100.87" width="5.57" height="5.5" fill="#9fa3a0"/>
<rect x="136.38" y="100.87" width="5.57" height="5.5" fill="#989c99"/>
<rect x="140.95" y="100.87" width="4.75" height="5.5" fill="#9fa3a0"/>
<rect x="0" y="105.38" width="4.85" height="5.51" fill="#9fa3a0"/>
<rect x="3.85" y="105.38" width="5.57" height="5.51" fill="#9fa3a0"/>
<rect x="8.42" y="105.38" width="5.57" height="5.51" fill="#a4a8a5"/>
<rect x="12.99" y="105.38" width="5.57" height="5.51" fill="#9fa3a0"/>
<rect x="17.56" y="105.38" width="5.57" height="5.51" fill="#9a9e9b"/>
<rect x="22.13" y="105.38" width="5.57" height="5.51" fill="#9da19e"/>
<rect x="26.7" y="105.38" width="5.57" height="5.51" fill="#a2a6a3"/>
<rect x="31.27" y="105.38" width="5.57" height="5.51" fill="#949895"/>
<rect x="35.84" y="105.38" width="5.57" height="5.51" fill="#909491"/>
<rect x="40.41" y="105.38" width="5.57" height="5.51" fill="#8d918e"/>
<rect x="44.98" y="105.38" width="5.57" height="5.51" fill="#888c89"/>
<rect x="49.55" y="105.38" width="5.57" height="5.51" fill="#808481"/>
<rect x="54.12" y="105.38" width="5.57" height="5.51" fill="#878b88"/>
<rect x="58.69" y="105.38" width="5.57" height="5.51" fill="#8c908d"/>
<rect x="63.26" y="105.38" width="5.57" height="5.51" fill="#646865"/>
<rect x="67.83" y="105.38" width="5.57" height="5.51" fill="#828683"/>
<rect x="72.4" y="105.38" width="5.57" height="5.51" fill="#8d918e"/>
<rect x="76.97" y="105.38" width="5.57" height="5.51" fill="#919592"/>
<rect x="81.54" y="105.38" width="5.57" height="5.51" fill="#959996"/>
<rect x="86.11" y="105.38" width="5.57" height="5.51" fill="#979b98"/>
<rect x="90.68" y="105.38" width="5.57" height="5.51" fill="#9b9f9c"/>
<rect x="95.25" y="105.38" width="5.57" height="5.51" fill="#9a9e9b"/>
<rect x="99.82" y="105.38" width="5.57" height="5.51" fill="#8e928f"/>
<rect x="104.39" y="105.38" width="5.57" height="5.51" fill="#989c99"/>
<rect x="108.96" y="105.38" width="5.57" height="5.51" fill="#9a9e9b"/>
<rect x="113.53" y="105.38" width="5.57" height="5.51" fill="#9fa3a0"/>
<rect x="118.1" y="105.38" width="5.57" height="5.51" fill="#9a9e9b"/>
<rect x="122.67" y="105.38" width="5.57" height="5.51" fill="#9fa3a0"/>
<rect x="127.24" y="105.38" width="5.57" height="5.51" fill="#a6aaa7"/>
<rect x="131.81" y="105.38" width="5.57" height="5.51" fill="#9fa3a0"/>
<rect x="136.38" y="105.38" width="5.57" height="5.51" fill="#9ca09d"/>
<rect x="140.95" y="105.38" width="4.75" height="5.51" fill="#a2a6a3"/>
<rect x="0" y="109.88" width="4.85" height="5.5" fill="#a6aaa7"/>
<rect x="3.85" y="109.88" width="5.57" height="5.5" fill="#9a9e9b"/>
<rect x="8.42" y="109.88" width="5.57" height="5.5" fill="#9fa3a0"/>
<rect x="12.99" y="109.88" width="5.57" height="5.5" fill="#989c99"/>
<rect x="17.56" y="109.88" width="5.57" height="5.5" fill="#9b9f9c"/>
<rect x="22.13" y="109.88" width="5.57" height="5.5" fill="#a1a5a2"/>
<rect x="26.7" y="109.88" width="5.57" height="5.5" fill="#9ea29f"/>
<rect x="31.27" y="109.88" width="5.57" height="5.5" fill="#8a8e8b"/>
<rect x="35.84" y="109.88" width="5.57" height="5.5" fill="#979b98"/>
<rect x="40.41" y="109.88" width="5.57" height="5.5" fill="#878b88"/>
<rect x="44.98" y="109.88" width="5.57" height="5.5" fill="#8b8f8c"/>
<rect x="49.55" y="109.88" width="5.57" height="5.5" fill="#858986"/>
<rect x="54.12" y="109.88" width="5.57" height="5.5" fill="#8f9390"/>
<rect x="58.69" y="109.88" width="5.57" height="5.5" fill="#8e928f"/>
<rect x="63.26" y="109.88" width="5.57" height="5.5" fill="#858986"/>
<rect x="67.83" y="109.88" width="5.57" height="5.5" fill="#a3a7a4"/>
<rect x="72.4" y="109.88" width="5.57" height="5.5" fill="#a4a8a5"/>
<rect x="76.97" y="109.88" width="5.57" height="5.5" fill="#999d9a"/>
<rect x="81.54" y="109.88" width="5.57" height="5.5" fill="#909491"/>
<rect x="86.11" y="109.88" width="5.57" height="5.5" fill="#9ea29f"/>
<rect x="90.68" y="109.88" width="5.57" height="5.5" fill="#a0a4a1"/>
<rect x="95.25" y="109.88" width="5.57" height="5.5" fill="#959996"/>
<rect x="99.82" y="109.88" width="5.57" height="5.5" fill="#a1a5a2"/>
<rect x="104.39" y="109.88" width="5.57" height="5.5" fill="#9a9e9b"/>
<rect x="108.96" y="109.88" width="5.57" height="5.5" fill="#909491"/>
<rect x="113.53" y="109.88" width="5.57" height="5.5" fill="#989c99"/>
<rect x="118.1" y="109.88" width="5.57" height="5.5" fill="#9a9e9b"/>
<rect x="122.67" y="109.88" width="5.57" height="5.5" fill="#9fa3a0"/>
<rect x="127.24" y="109.88" width="5.57" height="5.5" fill="#a6aaa7"/>
<rect x="131.81" y="109.88" width="5.57" height="5.5" fill="#9a9e9b"/>
<rect x="136.38" y="109.88" width="5.57" height="5.5" fill="#868a87"/>
<rect x="140.95" y="109.88" width="4.75" height="5.5" fill="#9fa3a0"/>
<rect x="0" y="114.39" width="4.85" height="5.5" fill="#9a9e9b"/>
<rect x="3.85" y="114.39" width="5.57" height="5.5" fill="#9fa3a0"/>
<rect x="8.42" y="114.39" width="5.57" height="5.5" fill="#9fa3a0"/>
<rect x="12.99" y="114.39" width="5.57" height="5.5" fill="#9fa3a0"/>
<rect x="17.56" y="114.39" width="5.57" height="5.5" fill="#9fa3a0"/>
<rect x="22.13" y="114.39" width="5.57" height="5.5" fill="#a1a5a2"/>
<rect x="26.7" y="114.39" width="5.57" height="5.5" fill="#a2a6a3"/>
<rect x="31.27" y="114.39" width="5.57" height="5.5" fill="#9ea29f"/>
<rect x="35.84" y="114.39" width="5.57" height="5.5" fill="#9fa3a0"/>
<rect x="40.41" y="114.39" width="5.57" height="5.5" fill="#9b9f9c"/>
<rect x="44.98" y="114.39" width="5.57" height="5.5" fill="#949895"/>
<rect x="49.55" y="114.39" width="5.57" height="5.5" fill="#929693"/>
<rect x="54.12" y="114.39" width="5.57" height="5.5" fill="#8f9390"/>
<rect x="58.69" y="114.39" width="5.57" height="5.5" fill="#969a97"/>
<rect x="63.26" y="114.39" width="5.57" height="5.5" fill="#878b88"/>
<rect x="67.83" y="114.39" width="5.57" height="5.5" fill="#a1a5a2"/>
<rect x="72.4" y="114.39" width="5.57" height="5.5" fill="#000000"/>
<rect x="76.97" y="114.39" width="5.57" height="5.5" fill="#848885"/>
<rect x="81.54" y="114.39" width="5.57" height="5.5" fill="#9da19e"/>
<rect x="86.11" y="114.39" width="5.57" height="5.5" fill="#a0a4a1"/>
<rect x="90.68" y="114.39" width="5.57" height="5.5" fill="#989c99"/>
<rect x="95.25" y="114.39" width="5.57" height="5.5" fill="#9b9f9c"/>
<rect x="99.82" y="114.39" width="5.57" height="5.5" fill="#7c807d"/>
<rect x="104.39" y="114.39" width="5.57" height="5.5" fill="#909491"/>
<rect x="108.96" y="114.39" width="5.57" height="5.5" fill="#9fa3a0"/>
<rect x="113.53" y="114.39" width="5.57" height="5.5" fill="#9fa3a0"/>
<rect x="118.1" y="114.39" width="5.57" height="5.5" fill="#9fa3a0"/>
<rect x="122.67" y="114.39" width="5.57" height="5.5" fill="#9fa3a0"/>
<rect x="127.24" y="114.39" width="5.57" height="5.5" fill="#a2a6a3"/>
<rect x="131.81" y="114.39" width="5.57" height="5.5" fill="#989c99"/>
<rect x="136.38" y="114.39" width="5.57" height="5.5" fill="#acb0ad"/>
<rect x="140.95" y="114.39" width="4.75" height="5.5" fill="#9a9e9b"/>
<rect x="0" y="118.89" width="4.85" height="5.5" fill="#9fa3a0"/>
<rect x="3.85" y="118.89" width="5.57" height="5.5" fill="#a6aaa7"/>
<rect x="8.42" y="118.89" width="5.57" height="5.5" fill="#a6aaa7"/>
<rect x="12.99" y="118.89" width="5.57" height="5.5" fill="#9fa3a0"/>
<rect x="17.56" y="118.89" width="5.57" height="5.5" fill="#a2a6a3"/>
<rect x="22.13" y="118.89" width="5.57" height="5.5" fill="#909491"/>
<rect x="26.7" y="118.89" width="5.57" height="5.5" fill="#a2a6a3"/>
<rect x="31.27" y="118.89" width="5.57" height="5.5" fill="#a0a4a1"/>
<rect x="35.84" y="118.89" width="5.57" height="5.5" fill="#9fa3a0"/>
<rect x="40.41" y="118.89" width="5.57" height="5.5" fill="#9b9f9c"/>
<rect x="44.98" y="118.89" width="5.57" height="5.5" fill="#9da19e"/>
<rect x="49.55" y="118.89" width="5.57" height="5.5" fill="#949895"/>
<rect x="54.12" y="118.89" width="5.57" height="5.5" fill="#949895"/>
<rect x="58.69" y="118.89" width="5.57" height="5.5" fill="#858986"/>
<rect x="63.26" y="118.89" width="5.57" height="5.5" fill="#8a8e8b"/>
<rect x="67.83" y="118.89" width="5.57" height="5.5" fill="#8f9390"/>
<rect x="72.4" y="118.89" width="5.57" height="5.5" fill="#9a9e9b"/>
<rect x="76.97" y="118.89" width="5.57" height="5.5" fill="#9ea29f"/>
<rect x="81.54" y="118.89" width="5.57" height="5.5" fill="#9fa3a0"/>
<rect x="86.11" y="118.89" width="5.57" height="5.5" fill="#a4a8a5"/>
<rect x="90.68" y="118.89" width="5.57" height="5.5" fill="#9ea29f"/>
<rect x="95.25" y="118.89" width="5.57" height="5.5" fill="#9ca09d"/>
<rect x="99.82" y="118.89" width="5.57" height="5.5" fill="#868a87"/>
<rect x="104.39" y="118.89" width="5.57" height="5.5" fill="#989c99"/>
<rect x="108.96" y="118.89" width="5.57" height="5.5" fill="#9a9e9b"/>
<rect x="113.53" y="118.89" width="5.57" height="5.5" fill="#9fa3a0"/>
<rect x="118.1" y="118.89" width="5.57" height="5.5" fill="#9ca09d"/>
<rect x="122.67" y="118.89" width="5.57" height="5.5" fill="#a4a8a5"/>
<rect x="127.24" y="118.89" width="5.57" height="5.5" fill="#959996"/>
<rect x="131.81" y="118.89" width="5.57" height="5.5" fill="#9fa3a0"/>
<rect x="136.38" y="118.89" width="5.57" height="5.5" fill="#a9adaa"/>
<rect x="140.95" y="118.89" width="4.75" height="5.5" fill="#9a9e9b"/>
<rect x="0" y="123.39" width="4.85" height="5.51" fill="#9fa3a0"/>
<rect x="3.85" y="123.39" width="5.57" height="5.51" fill="#a6aaa7"/>
<rect x="8.42" y="123.39" width="5.57" height="5.51" fill="#a6aaa7"/>
<rect x="12.99" y="123.39" width="5.57" height="5.51" fill="#a4a8a5"/>
<rect x="17.56" y="123.39" width="5.57" height="5.51" fill="#9fa3a0"/>
<rect x="22.13" y="123.39" width="5.57" height="5.51" fill="#9fa3a0"/>
<rect x="26.7" y="123.39" width="5.57" height="5.51" fill="#909491"/>
<rect x="31.27" y="123.39" width="5.57" height="5.51" fill="#a2a6a3"/>
<rect x="35.84" y="123.39" width="5.57" height="5.51" fill="#a1a5a2"/>
<rect x="40.41" y="123.39" width="5.57" height="5.51" fill="#a4a8a5"/>
<rect x="44.98" y="123.39" width="5.57" height="5.51" fill="#a1a5a2"/>
<rect x="49.55" y="123.39" width="5.57" height="5.51" fill="#999d9a"/>
<rect x="54.12" y="123.39" width="5.57" height="5.51" fill="#989c99"/>
<rect x="58.69" y="123.39" width="5.57" height="5.51" fill="#8a8e8b"/>
<rect x="63.26" y="123.39" width="5.57" height="5.51" fill="#919592"/>
<rect x="67.83" y="123.39" width="5.57" height="5.51" fill="#959996"/>
<rect x="72.4" y="123.39" width="5.57" height="5.51" fill="#979b98"/>
<rect x="76.97" y="123.39" width="5.57" height="5.51" fill="#a2a6a3"/>
<rect x="81.54" y="123.39" width="5.57" height="5.51" fill="#a1a5a2"/>
<rect x="86.11" y="123.39" width="5.57" height="5.51" fill="#a2a6a3"/>
<rect x="90.68" y="123.39" width="5.57" height="5.51" fill="#a0a4a1"/>
<rect x="95.25" y="123.39" width="5.57" height="5.51" fill="#9a9e9b"/>
<rect x="99.82" y="123.39" width="5.57" height="5.51" fill="#9fa3a0"/>
<rect x="104.39" y="123.39" width="5.57" height="5.51" fill="#9fa3a0"/>
<rect x="108.96" y="123.39" width="5.57" height="5.51" fill="#a2a6a3"/>
<rect x="113.53" y="123.39" width="5.57" height="5.51" fill="#a2a6a3"/>
<rect x="118.1" y="123.39" width="5.57" height="5.51" fill="#8e928f"/>
<rect x="122.67" y="123.39" width="5.57" height="5.51" fill="#9fa3a0"/>
<rect x="127.24" y="123.39" width="5.57" height="5.51" fill="#a2a6a3"/>
<rect x="131.81" y="123.39" width="5.57" height="5.51" fill="#9ca09d"/>
<rect x="136.38" y="123.39" width="5.57" height="5.51" fill="#909491"/>
<rect x="140.95" y="123.39" width="4.75" height="5.51" fill="#9ca09d"/>
<rect x="0" y="127.9" width="4.85" height="5.5" fill="#9fa3a0"/>
<rect x="3.85" y="127.9" width="5.57" height="5.5" fill="#a6aaa7"/>
<rect x="8.42" y="127.9" width="5.57" height="5.5" fill="#a6aaa7"/>
<rect x="12.99" y="127.9" width="5.57" height="5.5" fill="#a6aaa7"/>
<rect x="17.56" y="127.9" width="5.57" height="5.5" fill="#9fa3a0"/>
<rect x="22.13" y="127.9" width="5.57" height="5.5" fill="#a6aaa7"/>
<rect x="26.7" y="127.9" width="5.57" height="5.5" fill="#a6aaa7"/>
<rect x="31.27" y="127.9" width="5.57" height="5.5" fill="#9fa3a0"/>
<rect x="35.84" y="127.9" width="5.57" height="5.5" fill="#959996"/>
<rect x="40.41" y="127.9" width="5.57" height="5.5" fill="#a2a6a3"/>
<rect x="44.98" y="127.9" width="5.57" height="5.5" fill="#a2a6a3"/>
<rect x="49.55" y="127.9" width="5.57" height="5.5" fill="#9b9f9c"/>
<rect x="54.12" y="127.9" width="5.57" height="5.5" fill="#9b9f9c"/>
<rect x="58.69" y="127.9" width="5.57" height="5.5" fill="#949895"/>
<rect x="63.26" y="127.9" width="5.57" height="5.5" fill="#999d9a"/>
<rect x="67.83" y="127.9" width="5.57" height="5.5" fill="#999d9a"/>
<rect x="72.4" y="127.9" width="5.57" height="5.5" fill="#9ca09d"/>
<rect x="76.97" y="127.9" width="5.57" height="5.5" fill="#a2a6a3"/>
<rect x="81.54" y="127.9" width="5.57" height="5.5" fill="#a4a8a5"/>
<rect x="86.11" y="127.9" width="5.57" height="5.5" fill="#9fa3a0"/>
<rect x="90.68" y="127.9" width="5.57" height="5.5" fill="#a0a4a1"/>
<rect x="95.25" y="127.9" width="5.57" height="5.5" fill="#9fa3a0"/>
<rect x="99.82" y="127.9" width="5.57" height="5.5" fill="#9fa3a0"/>
<rect x="104.39" y="127.9" width="5.57" height="5.5" fill="#a6aaa7"/>
<rect x="108.96" y="127.9" width="5.57" height="5.5" fill="#9fa3a0"/>
<rect x="113.53" y="127.9" width="5.57" height="5.5" fill="#a2a6a3"/>
<rect x="118.1" y="127.9" width="5.57" height="5.5" fill="#989c99"/>
<rect x="122.67" y="127.9" width="5.57" height="5.5" fill="#9a9e9b"/>
<rect x="127.24" y="127.9" width="5.57" height="5.5" fill="#9fa3a0"/>
<rect x="131.81" y="127.9" width="5.57" height="5.5" fill="#9fa3a0"/>
<rect x="136.38" y="127.9" width="5.57" height="5.5" fill="#9fa3a0"/>
<rect x="140.95" y="127.9" width="4.75" height="5.5" fill="#9a9e9b"/>
<rect x="0" y="132.41" width="4.85" height="5.5" fill="#9fa3a0"/>
<rect x="3.85" y="132.41" width="5.57" height="5.5" fill="#9fa3a0"/>
<rect x="8.42" y="132.41" width="5.57" height="5.5" fill="#9a9e9b"/>
<rect x="12.99" y="132.41" width="5.57" height="5.5" fill="#a2a6a3"/>
<rect x="17.56" y="132.41" width="5.57" height="5.5" fill="#9fa3a0"/>
<rect x="22.13" y="132.41" width="5.57" height="5.5" fill="#a6aaa7"/>
<rect x="26.7" y="132.41" width="5.57" height="5.5" fill="#a6aaa7"/>
<rect x="31.27" y="132.41" width="5.57" height="5.5" fill="#9fa3a0"/>
<rect x="35.84" y="132.41" width="5.57" height="5.5" fill="#9fa3a0"/>
<rect x="40.41" y="132.41" width="5.57" height="5.5" fill="#a2a6a3"/>
<rect x="44.98" y="132.41" width="5.57" height="5.5" fill="#9fa3a0"/>
<rect x="49.55" y="132.41" width="5.57" height="5.5" fill="#9ca09d"/>
<rect x="54.12" y="132.41" width="5.57" height="5.5" fill="#9ca09d"/>
<rect x="58.69" y="132.41" width="5.57" height="5.5" fill="#9ca09d"/>
<rect x="63.26" y="132.41" width="5.57" height="5.5" fill="#959996"/>
<rect x="67.83" y="132.41" width="5.57" height="5.5" fill="#9a9e9b"/>
<rect x="72.4" y="132.41" width="5.57" height="5.5" fill="#9a9e9b"/>
<rect x="76.97" y="132.41" width="5.57" height="5.5" fill="#9fa3a0"/>
<rect x="81.54" y="132.41" width="5.57" height="5.5" fill="#a2a6a3"/>
<rect x="86.11" y="132.41" width="5.57" height="5.5" fill="#a2a6a3"/>
<rect x="90.68" y="132.41" width="5.57" height="5.5" fill="#9fa3a0"/>
<rect x="95.25" y="132.41" width="5.57" height="5.5" fill="#9fa3a0"/>
<rect x="99.82" y="132.41" width="5.57" height="5.5" fill="#9fa3a0"/>
<rect x="104.39" y="132.41" width="5.57" height="5.5" fill="#9fa3a0"/>
<rect x="108.96" y="132.41" width="5.57" height="5.5" fill="#9fa3a0"/>
<rect x="113.53" y="132.41" width="5.57" height="5.5" fill="#a2a6a3"/>
<rect x="118.1" y="132.41" width="5.57" height="5.5" fill="#9ca09d"/>
<rect x="122.67" y="132.41" width="5.57" height="5.5" fill="#a6aaa7"/>
<rect x="127.24" y="132.41" width="5.57" height="5.5" fill="#9ca09d"/>
<rect x="131.81" y="132.41" width="5.57" height="5.5" fill="#9fa3a0"/>
<rect x="136.38" y="132.41" width="5.57" height="5.5" fill="#9fa3a0"/>
<rect x="140.95" y="132.41" width="4.75" height="5.5" fill="#9ca09d"/>
<rect x="0" y="136.91" width="4.85" height="4.89" fill="#a2a6a3"/>
<rect x="3.85" y="136.91" width="5.57" height="4.89" fill="#a2a6a3"/>
<rect x="8.42" y="136.91" width="5.57" height="4.89" fill="#9fa3a0"/>
<rect x="12.99" y="136.91" width="5.57" height="4.89" fill="#9ca09d"/>
<rect x="17.56" y="136.91" width="5.57" height="4.89" fill="#9ca09d"/>
<rect x="22.13" y="136.91" width="5.57" height="4.89" fill="#9fa3a0"/>
<rect x="26.7" y="136.91" width="5.57" height="4.89" fill="#9fa3a0"/>
<rect x="31.27" y="136.91" width="5.57" height="4.89" fill="#9fa3a0"/>
<rect x="35.84" y="136.91" width="5.57" height="4.89" fill="#9a9e9b"/>
<rect x="40.41" y="136.91" width="5.57" height="4.89" fill="#a6aaa7"/>
<rect x="44.98" y="136.91" width="5.57" height="4.89" fill="#a2a6a3"/>
<rect x="49.55" y="136.91" width="5.57" height="4.89" fill="#9a9e9b"/>
<rect x="54.12" y="136.91" width="5.57" height="4.89" fill="#9ca09d"/>
<rect x="58.69" y="136.91" width="5.57" height="4.89" fill="#9fa3a0"/>
<rect x="63.26" y="136.91" width="5.57" height="4.89" fill="#a2a6a3"/>
<rect x="67.83" y="136.91" width="5.57" height="4.89" fill="#9ca09d"/>
<rect x="72.4" y="136.91" width="5.57" height="4.89" fill="#9fa3a0"/>
<rect x="76.97" y="136.91" width="5.57" height="4.89" fill="#9fa3a0"/>
<rect x="81.54" y="136.91" width="5.57" height="4.89" fill="#a2a6a3"/>
<rect x="86.11" y="136.91" width="5.57" height="4.89" fill="#a2a6a3"/>
<rect x="90.68" y="136.91" width="5.57" height="4.89" fill="#a0a4a1"/>
<rect x="95.25" y="136.91" width="5.57" height="4.89" fill="#9fa3a0"/>
<rect x="99.82" y="136.91" width="5.57" height="4.89" fill="#9fa3a0"/>
<rect x="104.39" y="136.91" width="5.57" height="4.89" fill="#9fa3a0"/>
<rect x="108.96" y="136.91" width="5.57" height="4.89" fill="#9fa3a0"/>
<rect x="113.53" y="136.91" width="5.57" height="4.89" fill="#9a9e9b"/>
<rect x="118.1" y="136.91" width="5.57" height="4.89" fill="#9a9e9b"/>
<rect x="122.67" y="136.91" width="5.57" height="4.89" fill="#9fa3a0"/>
<rect x="127.24" y="136.91" width="5.57" height="4.89" fill="#9fa3a0"/>
<rect x="131.81" y="136.91" width="5.57" height="4.89" fill="#a2a6a3"/>
<rect x="136.38" y="136.91" width="5.57" height="4.89" fill="#9fa3a0"/>
<rect x="140.95" y="136.91" width="4.75" height="4.89" fill="#9ca09d"/>
</g>
<g transform="translate(45.3,327.3)">
<rect x="0" y="0" width="4.85" height="2.76" fill="#a4a8a5"/>
<rect x="3.85" y="0" width="5.57" height="2.76" fill="#a6aaa7"/>
<rect x="8.42" y="0" width="5.57" height="2.76" fill="#a6aaa7"/>
<rect x="12.99" y="0" width="5.57" height="2.76" fill="#9a9e9b"/>
<rect x="17.56" y="0" width="5.57" height="2.76" fill="#a6aaa7"/>
<rect x="22.13" y="0" width="5.57" height="2.76" fill="#a4a8a5"/>
<rect x="26.7" y="0" width="5.57" height="2.76" fill="#a4a8a5"/>
<rect x="31.27" y="0" width="5.57" height="2.76" fill="#a2a6a3"/>
<rect x="35.84" y="0" width="5.57" height="2.76" fill="#a2a6a3"/>
<rect x="40.41" y="0" width="5.57" height="2.76" fill="#9fa3a0"/>
<rect x="44.98" y="0" width="5.57" height="2.76" fill="#9fa3a0"/>
<rect x="49.55" y="0" width="5.57" height="2.76" fill="#a3a7a4"/>
<rect x="54.12" y="0" width="5.57" height="2.76" fill="#abafac"/>
<rect x="58.69" y="0" width="5.57" height="2.76" fill="#a3a7a4"/>
<rect x="63.26" y="0" width="5.57" height="2.76" fill="#9ea29f"/>
<rect x="67.83" y="0" width="5.57" height="2.76" fill="#9ea29f"/>
<rect x="72.4" y="0" width="5.57" height="2.76" fill="#a4a8a5"/>
<rect x="76.97" y="0" width="5.57" height="2.76" fill="#a6aaa7"/>
<rect x="81.54" y="0" width="5.57" height="2.76" fill="#9fa3a0"/>
<rect x="86.11" y="0" width="5.57" height="2.76" fill="#9fa3a0"/>
<rect x="90.68" y="0" width="5.57" height="2.76" fill="#a4a8a5"/>
<rect x="95.25" y="0" width="5.57" height="2.76" fill="#a4a8a5"/>
<rect x="99.82" y="0" width="5.57" height="2.76" fill="#a4a8a5"/>
<rect x="104.39" y="0" width="5.57" height="2.76" fill="#a6aaa7"/>
<rect x="108.96" y="0" width="5.57" height="2.76" fill="#9fa3a0"/>
<rect x="113.53" y="0" width="5.57" height="2.76" fill="#9fa3a0"/>
<rect x="118.1" y="0" width="5.57" height="2.76" fill="#a6aaa7"/>
<rect x="122.67" y="0" width="5.57" height="2.76" fill="#a6aaa7"/>
<rect x="127.24" y="0" width="5.57" height="2.76" fill="#a6aaa7"/>
<rect x="131.81" y="0" width="5.57" height="2.76" fill="#a9adaa"/>
<rect x="136.38" y="0" width="5.57" height="2.76" fill="#a2a6a3"/>
<rect x="140.95" y="0" width="5.65" height="2.76" fill="#a4a8a5"/>
<rect x="0" y="1.76" width="4.85" height="5.5" fill="#a2a6a3"/>
<rect x="3.85" y="1.76" width="5.57" height="5.5" fill="#a6aaa7"/>
<rect x="8.42" y="1.76" width="5.57" height="5.5" fill="#acb0ad"/>
<rect x="12.99" y="1.76" width="5.57" height="5.5" fill="#a4a8a5"/>
<rect x="17.56" y="1.76" width="5.57" height="5.5" fill="#a2a6a3"/>
<rect x="22.13" y="1.76" width="5.57" height="5.5" fill="#9a9e9b"/>
<rect x="26.7" y="1.76" width="5.57" height="5.5" fill="#a4a8a5"/>
<rect x="31.27" y="1.76" width="5.57" height="5.5" fill="#868a87"/>
<rect x="35.84" y="1.76" width="5.57" height="5.5" fill="#a8aca9"/>
<rect x="40.41" y="1.76" width="5.57" height="5.5" fill="#989c99"/>
<rect x="44.98" y="1.76" width="5.57" height="5.5" fill="#9ca09d"/>
<rect x="49.55" y="1.76" width="5.57" height="5.5" fill="#9ca09d"/>
<rect x="54.12" y="1.76" width="5.57" height="5.5" fill="#9b9f9c"/>
<rect x="58.69" y="1.76" width="5.57" height="5.5" fill="#9ea29f"/>
<rect x="63.26" y="1.76" width="5.57" height="5.5" fill="#9b9f9c"/>
<rect x="67.83" y="1.76" width="5.57" height="5.5" fill="#515552"/>
<rect x="72.4" y="1.76" width="5.57" height="5.5" fill="#747875"/>
<rect x="76.97" y="1.76" width="5.57" height="5.5" fill="#666a67"/>
<rect x="81.54" y="1.76" width="5.57" height="5.5" fill="#999d9a"/>
<rect x="86.11" y="1.76" width="5.57" height="5.5" fill="#909491"/>
<rect x="90.68" y="1.76" width="5.57" height="5.5" fill="#a4a8a5"/>
<rect x="95.25" y="1.76" width="5.57" height="5.5" fill="#a9adaa"/>
<rect x="99.82" y="1.76" width="5.57" height="5.5" fill="#9fa3a0"/>
<rect x="104.39" y="1.76" width="5.57" height="5.5" fill="#9fa3a0"/>
<rect x="108.96" y="1.76" width="5.57" height="5.5" fill="#9fa3a0"/>
<rect x="113.53" y="1.76" width="5.57" height="5.5" fill="#a6aaa7"/>
<rect x="118.1" y="1.76" width="5.57" height="5.5" fill="#a4a8a5"/>
<rect x="122.67" y="1.76" width="5.57" height="5.5" fill="#a4a8a5"/>
<rect x="127.24" y="1.76" width="5.57" height="5.5" fill="#a9adaa"/>
<rect x="131.81" y="1.76" width="5.57" height="5.5" fill="#a9adaa"/>
<rect x="136.38" y="1.76" width="5.57" height="5.5" fill="#a2a6a3"/>
<rect x="140.95" y="1.76" width="5.65" height="5.5" fill="#a4a8a5"/>
<rect x="0" y="6.26" width="4.85" height="5.5" fill="#a6aaa7"/>
<rect x="3.85" y="6.26" width="5.57" height="5.5" fill="#9a9e9b"/>
<rect x="8.42" y="6.26" width="5.57" height="5.5" fill="#a2a6a3"/>
<rect x="12.99" y="6.26" width="5.57" height="5.5" fill="#a6aaa7"/>
<rect x="17.56" y="6.26" width="5.57" height="5.5" fill="#9fa3a0"/>
<rect x="22.13" y="6.26" width="5.57" height="5.5" fill="#9a9e9b"/>
<rect x="26.7" y="6.26" width="5.57" height="5.5" fill="#9a9e9b"/>
<rect x="31.27" y="6.26" width="5.57" height="5.5" fill="#a7aba8"/>
<rect x="35.84" y="6.26" width="5.57" height="5.5" fill="#9ca09d"/>
<rect x="40.41" y="6.26" width="5.57" height="5.5" fill="#949895"/>
<rect x="44.98" y="6.26" width="5.57" height="5.5" fill="#9a9e9b"/>
<rect x="49.55" y="6.26" width="5.57" height="5.5" fill="#9ca09d"/>
<rect x="54.12" y="6.26" width="5.57" height="5.5" fill="#999d9a"/>
<rect x="58.69" y="6.26" width="5.57" height="5.5" fill="#999d9a"/>
<rect x="63.26" y="6.26" width="5.57" height="5.5" fill="#949895"/>
<rect x="67.83" y="6.26" width="5.57" height="5.5" fill="#626663"/>
<rect x="72.4" y="6.26" width="5.57" height="5.5" fill="#727673"/>
<rect x="76.97" y="6.26" width="5.57" height="5.5" fill="#919592"/>
<rect x="81.54" y="6.26" width="5.57" height="5.5" fill="#929693"/>
<rect x="86.11" y="6.26" width="5.57" height="5.5" fill="#9da19e"/>
<rect x="90.68" y="6.26" width="5.57" height="5.5" fill="#a2a6a3"/>
<rect x="95.25" y="6.26" width="5.57" height="5.5" fill="#a6aaa7"/>
<rect x="99.82" y="6.26" width="5.57" height="5.5" fill="#a6aaa7"/>
<rect x="104.39" y="6.26" width="5.57" height="5.5" fill="#a9adaa"/>
<rect x="108.96" y="6.26" width="5.57" height="5.5" fill="#a9adaa"/>
<rect x="113.53" y="6.26" width="5.57" height="5.5" fill="#a9adaa"/>
<rect x="118.1" y="6.26" width="5.57" height="5.5" fill="#a4a8a5"/>
<rect x="122.67" y="6.26" width="5.57" height="5.5" fill="#a4a8a5"/>
<rect x="127.24" y="6.26" width="5.57" height="5.5" fill="#959996"/>
<rect x="131.81" y="6.26" width="5.57" height="5.5" fill="#a2a6a3"/>
<rect x="136.38" y="6.26" width="5.57" height="5.5" fill="#a6aaa7"/>
<rect x="140.95" y="6.26" width="5.65" height="5.5" fill="#a4a8a5"/>
<rect x="0" y="10.77" width="4.85" height="5.51" fill="#a4a8a5"/>
<rect x="3.85" y="10.77" width="5.57" height="5.51" fill="#a4a8a5"/>
<rect x="8.42" y="10.77" width="5.57" height="5.51" fill="#a6aaa7"/>
<rect x="12.99" y="10.77" width="5.57" height="5.51" fill="#a6aaa7"/>
<rect x="17.56" y="10.77" width="5.57" height="5.51" fill="#a6aaa7"/>
<rect x="22.13" y="10.77" width="5.57" height="5.51" fill="#9ea29f"/>
<rect x="26.7" y="10.77" width="5.57" height="5.51" fill="#8e928f"/>
<rect x="31.27" y="10.77" width="5.57" height="5.51" fill="#8c908d"/>
<rect x="35.84" y="10.77" width="5.57" height="5.51" fill="#979b98"/>
<rect x="40.41" y="10.77" width="5.57" height="5.51" fill="#959996"/>
<rect x="44.98" y="10.77" width="5.57" height="5.51" fill="#979b98"/>
<rect x="49.55" y="10.77" width="5.57" height="5.51" fill="#9a9e9b"/>
<rect x="54.12" y="10.77" width="5.57" height="5.51" fill="#969a97"/>
<rect x="58.69" y="10.77" width="5.57" height="5.51" fill="#969a97"/>
<rect x="63.26" y="10.77" width="5.57" height="5.51" fill="#878b88"/>
<rect x="67.83" y="10.77" width="5.57" height="5.51" fill="#838784"/>
<rect x="72.4" y="10.77" width="5.57" height="5.51" fill="#838784"/>
<rect x="76.97" y="10.77" width="5.57" height="5.51" fill="#898d8a"/>
<rect x="81.54" y="10.77" width="5.57" height="5.51" fill="#959996"/>
<rect x="86.11" y="10.77" width="5.57" height="5.51" fill="#9b9f9c"/>
<rect x="90.68" y="10.77" width="5.57" height="5.51" fill="#9da19e"/>
<rect x="95.25" y="10.77" width="5.57" height="5.51" fill="#999d9a"/>
<rect x="99.82" y="10.77" width="5.57" height="5.51" fill="#a2a6a3"/>
<rect x="104.39" y="10.77" width="5.57" height="5.51" fill="#a6aaa7"/>
<rect x="108.96" y="10.77" width="5.57" height="5.51" fill="#acb0ad"/>
<rect x="113.53" y="10.77" width="5.57" height="5.51" fill="#a4a8a5"/>
<rect x="118.1" y="10.77" width="5.57" height="5.51" fill="#a4a8a5"/>
<rect x="122.67" y="10.77" width="5.57" height="5.51" fill="#a4a8a5"/>
<rect x="127.24" y="10.77" width="5.57" height="5.51" fill="#a9adaa"/>
<rect x="131.81" y="10.77" width="5.57" height="5.51" fill="#a4a8a5"/>
<rect x="136.38" y="10.77" width="5.57" height="5.51" fill="#a4a8a5"/>
<rect x="140.95" y="10.77" width="5.65" height="5.51" fill="#a2a6a3"/>
<rect x="0" y="15.28" width="4.85" height="5.51" fill="#9fa3a0"/>
<rect x="3.85" y="15.28" width="5.57" height="5.51" fill="#a2a6a3"/>
<rect x="8.42" y="15.28" width="5.57" height="5.51" fill="#9fa3a0"/>
<rect x="12.99" y="15.28" width="5.57" height="5.51" fill="#9fa3a0"/>
<rect x="17.56" y="15.28" width="5.57" height="5.51" fill="#999d9a"/>
<rect x="22.13" y="15.28" width="5.57" height="5.51" fill="#959996"/>
<rect x="26.7" y="15.28" width="5.57" height="5.51" fill="#949895"/>
<rect x="31.27" y="15.28" width="5.57" height="5.51" fill="#929693"/>
<rect x="35.84" y="15.28" width="5.57" height="5.51" fill="#909491"/>
<rect x="40.41" y="15.28" width="5.57" height="5.51" fill="#939794"/>
<rect x="44.98" y="15.28" width="5.57" height="5.51" fill="#909491"/>
<rect x="49.55" y="15.28" width="5.57" height="5.51" fill="#8f9390"/>
<rect x="54.12" y="15.28" width="5.57" height="5.51" fill="#8a8e8b"/>
<rect x="58.69" y="15.28" width="5.57" height="5.51" fill="#616562"/>
<rect x="63.26" y="15.28" width="5.57" height="5.51" fill="#6c706d"/>
<rect x="67.83" y="15.28" width="5.57" height="5.51" fill="#8a8e8b"/>
<rect x="72.4" y="15.28" width="5.57" height="5.51" fill="#9a9e9b"/>
<rect x="76.97" y="15.28" width="5.57" height="5.51" fill="#9da19e"/>
<rect x="81.54" y="15.28" width="5.57" height="5.51" fill="#979b98"/>
<rect x="86.11" y="15.28" width="5.57" height="5.51" fill="#8f9390"/>
<rect x="90.68" y="15.28" width="5.57" height="5.51" fill="#787c79"/>
<rect x="95.25" y="15.28" width="5.57" height="5.51" fill="#a1a5a2"/>
<rect x="99.82" y="15.28" width="5.57" height="5.51" fill="#999d9a"/>
<rect x="104.39" y="15.28" width="5.57" height="5.51" fill="#9fa3a0"/>
<rect x="108.96" y="15.28" width="5.57" height="5.51" fill="#a6aaa7"/>
<rect x="113.53" y="15.28" width="5.57" height="5.51" fill="#a6aaa7"/>
<rect x="118.1" y="15.28" width="5.57" height="5.51" fill="#a6aaa7"/>
<rect x="122.67" y="15.28" width="5.57" height="5.51" fill="#a6aaa7"/>
<rect x="127.24" y="15.28" width="5.57" height="5.51" fill="#a4a8a5"/>
<rect x="131.81" y="15.28" width="5.57" height="5.51" fill="#a4a8a5"/>
<rect x="136.38" y="15.28" width="5.57" height="5.51" fill="#9a9e9b"/>
<rect x="140.95" y="15.28" width="5.65" height="5.51" fill="#9fa3a0"/>
<rect x="0" y="19.78" width="4.85" height="5.5" fill="#9fa3a0"/>
<rect x="3.85" y="19.78" width="5.57" height="5.5" fill="#9a9e9b"/>
<rect x="8.42" y="19.78" width="5.57" height="5.5" fill="#9ca09d"/>
<rect x="12.99" y="19.78" width="5.57" height="5.5" fill="#9fa3a0"/>
<rect x="17.56" y="19.78" width="5.57" height="5.5" fill="#939794"/>
<rect x="22.13" y="19.78" width="5.57" height="5.5" fill="#909491"/>
<rect x="26.7" y="19.78" width="5.57" height="5.5" fill="#8e928f"/>
<rect x="31.27" y="19.78" width="5.57" height="5.5" fill="#888c89"/>
<rect x="35.84" y="19.78" width="5.57" height="5.5" fill="#8b8f8c"/>
<rect x="40.41" y="19.78" width="5.57" height="5.5" fill="#8d918e"/>
<rect x="44.98" y="19.78" width="5.57" height="5.5" fill="#838784"/>
<rect x="49.55" y="19.78" width="5.57" height="5.5" fill="#8a8e8b"/>
<rect x="54.12" y="19.78" width="5.57" height="5.5" fill="#878b88"/>
<rect x="58.69" y="19.78" width="5.57" height="5.5" fill="#848885"/>
<rect x="63.26" y="19.78" width="5.57" height="5.5" fill="#8c908d"/>
<rect x="67.83" y="19.78" width="5.57" height="5.5" fill="#8c908d"/>
<rect x="72.4" y="19.78" width="5.57" height="5.5" fill="#8f9390"/>
<rect x="76.97" y="19.78" width="5.57" height="5.5" fill="#949895"/>
<rect x="81.54" y="19.78" width="5.57" height="5.5" fill="#8e928f"/>
<rect x="86.11" y="19.78" width="5.57" height="5.5" fill="#8d918e"/>
<rect x="90.68" y="19.78" width="5.57" height="5.5" fill="#707471"/>
<rect x="95.25" y="19.78" width="5.57" height="5.5" fill="#818582"/>
<rect x="99.82" y="19.78" width="5.57" height="5.5" fill="#939794"/>
<rect x="104.39" y="19.78" width="5.57" height="5.5" fill="#909491"/>
<rect x="108.96" y="19.78" width="5.57" height="5.5" fill="#9a9e9b"/>
<rect x="113.53" y="19.78" width="5.57" height="5.5" fill="#9fa3a0"/>
<rect x="118.1" y="19.78" width="5.57" height="5.5" fill="#acb0ad"/>
<rect x="122.67" y="19.78" width="5.57" height="5.5" fill="#acb0ad"/>
<rect x="127.24" y="19.78" width="5.57" height="5.5" fill="#acb0ad"/>
<rect x="131.81" y="19.78" width="5.57" height="5.5" fill="#acb0ad"/>
<rect x="136.38" y="19.78" width="5.57" height="5.5" fill="#a4a8a5"/>
<rect x="140.95" y="19.78" width="5.65" height="5.5" fill="#868a87"/>
<rect x="0" y="24.29" width="4.85" height="5.51" fill="#a2a6a3"/>
<rect x="3.85" y="24.29" width="5.57" height="5.51" fill="#a4a8a5"/>
<rect x="8.42" y="24.29" width="5.57" height="5.51" fill="#9fa3a0"/>
<rect x="12.99" y="24.29" width="5.57" height="5.51" fill="#8e928f"/>
<rect x="17.56" y="24.29" width="5.57" height="5.51" fill="#8c908d"/>
<rect x="22.13" y="24.29" width="5.57" height="5.51" fill="#858986"/>
<rect x="26.7" y="24.29" width="5.57" height="5.51" fill="#6f7370"/>
<rect x="31.27" y="24.29" width="5.57" height="5.51" fill="#6d716e"/>
<rect x="35.84" y="24.29" width="5.57" height="5.51" fill="#7a7e7b"/>
<rect x="40.41" y="24.29" width="5.57" height="5.51" fill="#7d817e"/>
<rect x="44.98" y="24.29" width="5.57" height="5.51" fill="#818582"/>
<rect x="49.55" y="24.29" width="5.57" height="5.51" fill="#767a77"/>
<rect x="54.12" y="24.29" width="5.57" height="5.51" fill="#7a7e7b"/>
<rect x="58.69" y="24.29" width="5.57" height="5.51" fill="#757976"/>
<rect x="63.26" y="24.29" width="5.57" height="5.51" fill="#7f8380"/>
<rect x="67.83" y="24.29" width="5.57" height="5.51" fill="#949895"/>
<rect x="72.4" y="24.29" width="5.57" height="5.51" fill="#959996"/>
<rect x="76.97" y="24.29" width="5.57" height="5.51" fill="#969a97"/>
<rect x="81.54" y="24.29" width="5.57" height="5.51" fill="#848885"/>
<rect x="86.11" y="24.29" width="5.57" height="5.51" fill="#5e625f"/>
<rect x="90.68" y="24.29" width="5.57" height="5.51" fill="#797d7a"/>
<rect x="95.25" y="24.29" width="5.57" height="5.51" fill="#949895"/>
<rect x="99.82" y="24.29" width="5.57" height="5.51" fill="#919592"/>
<rect x="104.39" y="24.29" width="5.57" height="5.51" fill="#9da19e"/>
<rect x="108.96" y="24.29" width="5.57" height="5.51" fill="#9fa3a0"/>
<rect x="113.53" y="24.29" width="5.57" height="5.51" fill="#a4a8a5"/>
<rect x="118.1" y="24.29" width="5.57" height="5.51" fill="#a4a8a5"/>
<rect x="122.67" y="24.29" width="5.57" height="5.51" fill="#a4a8a5"/>
<rect x="127.24" y="24.29" width="5.57" height="5.51" fill="#a9adaa"/>
<rect x="131.81" y="24.29" width="5.57" height="5.51" fill="#acb0ad"/>
<rect x="136.38" y="24.29" width="5.57" height="5.51" fill="#a6aaa7"/>
<rect x="140.95" y="24.29" width="5.65" height="5.51" fill="#aeb2af"/>
<rect x="0" y="28.79" width="4.85" height="5.5" fill="#a2a6a3"/>
<rect x="3.85" y="28.79" width="5.57" height="5.5" fill="#a2a6a3"/>
<rect x="8.42" y="28.79" width="5.57" height="5.5" fill="#949895"/>
<rect x="12.99" y="28.79" width="5.57" height="5.5" fill="#979b98"/>
<rect x="17.56" y="28.79" width="5.57" height="5.5" fill="#929693"/>
<rect x="22.13" y="28.79" width="5.57" height="5.5" fill="#888c89"/>
<rect x="26.7" y="28.79" width="5.57" height="5.5" fill="#818582"/>
<rect x="31.27" y="28.79" width="5.57" height="5.5" fill="#707471"/>
<rect x="35.84" y="28.79" width="5.57" height="5.5" fill="#5b5f5c"/>
<rect x="40.41" y="28.79" width="5.57" height="5.5" fill="#6c706d"/>
<rect x="44.98" y="28.79" width="5.57" height="5.5" fill="#7f8380"/>
<rect x="49.55" y="28.79" width="5.57" height="5.5" fill="#7e827f"/>
<rect x="54.12" y="28.79" width="5.57" height="5.5" fill="#888c89"/>
<rect x="58.69" y="28.79" width="5.57" height="5.5" fill="#7e827f"/>
<rect x="63.26" y="28.79" width="5.57" height="5.5" fill="#868a87"/>
<rect x="67.83" y="28.79" width="5.57" height="5.5" fill="#868a87"/>
<rect x="72.4" y="28.79" width="5.57" height="5.5" fill="#878b88"/>
<rect x="76.97" y="28.79" width="5.57" height="5.5" fill="#8a8e8b"/>
<rect x="81.54" y="28.79" width="5.57" height="5.5" fill="#878b88"/>
<rect x="86.11" y="28.79" width="5.57" height="5.5" fill="#707471"/>
<rect x="90.68" y="28.79" width="5.57" height="5.5" fill="#909491"/>
<rect x="95.25" y="28.79" width="5.57" height="5.5" fill="#929693"/>
<rect x="99.82" y="28.79" width="5.57" height="5.5" fill="#949895"/>
<rect x="104.39" y="28.79" width="5.57" height="5.5" fill="#838784"/>
<rect x="108.96" y="28.79" width="5.57" height="5.5" fill="#858986"/>
<rect x="113.53" y="28.79" width="5.57" height="5.5" fill="#9fa3a0"/>
<rect x="118.1" y="28.79" width="5.57" height="5.5" fill="#a4a8a5"/>
<rect x="122.67" y="28.79" width="5.57" height="5.5" fill="#a4a8a5"/>
<rect x="127.24" y="28.79" width="5.57" height="5.5" fill="#9a9e9b"/>
<rect x="131.81" y="28.79" width="5.57" height="5.5" fill="#a2a6a3"/>
<rect x="136.38" y="28.79" width="5.57" height="5.5" fill="#a4a8a5"/>
<rect x="140.95" y="28.79" width="5.65" height="5.5" fill="#a4a8a5"/>
<rect x="0" y="33.3" width="4.85" height="5.5" fill="#9a9e9b"/>
<rect x="3.85" y="33.3" width="5.57" height="5.5" fill="#909491"/>
<rect x="8.42" y="33.3" width="5.57" height="5.5" fill="#989c99"/>
<rect x="12.99" y="33.3" width="5.57" height="5.5" fill="#939794"/>
<rect x="17.56" y="33.3" width="5.57" height="5.5" fill="#7f8380"/>
<rect x="22.13" y="33.3" width="5.57" height="5.5" fill="#8b8f8c"/>
<rect x="26.7" y="33.3" width="5.57" height="5.5" fill="#8e928f"/>
<rect x="31.27" y="33.3" width="5.57" height="5.5" fill="#646865"/>
<rect x="35.84" y="33.3" width="5.57" height="5.5" fill="#515552"/>
<rect x="40.41" y="33.3" width="5.57" height="5.5" fill="#6f7370"/>
<rect x="44.98" y="33.3" width="5.57" height="5.5" fill="#797d7a"/>
<rect x="49.55" y="33.3" width="5.57" height="5.5" fill="#797d7a"/>
<rect x="54.12" y="33.3" width="5.57" height="5.5" fill="#7c807d"/>
<rect x="58.69" y="33.3" width="5.57" height="5.5" fill="#7c807d"/>
<rect x="63.26" y="33.3" width="5.57" height="5.5" fill="#747875"/>
<rect x="67.83" y="33.3" width="5.57" height="5.5" fill="#747875"/>
<rect x="72.4" y="33.3" width="5.57" height="5.5" fill="#7c807d"/>
<rect x="76.97" y="33.3" width="5.57" height="5.5" fill="#a1a5a2"/>
<rect x="81.54" y="33.3" width="5.57" height="5.5" fill="#808481"/>
<rect x="86.11" y="33.3" width="5.57" height="5.5" fill="#828683"/>
<rect x="90.68" y="33.3" width="5.57" height="5.5" fill="#8e928f"/>
<rect x="95.25" y="33.3" width="5.57" height="5.5" fill="#959996"/>
<rect x="99.82" y="33.3" width="5.57" height="5.5" fill="#9b9f9c"/>
<rect x="104.39" y="33.3" width="5.57" height="5.5" fill="#9a9e9b"/>
<rect x="108.96" y="33.3" width="5.57" height="5.5" fill="#8e928f"/>
<rect x="113.53" y="33.3" width="5.57" height="5.5" fill="#9fa3a0"/>
<rect x="118.1" y="33.3" width="5.57" height="5.5" fill="#a4a8a5"/>
<rect x="122.67" y="33.3" width="5.57" height="5.5" fill="#a9adaa"/>
<rect x="127.24" y="33.3" width="5.57" height="5.5" fill="#9fa3a0"/>
<rect x="131.81" y="33.3" width="5.57" height="5.5" fill="#9a9e9b"/>
<rect x="136.38" y="33.3" width="5.57" height="5.5" fill="#a4a8a5"/>
<rect x="140.95" y="33.3" width="5.65" height="5.5" fill="#909491"/>
<rect x="0" y="37.8" width="4.85" height="5.51" fill="#9fa3a0"/>
<rect x="3.85" y="37.8" width="5.57" height="5.51" fill="#9ca09d"/>
<rect x="8.42" y="37.8" width="5.57" height="5.51" fill="#929693"/>
<rect x="12.99" y="37.8" width="5.57" height="5.51" fill="#8c908d"/>
<rect x="17.56" y="37.8" width="5.57" height="5.51" fill="#7e827f"/>
<rect x="22.13" y="37.8" width="5.57" height="5.51" fill="#8d918e"/>
<rect x="26.7" y="37.8" width="5.57" height="5.51" fill="#848885"/>
<rect x="31.27" y="37.8" width="5.57" height="5.51" fill="#717572"/>
<rect x="35.84" y="37.8" width="5.57" height="5.51" fill="#6a6e6b"/>
<rect x="40.41" y="37.8" width="5.57" height="5.51" fill="#747875"/>
<rect x="44.98" y="37.8" width="5.57" height="5.51" fill="#747875"/>
<rect x="49.55" y="37.8" width="5.57" height="5.51" fill="#686c69"/>
<rect x="54.12" y="37.8" width="5.57" height="5.51" fill="#686c69"/>
<rect x="58.69" y="37.8" width="5.57" height="5.51" fill="#6a6e6b"/>
<rect x="63.26" y="37.8" width="5.57" height="5.51" fill="#6f7370"/>
<rect x="67.83" y="37.8" width="5.57" height="5.51" fill="#6f7370"/>
<rect x="72.4" y="37.8" width="5.57" height="5.51" fill="#6f7370"/>
<rect x="76.97" y="37.8" width="5.57" height="5.51" fill="#7e827f"/>
<rect x="81.54" y="37.8" width="5.57" height="5.51" fill="#838784"/>
<rect x="86.11" y="37.8" width="5.57" height="5.51" fill="#808481"/>
<rect x="90.68" y="37.8" width="5.57" height="5.51" fill="#969a97"/>
<rect x="95.25" y="37.8" width="5.57" height="5.51" fill="#979b98"/>
<rect x="99.82" y="37.8" width="5.57" height="5.51" fill="#9a9e9b"/>
<rect x="104.39" y="37.8" width="5.57" height="5.51" fill="#9ea29f"/>
<rect x="108.96" y="37.8" width="5.57" height="5.51" fill="#a1a5a2"/>
<rect x="113.53" y="37.8" width="5.57" height="5.51" fill="#a2a6a3"/>
<rect x="118.1" y="37.8" width="5.57" height="5.51" fill="#a4a8a5"/>
<rect x="122.67" y="37.8" width="5.57" height="5.51" fill="#a2a6a3"/>
<rect x="127.24" y="37.8" width="5.57" height="5.51" fill="#9a9e9b"/>
<rect x="131.81" y="37.8" width="5.57" height="5.51" fill="#a4a8a5"/>
<rect x="136.38" y="37.8" width="5.57" height="5.51" fill="#9fa3a0"/>
<rect x="140.95" y="37.8" width="5.65" height="5.51" fill="#a4a8a5"/>
<rect x="0" y="42.3" width="4.85" height="5.5" fill="#a4a8a5"/>
<rect x="3.85" y="42.3" width="5.57" height="5.5" fill="#a1a5a2"/>
<rect x="8.42" y="42.3" width="5.57" height="5.5" fill="#9ea29f"/>
<rect x="12.99" y="42.3" width="5.57" height="5.5" fill="#9b9f9c"/>
<rect x="17.56" y="42.3" width="5.57" height="5.5" fill="#909491"/>
<rect x="22.13" y="42.3" width="5.57" height="5.5" fill="#909491"/>
<rect x="26.7" y="42.3" width="5.57" height="5.5" fill="#868a87"/>
<rect x="31.27" y="42.3" width="5.57" height="5.5" fill="#747875"/>
<rect x="35.84" y="42.3" width="5.57" height="5.5" fill="#838784"/>
<rect x="40.41" y="42.3" width="5.57" height="5.5" fill="#7c807d"/>
<rect x="44.98" y="42.3" width="5.57" height="5.5" fill="#747875"/>
<rect x="49.55" y="42.3" width="5.57" height="5.5" fill="#5b5f5c"/>
<rect x="54.12" y="42.3" width="5.57" height="5.5" fill="#1a1e1b"/>
<rect x="58.69" y="42.3" width="5.57" height="5.5" fill="#000000"/>
<rect x="63.26" y="42.3" width="5.57" height="5.5" fill="#000000"/>
<rect x="67.83" y="42.3" width="5.57" height="5.5" fill="#1f2320"/>
<rect x="72.4" y="42.3" width="5.57" height="5.5" fill="#606461"/>
<rect x="76.97" y="42.3" width="5.57" height="5.5" fill="#6a6e6b"/>
<rect x="81.54" y="42.3" width="5.57" height="5.5" fill="#7e827f"/>
<rect x="86.11" y="42.3" width="5.57" height="5.5" fill="#979b98"/>
<rect x="90.68" y="42.3" width="5.57" height="5.5" fill="#939794"/>
<rect x="95.25" y="42.3" width="5.57" height="5.5" fill="#9a9e9b"/>
<rect x="99.82" y="42.3" width="5.57" height="5.5" fill="#9ca09d"/>
<rect x="104.39" y="42.3" width="5.57" height="5.5" fill="#9fa3a0"/>
<rect x="108.96" y="42.3" width="5.57" height="5.5" fill="#a2a6a3"/>
<rect x="113.53" y="42.3" width="5.57" height="5.5" fill="#a5a9a6"/>
<rect x="118.1" y="42.3" width="5.57" height="5.5" fill="#9fa3a0"/>
<rect x="122.67" y="42.3" width="5.57" height="5.5" fill="#a2a6a3"/>
<rect x="127.24" y="42.3" width="5.57" height="5.5" fill="#a2a6a3"/>
<rect x="131.81" y="42.3" width="5.57" height="5.5" fill="#9a9e9b"/>
<rect x="136.38" y="42.3" width="5.57" height="5.5" fill="#a4a8a5"/>
<rect x="140.95" y="42.3" width="5.65" height="5.5" fill="#a2a6a3"/>
<rect x="0" y="46.81" width="4.85" height="5.51" fill="#9fa3a0"/>
<rect x="3.85" y="46.81" width="5.57" height="5.51" fill="#9da19e"/>
<rect x="8.42" y="46.81" width="5.57" height="5.51" fill="#9da19e"/>
<rect x="12.99" y="46.81" width="5.57" height="5.51" fill="#979b98"/>
<rect x="17.56" y="46.81" width="5.57" height="5.51" fill="#8e928f"/>
<rect x="22.13" y="46.81" width="5.57" height="5.51" fill="#8d918e"/>
<rect x="26.7" y="46.81" width="5.57" height="5.51" fill="#808481"/>
<rect x="31.27" y="46.81" width="5.57" height="5.51" fill="#838784"/>
<rect x="35.84" y="46.81" width="5.57" height="5.51" fill="#797d7a"/>
<rect x="40.41" y="46.81" width="5.57" height="5.51" fill="#6a6e6b"/>
<rect x="44.98" y="46.81" width="5.57" height="5.51" fill="#686c69"/>
<rect x="49.55" y="46.81" width="5.57" height="5.51" fill="#292d2a"/>
<rect x="54.12" y="46.81" width="5.57" height="5.51" fill="#010502"/>
<rect x="58.69" y="46.81" width="5.57" height="5.51" fill="#000000"/>
<rect x="63.26" y="46.81" width="5.57" height="5.51" fill="#000000"/>
<rect x="67.83" y="46.81" width="5.57" height="5.51" fill="#040805"/>
<rect x="72.4" y="46.81" width="5.57" height="5.51" fill="#606461"/>
<rect x="76.97" y="46.81" width="5.57" height="5.51" fill="#656966"/>
<rect x="81.54" y="46.81" width="5.57" height="5.51" fill="#747875"/>
<rect x="86.11" y="46.81" width="5.57" height="5.51" fill="#8d918e"/>
<rect x="90.68" y="46.81" width="5.57" height="5.51" fill="#949895"/>
<rect x="95.25" y="46.81" width="5.57" height="5.51" fill="#959996"/>
<rect x="99.82" y="46.81" width="5.57" height="5.51" fill="#9a9e9b"/>
<rect x="104.39" y="46.81" width="5.57" height="5.51" fill="#9ea29f"/>
<rect x="108.96" y="46.81" width="5.57" height="5.51" fill="#9fa3a0"/>
<rect x="113.53" y="46.81" width="5.57" height="5.51" fill="#8e928f"/>
<rect x="118.1" y="46.81" width="5.57" height="5.51" fill="#909491"/>
<rect x="122.67" y="46.81" width="5.57" height="5.51" fill="#8b8f8c"/>
<rect x="127.24" y="46.81" width="5.57" height="5.51" fill="#a2a6a3"/>
<rect x="131.81" y="46.81" width="5.57" height="5.51" fill="#9a9e9b"/>
<rect x="136.38" y="46.81" width="5.57" height="5.51" fill="#a4a8a5"/>
<rect x="140.95" y="46.81" width="5.65" height="5.51" fill="#a2a6a3"/>
<rect x="0" y="51.31" width="4.85" height="5.51" fill="#a6aaa7"/>
<rect x="3.85" y="51.31" width="5.57" height="5.51" fill="#9da19e"/>
<rect x="8.42" y="51.31" width="5.57" height="5.51" fill="#9da19e"/>
<rect x="12.99" y="51.31" width="5.57" height="5.51" fill="#979b98"/>
<rect x="17.56" y="51.31" width="5.57" height="5.51" fill="#8a8e8b"/>
<rect x="22.13" y="51.31" width="5.57" height="5.51" fill="#8c908d"/>
<rect x="26.7" y="51.31" width="5.57" height="5.51" fill="#848885"/>
<rect x="31.27" y="51.31" width="5.57" height="5.51" fill="#888c89"/>
<rect x="35.84" y="51.31" width="5.57" height="5.51" fill="#606461"/>
<rect x="40.41" y="51.31" width="5.57" height="5.51" fill="#606461"/>
<rect x="44.98" y="51.31" width="5.57" height="5.51" fill="#515552"/>
<rect x="49.55" y="51.31" width="5.57" height="5.51" fill="#010502"/>
<rect x="54.12" y="51.31" width="5.57" height="5.51" fill="#000000"/>
<rect x="58.69" y="51.31" width="5.57" height="5.51" fill="#000000"/>
<rect x="63.26" y="51.31" width="5.57" height="5.51" fill="#000000"/>
<rect x="67.83" y="51.31" width="5.57" height="5.51" fill="#3d413e"/>
<rect x="72.4" y="51.31" width="5.57" height="5.51" fill="#5b5f5c"/>
<rect x="76.97" y="51.31" width="5.57" height="5.51" fill="#6a6e6b"/>
<rect x="81.54" y="51.31" width="5.57" height="5.51" fill="#6f7370"/>
<rect x="86.11" y="51.31" width="5.57" height="5.51" fill="#888c89"/>
<rect x="90.68" y="51.31" width="5.57" height="5.51" fill="#8e928f"/>
<rect x="95.25" y="51.31" width="5.57" height="5.51" fill="#919592"/>
<rect x="99.82" y="51.31" width="5.57" height="5.51" fill="#919592"/>
<rect x="104.39" y="51.31" width="5.57" height="5.51" fill="#9a9e9b"/>
<rect x="108.96" y="51.31" width="5.57" height="5.51" fill="#909491"/>
<rect x="113.53" y="51.31" width="5.57" height="5.51" fill="#848885"/>
<rect x="118.1" y="51.31" width="5.57" height="5.51" fill="#a2a6a3"/>
<rect x="122.67" y="51.31" width="5.57" height="5.51" fill="#a4a8a5"/>
<rect x="127.24" y="51.31" width="5.57" height="5.51" fill="#a2a6a3"/>
<rect x="131.81" y="51.31" width="5.57" height="5.51" fill="#9ca09d"/>
<rect x="136.38" y="51.31" width="5.57" height="5.51" fill="#a4a8a5"/>
<rect x="140.95" y="51.31" width="5.65" height="5.51" fill="#a2a6a3"/>
<rect x="0" y="55.82" width="4.85" height="5.5" fill="#a2a6a3"/>
<rect x="3.85" y="55.82" width="5.57" height="5.5" fill="#a6aaa7"/>
<rect x="8.42" y="55.82" width="5.57" height="5.5" fill="#999d9a"/>
<rect x="12.99" y="55.82" width="5.57" height="5.5" fill="#939794"/>
<rect x="17.56" y="55.82" width="5.57" height="5.5" fill="#898d8a"/>
<rect x="22.13" y="55.82" width="5.57" height="5.5" fill="#868a87"/>
<rect x="26.7" y="55.82" width="5.57" height="5.5" fill="#7e827f"/>
<rect x="31.27" y="55.82" width="5.57" height="5.5" fill="#7e827f"/>
<rect x="35.84" y="55.82" width="5.57" height="5.5" fill="#6f7370"/>
<rect x="40.41" y="55.82" width="5.57" height="5.5" fill="#333734"/>
<rect x="44.98" y="55.82" width="5.57" height="5.5" fill="#000000"/>
<rect x="49.55" y="55.82" width="5.57" height="5.5" fill="#000000"/>
<rect x="54.12" y="55.82" width="5.57" height="5.5" fill="#000000"/>
<rect x="58.69" y="55.82" width="5.57" height="5.5" fill="#000000"/>
<rect x="63.26" y="55.82" width="5.57" height="5.5" fill="#000000"/>
<rect x="67.83" y="55.82" width="5.57" height="5.5" fill="#151916"/>
<rect x="72.4" y="55.82" width="5.57" height="5.5" fill="#565a57"/>
<rect x="76.97" y="55.82" width="5.57" height="5.5" fill="#656966"/>
<rect x="81.54" y="55.82" width="5.57" height="5.5" fill="#6a6e6b"/>
<rect x="86.11" y="55.82" width="5.57" height="5.5" fill="#7e827f"/>
<rect x="90.68" y="55.82" width="5.57" height="5.5" fill="#838784"/>
<rect x="95.25" y="55.82" width="5.57" height="5.5" fill="#8d918e"/>
<rect x="99.82" y="55.82" width="5.57" height="5.5" fill="#909491"/>
<rect x="104.39" y="55.82" width="5.57" height="5.5" fill="#939794"/>
<rect x="108.96" y="55.82" width="5.57" height="5.5" fill="#999d9a"/>
<rect x="113.53" y="55.82" width="5.57" height="5.5" fill="#959996"/>
<rect x="118.1" y="55.82" width="5.57" height="5.5" fill="#9fa3a0"/>
<rect x="122.67" y="55.82" width="5.57" height="5.5" fill="#9fa3a0"/>
<rect x="127.24" y="55.82" width="5.57" height="5.5" fill="#a2a6a3"/>
<rect x="131.81" y="55.82" width="5.57" height="5.5" fill="#a4a8a5"/>
<rect x="136.38" y="55.82" width="5.57" height="5.5" fill="#a6aaa7"/>
<rect x="140.95" y="55.82" width="5.65" height="5.5" fill="#a2a6a3"/>
<rect x="0" y="60.32" width="4.85" height="5.51" fill="#a4a8a5"/>
<rect x="3.85" y="60.32" width="5.57" height="5.51" fill="#9ca09d"/>
<rect x="8.42" y="60.32" width="5.57" height="5.51" fill="#8a8e8b"/>
<rect x="12.99" y="60.32" width="5.57" height="5.51" fill="#919592"/>
<rect x="17.56" y="60.32" width="5.57" height="5.51" fill="#8e928f"/>
<rect x="22.13" y="60.32" width="5.57" height="5.51" fill="#8b8f8c"/>
<rect x="26.7" y="60.32" width="5.57" height="5.51" fill="#7e827f"/>
<rect x="31.27" y="60.32" width="5.57" height="5.51" fill="#7e827f"/>
<rect x="35.84" y="60.32" width="5.57" height="5.51" fill="#565a57"/>
<rect x="40.41" y="60.32" width="5.57" height="5.51" fill="#060a07"/>
<rect x="44.98" y="60.32" width="5.57" height="5.51" fill="#000000"/>
<rect x="49.55" y="60.32" width="5.57" height="5.51" fill="#515552"/>
<rect x="54.12" y="60.32" width="5.57" height="5.51" fill="#6f7370"/>
<rect x="58.69" y="60.32" width="5.57" height="5.51" fill="#000000"/>
<rect x="63.26" y="60.32" width="5.57" height="5.51" fill="#000000"/>
<rect x="67.83" y="60.32" width="5.57" height="5.51" fill="#000000"/>
<rect x="72.4" y="60.32" width="5.57" height="5.51" fill="#606461"/>
<rect x="76.97" y="60.32" width="5.57" height="5.51" fill="#747875"/>
<rect x="81.54" y="60.32" width="5.57" height="5.51" fill="#6a6e6b"/>
<rect x="86.11" y="60.32" width="5.57" height="5.51" fill="#7e827f"/>
<rect x="90.68" y="60.32" width="5.57" height="5.51" fill="#8d918e"/>
<rect x="95.25" y="60.32" width="5.57" height="5.51" fill="#8d918e"/>
<rect x="99.82" y="60.32" width="5.57" height="5.51" fill="#969a97"/>
<rect x="104.39" y="60.32" width="5.57" height="5.51" fill="#999d9a"/>
<rect x="108.96" y="60.32" width="5.57" height="5.51" fill="#999d9a"/>
<rect x="113.53" y="60.32" width="5.57" height="5.51" fill="#979b98"/>
<rect x="118.1" y="60.32" width="5.57" height="5.51" fill="#9fa3a0"/>
<rect x="122.67" y="60.32" width="5.57" height="5.51" fill="#9fa3a0"/>
<rect x="127.24" y="60.32" width="5.57" height="5.51" fill="#9fa3a0"/>
<rect x="131.81" y="60.32" width="5.57" height="5.51" fill="#9a9e9b"/>
<rect x="136.38" y="60.32" width="5.57" height="5.51" fill="#9a9e9b"/>
<rect x="140.95" y="60.32" width="5.65" height="5.51" fill="#9fa3a0"/>
<rect x="0" y="64.83" width="4.85" height="5.51" fill="#a2a6a3"/>
<rect x="3.85" y="64.83" width="5.57" height="5.51" fill="#9ca09d"/>
<rect x="8.42" y="64.83" width="5.57" height="5.51" fill="#929693"/>
<rect x="12.99" y="64.83" width="5.57" height="5.51" fill="#6e726f"/>
<rect x="17.56" y="64.83" width="5.57" height="5.51" fill="#9da19e"/>
<rect x="22.13" y="64.83" width="5.57" height="5.51" fill="#868a87"/>
<rect x="26.7" y="64.83" width="5.57" height="5.51" fill="#7e827f"/>
<rect x="31.27" y="64.83" width="5.57" height="5.51" fill="#797d7a"/>
<rect x="35.84" y="64.83" width="5.57" height="5.51" fill="#4e524f"/>
<rect x="40.41" y="64.83" width="5.57" height="5.51" fill="#222623"/>
<rect x="44.98" y="64.83" width="5.57" height="5.51" fill="#747875"/>
<rect x="49.55" y="64.83" width="5.57" height="5.51" fill="#797d7a"/>
<rect x="54.12" y="64.83" width="5.57" height="5.51" fill="#797d7a"/>
<rect x="58.69" y="64.83" width="5.57" height="5.51" fill="#000000"/>
<rect x="63.26" y="64.83" width="5.57" height="5.51" fill="#000000"/>
<rect x="67.83" y="64.83" width="5.57" height="5.51" fill="#000000"/>
<rect x="72.4" y="64.83" width="5.57" height="5.51" fill="#292d2a"/>
<rect x="76.97" y="64.83" width="5.57" height="5.51" fill="#656966"/>
<rect x="81.54" y="64.83" width="5.57" height="5.51" fill="#6a6e6b"/>
<rect x="86.11" y="64.83" width="5.57" height="5.51" fill="#747875"/>
<rect x="90.68" y="64.83" width="5.57" height="5.51" fill="#838784"/>
<rect x="95.25" y="64.83" width="5.57" height="5.51" fill="#8b8f8c"/>
<rect x="99.82" y="64.83" width="5.57" height="5.51" fill="#8e928f"/>
<rect x="104.39" y="64.83" width="5.57" height="5.51" fill="#7d817e"/>
<rect x="108.96" y="64.83" width="5.57" height="5.51" fill="#9ca09d"/>
<rect x="113.53" y="64.83" width="5.57" height="5.51" fill="#999d9a"/>
<rect x="118.1" y="64.83" width="5.57" height="5.51" fill="#868a87"/>
<rect x="122.67" y="64.83" width="5.57" height="5.51" fill="#9a9e9b"/>
<rect x="127.24" y="64.83" width="5.57" height="5.51" fill="#a2a6a3"/>
<rect x="131.81" y="64.83" width="5.57" height="5.51" fill="#9fa3a0"/>
<rect x="136.38" y="64.83" width="5.57" height="5.51" fill="#8b8f8c"/>
<rect x="140.95" y="64.83" width="5.65" height="5.51" fill="#909491"/>
<rect x="0" y="69.34" width="4.85" height="5.5" fill="#a2a6a3"/>
<rect x="3.85" y="69.34" width="5.57" height="5.5" fill="#999d9a"/>
<rect x="8.42" y="69.34" width="5.57" height="5.5" fill="#969a97"/>
<rect x="12.99" y="69.34" width="5.57" height="5.5" fill="#939794"/>
<rect x="17.56" y="69.34" width="5.57" height="5.5" fill="#8c908d"/>
<rect x="22.13" y="69.34" width="5.57" height="5.5" fill="#8b8f8c"/>
<rect x="26.7" y="69.34" width="5.57" height="5.5" fill="#767a77"/>
<rect x="31.27" y="69.34" width="5.57" height="5.5" fill="#5e625f"/>
<rect x="35.84" y="69.34" width="5.57" height="5.5" fill="#606461"/>
<rect x="40.41" y="69.34" width="5.57" height="5.5" fill="#2e322f"/>
<rect x="44.98" y="69.34" width="5.57" height="5.5" fill="#2e322f"/>
<rect x="49.55" y="69.34" width="5.57" height="5.5" fill="#747875"/>
<rect x="54.12" y="69.34" width="5.57" height="5.5" fill="#6f7370"/>
<rect x="58.69" y="69.34" width="5.57" height="5.5" fill="#000000"/>
<rect x="63.26" y="69.34" width="5.57" height="5.5" fill="#000000"/>
<rect x="67.83" y="69.34" width="5.57" height="5.5" fill="#000000"/>
<rect x="72.4" y="69.34" width="5.57" height="5.5" fill="#1a1e1b"/>
<rect x="76.97" y="69.34" width="5.57" height="5.5" fill="#515552"/>
<rect x="81.54" y="69.34" width="5.57" height="5.5" fill="#6a6e6b"/>
<rect x="86.11" y="69.34" width="5.57" height="5.5" fill="#7e827f"/>
<rect x="90.68" y="69.34" width="5.57" height="5.5" fill="#808481"/>
<rect x="95.25" y="69.34" width="5.57" height="5.5" fill="#8d918e"/>
<rect x="99.82" y="69.34" width="5.57" height="5.5" fill="#939794"/>
<rect x="104.39" y="69.34" width="5.57" height="5.5" fill="#9b9f9c"/>
<rect x="108.96" y="69.34" width="5.57" height="5.5" fill="#999d9a"/>
<rect x="113.53" y="69.34" width="5.57" height="5.5" fill="#9fa3a0"/>
<rect x="118.1" y="69.34" width="5.57" height="5.5" fill="#9ca09d"/>
<rect x="122.67" y="69.34" width="5.57" height="5.5" fill="#9fa3a0"/>
<rect x="127.24" y="69.34" width="5.57" height="5.5" fill="#a2a6a3"/>
<rect x="131.81" y="69.34" width="5.57" height="5.5" fill="#a9adaa"/>
<rect x="136.38" y="69.34" width="5.57" height="5.5" fill="#9fa3a0"/>
<rect x="140.95" y="69.34" width="5.65" height="5.5" fill="#9fa3a0"/>
<rect x="0" y="73.84" width="4.85" height="5.5" fill="#a4a8a5"/>
<rect x="3.85" y="73.84" width="5.57" height="5.5" fill="#a2a6a3"/>
<rect x="8.42" y="73.84" width="5.57" height="5.5" fill="#9fa3a0"/>
<rect x="12.99" y="73.84" width="5.57" height="5.5" fill="#8d918e"/>
<rect x="17.56" y="73.84" width="5.57" height="5.5" fill="#838784"/>
<rect x="22.13" y="73.84" width="5.57" height="5.5" fill="#8c908d"/>
<rect x="26.7" y="73.84" width="5.57" height="5.5" fill="#757976"/>
<rect x="31.27" y="73.84" width="5.57" height="5.5" fill="#5e625f"/>
<rect x="35.84" y="73.84" width="5.57" height="5.5" fill="#565a57"/>
<rect x="40.41" y="73.84" width="5.57" height="5.5" fill="#565a57"/>
<rect x="44.98" y="73.84" width="5.57" height="5.5" fill="#2e322f"/>
<rect x="49.55" y="73.84" width="5.57" height="5.5" fill="#2e322f"/>
<rect x="54.12" y="73.84" width="5.57" height="5.5" fill="#474b48"/>
<rect x="58.69" y="73.84" width="5.57" height="5.5" fill="#000000"/>
<rect x="63.26" y="73.84" width="5.57" height="5.5" fill="#000000"/>
<rect x="67.83" y="73.84" width="5.57" height="5.5" fill="#000000"/>
<rect x="72.4" y="73.84" width="5.57" height="5.5" fill="#383c39"/>
<rect x="76.97" y="73.84" width="5.57" height="5.5" fill="#565a57"/>
<rect x="81.54" y="73.84" width="5.57" height="5.5" fill="#656966"/>
<rect x="86.11" y="73.84" width="5.57" height="5.5" fill="#797d7a"/>
<rect x="90.68" y="73.84" width="5.57" height="5.5" fill="#848885"/>
<rect x="95.25" y="73.84" width="5.57" height="5.5" fill="#919592"/>
<rect x="99.82" y="73.84" width="5.57" height="5.5" fill="#979b98"/>
<rect x="104.39" y="73.84" width="5.57" height="5.5" fill="#9a9e9b"/>
<rect x="108.96" y="73.84" width="5.57" height="5.5" fill="#979b98"/>
<rect x="113.53" y="73.84" width="5.57" height="5.5" fill="#a0a4a1"/>
<rect x="118.1" y="73.84" width="5.57" height="5.5" fill="#a2a6a3"/>
<rect x="122.67" y="73.84" width="5.57" height="5.5" fill="#a2a6a3"/>
<rect x="127.24" y="73.84" width="5.57" height="5.5" fill="#9fa3a0"/>
<rect x="131.81" y="73.84" width="5.57" height="5.5" fill="#9a9e9b"/>
<rect x="136.38" y="73.84" width="5.57" height="5.5" fill="#9ca09d"/>
<rect x="140.95" y="73.84" width="5.65" height="5.5" fill="#9fa3a0"/>
<rect x="0" y="78.34" width="4.85" height="5.51" fill="#a2a6a3"/>
<rect x="3.85" y="78.34" width="5.57" height="5.51" fill="#989c99"/>
<rect x="8.42" y="78.34" width="5.57" height="5.51" fill="#979b98"/>
<rect x="12.99" y="78.34" width="5.57" height="5.51" fill="#909491"/>
<rect x="17.56" y="78.34" width="5.57" height="5.51" fill="#868a87"/>
<rect x="22.13" y="78.34" width="5.57" height="5.51" fill="#8b8f8c"/>
<rect x="26.7" y="78.34" width="5.57" height="5.51" fill="#858986"/>
<rect x="31.27" y="78.34" width="5.57" height="5.51" fill="#7e827f"/>
<rect x="35.84" y="78.34" width="5.57" height="5.51" fill="#606461"/>
<rect x="40.41" y="78.34" width="5.57" height="5.51" fill="#515552"/>
<rect x="44.98" y="78.34" width="5.57" height="5.51" fill="#606461"/>
<rect x="49.55" y="78.34" width="5.57" height="5.51" fill="#101411"/>
<rect x="54.12" y="78.34" width="5.57" height="5.51" fill="#000000"/>
<rect x="58.69" y="78.34" width="5.57" height="5.51" fill="#000000"/>
<rect x="63.26" y="78.34" width="5.57" height="5.51" fill="#000000"/>
<rect x="67.83" y="78.34" width="5.57" height="5.51" fill="#1a1e1b"/>
<rect x="72.4" y="78.34" width="5.57" height="5.51" fill="#606461"/>
<rect x="76.97" y="78.34" width="5.57" height="5.51" fill="#6f7370"/>
<rect x="81.54" y="78.34" width="5.57" height="5.51" fill="#727673"/>
<rect x="86.11" y="78.34" width="5.57" height="5.51" fill="#7c807d"/>
<rect x="90.68" y="78.34" width="5.57" height="5.51" fill="#8a8e8b"/>
<rect x="95.25" y="78.34" width="5.57" height="5.51" fill="#8f9390"/>
<rect x="99.82" y="78.34" width="5.57" height="5.51" fill="#909491"/>
<rect x="104.39" y="78.34" width="5.57" height="5.51" fill="#8d918e"/>
<rect x="108.96" y="78.34" width="5.57" height="5.51" fill="#979b98"/>
<rect x="113.53" y="78.34" width="5.57" height="5.51" fill="#969a97"/>
<rect x="118.1" y="78.34" width="5.57" height="5.51" fill="#9fa3a0"/>
<rect x="122.67" y="78.34" width="5.57" height="5.51" fill="#9ca09d"/>
<rect x="127.24" y="78.34" width="5.57" height="5.51" fill="#9fa3a0"/>
<rect x="131.81" y="78.34" width="5.57" height="5.51" fill="#9fa3a0"/>
<rect x="136.38" y="78.34" width="5.57" height="5.51" fill="#9ca09d"/>
<rect x="140.95" y="78.34" width="5.65" height="5.51" fill="#9fa3a0"/>
<rect x="0" y="82.85" width="4.85" height="5.5" fill="#9fa3a0"/>
<rect x="3.85" y="82.85" width="5.57" height="5.5" fill="#a1a5a2"/>
<rect x="8.42" y="82.85" width="5.57" height="5.5" fill="#9ea29f"/>
<rect x="12.99" y="82.85" width="5.57" height="5.5" fill="#989c99"/>
<rect x="17.56" y="82.85" width="5.57" height="5.5" fill="#909491"/>
<rect x="22.13" y="82.85" width="5.57" height="5.5" fill="#8e928f"/>
<rect x="26.7" y="82.85" width="5.57" height="5.5" fill="#898d8a"/>
<rect x="31.27" y="82.85" width="5.57" height="5.5" fill="#808481"/>
<rect x="35.84" y="82.85" width="5.57" height="5.5" fill="#6a6e6b"/>
<rect x="40.41" y="82.85" width="5.57" height="5.5" fill="#656966"/>
<rect x="44.98" y="82.85" width="5.57" height="5.5" fill="#5e625f"/>
<rect x="49.55" y="82.85" width="5.57" height="5.5" fill="#585c59"/>
<rect x="54.12" y="82.85" width="5.57" height="5.5" fill="#474b48"/>
<rect x="58.69" y="82.85" width="5.57" height="5.5" fill="#060a07"/>
<rect x="63.26" y="82.85" width="5.57" height="5.5" fill="#424643"/>
<rect x="67.83" y="82.85" width="5.57" height="5.5" fill="#5b5f5c"/>
<rect x="72.4" y="82.85" width="5.57" height="5.5" fill="#6a6e6b"/>
<rect x="76.97" y="82.85" width="5.57" height="5.5" fill="#7e827f"/>
<rect x="81.54" y="82.85" width="5.57" height="5.5" fill="#838784"/>
<rect x="86.11" y="82.85" width="5.57" height="5.5" fill="#808481"/>
<rect x="90.68" y="82.85" width="5.57" height="5.5" fill="#8d918e"/>
<rect x="95.25" y="82.85" width="5.57" height="5.5" fill="#939794"/>
<rect x="99.82" y="82.85" width="5.57" height="5.5" fill="#959996"/>
<rect x="104.39" y="82.85" width="5.57" height="5.5" fill="#9da19e"/>
<rect x="108.96" y="82.85" width="5.57" height="5.5" fill="#989c99"/>
<rect x="113.53" y="82.85" width="5.57" height="5.5" fill="#9b9f9c"/>
<rect x="118.1" y="82.85" width="5.57" height="5.5" fill="#9fa3a0"/>
<rect x="122.67" y="82.85" width="5.57" height="5.5" fill="#9ca09d"/>
<rect x="127.24" y="82.85" width="5.57" height="5.5" fill="#9ca09d"/>
<rect x="131.81" y="82.85" width="5.57" height="5.5" fill="#9fa3a0"/>
<rect x="136.38" y="82.85" width="5.57" height="5.5" fill="#9a9e9b"/>
<rect x="140.95" y="82.85" width="5.65" height="5.5" fill="#9fa3a0"/>
<rect x="0" y="87.36" width="4.85" height="5.5" fill="#9fa3a0"/>
<rect x="3.85" y="87.36" width="5.57" height="5.5" fill="#989c99"/>
<rect x="8.42" y="87.36" width="5.57" height="5.5" fill="#a6aaa7"/>
<rect x="12.99" y="87.36" width="5.57" height="5.5" fill="#999d9a"/>
<rect x="17.56" y="87.36" width="5.57" height="5.5" fill="#979b98"/>
<rect x="22.13" y="87.36" width="5.57" height="5.5" fill="#8f9390"/>
<rect x="26.7" y="87.36" width="5.57" height="5.5" fill="#878b88"/>
<rect x="31.27" y="87.36" width="5.57" height="5.5" fill="#858986"/>
<rect x="35.84" y="87.36" width="5.57" height="5.5" fill="#7e827f"/>
<rect x="40.41" y="87.36" width="5.57" height="5.5" fill="#747875"/>
<rect x="44.98" y="87.36" width="5.57" height="5.5" fill="#747875"/>
<rect x="49.55" y="87.36" width="5.57" height="5.5" fill="#6a6e6b"/>
<rect x="54.12" y="87.36" width="5.57" height="5.5" fill="#6f7370"/>
<rect x="58.69" y="87.36" width="5.57" height="5.5" fill="#747875"/>
<rect x="63.26" y="87.36" width="5.57" height="5.5" fill="#747875"/>
<rect x="67.83" y="87.36" width="5.57" height="5.5" fill="#797d7a"/>
<rect x="72.4" y="87.36" width="5.57" height="5.5" fill="#6a6e6b"/>
<rect x="76.97" y="87.36" width="5.57" height="5.5" fill="#7e827f"/>
<rect x="81.54" y="87.36" width="5.57" height="5.5" fill="#868a87"/>
<rect x="86.11" y="87.36" width="5.57" height="5.5" fill="#8a8e8b"/>
<rect x="90.68" y="87.36" width="5.57" height="5.5" fill="#8e928f"/>
<rect x="95.25" y="87.36" width="5.57" height="5.5" fill="#858986"/>
<rect x="99.82" y="87.36" width="5.57" height="5.5" fill="#8d918e"/>
<rect x="104.39" y="87.36" width="5.57" height="5.5" fill="#9ca09d"/>
<rect x="108.96" y="87.36" width="5.57" height="5.5" fill="#999d9a"/>
<rect x="113.53" y="87.36" width="5.57" height="5.5" fill="#9ca09d"/>
<rect x="118.1" y="87.36" width="5.57" height="5.5" fill="#9ca09d"/>
<rect x="122.67" y="87.36" width="5.57" height="5.5" fill="#959996"/>
<rect x="127.24" y="87.36" width="5.57" height="5.5" fill="#959996"/>
<rect x="131.81" y="87.36" width="5.57" height="5.5" fill="#9ca09d"/>
<rect x="136.38" y="87.36" width="5.57" height="5.5" fill="#9ca09d"/>
<rect x="140.95" y="87.36" width="5.65" height="5.5" fill="#9fa3a0"/>
<rect x="0" y="91.86" width="4.85" height="5.51" fill="#a0a4a1"/>
<rect x="3.85" y="91.86" width="5.57" height="5.51" fill="#9fa3a0"/>
<rect x="8.42" y="91.86" width="5.57" height="5.51" fill="#898d8a"/>
<rect x="12.99" y="91.86" width="5.57" height="5.51" fill="#9b9f9c"/>
<rect x="17.56" y="91.86" width="5.57" height="5.51" fill="#9da19e"/>
<rect x="22.13" y="91.86" width="5.57" height="5.51" fill="#939794"/>
<rect x="26.7" y="91.86" width="5.57" height="5.51" fill="#919592"/>
<rect x="31.27" y="91.86" width="5.57" height="5.51" fill="#909491"/>
<rect x="35.84" y="91.86" width="5.57" height="5.51" fill="#8a8e8b"/>
<rect x="40.41" y="91.86" width="5.57" height="5.51" fill="#888c89"/>
<rect x="44.98" y="91.86" width="5.57" height="5.51" fill="#7c807d"/>
<rect x="49.55" y="91.86" width="5.57" height="5.51" fill="#797d7a"/>
<rect x="54.12" y="91.86" width="5.57" height="5.51" fill="#6c706d"/>
<rect x="58.69" y="91.86" width="5.57" height="5.51" fill="#747875"/>
<rect x="63.26" y="91.86" width="5.57" height="5.51" fill="#767a77"/>
<rect x="67.83" y="91.86" width="5.57" height="5.51" fill="#767a77"/>
<rect x="72.4" y="91.86" width="5.57" height="5.51" fill="#747875"/>
<rect x="76.97" y="91.86" width="5.57" height="5.51" fill="#8d918e"/>
<rect x="81.54" y="91.86" width="5.57" height="5.51" fill="#8c908d"/>
<rect x="86.11" y="91.86" width="5.57" height="5.51" fill="#919592"/>
<rect x="90.68" y="91.86" width="5.57" height="5.51" fill="#919592"/>
<rect x="95.25" y="91.86" width="5.57" height="5.51" fill="#8e928f"/>
<rect x="99.82" y="91.86" width="5.57" height="5.51" fill="#919592"/>
<rect x="104.39" y="91.86" width="5.57" height="5.51" fill="#9a9e9b"/>
<rect x="108.96" y="91.86" width="5.57" height="5.51" fill="#a0a4a1"/>
<rect x="113.53" y="91.86" width="5.57" height="5.51" fill="#acb0ad"/>
<rect x="118.1" y="91.86" width="5.57" height="5.51" fill="#9a9e9b"/>
<rect x="122.67" y="91.86" width="5.57" height="5.51" fill="#a2a6a3"/>
<rect x="127.24" y="91.86" width="5.57" height="5.51" fill="#a2a6a3"/>
<rect x="131.81" y="91.86" width="5.57" height="5.51" fill="#a4a8a5"/>
<rect x="136.38" y="91.86" width="5.57" height="5.51" fill="#a2a6a3"/>
<rect x="140.95" y="91.86" width="5.65" height="5.51" fill="#909491"/>
<rect x="0" y="96.37" width="4.85" height="5.5" fill="#9ca09d"/>
<rect x="3.85" y="96.37" width="5.57" height="5.5" fill="#909491"/>
<rect x="8.42" y="96.37" width="5.57" height="5.5" fill="#a8aca9"/>
<rect x="12.99" y="96.37" width="5.57" height="5.5" fill="#a6aaa7"/>
<rect x="17.56" y="96.37" width="5.57" height="5.5" fill="#9ca09d"/>
<rect x="22.13" y="96.37" width="5.57" height="5.5" fill="#9a9e9b"/>
<rect x="26.7" y="96.37" width="5.57" height="5.5" fill="#959996"/>
<rect x="31.27" y="96.37" width="5.57" height="5.5" fill="#939794"/>
<rect x="35.84" y="96.37" width="5.57" height="5.5" fill="#878b88"/>
<rect x="40.41" y="96.37" width="5.57" height="5.5" fill="#888c89"/>
<rect x="44.98" y="96.37" width="5.57" height="5.5" fill="#7f8380"/>
<rect x="49.55" y="96.37" width="5.57" height="5.5" fill="#7e827f"/>
<rect x="54.12" y="96.37" width="5.57" height="5.5" fill="#8d918e"/>
<rect x="58.69" y="96.37" width="5.57" height="5.5" fill="#747875"/>
<rect x="63.26" y="96.37" width="5.57" height="5.5" fill="#747875"/>
<rect x="67.83" y="96.37" width="5.57" height="5.5" fill="#6f7370"/>
<rect x="72.4" y="96.37" width="5.57" height="5.5" fill="#757976"/>
<rect x="76.97" y="96.37" width="5.57" height="5.5" fill="#8f9390"/>
<rect x="81.54" y="96.37" width="5.57" height="5.5" fill="#989c99"/>
<rect x="86.11" y="96.37" width="5.57" height="5.5" fill="#989c99"/>
<rect x="90.68" y="96.37" width="5.57" height="5.5" fill="#959996"/>
<rect x="95.25" y="96.37" width="5.57" height="5.5" fill="#949895"/>
<rect x="99.82" y="96.37" width="5.57" height="5.5" fill="#9ea29f"/>
<rect x="104.39" y="96.37" width="5.57" height="5.5" fill="#999d9a"/>
<rect x="108.96" y="96.37" width="5.57" height="5.5" fill="#9b9f9c"/>
<rect x="113.53" y="96.37" width="5.57" height="5.5" fill="#8b8f8c"/>
<rect x="118.1" y="96.37" width="5.57" height="5.5" fill="#909491"/>
<rect x="122.67" y="96.37" width="5.57" height="5.5" fill="#a2a6a3"/>
<rect x="127.24" y="96.37" width="5.57" height="5.5" fill="#9fa3a0"/>
<rect x="131.81" y="96.37" width="5.57" height="5.5" fill="#9a9e9b"/>
<rect x="136.38" y="96.37" width="5.57" height="5.5" fill="#9ca09d"/>
<rect x="140.95" y="96.37" width="5.65" height="5.5" fill="#9fa3a0"/>
<rect x="0" y="100.87" width="4.85" height="5.5" fill="#a2a6a3"/>
<rect x="3.85" y="100.87" width="5.57" height="5.5" fill="#9fa3a0"/>
<rect x="8.42" y="100.87" width="5.57" height="5.5" fill="#9fa3a0"/>
<rect x="12.99" y="100.87" width="5.57" height="5.5" fill="#a4a8a5"/>
<rect x="17.56" y="100.87" width="5.57" height="5.5" fill="#9ea29f"/>
<rect x="22.13" y="100.87" width="5.57" height="5.5" fill="#9ca09d"/>
<rect x="26.7" y="100.87" width="5.57" height="5.5" fill="#9a9e9b"/>
<rect x="31.27" y="100.87" width="5.57" height="5.5" fill="#929693"/>
<rect x="35.84" y="100.87" width="5.57" height="5.5" fill="#8e928f"/>
<rect x="40.41" y="100.87" width="5.57" height="5.5" fill="#878b88"/>
<rect x="44.98" y="100.87" width="5.57" height="5.5" fill="#868a87"/>
<rect x="49.55" y="100.87" width="5.57" height="5.5" fill="#767a77"/>
<rect x="54.12" y="100.87" width="5.57" height="5.5" fill="#7f8380"/>
<rect x="58.69" y="100.87" width="5.57" height="5.5" fill="#7a7e7b"/>
<rect x="63.26" y="100.87" width="5.57" height="5.5" fill="#757976"/>
<rect x="67.83" y="100.87" width="5.57" height="5.5" fill="#626663"/>
<rect x="72.4" y="100.87" width="5.57" height="5.5" fill="#868a87"/>
<rect x="76.97" y="100.87" width="5.57" height="5.5" fill="#919592"/>
<rect x="81.54" y="100.87" width="5.57" height="5.5" fill="#939794"/>
<rect x="86.11" y="100.87" width="5.57" height="5.5" fill="#959996"/>
<rect x="90.68" y="100.87" width="5.57" height="5.5" fill="#979b98"/>
<rect x="95.25" y="100.87" width="5.57" height="5.5" fill="#969a97"/>
<rect x="99.82" y="100.87" width="5.57" height="5.5" fill="#7d817e"/>
<rect x="104.39" y="100.87" width="5.57" height="5.5" fill="#8e928f"/>
<rect x="108.96" y="100.87" width="5.57" height="5.5" fill="#a2a6a3"/>
<rect x="113.53" y="100.87" width="5.57" height="5.5" fill="#a2a6a3"/>
<rect x="118.1" y="100.87" width="5.57" height="5.5" fill="#a2a6a3"/>
<rect x="122.67" y="100.87" width="5.57" height="5.5" fill="#a2a6a3"/>
<rect x="127.24" y="100.87" width="5.57" height="5.5" fill="#9fa3a0"/>
<rect x="131.81" y="100.87" width="5.57" height="5.5" fill="#9fa3a0"/>
<rect x="136.38" y="100.87" width="5.57" height="5.5" fill="#989c99"/>
<rect x="140.95" y="100.87" width="5.65" height="5.5" fill="#9fa3a0"/>
<rect x="0" y="105.38" width="4.85" height="5.51" fill="#9fa3a0"/>
<rect x="3.85" y="105.38" width="5.57" height="5.51" fill="#9fa3a0"/>
<rect x="8.42" y="105.38" width="5.57" height="5.51" fill="#a4a8a5"/>
<rect x="12.99" y="105.38" width="5.57" height="5.51" fill="#9fa3a0"/>
<rect x="17.56" y="105.38" width="5.57" height="5.51" fill="#9a9e9b"/>
<rect x="22.13" y="105.38" width="5.57" height="5.51" fill="#9da19e"/>
<rect x="26.7" y="105.38" width="5.57" height="5.51" fill="#a2a6a3"/>
<rect x="31.27" y="105.38" width="5.57" height="5.51" fill="#949895"/>
<rect x="35.84" y="105.38" width="5.57" height="5.51" fill="#909491"/>
<rect x="40.41" y="105.38" width="5.57" height="5.51" fill="#8d918e"/>
<rect x="44.98" y="105.38" width="5.57" height="5.51" fill="#888c89"/>
<rect x="49.55" y="105.38" width="5.57" height="5.51" fill="#808481"/>
<rect x="54.12" y="105.38" width="5.57" height="5.51" fill="#878b88"/>
<rect x="58.69" y="105.38" width="5.57" height="5.51" fill="#8c908d"/>
<rect x="63.26" y="105.38" width="5.57" height="5.51" fill="#646865"/>
<rect x="67.83" y="105.38" width="5.57" height="5.51" fill="#828683"/>
<rect x="72.4" y="105.38" width="5.57" height="5.51" fill="#8d918e"/>
<rect x="76.97" y="105.38" width="5.57" height="5.51" fill="#919592"/>
<rect x="81.54" y="105.38" width="5.57" height="5.51" fill="#959996"/>
<rect x="86.11" y="105.38" width="5.57" height="5.51" fill="#979b98"/>
<rect x="90.68" y="105.38" width="5.57" height="5.51" fill="#9b9f9c"/>
<rect x="95.25" y="105.38" width="5.57" height="5.51" fill="#9a9e9b"/>
<rect x="99.82" y="105.38" width="5.57" height="5.51" fill="#8e928f"/>
<rect x="104.39" y="105.38" width="5.57" height="5.51" fill="#989c99"/>
<rect x="108.96" y="105.38" width="5.57" height="5.51" fill="#9a9e9b"/>
<rect x="113.53" y="105.38" width="5.57" height="5.51" fill="#9fa3a0"/>
<rect x="118.1" y="105.38" width="5.57" height="5.51" fill="#9a9e9b"/>
<rect x="122.67" y="105.38" width="5.57" height="5.51" fill="#9fa3a0"/>
<rect x="127.24" y="105.38" width="5.57" height="5.51" fill="#a6aaa7"/>
<rect x="131.81" y="105.38" width="5.57" height="5.51" fill="#9fa3a0"/>
<rect x="136.38" y="105.38" width="5.57" height="5.51" fill="#9ca09d"/>
<rect x="140.95" y="105.38" width="5.65" height="5.51" fill="#a2a6a3"/>
<rect x="0" y="109.88" width="4.85" height="5.5" fill="#a6aaa7"/>
<rect x="3.85" y="109.88" width="5.57" height="5.5" fill="#9a9e9b"/>
<rect x="8.42" y="109.88" width="5.57" height="5.5" fill="#9fa3a0"/>
<rect x="12.99" y="109.88" width="5.57" height="5.5" fill="#989c99"/>
<rect x="17.56" y="109.88" width="5.57" height="5.5" fill="#9b9f9c"/>
<rect x="22.13" y="109.88" width="5.57" height="5.5" fill="#a1a5a2"/>
<rect x="26.7" y="109.88" width="5.57" height="5.5" fill="#9ea29f"/>
<rect x="31.27" y="109.88" width="5.57" height="5.5" fill="#8a8e8b"/>
<rect x="35.84" y="109.88" width="5.57" height="5.5" fill="#979b98"/>
<rect x="40.41" y="109.88" width="5.57" height="5.5" fill="#878b88"/>
<rect x="44.98" y="109.88" width="5.57" height="5.5" fill="#8b8f8c"/>
<rect x="49.55" y="109.88" width="5.57" height="5.5" fill="#858986"/>
<rect x="54.12" y="109.88" width="5.57" height="5.5" fill="#8f9390"/>
<rect x="58.69" y="109.88" width="5.57" height="5.5" fill="#8e928f"/>
<rect x="63.26" y="109.88" width="5.57" height="5.5" fill="#858986"/>
<rect x="67.83" y="109.88" width="5.57" height="5.5" fill="#a3a7a4"/>
<rect x="72.4" y="109.88" width="5.57" height="5.5" fill="#a4a8a5"/>
<rect x="76.97" y="109.88" width="5.57" height="5.5" fill="#999d9a"/>
<rect x="81.54" y="109.88" width="5.57" height="5.5" fill="#909491"/>
<rect x="86.11" y="109.88" width="5.57" height="5.5" fill="#9ea29f"/>
<rect x="90.68" y="109.88" width="5.57" height="5.5" fill="#a0a4a1"/>
<rect x="95.25" y="109.88" width="5.57" height="5.5" fill="#959996"/>
<rect x="99.82" y="109.88" width="5.57" height="5.5" fill="#a1a5a2"/>
<rect x="104.39" y="109.88" width="5.57" height="5.5" fill="#9a9e9b"/>
<rect x="108.96" y="109.88" width="5.57" height="5.5" fill="#909491"/>
<rect x="113.53" y="109.88" width="5.57" height="5.5" fill="#989c99"/>
<rect x="118.1" y="109.88" width="5.57" height="5.5" fill="#9a9e9b"/>
<rect x="122.67" y="109.88" width="5.57" height="5.5" fill="#9fa3a0"/>
<rect x="127.24" y="109.88" width="5.57" height="5.5" fill="#a6aaa7"/>
<rect x="131.81" y="109.88" width="5.57" height="5.5" fill="#9a9e9b"/>
<rect x="136.38" y="109.88" width="5.57" height="5.5" fill="#868a87"/>
<rect x="140.95" y="109.88" width="5.65" height="5.5" fill="#9fa3a0"/>
<rect x="0" y="114.39" width="4.85" height="5.5" fill="#9a9e9b"/>
<rect x="3.85" y="114.39" width="5.57" height="5.5" fill="#9fa3a0"/>
<rect x="8.42" y="114.39" width="5.57" height="5.5" fill="#9fa3a0"/>
<rect x="12.99" y="114.39" width="5.57" height="5.5" fill="#9fa3a0"/>
<rect x="17.56" y="114.39" width="5.57" height="5.5" fill="#9fa3a0"/>
<rect x="22.13" y="114.39" width="5.57" height="5.5" fill="#a1a5a2"/>
<rect x="26.7" y="114.39" width="5.57" height="5.5" fill="#a2a6a3"/>
<rect x="31.27" y="114.39" width="5.57" height="5.5" fill="#9ea29f"/>
<rect x="35.84" y="114.39" width="5.57" height="5.5" fill="#9fa3a0"/>
<rect x="40.41" y="114.39" width="5.57" height="5.5" fill="#9b9f9c"/>
<rect x="44.98" y="114.39" width="5.57" height="5.5" fill="#949895"/>
<rect x="49.55" y="114.39" width="5.57" height="5.5" fill="#929693"/>
<rect x="54.12" y="114.39" width="5.57" height="5.5" fill="#8f9390"/>
<rect x="58.69" y="114.39" width="5.57" height="5.5" fill="#969a97"/>
<rect x="63.26" y="114.39" width="5.57" height="5.5" fill="#878b88"/>
<rect x="67.83" y="114.39" width="5.57" height="5.5" fill="#a1a5a2"/>
<rect x="72.4" y="114.39" width="5.57" height="5.5" fill="#000000"/>
<rect x="76.97" y="114.39" width="5.57" height="5.5" fill="#848885"/>
<rect x="81.54" y="114.39" width="5.57" height="5.5" fill="#9da19e"/>
<rect x="86.11" y="114.39" width="5.57" height="5.5" fill="#a0a4a1"/>
<rect x="90.68" y="114.39" width="5.57" height="5.5" fill="#989c99"/>
<rect x="95.25" y="114.39" width="5.57" height="5.5" fill="#9b9f9c"/>
<rect x="99.82" y="114.39" width="5.57" height="5.5" fill="#7c807d"/>
<rect x="104.39" y="114.39" width="5.57" height="5.5" fill="#909491"/>
<rect x="108.96" y="114.39" width="5.57" height="5.5" fill="#9fa3a0"/>
<rect x="113.53" y="114.39" width="5.57" height="5.5" fill="#9fa3a0"/>
<rect x="118.1" y="114.39" width="5.57" height="5.5" fill="#9fa3a0"/>
<rect x="122.67" y="114.39" width="5.57" height="5.5" fill="#9fa3a0"/>
<rect x="127.24" y="114.39" width="5.57" height="5.5" fill="#a2a6a3"/>
<rect x="131.81" y="114.39" width="5.57" height="5.5" fill="#989c99"/>
<rect x="136.38" y="114.39" width="5.57" height="5.5" fill="#acb0ad"/>
<rect x="140.95" y="114.39" width="5.65" height="5.5" fill="#9a9e9b"/>
<rect x="0" y="118.89" width="4.85" height="5.5" fill="#9fa3a0"/>
<rect x="3.85" y="118.89" width="5.57" height="5.5" fill="#a6aaa7"/>
<rect x="8.42" y="118.89" width="5.57" height="5.5" fill="#a6aaa7"/>
<rect x="12.99" y="118.89" width="5.57" height="5.5" fill="#9fa3a0"/>
<rect x="17.56" y="118.89" width="5.57" height="5.5" fill="#a2a6a3"/>
<rect x="22.13" y="118.89" width="5.57" height="5.5" fill="#909491"/>
<rect x="26.7" y="118.89" width="5.57" height="5.5" fill="#a2a6a3"/>
<rect x="31.27" y="118.89" width="5.57" height="5.5" fill="#a0a4a1"/>
<rect x="35.84" y="118.89" width="5.57" height="5.5" fill="#9fa3a0"/>
<rect x="40.41" y="118.89" width="5.57" height="5.5" fill="#9b9f9c"/>
<rect x="44.98" y="118.89" width="5.57" height="5.5" fill="#9da19e"/>
<rect x="49.55" y="118.89" width="5.57" height="5.5" fill="#949895"/>
<rect x="54.12" y="118.89" width="5.57" height="5.5" fill="#949895"/>
<rect x="58.69" y="118.89" width="5.57" height="5.5" fill="#858986"/>
<rect x="63.26" y="118.89" width="5.57" height="5.5" fill="#8a8e8b"/>
<rect x="67.83" y="118.89" width="5.57" height="5.5" fill="#8f9390"/>
<rect x="72.4" y="118.89" width="5.57" height="5.5" fill="#9a9e9b"/>
<rect x="76.97" y="118.89" width="5.57" height="5.5" fill="#9ea29f"/>
<rect x="81.54" y="118.89" width="5.57" height="5.5" fill="#9fa3a0"/>
<rect x="86.11" y="118.89" width="5.57" height="5.5" fill="#a4a8a5"/>
<rect x="90.68" y="118.89" width="5.57" height="5.5" fill="#9ea29f"/>
<rect x="95.25" y="118.89" width="5.57" height="5.5" fill="#9ca09d"/>
<rect x="99.82" y="118.89" width="5.57" height="5.5" fill="#868a87"/>
<rect x="104.39" y="118.89" width="5.57" height="5.5" fill="#989c99"/>
<rect x="108.96" y="118.89" width="5.57" height="5.5" fill="#9a9e9b"/>
<rect x="113.53" y="118.89" width="5.57" height="5.5" fill="#9fa3a0"/>
<rect x="118.1" y="118.89" width="5.57" height="5.5" fill="#9ca09d"/>
<rect x="122.67" y="118.89" width="5.57" height="5.5" fill="#a4a8a5"/>
<rect x="127.24" y="118.89" width="5.57" height="5.5" fill="#959996"/>
<rect x="131.81" y="118.89" width="5.57" height="5.5" fill="#9fa3a0"/>
<rect x="136.38" y="118.89" width="5.57" height="5.5" fill="#a9adaa"/>
<rect x="140.95" y="118.89" width="5.65" height="5.5" fill="#9a9e9b"/>
<rect x="0" y="123.39" width="4.85" height="5.51" fill="#9fa3a0"/>
<rect x="3.85" y="123.39" width="5.57" height="5.51" fill="#a6aaa7"/>
<rect x="8.42" y="123.39" width="5.57" height="5.51" fill="#a6aaa7"/>
<rect x="12.99" y="123.39" width="5.57" height="5.51" fill="#a4a8a5"/>
<rect x="17.56" y="123.39" width="5.57" height="5.51" fill="#9fa3a0"/>
<rect x="22.13" y="123.39" width="5.57" height="5.51" fill="#9fa3a0"/>
<rect x="26.7" y="123.39" width="5.57" height="5.51" fill="#909491"/>
<rect x="31.27" y="123.39" width="5.57" height="5.51" fill="#a2a6a3"/>
<rect x="35.84" y="123.39" width="5.57" height="5.51" fill="#a1a5a2"/>
<rect x="40.41" y="123.39" width="5.57" height="5.51" fill="#a4a8a5"/>
<rect x="44.98" y="123.39" width="5.57" height="5.51" fill="#a1a5a2"/>
<rect x="49.55" y="123.39" width="5.57" height="5.51" fill="#999d9a"/>
<rect x="54.12" y="123.39" width="5.57" height="5.51" fill="#989c99"/>
<rect x="58.69" y="123.39" width="5.57" height="5.51" fill="#8a8e8b"/>
<rect x="63.26" y="123.39" width="5.57" height="5.51" fill="#919592"/>
<rect x="67.83" y="123.39" width="5.57" height="5.51" fill="#959996"/>
<rect x="72.4" y="123.39" width="5.57" height="5.51" fill="#979b98"/>
<rect x="76.97" y="123.39" width="5.57" height="5.51" fill="#a2a6a3"/>
<rect x="81.54" y="123.39" width="5.57" height="5.51" fill="#a1a5a2"/>
<rect x="86.11" y="123.39" width="5.57" height="5.51" fill="#a2a6a3"/>
<rect x="90.68" y="123.39" width="5.57" height="5.51" fill="#a0a4a1"/>
<rect x="95.25" y="123.39" width="5.57" height="5.51" fill="#9a9e9b"/>
<rect x="99.82" y="123.39" width="5.57" height="5.51" fill="#9fa3a0"/>
<rect x="104.39" y="123.39" width="5.57" height="5.51" fill="#9fa3a0"/>
<rect x="108.96" y="123.39" width="5.57" height="5.51" fill="#a2a6a3"/>
<rect x="113.53" y="123.39" width="5.57" height="5.51" fill="#a2a6a3"/>
<rect x="118.1" y="123.39" width="5.57" height="5.51" fill="#8e928f"/>
<rect x="122.67" y="123.39" width="5.57" height="5.51" fill="#9fa3a0"/>
<rect x="127.24" y="123.39" width="5.57" height="5.51" fill="#a2a6a3"/>
<rect x="131.81" y="123.39" width="5.57" height="5.51" fill="#9ca09d"/>
<rect x="136.38" y="123.39" width="5.57" height="5.51" fill="#909491"/>
<rect x="140.95" y="123.39" width="5.65" height="5.51" fill="#9ca09d"/>
<rect x="0" y="127.9" width="4.85" height="5.5" fill="#9fa3a0"/>
<rect x="3.85" y="127.9" width="5.57" height="5.5" fill="#a6aaa7"/>
<rect x="8.42" y="127.9" width="5.57" height="5.5" fill="#a6aaa7"/>
<rect x="12.99" y="127.9" width="5.57" height="5.5" fill="#a6aaa7"/>
<rect x="17.56" y="127.9" width="5.57" height="5.5" fill="#9fa3a0"/>
<rect x="22.13" y="127.9" width="5.57" height="5.5" fill="#a6aaa7"/>
<rect x="26.7" y="127.9" width="5.57" height="5.5" fill="#a6aaa7"/>
<rect x="31.27" y="127.9" width="5.57" height="5.5" fill="#9fa3a0"/>
<rect x="35.84" y="127.9" width="5.57" height="5.5" fill="#959996"/>
<rect x="40.41" y="127.9" width="5.57" height="5.5" fill="#a2a6a3"/>
<rect x="44.98" y="127.9" width="5.57" height="5.5" fill="#a2a6a3"/>
<rect x="49.55" y="127.9" width="5.57" height="5.5" fill="#9b9f9c"/>
<rect x="54.12" y="127.9" width="5.57" height="5.5" fill="#9b9f9c"/>
<rect x="58.69" y="127.9" width="5.57" height="5.5" fill="#949895"/>
<rect x="63.26" y="127.9" width="5.57" height="5.5" fill="#999d9a"/>
<rect x="67.83" y="127.9" width="5.57" height="5.5" fill="#999d9a"/>
<rect x="72.4" y="127.9" width="5.57" height="5.5" fill="#9ca09d"/>
<rect x="76.97" y="127.9" width="5.57" height="5.5" fill="#a2a6a3"/>
<rect x="81.54" y="127.9" width="5.57" height="5.5" fill="#a4a8a5"/>
<rect x="86.11" y="127.9" width="5.57" height="5.5" fill="#9fa3a0"/>
<rect x="90.68" y="127.9" width="5.57" height="5.5" fill="#a0a4a1"/>
<rect x="95.25" y="127.9" width="5.57" height="5.5" fill="#9fa3a0"/>
<rect x="99.82" y="127.9" width="5.57" height="5.5" fill="#9fa3a0"/>
<rect x="104.39" y="127.9" width="5.57" height="5.5" fill="#a6aaa7"/>
<rect x="108.96" y="127.9" width="5.57" height="5.5" fill="#9fa3a0"/>
<rect x="113.53" y="127.9" width="5.57" height="5.5" fill="#a2a6a3"/>
<rect x="118.1" y="127.9" width="5.57" height="5.5" fill="#989c99"/>
<rect x="122.67" y="127.9" width="5.57" height="5.5" fill="#9a9e9b"/>
<rect x="127.24" y="127.9" width="5.57" height="5.5" fill="#9fa3a0"/>
<rect x="131.81" y="127.9" width="5.57" height="5.5" fill="#9fa3a0"/>
<rect x="136.38" y="127.9" width="5.57" height="5.5" fill="#9fa3a0"/>
<rect x="140.95" y="127.9" width="5.65" height="5.5" fill="#9a9e9b"/>
<rect x="0" y="132.41" width="4.85" height="5.5" fill="#9fa3a0"/>
<rect x="3.85" y="132.41" width="5.57" height="5.5" fill="#9fa3a0"/>
<rect x="8.42" y="132.41" width="5.57" height="5.5" fill="#9a9e9b"/>
<rect x="12.99" y="132.41" width="5.57" height="5.5" fill="#a2a6a3"/>
<rect x="17.56" y="132.41" width="5.57" height="5.5" fill="#9fa3a0"/>
<rect x="22.13" y="132.41" width="5.57" height="5.5" fill="#a6aaa7"/>
<rect x="26.7" y="132.41" width="5.57" height="5.5" fill="#a6aaa7"/>
<rect x="31.27" y="132.41" width="5.57" height="5.5" fill="#9fa3a0"/>
<rect x="35.84" y="132.41" width="5.57" height="5.5" fill="#9fa3a0"/>
<rect x="40.41" y="132.41" width="5.57" height="5.5" fill="#a2a6a3"/>
<rect x="44.98" y="132.41" width="5.57" height="5.5" fill="#9fa3a0"/>
<rect x="49.55" y="132.41" width="5.57" height="5.5" fill="#9ca09d"/>
<rect x="54.12" y="132.41" width="5.57" height="5.5" fill="#9ca09d"/>
<rect x="58.69" y="132.41" width="5.57" height="5.5" fill="#9ca09d"/>
<rect x="63.26" y="132.41" width="5.57" height="5.5" fill="#959996"/>
<rect x="67.83" y="132.41" width="5.57" height="5.5" fill="#9a9e9b"/>
<rect x="72.4" y="132.41" width="5.57" height="5.5" fill="#9a9e9b"/>
<rect x="76.97" y="132.41" width="5.57" height="5.5" fill="#9fa3a0"/>
<rect x="81.54" y="132.41" width="5.57" height="5.5" fill="#a2a6a3"/>
<rect x="86.11" y="132.41" width="5.57" height="5.5" fill="#a2a6a3"/>
<rect x="90.68" y="132.41" width="5.57" height="5.5" fill="#9fa3a0"/>
<rect x="95.25" y="132.41" width="5.57" height="5.5" fill="#9fa3a0"/>
<rect x="99.82" y="132.41" width="5.57" height="5.5" fill="#9fa3a0"/>
<rect x="104.39" y="132.41" width="5.57" height="5.5" fill="#9fa3a0"/>
<rect x="108.96" y="132.41" width="5.57" height="5.5" fill="#9fa3a0"/>
<rect x="113.53" y="132.41" width="5.57" height="5.5" fill="#a2a6a3"/>
<rect x="118.1" y="132.41" width="5.57" height="5.5" fill="#9ca09d"/>
<rect x="122.67" y="132.41" width="5.57" height="5.5" fill="#a6aaa7"/>
<rect x="127.24" y="132.41" width="5.57" height="5.5" fill="#9ca09d"/>
<rect x="131.81" y="132.41" width="5.57" height="5.5" fill="#9fa3a0"/>
<rect x="136.38" y="132.41" width="5.57" height="5.5" fill="#9fa3a0"/>
<rect x="140.95" y="132.41" width="5.65" height="5.5" fill="#9ca09d"/>
<rect x="0" y="136.91" width="4.85" height="4.49" fill="#a2a6a3"/>
<rect x="3.85" y="136.91" width="5.57" height="4.49" fill="#a2a6a3"/>
<rect x="8.42" y="136.91" width="5.57" height="4.49" fill="#9fa3a0"/>
<rect x="12.99" y="136.91" width="5.57" height="4.49" fill="#9ca09d"/>
<rect x="17.56" y="136.91" width="5.57" height="4.49" fill="#9ca09d"/>
<rect x="22.13" y="136.91" width="5.57" height="4.49" fill="#9fa3a0"/>
<rect x="26.7" y="136.91" width="5.57" height="4.49" fill="#9fa3a0"/>
<rect x="31.27" y="136.91" width="5.57" height="4.49" fill="#9fa3a0"/>
<rect x="35.84" y="136.91" width="5.57" height="4.49" fill="#9a9e9b"/>
<rect x="40.41" y="136.91" width="5.57" height="4.49" fill="#a6aaa7"/>
<rect x="44.98" y="136.91" width="5.57" height="4.49" fill="#a2a6a3"/>
<rect x="49.55" y="136.91" width="5.57" height="4.49" fill="#9a9e9b"/>
<rect x="54.12" y="136.91" width="5.57" height="4.49" fill="#9ca09d"/>
<rect x="58.69" y="136.91" width="5.57" height="4.49" fill="#9fa3a0"/>
<rect x="63.26" y="136.91" width="5.57" height="4.49" fill="#a2a6a3"/>
<rect x="67.83" y="136.91" width="5.57" height="4.49" fill="#9ca09d"/>
<rect x="72.4" y="136.91" width="5.57" height="4.49" fill="#9fa3a0"/>
<rect x="76.97" y="136.91" width="5.57" height="4.49" fill="#9fa3a0"/>
<rect x="81.54" y="136.91" width="5.57" height="4.49" fill="#a2a6a3"/>
<rect x="86.11" y="136.91" width="5.57" height="4.49" fill="#a2a6a3"/>
<rect x="90.68" y="136.91" width="5.57" height="4.49" fill="#a0a4a1"/>
<rect x="95.25" y="136.91" width="5.57" height="4.49" fill="#9fa3a0"/>
<rect x="99.82" y="136.91" width="5.57" height="4.49" fill="#9fa3a0"/>
<rect x="104.39" y="136.91" width="5.57" height="4.49" fill="#9fa3a0"/>
<rect x="108.96" y="136.91" width="5.57" height="4.49" fill="#9fa3a0"/>
<rect x="113.53" y="136.91" width="5.57" height="4.49" fill="#9a9e9b"/>
<rect x="118.1" y="136.91" width="5.57" height="4.49" fill="#9a9e9b"/>
<rect x="122.67" y="136.91" width="5.57" height="4.49" fill="#9fa3a0"/>
<rect x="127.24" y="136.91" width="5.57" height="4.49" fill="#9fa3a0"/>
<rect x="131.81" y="136.91" width="5.57" height="4.49" fill="#a2a6a3"/>
<rect x="136.38" y="136.91" width="5.57" height="4.49" fill="#9fa3a0"/>
<rect x="140.95" y="136.91" width="5.65" height="4.49" fill="#9ca09d"/>
</g>
<g transform="translate(469.3,327.3)">
<rect x="0" y="0" width="4.85" height="2.76" fill="#a4a8a5"/>
<rect x="3.85" y="0" width="5.57" height="2.76" fill="#a6aaa7"/>
<rect x="8.42" y="0" width="5.57" height="2.76" fill="#a6aaa7"/>
<rect x="12.99" y="0" width="5.57" height="2.76" fill="#9a9e9b"/>
<rect x="17.56" y="0" width="5.57" height="2.76" fill="#a6aaa7"/>
<rect x="22.13" y="0" width="5.57" height="2.76" fill="#a4a8a5"/>
<rect x="26.7" y="0" width="5.57" height="2.76" fill="#a4a8a5"/>
<rect x="31.27" y="0" width="5.57" height="2.76" fill="#a2a6a3"/>
<rect x="35.84" y="0" width="5.57" height="2.76" fill="#a2a6a3"/>
<rect x="40.41" y="0" width="5.57" height="2.76" fill="#9fa3a0"/>
<rect x="44.98" y="0" width="5.57" height="2.76" fill="#9fa3a0"/>
<rect x="49.55" y="0" width="5.57" height="2.76" fill="#a3a7a4"/>
<rect x="54.12" y="0" width="5.57" height="2.76" fill="#abafac"/>
<rect x="58.69" y="0" width="5.57" height="2.76" fill="#a3a7a4"/>
<rect x="63.26" y="0" width="5.57" height="2.76" fill="#9ea29f"/>
<rect x="67.83" y="0" width="5.57" height="2.76" fill="#9ea29f"/>
<rect x="72.4" y="0" width="5.57" height="2.76" fill="#a4a8a5"/>
<rect x="76.97" y="0" width="5.57" height="2.76" fill="#a6aaa7"/>
<rect x="81.54" y="0" width="5.57" height="2.76" fill="#9fa3a0"/>
<rect x="86.11" y="0" width="5.57" height="2.76" fill="#9fa3a0"/>
<rect x="90.68" y="0" width="5.57" height="2.76" fill="#a4a8a5"/>
<rect x="95.25" y="0" width="5.57" height="2.76" fill="#a4a8a5"/>
<rect x="99.82" y="0" width="5.57" height="2.76" fill="#a4a8a5"/>
<rect x="104.39" y="0" width="5.57" height="2.76" fill="#a6aaa7"/>
<rect x="108.96" y="0" width="5.57" height="2.76" fill="#9fa3a0"/>
<rect x="113.53" y="0" width="5.57" height="2.76" fill="#9fa3a0"/>
<rect x="118.1" y="0" width="5.57" height="2.76" fill="#a6aaa7"/>
<rect x="122.67" y="0" width="5.57" height="2.76" fill="#a6aaa7"/>
<rect x="127.24" y="0" width="5.57" height="2.76" fill="#a6aaa7"/>
<rect x="131.81" y="0" width="5.57" height="2.76" fill="#a9adaa"/>
<rect x="136.38" y="0" width="5.57" height="2.76" fill="#a2a6a3"/>
<rect x="140.95" y="0" width="5.55" height="2.76" fill="#a4a8a5"/>
<rect x="0" y="1.76" width="4.85" height="5.5" fill="#a2a6a3"/>
<rect x="3.85" y="1.76" width="5.57" height="5.5" fill="#a6aaa7"/>
<rect x="8.42" y="1.76" width="5.57" height="5.5" fill="#acb0ad"/>
<rect x="12.99" y="1.76" width="5.57" height="5.5" fill="#a4a8a5"/>
<rect x="17.56" y="1.76" width="5.57" height="5.5" fill="#a2a6a3"/>
<rect x="22.13" y="1.76" width="5.57" height="5.5" fill="#9a9e9b"/>
<rect x="26.7" y="1.76" width="5.57" height="5.5" fill="#a4a8a5"/>
<rect x="31.27" y="1.76" width="5.57" height="5.5" fill="#868a87"/>
<rect x="35.84" y="1.76" width="5.57" height="5.5" fill="#a8aca9"/>
<rect x="40.41" y="1.76" width="5.57" height="5.5" fill="#989c99"/>
<rect x="44.98" y="1.76" width="5.57" height="5.5" fill="#9ca09d"/>
<rect x="49.55" y="1.76" width="5.57" height="5.5" fill="#9ca09d"/>
<rect x="54.12" y="1.76" width="5.57" height="5.5" fill="#9b9f9c"/>
<rect x="58.69" y="1.76" width="5.57" height="5.5" fill="#9ea29f"/>
<rect x="63.26" y="1.76" width="5.57" height="5.5" fill="#9b9f9c"/>
<rect x="67.83" y="1.76" width="5.57" height="5.5" fill="#515552"/>
<rect x="72.4" y="1.76" width="5.57" height="5.5" fill="#747875"/>
<rect x="76.97" y="1.76" width="5.57" height="5.5" fill="#666a67"/>
<rect x="81.54" y="1.76" width="5.57" height="5.5" fill="#999d9a"/>
<rect x="86.11" y="1.76" width="5.57" height="5.5" fill="#909491"/>
<rect x="90.68" y="1.76" width="5.57" height="5.5" fill="#a4a8a5"/>
<rect x="95.25" y="1.76" width="5.57" height="5.5" fill="#a9adaa"/>
<rect x="99.82" y="1.76" width="5.57" height="5.5" fill="#9fa3a0"/>
<rect x="104.39" y="1.76" width="5.57" height="5.5" fill="#9fa3a0"/>
<rect x="108.96" y="1.76" width="5.57" height="5.5" fill="#9fa3a0"/>
<rect x="113.53" y="1.76" width="5.57" height="5.5" fill="#a6aaa7"/>
<rect x="118.1" y="1.76" width="5.57" height="5.5" fill="#a4a8a5"/>
<rect x="122.67" y="1.76" width="5.57" height="5.5" fill="#a4a8a5"/>
<rect x="127.24" y="1.76" width="5.57" height="5.5" fill="#a9adaa"/>
<rect x="131.81" y="1.76" width="5.57" height="5.5" fill="#a9adaa"/>
<rect x="136.38" y="1.76" width="5.57" height="5.5" fill="#a2a6a3"/>
<rect x="140.95" y="1.76" width="5.55" height="5.5" fill="#a4a8a5"/>
<rect x="0" y="6.26" width="4.85" height="5.5" fill="#a6aaa7"/>
<rect x="3.85" y="6.26" width="5.57" height="5.5" fill="#9a9e9b"/>
<rect x="8.42" y="6.26" width="5.57" height="5.5" fill="#a2a6a3"/>
<rect x="12.99" y="6.26" width="5.57" height="5.5" fill="#a6aaa7"/>
<rect x="17.56" y="6.26" width="5.57" height="5.5" fill="#9fa3a0"/>
<rect x="22.13" y="6.26" width="5.57" height="5.5" fill="#9a9e9b"/>
<rect x="26.7" y="6.26" width="5.57" height="5.5" fill="#9a9e9b"/>
<rect x="31.27" y="6.26" width="5.57" height="5.5" fill="#a7aba8"/>
<rect x="35.84" y="6.26" width="5.57" height="5.5" fill="#9ca09d"/>
<rect x="40.41" y="6.26" width="5.57" height="5.5" fill="#949895"/>
<rect x="44.98" y="6.26" width="5.57" height="5.5" fill="#9a9e9b"/>
<rect x="49.55" y="6.26" width="5.57" height="5.5" fill="#9ca09d"/>
<rect x="54.12" y="6.26" width="5.57" height="5.5" fill="#999d9a"/>
<rect x="58.69" y="6.26" width="5.57" height="5.5" fill="#999d9a"/>
<rect x="63.26" y="6.26" width="5.57" height="5.5" fill="#949895"/>
<rect x="67.83" y="6.26" width="5.57" height="5.5" fill="#626663"/>
<rect x="72.4" y="6.26" width="5.57" height="5.5" fill="#727673"/>
<rect x="76.97" y="6.26" width="5.57" height="5.5" fill="#919592"/>
<rect x="81.54" y="6.26" width="5.57" height="5.5" fill="#929693"/>
<rect x="86.11" y="6.26" width="5.57" height="5.5" fill="#9da19e"/>
<rect x="90.68" y="6.26" width="5.57" height="5.5" fill="#a2a6a3"/>
<rect x="95.25" y="6.26" width="5.57" height="5.5" fill="#a6aaa7"/>
<rect x="99.82" y="6.26" width="5.57" height="5.5" fill="#a6aaa7"/>
<rect x="104.39" y="6.26" width="5.57" height="5.5" fill="#a9adaa"/>
<rect x="108.96" y="6.26" width="5.57" height="5.5" fill="#a9adaa"/>
<rect x="113.53" y="6.26" width="5.57" height="5.5" fill="#a9adaa"/>
<rect x="118.1" y="6.26" width="5.57" height="5.5" fill="#a4a8a5"/>
<rect x="122.67" y="6.26" width="5.57" height="5.5" fill="#a4a8a5"/>
<rect x="127.24" y="6.26" width="5.57" height="5.5" fill="#959996"/>
<rect x="131.81" y="6.26" width="5.57" height="5.5" fill="#a2a6a3"/>
<rect x="136.38" y="6.26" width="5.57" height="5.5" fill="#a6aaa7"/>
<rect x="140.95" y="6.26" width="5.55" height="5.5" fill="#a4a8a5"/>
<rect x="0" y="10.77" width="4.85" height="5.51" fill="#a4a8a5"/>
<rect x="3.85" y="10.77" width="5.57" height="5.51" fill="#a4a8a5"/>
<rect x="8.42" y="10.77" width="5.57" height="5.51" fill="#a6aaa7"/>
<rect x="12.99" y="10.77" width="5.57" height="5.51" fill="#a6aaa7"/>
<rect x="17.56" y="10.77" width="5.57" height="5.51" fill="#a6aaa7"/>
<rect x="22.13" y="10.77" width="5.57" height="5.51" fill="#9ea29f"/>
<rect x="26.7" y="10.77" width="5.57" height="5.51" fill="#8e928f"/>
<rect x="31.27" y="10.77" width="5.57" height="5.51" fill="#8c908d"/>
<rect x="35.84" y="10.77" width="5.57" height="5.51" fill="#979b98"/>
<rect x="40.41" y="10.77" width="5.57" height="5.51" fill="#959996"/>
<rect x="44.98" y="10.77" width="5.57" height="5.51" fill="#979b98"/>
<rect x="49.55" y="10.77" width="5.57" height="5.51" fill="#9a9e9b"/>
<rect x="54.12" y="10.77" width="5.57" height="5.51" fill="#969a97"/>
<rect x="58.69" y="10.77" width="5.57" height="5.51" fill="#969a97"/>
<rect x="63.26" y="10.77" width="5.57" height="5.51" fill="#878b88"/>
<rect x="67.83" y="10.77" width="5.57" height="5.51" fill="#838784"/>
<rect x="72.4" y="10.77" width="5.57" height="5.51" fill="#838784"/>
<rect x="76.97" y="10.77" width="5.57" height="5.51" fill="#898d8a"/>
<rect x="81.54" y="10.77" width="5.57" height="5.51" fill="#959996"/>
<rect x="86.11" y="10.77" width="5.57" height="5.51" fill="#9b9f9c"/>
<rect x="90.68" y="10.77" width="5.57" height="5.51" fill="#9da19e"/>
<rect x="95.25" y="10.77" width="5.57" height="5.51" fill="#999d9a"/>
<rect x="99.82" y="10.77" width="5.57" height="5.51" fill="#a2a6a3"/>
<rect x="104.39" y="10.77" width="5.57" height="5.51" fill="#a6aaa7"/>
<rect x="108.96" y="10.77" width="5.57" height="5.51" fill="#acb0ad"/>
<rect x="113.53" y="10.77" width="5.57" height="5.51" fill="#a4a8a5"/>
<rect x="118.1" y="10.77" width="5.57" height="5.51" fill="#a4a8a5"/>
<rect x="122.67" y="10.77" width="5.57" height="5.51" fill="#a4a8a5"/>
<rect x="127.24" y="10.77" width="5.57" height="5.51" fill="#a9adaa"/>
<rect x="131.81" y="10.77" width="5.57" height="5.51" fill="#a4a8a5"/>
<rect x="136.38" y="10.77" width="5.57" height="5.51" fill="#a4a8a5"/>
<rect x="140.95" y="10.77" width="5.55" height="5.51" fill="#a2a6a3"/>
<rect x="0" y="15.28" width="4.85" height="5.51" fill="#9fa3a0"/>
<rect x="3.85" y="15.28" width="5.57" height="5.51" fill="#a2a6a3"/>
<rect x="8.42" y="15.28" width="5.57" height="5.51" fill="#9fa3a0"/>
<rect x="12.99" y="15.28" width="5.57" height="5.51" fill="#9fa3a0"/>
<rect x="17.56" y="15.28" width="5.57" height="5.51" fill="#999d9a"/>
<rect x="22.13" y="15.28" width="5.57" height="5.51" fill="#959996"/>
<rect x="26.7" y="15.28" width="5.57" height="5.51" fill="#949895"/>
<rect x="31.27" y="15.28" width="5.57" height="5.51" fill="#929693"/>
<rect x="35.84" y="15.28" width="5.57" height="5.51" fill="#909491"/>
<rect x="40.41" y="15.28" width="5.57" height="5.51" fill="#939794"/>
<rect x="44.98" y="15.28" width="5.57" height="5.51" fill="#909491"/>
<rect x="49.55" y="15.28" width="5.57" height="5.51" fill="#8f9390"/>
<rect x="54.12" y="15.28" width="5.57" height="5.51" fill="#8a8e8b"/>
<rect x="58.69" y="15.28" width="5.57" height="5.51" fill="#616562"/>
<rect x="63.26" y="15.28" width="5.57" height="5.51" fill="#6c706d"/>
<rect x="67.83" y="15.28" width="5.57" height="5.51" fill="#8a8e8b"/>
<rect x="72.4" y="15.28" width="5.57" height="5.51" fill="#9a9e9b"/>
<rect x="76.97" y="15.28" width="5.57" height="5.51" fill="#9da19e"/>
<rect x="81.54" y="15.28" width="5.57" height="5.51" fill="#979b98"/>
<rect x="86.11" y="15.28" width="5.57" height="5.51" fill="#8f9390"/>
<rect x="90.68" y="15.28" width="5.57" height="5.51" fill="#787c79"/>
<rect x="95.25" y="15.28" width="5.57" height="5.51" fill="#a1a5a2"/>
<rect x="99.82" y="15.28" width="5.57" height="5.51" fill="#999d9a"/>
<rect x="104.39" y="15.28" width="5.57" height="5.51" fill="#9fa3a0"/>
<rect x="108.96" y="15.28" width="5.57" height="5.51" fill="#a6aaa7"/>
<rect x="113.53" y="15.28" width="5.57" height="5.51" fill="#a6aaa7"/>
<rect x="118.1" y="15.28" width="5.57" height="5.51" fill="#a6aaa7"/>
<rect x="122.67" y="15.28" width="5.57" height="5.51" fill="#a6aaa7"/>
<rect x="127.24" y="15.28" width="5.57" height="5.51" fill="#a4a8a5"/>
<rect x="131.81" y="15.28" width="5.57" height="5.51" fill="#a4a8a5"/>
<rect x="136.38" y="15.28" width="5.57" height="5.51" fill="#9a9e9b"/>
<rect x="140.95" y="15.28" width="5.55" height="5.51" fill="#9fa3a0"/>
<rect x="0" y="19.78" width="4.85" height="5.5" fill="#9fa3a0"/>
<rect x="3.85" y="19.78" width="5.57" height="5.5" fill="#9a9e9b"/>
<rect x="8.42" y="19.78" width="5.57" height="5.5" fill="#9ca09d"/>
<rect x="12.99" y="19.78" width="5.57" height="5.5" fill="#9fa3a0"/>
<rect x="17.56" y="19.78" width="5.57" height="5.5" fill="#939794"/>
<rect x="22.13" y="19.78" width="5.57" height="5.5" fill="#909491"/>
<rect x="26.7" y="19.78" width="5.57" height="5.5" fill="#8e928f"/>
<rect x="31.27" y="19.78" width="5.57" height="5.5" fill="#888c89"/>
<rect x="35.84" y="19.78" width="5.57" height="5.5" fill="#8b8f8c"/>
<rect x="40.41" y="19.78" width="5.57" height="5.5" fill="#8d918e"/>
<rect x="44.98" y="19.78" width="5.57" height="5.5" fill="#838784"/>
<rect x="49.55" y="19.78" width="5.57" height="5.5" fill="#8a8e8b"/>
<rect x="54.12" y="19.78" width="5.57" height="5.5" fill="#878b88"/>
<rect x="58.69" y="19.78" width="5.57" height="5.5" fill="#848885"/>
<rect x="63.26" y="19.78" width="5.57" height="5.5" fill="#8c908d"/>
<rect x="67.83" y="19.78" width="5.57" height="5.5" fill="#8c908d"/>
<rect x="72.4" y="19.78" width="5.57" height="5.5" fill="#8f9390"/>
<rect x="76.97" y="19.78" width="5.57" height="5.5" fill="#949895"/>
<rect x="81.54" y="19.78" width="5.57" height="5.5" fill="#8e928f"/>
<rect x="86.11" y="19.78" width="5.57" height="5.5" fill="#8d918e"/>
<rect x="90.68" y="19.78" width="5.57" height="5.5" fill="#707471"/>
<rect x="95.25" y="19.78" width="5.57" height="5.5" fill="#818582"/>
<rect x="99.82" y="19.78" width="5.57" height="5.5" fill="#939794"/>
<rect x="104.39" y="19.78" width="5.57" height="5.5" fill="#909491"/>
<rect x="108.96" y="19.78" width="5.57" height="5.5" fill="#9a9e9b"/>
<rect x="113.53" y="19.78" width="5.57" height="5.5" fill="#9fa3a0"/>
<rect x="118.1" y="19.78" width="5.57" height="5.5" fill="#acb0ad"/>
<rect x="122.67" y="19.78" width="5.57" height="5.5" fill="#acb0ad"/>
<rect x="127.24" y="19.78" width="5.57" height="5.5" fill="#acb0ad"/>
<rect x="131.81" y="19.78" width="5.57" height="5.5" fill="#acb0ad"/>
<rect x="136.38" y="19.78" width="5.57" height="5.5" fill="#a4a8a5"/>
<rect x="140.95" y="19.78" width="5.55" height="5.5" fill="#868a87"/>
<rect x="0" y="24.29" width="4.85" height="5.51" fill="#a2a6a3"/>
<rect x="3.85" y="24.29" width="5.57" height="5.51" fill="#a4a8a5"/>
<rect x="8.42" y="24.29" width="5.57" height="5.51" fill="#9fa3a0"/>
<rect x="12.99" y="24.29" width="5.57" height="5.51" fill="#8e928f"/>
<rect x="17.56" y="24.29" width="5.57" height="5.51" fill="#8c908d"/>
<rect x="22.13" y="24.29" width="5.57" height="5.51" fill="#858986"/>
<rect x="26.7" y="24.29" width="5.57" height="5.51" fill="#6f7370"/>
<rect x="31.27" y="24.29" width="5.57" height="5.51" fill="#6d716e"/>
<rect x="35.84" y="24.29" width="5.57" height="5.51" fill="#7a7e7b"/>
<rect x="40.41" y="24.29" width="5.57" height="5.51" fill="#7d817e"/>
<rect x="44.98" y="24.29" width="5.57" height="5.51" fill="#818582"/>
<rect x="49.55" y="24.29" width="5.57" height="5.51" fill="#767a77"/>
<rect x="54.12" y="24.29" width="5.57" height="5.51" fill="#7a7e7b"/>
<rect x="58.69" y="24.29" width="5.57" height="5.51" fill="#757976"/>
<rect x="63.26" y="24.29" width="5.57" height="5.51" fill="#7f8380"/>
<rect x="67.83" y="24.29" width="5.57" height="5.51" fill="#949895"/>
<rect x="72.4" y="24.29" width="5.57" height="5.51" fill="#959996"/>
<rect x="76.97" y="24.29" width="5.57" height="5.51" fill="#969a97"/>
<rect x="81.54" y="24.29" width="5.57" height="5.51" fill="#848885"/>
<rect x="86.11" y="24.29" width="5.57" height="5.51" fill="#5e625f"/>
<rect x="90.68" y="24.29" width="5.57" height="5.51" fill="#797d7a"/>
<rect x="95.25" y="24.29" width="5.57" height="5.51" fill="#949895"/>
<rect x="99.82" y="24.29" width="5.57" height="5.51" fill="#919592"/>
<rect x="104.39" y="24.29" width="5.57" height="5.51" fill="#9da19e"/>
<rect x="108.96" y="24.29" width="5.57" height="5.51" fill="#9fa3a0"/>
<rect x="113.53" y="24.29" width="5.57" height="5.51" fill="#a4a8a5"/>
<rect x="118.1" y="24.29" width="5.57" height="5.51" fill="#a4a8a5"/>
<rect x="122.67" y="24.29" width="5.57" height="5.51" fill="#a4a8a5"/>
<rect x="127.24" y="24.29" width="5.57" height="5.51" fill="#a9adaa"/>
<rect x="131.81" y="24.29" width="5.57" height="5.51" fill="#acb0ad"/>
<rect x="136.38" y="24.29" width="5.57" height="5.51" fill="#a6aaa7"/>
<rect x="140.95" y="24.29" width="5.55" height="5.51" fill="#aeb2af"/>
<rect x="0" y="28.79" width="4.85" height="5.5" fill="#a2a6a3"/>
<rect x="3.85" y="28.79" width="5.57" height="5.5" fill="#a2a6a3"/>
<rect x="8.42" y="28.79" width="5.57" height="5.5" fill="#949895"/>
<rect x="12.99" y="28.79" width="5.57" height="5.5" fill="#979b98"/>
<rect x="17.56" y="28.79" width="5.57" height="5.5" fill="#929693"/>
<rect x="22.13" y="28.79" width="5.57" height="5.5" fill="#888c89"/>
<rect x="26.7" y="28.79" width="5.57" height="5.5" fill="#818582"/>
<rect x="31.27" y="28.79" width="5.57" height="5.5" fill="#707471"/>
<rect x="35.84" y="28.79" width="5.57" height="5.5" fill="#5b5f5c"/>
<rect x="40.41" y="28.79" width="5.57" height="5.5" fill="#6c706d"/>
<rect x="44.98" y="28.79" width="5.57" height="5.5" fill="#7f8380"/>
<rect x="49.55" y="28.79" width="5.57" height="5.5" fill="#7e827f"/>
<rect x="54.12" y="28.79" width="5.57" height="5.5" fill="#888c89"/>
<rect x="58.69" y="28.79" width="5.57" height="5.5" fill="#7e827f"/>
<rect x="63.26" y="28.79" width="5.57" height="5.5" fill="#868a87"/>
<rect x="67.83" y="28.79" width="5.57" height="5.5" fill="#868a87"/>
<rect x="72.4" y="28.79" width="5.57" height="5.5" fill="#878b88"/>
<rect x="76.97" y="28.79" width="5.57" height="5.5" fill="#8a8e8b"/>
<rect x="81.54" y="28.79" width="5.57" height="5.5" fill="#878b88"/>
<rect x="86.11" y="28.79" width="5.57" height="5.5" fill="#707471"/>
<rect x="90.68" y="28.79" width="5.57" height="5.5" fill="#909491"/>
<rect x="95.25" y="28.79" width="5.57" height="5.5" fill="#929693"/>
<rect x="99.82" y="28.79" width="5.57" height="5.5" fill="#949895"/>
<rect x="104.39" y="28.79" width="5.57" height="5.5" fill="#838784"/>
<rect x="108.96" y="28.79" width="5.57" height="5.5" fill="#858986"/>
<rect x="113.53" y="28.79" width="5.57" height="5.5" fill="#9fa3a0"/>
<rect x="118.1" y="28.79" width="5.57" height="5.5" fill="#a4a8a5"/>
<rect x="122.67" y="28.79" width="5.57" height="5.5" fill="#a4a8a5"/>
<rect x="127.24" y="28.79" width="5.57" height="5.5" fill="#9a9e9b"/>
<rect x="131.81" y="28.79" width="5.57" height="5.5" fill="#a2a6a3"/>
<rect x="136.38" y="28.79" width="5.57" height="5.5" fill="#a4a8a5"/>
<rect x="140.95" y="28.79" width="5.55" height="5.5" fill="#a4a8a5"/>
<rect x="0" y="33.3" width="4.85" height="5.5" fill="#9a9e9b"/>
<rect x="3.85" y="33.3" width="5.57" height="5.5" fill="#909491"/>
<rect x="8.42" y="33.3" width="5.57" height="5.5" fill="#989c99"/>
<rect x="12.99" y="33.3" width="5.57" height="5.5" fill="#939794"/>
<rect x="17.56" y="33.3" width="5.57" height="5.5" fill="#7f8380"/>
<rect x="22.13" y="33.3" width="5.57" height="5.5" fill="#8b8f8c"/>
<rect x="26.7" y="33.3" width="5.57" height="5.5" fill="#8e928f"/>
<rect x="31.27" y="33.3" width="5.57" height="5.5" fill="#646865"/>
<rect x="35.84" y="33.3" width="5.57" height="5.5" fill="#515552"/>
<rect x="40.41" y="33.3" width="5.57" height="5.5" fill="#6f7370"/>
<rect x="44.98" y="33.3" width="5.57" height="5.5" fill="#797d7a"/>
<rect x="49.55" y="33.3" width="5.57" height="5.5" fill="#797d7a"/>
<rect x="54.12" y="33.3" width="5.57" height="5.5" fill="#7c807d"/>
<rect x="58.69" y="33.3" width="5.57" height="5.5" fill="#7c807d"/>
<rect x="63.26" y="33.3" width="5.57" height="5.5" fill="#747875"/>
<rect x="67.83" y="33.3" width="5.57" height="5.5" fill="#747875"/>
<rect x="72.4" y="33.3" width="5.57" height="5.5" fill="#7c807d"/>
<rect x="76.97" y="33.3" width="5.57" height="5.5" fill="#a1a5a2"/>
<rect x="81.54" y="33.3" width="5.57" height="5.5" fill="#808481"/>
<rect x="86.11" y="33.3" width="5.57" height="5.5" fill="#828683"/>
<rect x="90.68" y="33.3" width="5.57" height="5.5" fill="#8e928f"/>
<rect x="95.25" y="33.3" width="5.57" height="5.5" fill="#959996"/>
<rect x="99.82" y="33.3" width="5.57" height="5.5" fill="#9b9f9c"/>
<rect x="104.39" y="33.3" width="5.57" height="5.5" fill="#9a9e9b"/>
<rect x="108.96" y="33.3" width="5.57" height="5.5" fill="#8e928f"/>
<rect x="113.53" y="33.3" width="5.57" height="5.5" fill="#9fa3a0"/>
<rect x="118.1" y="33.3" width="5.57" height="5.5" fill="#a4a8a5"/>
<rect x="122.67" y="33.3" width="5.57" height="5.5" fill="#a9adaa"/>
<rect x="127.24" y="33.3" width="5.57" height="5.5" fill="#9fa3a0"/>
<rect x="131.81" y="33.3" width="5.57" height="5.5" fill="#9a9e9b"/>
<rect x="136.38" y="33.3" width="5.57" height="5.5" fill="#a4a8a5"/>
<rect x="140.95" y="33.3" width="5.55" height="5.5" fill="#909491"/>
<rect x="0" y="37.8" width="4.85" height="5.51" fill="#9fa3a0"/>
<rect x="3.85" y="37.8" width="5.57" height="5.51" fill="#9ca09d"/>
<rect x="8.42" y="37.8" width="5.57" height="5.51" fill="#929693"/>
<rect x="12.99" y="37.8" width="5.57" height="5.51" fill="#8c908d"/>
<rect x="17.56" y="37.8" width="5.57" height="5.51" fill="#7e827f"/>
<rect x="22.13" y="37.8" width="5.57" height="5.51" fill="#8d918e"/>
<rect x="26.7" y="37.8" width="5.57" height="5.51" fill="#848885"/>
<rect x="31.27" y="37.8" width="5.57" height="5.51" fill="#717572"/>
<rect x="35.84" y="37.8" width="5.57" height="5.51" fill="#6a6e6b"/>
<rect x="40.41" y="37.8" width="5.57" height="5.51" fill="#747875"/>
<rect x="44.98" y="37.8" width="5.57" height="5.51" fill="#747875"/>
<rect x="49.55" y="37.8" width="5.57" height="5.51" fill="#686c69"/>
<rect x="54.12" y="37.8" width="5.57" height="5.51" fill="#686c69"/>
<rect x="58.69" y="37.8" width="5.57" height="5.51" fill="#6a6e6b"/>
<rect x="63.26" y="37.8" width="5.57" height="5.51" fill="#6f7370"/>
<rect x="67.83" y="37.8" width="5.57" height="5.51" fill="#6f7370"/>
<rect x="72.4" y="37.8" width="5.57" height="5.51" fill="#6f7370"/>
<rect x="76.97" y="37.8" width="5.57" height="5.51" fill="#7e827f"/>
<rect x="81.54" y="37.8" width="5.57" height="5.51" fill="#838784"/>
<rect x="86.11" y="37.8" width="5.57" height="5.51" fill="#808481"/>
<rect x="90.68" y="37.8" width="5.57" height="5.51" fill="#969a97"/>
<rect x="95.25" y="37.8" width="5.57" height="5.51" fill="#979b98"/>
<rect x="99.82" y="37.8" width="5.57" height="5.51" fill="#9a9e9b"/>
<rect x="104.39" y="37.8" width="5.57" height="5.51" fill="#9ea29f"/>
<rect x="108.96" y="37.8" width="5.57" height="5.51" fill="#a1a5a2"/>
<rect x="113.53" y="37.8" width="5.57" height="5.51" fill="#a2a6a3"/>
<rect x="118.1" y="37.8" width="5.57" height="5.51" fill="#a4a8a5"/>
<rect x="122.67" y="37.8" width="5.57" height="5.51" fill="#a2a6a3"/>
<rect x="127.24" y="37.8" width="5.57" height="5.51" fill="#9a9e9b"/>
<rect x="131.81" y="37.8" width="5.57" height="5.51" fill="#a4a8a5"/>
<rect x="136.38" y="37.8" width="5.57" height="5.51" fill="#9fa3a0"/>
<rect x="140.95" y="37.8" width="5.55" height="5.51" fill="#a4a8a5"/>
<rect x="0" y="42.3" width="4.85" height="5.5" fill="#a4a8a5"/>
<rect x="3.85" y="42.3" width="5.57" height="5.5" fill="#a1a5a2"/>
<rect x="8.42" y="42.3" width="5.57" height="5.5" fill="#9ea29f"/>
<rect x="12.99" y="42.3" width="5.57" height="5.5" fill="#9b9f9c"/>
<rect x="17.56" y="42.3" width="5.57" height="5.5" fill="#909491"/>
<rect x="22.13" y="42.3" width="5.57" height="5.5" fill="#909491"/>
<rect x="26.7" y="42.3" width="5.57" height="5.5" fill="#868a87"/>
<rect x="31.27" y="42.3" width="5.57" height="5.5" fill="#747875"/>
<rect x="35.84" y="42.3" width="5.57" height="5.5" fill="#838784"/>
<rect x="40.41" y="42.3" width="5.57" height="5.5" fill="#7c807d"/>
<rect x="44.98" y="42.3" width="5.57" height="5.5" fill="#747875"/>
<rect x="49.55" y="42.3" width="5.57" height="5.5" fill="#5b5f5c"/>
<rect x="54.12" y="42.3" width="5.57" height="5.5" fill="#1a1e1b"/>
<rect x="58.69" y="42.3" width="5.57" height="5.5" fill="#000000"/>
<rect x="63.26" y="42.3" width="5.57" height="5.5" fill="#000000"/>
<rect x="67.83" y="42.3" width="5.57" height="5.5" fill="#1f2320"/>
<rect x="72.4" y="42.3" width="5.57" height="5.5" fill="#606461"/>
<rect x="76.97" y="42.3" width="5.57" height="5.5" fill="#6a6e6b"/>
<rect x="81.54" y="42.3" width="5.57" height="5.5" fill="#7e827f"/>
<rect x="86.11" y="42.3" width="5.57" height="5.5" fill="#979b98"/>
<rect x="90.68" y="42.3" width="5.57" height="5.5" fill="#939794"/>
<rect x="95.25" y="42.3" width="5.57" height="5.5" fill="#9a9e9b"/>
<rect x="99.82" y="42.3" width="5.57" height="5.5" fill="#9ca09d"/>
<rect x="104.39" y="42.3" width="5.57" height="5.5" fill="#9fa3a0"/>
<rect x="108.96" y="42.3" width="5.57" height="5.5" fill="#a2a6a3"/>
<rect x="113.53" y="42.3" width="5.57" height="5.5" fill="#a5a9a6"/>
<rect x="118.1" y="42.3" width="5.57" height="5.5" fill="#9fa3a0"/>
<rect x="122.67" y="42.3" width="5.57" height="5.5" fill="#a2a6a3"/>
<rect x="127.24" y="42.3" width="5.57" height="5.5" fill="#a2a6a3"/>
<rect x="131.81" y="42.3" width="5.57" height="5.5" fill="#9a9e9b"/>
<rect x="136.38" y="42.3" width="5.57" height="5.5" fill="#a4a8a5"/>
<rect x="140.95" y="42.3" width="5.55" height="5.5" fill="#a2a6a3"/>
<rect x="0" y="46.81" width="4.85" height="5.51" fill="#9fa3a0"/>
<rect x="3.85" y="46.81" width="5.57" height="5.51" fill="#9da19e"/>
<rect x="8.42" y="46.81" width="5.57" height="5.51" fill="#9da19e"/>
<rect x="12.99" y="46.81" width="5.57" height="5.51" fill="#979b98"/>
<rect x="17.56" y="46.81" width="5.57" height="5.51" fill="#8e928f"/>
<rect x="22.13" y="46.81" width="5.57" height="5.51" fill="#8d918e"/>
<rect x="26.7" y="46.81" width="5.57" height="5.51" fill="#808481"/>
<rect x="31.27" y="46.81" width="5.57" height="5.51" fill="#838784"/>
<rect x="35.84" y="46.81" width="5.57" height="5.51" fill="#797d7a"/>
<rect x="40.41" y="46.81" width="5.57" height="5.51" fill="#6a6e6b"/>
<rect x="44.98" y="46.81" width="5.57" height="5.51" fill="#686c69"/>
<rect x="49.55" y="46.81" width="5.57" height="5.51" fill="#292d2a"/>
<rect x="54.12" y="46.81" width="5.57" height="5.51" fill="#010502"/>
<rect x="58.69" y="46.81" width="5.57" height="5.51" fill="#000000"/>
<rect x="63.26" y="46.81" width="5.57" height="5.51" fill="#000000"/>
<rect x="67.83" y="46.81" width="5.57" height="5.51" fill="#040805"/>
<rect x="72.4" y="46.81" width="5.57" height="5.51" fill="#606461"/>
<rect x="76.97" y="46.81" width="5.57" height="5.51" fill="#656966"/>
<rect x="81.54" y="46.81" width="5.57" height="5.51" fill="#747875"/>
<rect x="86.11" y="46.81" width="5.57" height="5.51" fill="#8d918e"/>
<rect x="90.68" y="46.81" width="5.57" height="5.51" fill="#949895"/>
<rect x="95.25" y="46.81" width="5.57" height="5.51" fill="#959996"/>
<rect x="99.82" y="46.81" width="5.57" height="5.51" fill="#9a9e9b"/>
<rect x="104.39" y="46.81" width="5.57" height="5.51" fill="#9ea29f"/>
<rect x="108.96" y="46.81" width="5.57" height="5.51" fill="#9fa3a0"/>
<rect x="113.53" y="46.81" width="5.57" height="5.51" fill="#8e928f"/>
<rect x="118.1" y="46.81" width="5.57" height="5.51" fill="#909491"/>
<rect x="122.67" y="46.81" width="5.57" height="5.51" fill="#8b8f8c"/>
<rect x="127.24" y="46.81" width="5.57" height="5.51" fill="#a2a6a3"/>
<rect x="131.81" y="46.81" width="5.57" height="5.51" fill="#9a9e9b"/>
<rect x="136.38" y="46.81" width="5.57" height="5.51" fill="#a4a8a5"/>
<rect x="140.95" y="46.81" width="5.55" height="5.51" fill="#a2a6a3"/>
<rect x="0" y="51.31" width="4.85" height="5.51" fill="#a6aaa7"/>
<rect x="3.85" y="51.31" width="5.57" height="5.51" fill="#9da19e"/>
<rect x="8.42" y="51.31" width="5.57" height="5.51" fill="#9da19e"/>
<rect x="12.99" y="51.31" width="5.57" height="5.51" fill="#979b98"/>
<rect x="17.56" y="51.31" width="5.57" height="5.51" fill="#8a8e8b"/>
<rect x="22.13" y="51.31" width="5.57" height="5.51" fill="#8c908d"/>
<rect x="26.7" y="51.31" width="5.57" height="5.51" fill="#848885"/>
<rect x="31.27" y="51.31" width="5.57" height="5.51" fill="#888c89"/>
<rect x="35.84" y="51.31" width="5.57" height="5.51" fill="#606461"/>
<rect x="40.41" y="51.31" width="5.57" height="5.51" fill="#606461"/>
<rect x="44.98" y="51.31" width="5.57" height="5.51" fill="#515552"/>
<rect x="49.55" y="51.31" width="5.57" height="5.51" fill="#010502"/>
<rect x="54.12" y="51.31" width="5.57" height="5.51" fill="#000000"/>
<rect x="58.69" y="51.31" width="5.57" height="5.51" fill="#000000"/>
<rect x="63.26" y="51.31" width="5.57" height="5.51" fill="#000000"/>
<rect x="67.83" y="51.31" width="5.57" height="5.51" fill="#3d413e"/>
<rect x="72.4" y="51.31" width="5.57" height="5.51" fill="#5b5f5c"/>
<rect x="76.97" y="51.31" width="5.57" height="5.51" fill="#6a6e6b"/>
<rect x="81.54" y="51.31" width="5.57" height="5.51" fill="#6f7370"/>
<rect x="86.11" y="51.31" width="5.57" height="5.51" fill="#888c89"/>
<rect x="90.68" y="51.31" width="5.57" height="5.51" fill="#8e928f"/>
<rect x="95.25" y="51.31" width="5.57" height="5.51" fill="#919592"/>
<rect x="99.82" y="51.31" width="5.57" height="5.51" fill="#919592"/>
<rect x="104.39" y="51.31" width="5.57" height="5.51" fill="#9a9e9b"/>
<rect x="108.96" y="51.31" width="5.57" height="5.51" fill="#909491"/>
<rect x="113.53" y="51.31" width="5.57" height="5.51" fill="#848885"/>
<rect x="118.1" y="51.31" width="5.57" height="5.51" fill="#a2a6a3"/>
<rect x="122.67" y="51.31" width="5.57" height="5.51" fill="#a4a8a5"/>
<rect x="127.24" y="51.31" width="5.57" height="5.51" fill="#a2a6a3"/>
<rect x="131.81" y="51.31" width="5.57" height="5.51" fill="#9ca09d"/>
<rect x="136.38" y="51.31" width="5.57" height="5.51" fill="#a4a8a5"/>
<rect x="140.95" y="51.31" width="5.55" height="5.51" fill="#a2a6a3"/>
<rect x="0" y="55.82" width="4.85" height="5.5" fill="#a2a6a3"/>
<rect x="3.85" y="55.82" width="5.57" height="5.5" fill="#a6aaa7"/>
<rect x="8.42" y="55.82" width="5.57" height="5.5" fill="#999d9a"/>
<rect x="12.99" y="55.82" width="5.57" height="5.5" fill="#939794"/>
<rect x="17.56" y="55.82" width="5.57" height="5.5" fill="#898d8a"/>
<rect x="22.13" y="55.82" width="5.57" height="5.5" fill="#868a87"/>
<rect x="26.7" y="55.82" width="5.57" height="5.5" fill="#7e827f"/>
<rect x="31.27" y="55.82" width="5.57" height="5.5" fill="#7e827f"/>
<rect x="35.84" y="55.82" width="5.57" height="5.5" fill="#6f7370"/>
<rect x="40.41" y="55.82" width="5.57" height="5.5" fill="#333734"/>
<rect x="44.98" y="55.82" width="5.57" height="5.5" fill="#000000"/>
<rect x="49.55" y="55.82" width="5.57" height="5.5" fill="#000000"/>
<rect x="54.12" y="55.82" width="5.57" height="5.5" fill="#000000"/>
<rect x="58.69" y="55.82" width="5.57" height="5.5" fill="#000000"/>
<rect x="63.26" y="55.82" width="5.57" height="5.5" fill="#000000"/>
<rect x="67.83" y="55.82" width="5.57" height="5.5" fill="#151916"/>
<rect x="72.4" y="55.82" width="5.57" height="5.5" fill="#565a57"/>
<rect x="76.97" y="55.82" width="5.57" height="5.5" fill="#656966"/>
<rect x="81.54" y="55.82" width="5.57" height="5.5" fill="#6a6e6b"/>
<rect x="86.11" y="55.82" width="5.57" height="5.5" fill="#7e827f"/>
<rect x="90.68" y="55.82" width="5.57" height="5.5" fill="#838784"/>
<rect x="95.25" y="55.82" width="5.57" height="5.5" fill="#8d918e"/>
<rect x="99.82" y="55.82" width="5.57" height="5.5" fill="#909491"/>
<rect x="104.39" y="55.82" width="5.57" height="5.5" fill="#939794"/>
<rect x="108.96" y="55.82" width="5.57" height="5.5" fill="#999d9a"/>
<rect x="113.53" y="55.82" width="5.57" height="5.5" fill="#959996"/>
<rect x="118.1" y="55.82" width="5.57" height="5.5" fill="#9fa3a0"/>
<rect x="122.67" y="55.82" width="5.57" height="5.5" fill="#9fa3a0"/>
<rect x="127.24" y="55.82" width="5.57" height="5.5" fill="#a2a6a3"/>
<rect x="131.81" y="55.82" width="5.57" height="5.5" fill="#a4a8a5"/>
<rect x="136.38" y="55.82" width="5.57" height="5.5" fill="#a6aaa7"/>
<rect x="140.95" y="55.82" width="5.55" height="5.5" fill="#a2a6a3"/>
<rect x="0" y="60.32" width="4.85" height="5.51" fill="#a4a8a5"/>
<rect x="3.85" y="60.32" width="5.57" height="5.51" fill="#9ca09d"/>
<rect x="8.42" y="60.32" width="5.57" height="5.51" fill="#8a8e8b"/>
<rect x="12.99" y="60.32" width="5.57" height="5.51" fill="#919592"/>
<rect x="17.56" y="60.32" width="5.57" height="5.51" fill="#8e928f"/>
<rect x="22.13" y="60.32" width="5.57" height="5.51" fill="#8b8f8c"/>
<rect x="26.7" y="60.32" width="5.57" height="5.51" fill="#7e827f"/>
<rect x="31.27" y="60.32" width="5.57" height="5.51" fill="#7e827f"/>
<rect x="35.84" y="60.32" width="5.57" height="5.51" fill="#565a57"/>
<rect x="40.41" y="60.32" width="5.57" height="5.51" fill="#060a07"/>
<rect x="44.98" y="60.32" width="5.57" height="5.51" fill="#000000"/>
<rect x="49.55" y="60.32" width="5.57" height="5.51" fill="#515552"/>
<rect x="54.12" y="60.32" width="5.57" height="5.51" fill="#6f7370"/>
<rect x="58.69" y="60.32" width="5.57" height="5.51" fill="#000000"/>
<rect x="63.26" y="60.32" width="5.57" height="5.51" fill="#000000"/>
<rect x="67.83" y="60.32" width="5.57" height="5.51" fill="#000000"/>
<rect x="72.4" y="60.32" width="5.57" height="5.51" fill="#606461"/>
<rect x="76.97" y="60.32" width="5.57" height="5.51" fill="#747875"/>
<rect x="81.54" y="60.32" width="5.57" height="5.51" fill="#6a6e6b"/>
<rect x="86.11" y="60.32" width="5.57" height="5.51" fill="#7e827f"/>
<rect x="90.68" y="60.32" width="5.57" height="5.51" fill="#8d918e"/>
<rect x="95.25" y="60.32" width="5.57" height="5.51" fill="#8d918e"/>
<rect x="99.82" y="60.32" width="5.57" height="5.51" fill="#969a97"/>
<rect x="104.39" y="60.32" width="5.57" height="5.51" fill="#999d9a"/>
<rect x="108.96" y="60.32" width="5.57" height="5.51" fill="#999d9a"/>
<rect x="113.53" y="60.32" width="5.57" height="5.51" fill="#979b98"/>
<rect x="118.1" y="60.32" width="5.57" height="5.51" fill="#9fa3a0"/>
<rect x="122.67" y="60.32" width="5.57" height="5.51" fill="#9fa3a0"/>
<rect x="127.24" y="60.32" width="5.57" height="5.51" fill="#9fa3a0"/>
<rect x="131.81" y="60.32" width="5.57" height="5.51" fill="#9a9e9b"/>
<rect x="136.38" y="60.32" width="5.57" height="5.51" fill="#9a9e9b"/>
<rect x="140.95" y="60.32" width="5.55" height="5.51" fill="#9fa3a0"/>
<rect x="0" y="64.83" width="4.85" height="5.51" fill="#a2a6a3"/>
<rect x="3.85" y="64.83" width="5.57" height="5.51" fill="#9ca09d"/>
<rect x="8.42" y="64.83" width="5.57" height="5.51" fill="#929693"/>
<rect x="12.99" y="64.83" width="5.57" height="5.51" fill="#6e726f"/>
<rect x="17.56" y="64.83" width="5.57" height="5.51" fill="#9da19e"/>
<rect x="22.13" y="64.83" width="5.57" height="5.51" fill="#868a87"/>
<rect x="26.7" y="64.83" width="5.57" height="5.51" fill="#7e827f"/>
<rect x="31.27" y="64.83" width="5.57" height="5.51" fill="#797d7a"/>
<rect x="35.84" y="64.83" width="5.57" height="5.51" fill="#4e524f"/>
<rect x="40.41" y="64.83" width="5.57" height="5.51" fill="#222623"/>
<rect x="44.98" y="64.83" width="5.57" height="5.51" fill="#747875"/>
<rect x="49.55" y="64.83" width="5.57" height="5.51" fill="#797d7a"/>
<rect x="54.12" y="64.83" width="5.57" height="5.51" fill="#797d7a"/>
<rect x="58.69" y="64.83" width="5.57" height="5.51" fill="#000000"/>
<rect x="63.26" y="64.83" width="5.57" height="5.51" fill="#000000"/>
<rect x="67.83" y="64.83" width="5.57" height="5.51" fill="#000000"/>
<rect x="72.4" y="64.83" width="5.57" height="5.51" fill="#292d2a"/>
<rect x="76.97" y="64.83" width="5.57" height="5.51" fill="#656966"/>
<rect x="81.54" y="64.83" width="5.57" height="5.51" fill="#6a6e6b"/>
<rect x="86.11" y="64.83" width="5.57" height="5.51" fill="#747875"/>
<rect x="90.68" y="64.83" width="5.57" height="5.51" fill="#838784"/>
<rect x="95.25" y="64.83" width="5.57" height="5.51" fill="#8b8f8c"/>
<rect x="99.82" y="64.83" width="5.57" height="5.51" fill="#8e928f"/>
<rect x="104.39" y="64.83" width="5.57" height="5.51" fill="#7d817e"/>
<rect x="108.96" y="64.83" width="5.57" height="5.51" fill="#9ca09d"/>
<rect x="113.53" y="64.83" width="5.57" height="5.51" fill="#999d9a"/>
<rect x="118.1" y="64.83" width="5.57" height="5.51" fill="#868a87"/>
<rect x="122.67" y="64.83" width="5.57" height="5.51" fill="#9a9e9b"/>
<rect x="127.24" y="64.83" width="5.57" height="5.51" fill="#a2a6a3"/>
<rect x="131.81" y="64.83" width="5.57" height="5.51" fill="#9fa3a0"/>
<rect x="136.38" y="64.83" width="5.57" height="5.51" fill="#8b8f8c"/>
<rect x="140.95" y="64.83" width="5.55" height="5.51" fill="#909491"/>
<rect x="0" y="69.34" width="4.85" height="5.5" fill="#a2a6a3"/>
<rect x="3.85" y="69.34" width="5.57" height="5.5" fill="#999d9a"/>
<rect x="8.42" y="69.34" width="5.57" height="5.5" fill="#969a97"/>
<rect x="12.99" y="69.34" width="5.57" height="5.5" fill="#939794"/>
<rect x="17.56" y="69.34" width="5.57" height="5.5" fill="#8c908d"/>
<rect x="22.13" y="69.34" width="5.57" height="5.5" fill="#8b8f8c"/>
<rect x="26.7" y="69.34" width="5.57" height="5.5" fill="#767a77"/>
<rect x="31.27" y="69.34" width="5.57" height="5.5" fill="#5e625f"/>
<rect x="35.84" y="69.34" width="5.57" height="5.5" fill="#606461"/>
<rect x="40.41" y="69.34" width="5.57" height="5.5" fill="#2e322f"/>
<rect x="44.98" y="69.34" width="5.57" height="5.5" fill="#2e322f"/>
<rect x="49.55" y="69.34" width="5.57" height="5.5" fill="#747875"/>
<rect x="54.12" y="69.34" width="5.57" height="5.5" fill="#6f7370"/>
<rect x="58.69" y="69.34" width="5.57" height="5.5" fill="#000000"/>
<rect x="63.26" y="69.34" width="5.57" height="5.5" fill="#000000"/>
<rect x="67.83" y="69.34" width="5.57" height="5.5" fill="#000000"/>
<rect x="72.4" y="69.34" width="5.57" height="5.5" fill="#1a1e1b"/>
<rect x="76.97" y="69.34" width="5.57" height="5.5" fill="#515552"/>
<rect x="81.54" y="69.34" width="5.57" height="5.5" fill="#6a6e6b"/>
<rect x="86.11" y="69.34" width="5.57" height="5.5" fill="#7e827f"/>
<rect x="90.68" y="69.34" width="5.57" height="5.5" fill="#808481"/>
<rect x="95.25" y="69.34" width="5.57" height="5.5" fill="#8d918e"/>
<rect x="99.82" y="69.34" width="5.57" height="5.5" fill="#939794"/>
<rect x="104.39" y="69.34" width="5.57" height="5.5" fill="#9b9f9c"/>
<rect x="108.96" y="69.34" width="5.57" height="5.5" fill="#999d9a"/>
<rect x="113.53" y="69.34" width="5.57" height="5.5" fill="#9fa3a0"/>
<rect x="118.1" y="69.34" width="5.57" height="5.5" fill="#9ca09d"/>
<rect x="122.67" y="69.34" width="5.57" height="5.5" fill="#9fa3a0"/>
<rect x="127.24" y="69.34" width="5.57" height="5.5" fill="#a2a6a3"/>
<rect x="131.81" y="69.34" width="5.57" height="5.5" fill="#a9adaa"/>
<rect x="136.38" y="69.34" width="5.57" height="5.5" fill="#9fa3a0"/>
<rect x="140.95" y="69.34" width="5.55" height="5.5" fill="#9fa3a0"/>
<rect x="0" y="73.84" width="4.85" height="5.5" fill="#a4a8a5"/>
<rect x="3.85" y="73.84" width="5.57" height="5.5" fill="#a2a6a3"/>
<rect x="8.42" y="73.84" width="5.57" height="5.5" fill="#9fa3a0"/>
<rect x="12.99" y="73.84" width="5.57" height="5.5" fill="#8d918e"/>
<rect x="17.56" y="73.84" width="5.57" height="5.5" fill="#838784"/>
<rect x="22.13" y="73.84" width="5.57" height="5.5" fill="#8c908d"/>
<rect x="26.7" y="73.84" width="5.57" height="5.5" fill="#757976"/>
<rect x="31.27" y="73.84" width="5.57" height="5.5" fill="#5e625f"/>
<rect x="35.84" y="73.84" width="5.57" height="5.5" fill="#565a57"/>
<rect x="40.41" y="73.84" width="5.57" height="5.5" fill="#565a57"/>
<rect x="44.98" y="73.84" width="5.57" height="5.5" fill="#2e322f"/>
<rect x="49.55" y="73.84" width="5.57" height="5.5" fill="#2e322f"/>
<rect x="54.12" y="73.84" width="5.57" height="5.5" fill="#474b48"/>
<rect x="58.69" y="73.84" width="5.57" height="5.5" fill="#000000"/>
<rect x="63.26" y="73.84" width="5.57" height="5.5" fill="#000000"/>
<rect x="67.83" y="73.84" width="5.57" height="5.5" fill="#000000"/>
<rect x="72.4" y="73.84" width="5.57" height="5.5" fill="#383c39"/>
<rect x="76.97" y="73.84" width="5.57" height="5.5" fill="#565a57"/>
<rect x="81.54" y="73.84" width="5.57" height="5.5" fill="#656966"/>
<rect x="86.11" y="73.84" width="5.57" height="5.5" fill="#797d7a"/>
<rect x="90.68" y="73.84" width="5.57" height="5.5" fill="#848885"/>
<rect x="95.25" y="73.84" width="5.57" height="5.5" fill="#919592"/>
<rect x="99.82" y="73.84" width="5.57" height="5.5" fill="#979b98"/>
<rect x="104.39" y="73.84" width="5.57" height="5.5" fill="#9a9e9b"/>
<rect x="108.96" y="73.84" width="5.57" height="5.5" fill="#979b98"/>
<rect x="113.53" y="73.84" width="5.57" height="5.5" fill="#a0a4a1"/>
<rect x="118.1" y="73.84" width="5.57" height="5.5" fill="#a2a6a3"/>
<rect x="122.67" y="73.84" width="5.57" height="5.5" fill="#a2a6a3"/>
<rect x="127.24" y="73.84" width="5.57" height="5.5" fill="#9fa3a0"/>
<rect x="131.81" y="73.84" width="5.57" height="5.5" fill="#9a9e9b"/>
<rect x="136.38" y="73.84" width="5.57" height="5.5" fill="#9ca09d"/>
<rect x="140.95" y="73.84" width="5.55" height="5.5" fill="#9fa3a0"/>
<rect x="0" y="78.34" width="4.85" height="5.51" fill="#a2a6a3"/>
<rect x="3.85" y="78.34" width="5.57" height="5.51" fill="#989c99"/>
<rect x="8.42" y="78.34" width="5.57" height="5.51" fill="#979b98"/>
<rect x="12.99" y="78.34" width="5.57" height="5.51" fill="#909491"/>
<rect x="17.56" y="78.34" width="5.57" height="5.51" fill="#868a87"/>
<rect x="22.13" y="78.34" width="5.57" height="5.51" fill="#8b8f8c"/>
<rect x="26.7" y="78.34" width="5.57" height="5.51" fill="#858986"/>
<rect x="31.27" y="78.34" width="5.57" height="5.51" fill="#7e827f"/>
<rect x="35.84" y="78.34" width="5.57" height="5.51" fill="#606461"/>
<rect x="40.41" y="78.34" width="5.57" height="5.51" fill="#515552"/>
<rect x="44.98" y="78.34" width="5.57" height="5.51" fill="#606461"/>
<rect x="49.55" y="78.34" width="5.57" height="5.51" fill="#101411"/>
<rect x="54.12" y="78.34" width="5.57" height="5.51" fill="#000000"/>
<rect x="58.69" y="78.34" width="5.57" height="5.51" fill="#000000"/>
<rect x="63.26" y="78.34" width="5.57" height="5.51" fill="#000000"/>
<rect x="67.83" y="78.34" width="5.57" height="5.51" fill="#1a1e1b"/>
<rect x="72.4" y="78.34" width="5.57" height="5.51" fill="#606461"/>
<rect x="76.97" y="78.34" width="5.57" height="5.51" fill="#6f7370"/>
<rect x="81.54" y="78.34" width="5.57" height="5.51" fill="#727673"/>
<rect x="86.11" y="78.34" width="5.57" height="5.51" fill="#7c807d"/>
<rect x="90.68" y="78.34" width="5.57" height="5.51" fill="#8a8e8b"/>
<rect x="95.25" y="78.34" width="5.57" height="5.51" fill="#8f9390"/>
<rect x="99.82" y="78.34" width="5.57" height="5.51" fill="#909491"/>
<rect x="104.39" y="78.34" width="5.57" height="5.51" fill="#8d918e"/>
<rect x="108.96" y="78.34" width="5.57" height="5.51" fill="#979b98"/>
<rect x="113.53" y="78.34" width="5.57" height="5.51" fill="#969a97"/>
<rect x="118.1" y="78.34" width="5.57" height="5.51" fill="#9fa3a0"/>
<rect x="122.67" y="78.34" width="5.57" height="5.51" fill="#9ca09d"/>
<rect x="127.24" y="78.34" width="5.57" height="5.51" fill="#9fa3a0"/>
<rect x="131.81" y="78.34" width="5.57" height="5.51" fill="#9fa3a0"/>
<rect x="136.38" y="78.34" width="5.57" height="5.51" fill="#9ca09d"/>
<rect x="140.95" y="78.34" width="5.55" height="5.51" fill="#9fa3a0"/>
<rect x="0" y="82.85" width="4.85" height="5.5" fill="#9fa3a0"/>
<rect x="3.85" y="82.85" width="5.57" height="5.5" fill="#a1a5a2"/>
<rect x="8.42" y="82.85" width="5.57" height="5.5" fill="#9ea29f"/>
<rect x="12.99" y="82.85" width="5.57" height="5.5" fill="#989c99"/>
<rect x="17.56" y="82.85" width="5.57" height="5.5" fill="#909491"/>
<rect x="22.13" y="82.85" width="5.57" height="5.5" fill="#8e928f"/>
<rect x="26.7" y="82.85" width="5.57" height="5.5" fill="#898d8a"/>
<rect x="31.27" y="82.85" width="5.57" height="5.5" fill="#808481"/>
<rect x="35.84" y="82.85" width="5.57" height="5.5" fill="#6a6e6b"/>
<rect x="40.41" y="82.85" width="5.57" height="5.5" fill="#656966"/>
<rect x="44.98" y="82.85" width="5.57" height="5.5" fill="#5e625f"/>
<rect x="49.55" y="82.85" width="5.57" height="5.5" fill="#585c59"/>
<rect x="54.12" y="82.85" width="5.57" height="5.5" fill="#474b48"/>
<rect x="58.69" y="82.85" width="5.57" height="5.5" fill="#060a07"/>
<rect x="63.26" y="82.85" width="5.57" height="5.5" fill="#424643"/>
<rect x="67.83" y="82.85" width="5.57" height="5.5" fill="#5b5f5c"/>
<rect x="72.4" y="82.85" width="5.57" height="5.5" fill="#6a6e6b"/>
<rect x="76.97" y="82.85" width="5.57" height="5.5" fill="#7e827f"/>
<rect x="81.54" y="82.85" width="5.57" height="5.5" fill="#838784"/>
<rect x="86.11" y="82.85" width="5.57" height="5.5" fill="#808481"/>
<rect x="90.68" y="82.85" width="5.57" height="5.5" fill="#8d918e"/>
<rect x="95.25" y="82.85" width="5.57" height="5.5" fill="#939794"/>
<rect x="99.82" y="82.85" width="5.57" height="5.5" fill="#959996"/>
<rect x="104.39" y="82.85" width="5.57" height="5.5" fill="#9da19e"/>
<rect x="108.96" y="82.85" width="5.57" height="5.5" fill="#989c99"/>
<rect x="113.53" y="82.85" width="5.57" height="5.5" fill="#9b9f9c"/>
<rect x="118.1" y="82.85" width="5.57" height="5.5" fill="#9fa3a0"/>
<rect x="122.67" y="82.85" width="5.57" height="5.5" fill="#9ca09d"/>
<rect x="127.24" y="82.85" width="5.57" height="5.5" fill="#9ca09d"/>
<rect x="131.81" y="82.85" width="5.57" height="5.5" fill="#9fa3a0"/>
<rect x="136.38" y="82.85" width="5.57" height="5.5" fill="#9a9e9b"/>
<rect x="140.95" y="82.85" width="5.55" height="5.5" fill="#9fa3a0"/>
<rect x="0" y="87.36" width="4.85" height="5.5" fill="#9fa3a0"/>
<rect x="3.85" y="87.36" width="5.57" height="5.5" fill="#989c99"/>
<rect x="8.42" y="87.36" width="5.57" height="5.5" fill="#a6aaa7"/>
<rect x="12.99" y="87.36" width="5.57" height="5.5" fill="#999d9a"/>
<rect x="17.56" y="87.36" width="5.57" height="5.5" fill="#979b98"/>
<rect x="22.13" y="87.36" width="5.57" height="5.5" fill="#8f9390"/>
<rect x="26.7" y="87.36" width="5.57" height="5.5" fill="#878b88"/>
<rect x="31.27" y="87.36" width="5.57" height="5.5" fill="#858986"/>
<rect x="35.84" y="87.36" width="5.57" height="5.5" fill="#7e827f"/>
<rect x="40.41" y="87.36" width="5.57" height="5.5" fill="#747875"/>
<rect x="44.98" y="87.36" width="5.57" height="5.5" fill="#747875"/>
<rect x="49.55" y="87.36" width="5.57" height="5.5" fill="#6a6e6b"/>
<rect x="54.12" y="87.36" width="5.57" height="5.5" fill="#6f7370"/>
<rect x="58.69" y="87.36" width="5.57" height="5.5" fill="#747875"/>
<rect x="63.26" y="87.36" width="5.57" height="5.5" fill="#747875"/>
<rect x="67.83" y="87.36" width="5.57" height="5.5" fill="#797d7a"/>
<rect x="72.4" y="87.36" width="5.57" height="5.5" fill="#6a6e6b"/>
<rect x="76.97" y="87.36" width="5.57" height="5.5" fill="#7e827f"/>
<rect x="81.54" y="87.36" width="5.57" height="5.5" fill="#868a87"/>
<rect x="86.11" y="87.36" width="5.57" height="5.5" fill="#8a8e8b"/>
<rect x="90.68" y="87.36" width="5.57" height="5.5" fill="#8e928f"/>
<rect x="95.25" y="87.36" width="5.57" height="5.5" fill="#858986"/>
<rect x="99.82" y="87.36" width="5.57" height="5.5" fill="#8d918e"/>
<rect x="104.39" y="87.36" width="5.57" height="5.5" fill="#9ca09d"/>
<rect x="108.96" y="87.36" width="5.57" height="5.5" fill="#999d9a"/>
<rect x="113.53" y="87.36" width="5.57" height="5.5" fill="#9ca09d"/>
<rect x="118.1" y="87.36" width="5.57" height="5.5" fill="#9ca09d"/>
<rect x="122.67" y="87.36" width="5.57" height="5.5" fill="#959996"/>
<rect x="127.24" y="87.36" width="5.57" height="5.5" fill="#959996"/>
<rect x="131.81" y="87.36" width="5.57" height="5.5" fill="#9ca09d"/>
<rect x="136.38" y="87.36" width="5.57" height="5.5" fill="#9ca09d"/>
<rect x="140.95" y="87.36" width="5.55" height="5.5" fill="#9fa3a0"/>
<rect x="0" y="91.86" width="4.85" height="5.51" fill="#a0a4a1"/>
<rect x="3.85" y="91.86" width="5.57" height="5.51" fill="#9fa3a0"/>
<rect x="8.42" y="91.86" width="5.57" height="5.51" fill="#898d8a"/>
<rect x="12.99" y="91.86" width="5.57" height="5.51" fill="#9b9f9c"/>
<rect x="17.56" y="91.86" width="5.57" height="5.51" fill="#9da19e"/>
<rect x="22.13" y="91.86" width="5.57" height="5.51" fill="#939794"/>
<rect x="26.7" y="91.86" width="5.57" height="5.51" fill="#919592"/>
<rect x="31.27" y="91.86" width="5.57" height="5.51" fill="#909491"/>
<rect x="35.84" y="91.86" width="5.57" height="5.51" fill="#8a8e8b"/>
<rect x="40.41" y="91.86" width="5.57" height="5.51" fill="#888c89"/>
<rect x="44.98" y="91.86" width="5.57" height="5.51" fill="#7c807d"/>
<rect x="49.55" y="91.86" width="5.57" height="5.51" fill="#797d7a"/>
<rect x="54.12" y="91.86" width="5.57" height="5.51" fill="#6c706d"/>
<rect x="58.69" y="91.86" width="5.57" height="5.51" fill="#747875"/>
<rect x="63.26" y="91.86" width="5.57" height="5.51" fill="#767a77"/>
<rect x="67.83" y="91.86" width="5.57" height="5.51" fill="#767a77"/>
<rect x="72.4" y="91.86" width="5.57" height="5.51" fill="#747875"/>
<rect x="76.97" y="91.86" width="5.57" height="5.51" fill="#8d918e"/>
<rect x="81.54" y="91.86" width="5.57" height="5.51" fill="#8c908d"/>
<rect x="86.11" y="91.86" width="5.57" height="5.51" fill="#919592"/>
<rect x="90.68" y="91.86" width="5.57" height="5.51" fill="#919592"/>
<rect x="95.25" y="91.86" width="5.57" height="5.51" fill="#8e928f"/>
<rect x="99.82" y="91.86" width="5.57" height="5.51" fill="#919592"/>
<rect x="104.39" y="91.86" width="5.57" height="5.51" fill="#9a9e9b"/>
<rect x="108.96" y="91.86" width="5.57" height="5.51" fill="#a0a4a1"/>
<rect x="113.53" y="91.86" width="5.57" height="5.51" fill="#acb0ad"/>
<rect x="118.1" y="91.86" width="5.57" height="5.51" fill="#9a9e9b"/>
<rect x="122.67" y="91.86" width="5.57" height="5.51" fill="#a2a6a3"/>
<rect x="127.24" y="91.86" width="5.57" height="5.51" fill="#a2a6a3"/>
<rect x="131.81" y="91.86" width="5.57" height="5.51" fill="#a4a8a5"/>
<rect x="136.38" y="91.86" width="5.57" height="5.51" fill="#a2a6a3"/>
<rect x="140.95" y="91.86" width="5.55" height="5.51" fill="#909491"/>
<rect x="0" y="96.37" width="4.85" height="5.5" fill="#9ca09d"/>
<rect x="3.85" y="96.37" width="5.57" height="5.5" fill="#909491"/>
<rect x="8.42" y="96.37" width="5.57" height="5.5" fill="#a8aca9"/>
<rect x="12.99" y="96.37" width="5.57" height="5.5" fill="#a6aaa7"/>
<rect x="17.56" y="96.37" width="5.57" height="5.5" fill="#9ca09d"/>
<rect x="22.13" y="96.37" width="5.57" height="5.5" fill="#9a9e9b"/>
<rect x="26.7" y="96.37" width="5.57" height="5.5" fill="#959996"/>
<rect x="31.27" y="96.37" width="5.57" height="5.5" fill="#939794"/>
<rect x="35.84" y="96.37" width="5.57" height="5.5" fill="#878b88"/>
<rect x="40.41" y="96.37" width="5.57" height="5.5" fill="#888c89"/>
<rect x="44.98" y="96.37" width="5.57" height="5.5" fill="#7f8380"/>
<rect x="49.55" y="96.37" width="5.57" height="5.5" fill="#7e827f"/>
<rect x="54.12" y="96.37" width="5.57" height="5.5" fill="#8d918e"/>
<rect x="58.69" y="96.37" width="5.57" height="5.5" fill="#747875"/>
<rect x="63.26" y="96.37" width="5.57" height="5.5" fill="#747875"/>
<rect x="67.83" y="96.37" width="5.57" height="5.5" fill="#6f7370"/>
<rect x="72.4" y="96.37" width="5.57" height="5.5" fill="#757976"/>
<rect x="76.97" y="96.37" width="5.57" height="5.5" fill="#8f9390"/>
<rect x="81.54" y="96.37" width="5.57" height="5.5" fill="#989c99"/>
<rect x="86.11" y="96.37" width="5.57" height="5.5" fill="#989c99"/>
<rect x="90.68" y="96.37" width="5.57" height="5.5" fill="#959996"/>
<rect x="95.25" y="96.37" width="5.57" height="5.5" fill="#949895"/>
<rect x="99.82" y="96.37" width="5.57" height="5.5" fill="#9ea29f"/>
<rect x="104.39" y="96.37" width="5.57" height="5.5" fill="#999d9a"/>
<rect x="108.96" y="96.37" width="5.57" height="5.5" fill="#9b9f9c"/>
<rect x="113.53" y="96.37" width="5.57" height="5.5" fill="#8b8f8c"/>
<rect x="118.1" y="96.37" width="5.57" height="5.5" fill="#909491"/>
<rect x="122.67" y="96.37" width="5.57" height="5.5" fill="#a2a6a3"/>
<rect x="127.24" y="96.37" width="5.57" height="5.5" fill="#9fa3a0"/>
<rect x="131.81" y="96.37" width="5.57" height="5.5" fill="#9a9e9b"/>
<rect x="136.38" y="96.37" width="5.57" height="5.5" fill="#9ca09d"/>
<rect x="140.95" y="96.37" width="5.55" height="5.5" fill="#9fa3a0"/>
<rect x="0" y="100.87" width="4.85" height="5.5" fill="#a2a6a3"/>
<rect x="3.85" y="100.87" width="5.57" height="5.5" fill="#9fa3a0"/>
<rect x="8.42" y="100.87" width="5.57" height="5.5" fill="#9fa3a0"/>
<rect x="12.99" y="100.87" width="5.57" height="5.5" fill="#a4a8a5"/>
<rect x="17.56" y="100.87" width="5.57" height="5.5" fill="#9ea29f"/>
<rect x="22.13" y="100.87" width="5.57" height="5.5" fill="#9ca09d"/>
<rect x="26.7" y="100.87" width="5.57" height="5.5" fill="#9a9e9b"/>
<rect x="31.27" y="100.87" width="5.57" height="5.5" fill="#929693"/>
<rect x="35.84" y="100.87" width="5.57" height="5.5" fill="#8e928f"/>
<rect x="40.41" y="100.87" width="5.57" height="5.5" fill="#878b88"/>
<rect x="44.98" y="100.87" width="5.57" height="5.5" fill="#868a87"/>
<rect x="49.55" y="100.87" width="5.57" height="5.5" fill="#767a77"/>
<rect x="54.12" y="100.87" width="5.57" height="5.5" fill="#7f8380"/>
<rect x="58.69" y="100.87" width="5.57" height="5.5" fill="#7a7e7b"/>
<rect x="63.26" y="100.87" width="5.57" height="5.5" fill="#757976"/>
<rect x="67.83" y="100.87" width="5.57" height="5.5" fill="#626663"/>
<rect x="72.4" y="100.87" width="5.57" height="5.5" fill="#868a87"/>
<rect x="76.97" y="100.87" width="5.57" height="5.5" fill="#919592"/>
<rect x="81.54" y="100.87" width="5.57" height="5.5" fill="#939794"/>
<rect x="86.11" y="100.87" width="5.57" height="5.5" fill="#959996"/>
<rect x="90.68" y="100.87" width="5.57" height="5.5" fill="#979b98"/>
<rect x="95.25" y="100.87" width="5.57" height="5.5" fill="#969a97"/>
<rect x="99.82" y="100.87" width="5.57" height="5.5" fill="#7d817e"/>
<rect x="104.39" y="100.87" width="5.57" height="5.5" fill="#8e928f"/>
<rect x="108.96" y="100.87" width="5.57" height="5.5" fill="#a2a6a3"/>
<rect x="113.53" y="100.87" width="5.57" height="5.5" fill="#a2a6a3"/>
<rect x="118.1" y="100.87" width="5.57" height="5.5" fill="#a2a6a3"/>
<rect x="122.67" y="100.87" width="5.57" height="5.5" fill="#a2a6a3"/>
<rect x="127.24" y="100.87" width="5.57" height="5.5" fill="#9fa3a0"/>
<rect x="131.81" y="100.87" width="5.57" height="5.5" fill="#9fa3a0"/>
<rect x="136.38" y="100.87" width="5.57" height="5.5" fill="#989c99"/>
<rect x="140.95" y="100.87" width="5.55" height="5.5" fill="#9fa3a0"/>
<rect x="0" y="105.38" width="4.85" height="5.51" fill="#9fa3a0"/>
<rect x="3.85" y="105.38" width="5.57" height="5.51" fill="#9fa3a0"/>
<rect x="8.42" y="105.38" width="5.57" height="5.51" fill="#a4a8a5"/>
<rect x="12.99" y="105.38" width="5.57" height="5.51" fill="#9fa3a0"/>
<rect x="17.56" y="105.38" width="5.57" height="5.51" fill="#9a9e9b"/>
<rect x="22.13" y="105.38" width="5.57" height="5.51" fill="#9da19e"/>
<rect x="26.7" y="105.38" width="5.57" height="5.51" fill="#a2a6a3"/>
<rect x="31.27" y="105.38" width="5.57" height="5.51" fill="#949895"/>
<rect x="35.84" y="105.38" width="5.57" height="5.51" fill="#909491"/>
<rect x="40.41" y="105.38" width="5.57" height="5.51" fill="#8d918e"/>
<rect x="44.98" y="105.38" width="5.57" height="5.51" fill="#888c89"/>
<rect x="49.55" y="105.38" width="5.57" height="5.51" fill="#808481"/>
<rect x="54.12" y="105.38" width="5.57" height="5.51" fill="#878b88"/>
<rect x="58.69" y="105.38" width="5.57" height="5.51" fill="#8c908d"/>
<rect x="63.26" y="105.38" width="5.57" height="5.51" fill="#646865"/>
<rect x="67.83" y="105.38" width="5.57" height="5.51" fill="#828683"/>
<rect x="72.4" y="105.38" width="5.57" height="5.51" fill="#8d918e"/>
<rect x="76.97" y="105.38" width="5.57" height="5.51" fill="#919592"/>
<rect x="81.54" y="105.38" width="5.57" height="5.51" fill="#959996"/>
<rect x="86.11" y="105.38" width="5.57" height="5.51" fill="#979b98"/>
<rect x="90.68" y="105.38" width="5.57" height="5.51" fill="#9b9f9c"/>
<rect x="95.25" y="105.38" width="5.57" height="5.51" fill="#9a9e9b"/>
<rect x="99.82" y="105.38" width="5.57" height="5.51" fill="#8e928f"/>
<rect x="104.39" y="105.38" width="5.57" height="5.51" fill="#989c99"/>
<rect x="108.96" y="105.38" width="5.57" height="5.51" fill="#9a9e9b"/>
<rect x="113.53" y="105.38" width="5.57" height="5.51" fill="#9fa3a0"/>
<rect x="118.1" y="105.38" width="5.57" height="5.51" fill="#9a9e9b"/>
<rect x="122.67" y="105.38" width="5.57" height="5.51" fill="#9fa3a0"/>
<rect x="127.24" y="105.38" width="5.57" height="5.51" fill="#a6aaa7"/>
<rect x="131.81" y="105.38" width="5.57" height="5.51" fill="#9fa3a0"/>
<rect x="136.38" y="105.38" width="5.57" height="5.51" fill="#9ca09d"/>
<rect x="140.95" y="105.38" width="5.55" height="5.51" fill="#a2a6a3"/>
<rect x="0" y="109.88" width="4.85" height="5.5" fill="#a6aaa7"/>
<rect x="3.85" y="109.88" width="5.57" height="5.5" fill="#9a9e9b"/>
<rect x="8.42" y="109.88" width="5.57" height="5.5" fill="#9fa3a0"/>
<rect x="12.99" y="109.88" width="5.57" height="5.5" fill="#989c99"/>
<rect x="17.56" y="109.88" width="5.57" height="5.5" fill="#9b9f9c"/>
<rect x="22.13" y="109.88" width="5.57" height="5.5" fill="#a1a5a2"/>
<rect x="26.7" y="109.88" width="5.57" height="5.5" fill="#9ea29f"/>
<rect x="31.27" y="109.88" width="5.57" height="5.5" fill="#8a8e8b"/>
<rect x="35.84" y="109.88" width="5.57" height="5.5" fill="#979b98"/>
<rect x="40.41" y="109.88" width="5.57" height="5.5" fill="#878b88"/>
<rect x="44.98" y="109.88" width="5.57" height="5.5" fill="#8b8f8c"/>
<rect x="49.55" y="109.88" width="5.57" height="5.5" fill="#858986"/>
<rect x="54.12" y="109.88" width="5.57" height="5.5" fill="#8f9390"/>
<rect x="58.69" y="109.88" width="5.57" height="5.5" fill="#8e928f"/>
<rect x="63.26" y="109.88" width="5.57" height="5.5" fill="#858986"/>
<rect x="67.83" y="109.88" width="5.57" height="5.5" fill="#a3a7a4"/>
<rect x="72.4" y="109.88" width="5.57" height="5.5" fill="#a4a8a5"/>
<rect x="76.97" y="109.88" width="5.57" height="5.5" fill="#999d9a"/>
<rect x="81.54" y="109.88" width="5.57" height="5.5" fill="#909491"/>
<rect x="86.11" y="109.88" width="5.57" height="5.5" fill="#9ea29f"/>
<rect x="90.68" y="109.88" width="5.57" height="5.5" fill="#a0a4a1"/>
<rect x="95.25" y="109.88" width="5.57" height="5.5" fill="#959996"/>
<rect x="99.82" y="109.88" width="5.57" height="5.5" fill="#a1a5a2"/>
<rect x="104.39" y="109.88" width="5.57" height="5.5" fill="#9a9e9b"/>
<rect x="108.96" y="109.88" width="5.57" height="5.5" fill="#909491"/>
<rect x="113.53" y="109.88" width="5.57" height="5.5" fill="#989c99"/>
<rect x="118.1" y="109.88" width="5.57" height="5.5" fill="#9a9e9b"/>
<rect x="122.67" y="109.88" width="5.57" height="5.5" fill="#9fa3a0"/>
<rect x="127.24" y="109.88" width="5.57" height="5.5" fill="#a6aaa7"/>
<rect x="131.81" y="109.88" width="5.57" height="5.5" fill="#9a9e9b"/>
<rect x="136.38" y="109.88" width="5.57" height="5.5" fill="#868a87"/>
<rect x="140.95" y="109.88" width="5.55" height="5.5" fill="#9fa3a0"/>
<rect x="0" y="114.39" width="4.85" height="5.5" fill="#9a9e9b"/>
<rect x="3.85" y="114.39" width="5.57" height="5.5" fill="#9fa3a0"/>
<rect x="8.42" y="114.39" width="5.57" height="5.5" fill="#9fa3a0"/>
<rect x="12.99" y="114.39" width="5.57" height="5.5" fill="#9fa3a0"/>
<rect x="17.56" y="114.39" width="5.57" height="5.5" fill="#9fa3a0"/>
<rect x="22.13" y="114.39" width="5.57" height="5.5" fill="#a1a5a2"/>
<rect x="26.7" y="114.39" width="5.57" height="5.5" fill="#a2a6a3"/>
<rect x="31.27" y="114.39" width="5.57" height="5.5" fill="#9ea29f"/>
<rect x="35.84" y="114.39" width="5.57" height="5.5" fill="#9fa3a0"/>
<rect x="40.41" y="114.39" width="5.57" height="5.5" fill="#9b9f9c"/>
<rect x="44.98" y="114.39" width="5.57" height="5.5" fill="#949895"/>
<rect x="49.55" y="114.39" width="5.57" height="5.5" fill="#929693"/>
<rect x="54.12" y="114.39" width="5.57" height="5.5" fill="#8f9390"/>
<rect x="58.69" y="114.39" width="5.57" height="5.5" fill="#969a97"/>
<rect x="63.26" y="114.39" width="5.57" height="5.5" fill="#878b88"/>
<rect x="67.83" y="114.39" width="5.57" height="5.5" fill="#a1a5a2"/>
<rect x="72.4" y="114.39" width="5.57" height="5.5" fill="#000000"/>
<rect x="76.97" y="114.39" width="5.57" height="5.5" fill="#848885"/>
<rect x="81.54" y="114.39" width="5.57" height="5.5" fill="#9da19e"/>
<rect x="86.11" y="114.39" width="5.57" height="5.5" fill="#a0a4a1"/>
<rect x="90.68" y="114.39" width="5.57" height="5.5" fill="#989c99"/>
<rect x="95.25" y="114.39" width="5.57" height="5.5" fill="#9b9f9c"/>
<rect x="99.82" y="114.39" width="5.57" height="5.5" fill="#7c807d"/>
<rect x="104.39" y="114.39" width="5.57" height="5.5" fill="#909491"/>
<rect x="108.96" y="114.39" width="5.57" height="5.5" fill="#9fa3a0"/>
<rect x="113.53" y="114.39" width="5.57" height="5.5" fill="#9fa3a0"/>
<rect x="118.1" y="114.39" width="5.57" height="5.5" fill="#9fa3a0"/>
<rect x="122.67" y="114.39" width="5.57" height="5.5" fill="#9fa3a0"/>
<rect x="127.24" y="114.39" width="5.57" height="5.5" fill="#a2a6a3"/>
<rect x="131.81" y="114.39" width="5.57" height="5.5" fill="#989c99"/>
<rect x="136.38" y="114.39" width="5.57" height="5.5" fill="#acb0ad"/>
<rect x="140.95" y="114.39" width="5.55" height="5.5" fill="#9a9e9b"/>
<rect x="0" y="118.89" width="4.85" height="5.5" fill="#9fa3a0"/>
<rect x="3.85" y="118.89" width="5.57" height="5.5" fill="#a6aaa7"/>
<rect x="8.42" y="118.89" width="5.57" height="5.5" fill="#a6aaa7"/>
<rect x="12.99" y="118.89" width="5.57" height="5.5" fill="#9fa3a0"/>
<rect x="17.56" y="118.89" width="5.57" height="5.5" fill="#a2a6a3"/>
<rect x="22.13" y="118.89" width="5.57" height="5.5" fill="#909491"/>
<rect x="26.7" y="118.89" width="5.57" height="5.5" fill="#a2a6a3"/>
<rect x="31.27" y="118.89" width="5.57" height="5.5" fill="#a0a4a1"/>
<rect x="35.84" y="118.89" width="5.57" height="5.5" fill="#9fa3a0"/>
<rect x="40.41" y="118.89" width="5.57" height="5.5" fill="#9b9f9c"/>
<rect x="44.98" y="118.89" width="5.57" height="5.5" fill="#9da19e"/>
<rect x="49.55" y="118.89" width="5.57" height="5.5" fill="#949895"/>
<rect x="54.12" y="118.89" width="5.57" height="5.5" fill="#949895"/>
<rect x="58.69" y="118.89" width="5.57" height="5.5" fill="#858986"/>
<rect x="63.26" y="118.89" width="5.57" height="5.5" fill="#8a8e8b"/>
<rect x="67.83" y="118.89" width="5.57" height="5.5" fill="#8f9390"/>
<rect x="72.4" y="118.89" width="5.57" height="5.5" fill="#9a9e9b"/>
<rect x="76.97" y="118.89" width="5.57" height="5.5" fill="#9ea29f"/>
<rect x="81.54" y="118.89" width="5.57" height="5.5" fill="#9fa3a0"/>
<rect x="86.11" y="118.89" width="5.57" height="5.5" fill="#a4a8a5"/>
<rect x="90.68" y="118.89" width="5.57" height="5.5" fill="#9ea29f"/>
<rect x="95.25" y="118.89" width="5.57" height="5.5" fill="#9ca09d"/>
<rect x="99.82" y="118.89" width="5.57" height="5.5" fill="#868a87"/>
<rect x="104.39" y="118.89" width="5.57" height="5.5" fill="#989c99"/>
<rect x="108.96" y="118.89" width="5.57" height="5.5" fill="#9a9e9b"/>
<rect x="113.53" y="118.89" width="5.57" height="5.5" fill="#9fa3a0"/>
<rect x="118.1" y="118.89" width="5.57" height="5.5" fill="#9ca09d"/>
<rect x="122.67" y="118.89" width="5.57" height="5.5" fill="#a4a8a5"/>
<rect x="127.24" y="118.89" width="5.57" height="5.5" fill="#959996"/>
<rect x="131.81" y="118.89" width="5.57" height="5.5" fill="#9fa3a0"/>
<rect x="136.38" y="118.89" width="5.57" height="5.5" fill="#a9adaa"/>
<rect x="140.95" y="118.89" width="5.55" height="5.5" fill="#9a9e9b"/>
<rect x="0" y="123.39" width="4.85" height="5.51" fill="#9fa3a0"/>
<rect x="3.85" y="123.39" width="5.57" height="5.51" fill="#a6aaa7"/>
<rect x="8.42" y="123.39" width="5.57" height="5.51" fill="#a6aaa7"/>
<rect x="12.99" y="123.39" width="5.57" height="5.51" fill="#a4a8a5"/>
<rect x="17.56" y="123.39" width="5.57" height="5.51" fill="#9fa3a0"/>
<rect x="22.13" y="123.39" width="5.57" height="5.51" fill="#9fa3a0"/>
<rect x="26.7" y="123.39" width="5.57" height="5.51" fill="#909491"/>
<rect x="31.27" y="123.39" width="5.57" height="5.51" fill="#a2a6a3"/>
<rect x="35.84" y="123.39" width="5.57" height="5.51" fill="#a1a5a2"/>
<rect x="40.41" y="123.39" width="5.57" height="5.51" fill="#a4a8a5"/>
<rect x="44.98" y="123.39" width="5.57" height="5.51" fill="#a1a5a2"/>
<rect x="49.55" y="123.39" width="5.57" height="5.51" fill="#999d9a"/>
<rect x="54.12" y="123.39" width="5.57" height="5.51" fill="#989c99"/>
<rect x="58.69" y="123.39" width="5.57" height="5.51" fill="#8a8e8b"/>
<rect x="63.26" y="123.39" width="5.57" height="5.51" fill="#919592"/>
<rect x="67.83" y="123.39" width="5.57" height="5.51" fill="#959996"/>
<rect x="72.4" y="123.39" width="5.57" height="5.51" fill="#979b98"/>
<rect x="76.97" y="123.39" width="5.57" height="5.51" fill="#a2a6a3"/>
<rect x="81.54" y="123.39" width="5.57" height="5.51" fill="#a1a5a2"/>
<rect x="86.11" y="123.39" width="5.57" height="5.51" fill="#a2a6a3"/>
<rect x="90.68" y="123.39" width="5.57" height="5.51" fill="#a0a4a1"/>
<rect x="95.25" y="123.39" width="5.57" height="5.51" fill="#9a9e9b"/>
<rect x="99.82" y="123.39" width="5.57" height="5.51" fill="#9fa3a0"/>
<rect x="104.39" y="123.39" width="5.57" height="5.51" fill="#9fa3a0"/>
<rect x="108.96" y="123.39" width="5.57" height="5.51" fill="#a2a6a3"/>
<rect x="113.53" y="123.39" width="5.57" height="5.51" fill="#a2a6a3"/>
<rect x="118.1" y="123.39" width="5.57" height="5.51" fill="#8e928f"/>
<rect x="122.67" y="123.39" width="5.57" height="5.51" fill="#9fa3a0"/>
<rect x="127.24" y="123.39" width="5.57" height="5.51" fill="#a2a6a3"/>
<rect x="131.81" y="123.39" width="5.57" height="5.51" fill="#9ca09d"/>
<rect x="136.38" y="123.39" width="5.57" height="5.51" fill="#909491"/>
<rect x="140.95" y="123.39" width="5.55" height="5.51" fill="#9ca09d"/>
<rect x="0" y="127.9" width="4.85" height="5.5" fill="#9fa3a0"/>
<rect x="3.85" y="127.9" width="5.57" height="5.5" fill="#a6aaa7"/>
<rect x="8.42" y="127.9" width="5.57" height="5.5" fill="#a6aaa7"/>
<rect x="12.99" y="127.9" width="5.57" height="5.5" fill="#a6aaa7"/>
<rect x="17.56" y="127.9" width="5.57" height="5.5" fill="#9fa3a0"/>
<rect x="22.13" y="127.9" width="5.57" height="5.5" fill="#a6aaa7"/>
<rect x="26.7" y="127.9" width="5.57" height="5.5" fill="#a6aaa7"/>
<rect x="31.27" y="127.9" width="5.57" height="5.5" fill="#9fa3a0"/>
<rect x="35.84" y="127.9" width="5.57" height="5.5" fill="#959996"/>
<rect x="40.41" y="127.9" width="5.57" height="5.5" fill="#a2a6a3"/>
<rect x="44.98" y="127.9" width="5.57" height="5.5" fill="#a2a6a3"/>
<rect x="49.55" y="127.9" width="5.57" height="5.5" fill="#9b9f9c"/>
<rect x="54.12" y="127.9" width="5.57" height="5.5" fill="#9b9f9c"/>
<rect x="58.69" y="127.9" width="5.57" height="5.5" fill="#949895"/>
<rect x="63.26" y="127.9" width="5.57" height="5.5" fill="#999d9a"/>
<rect x="67.83" y="127.9" width="5.57" height="5.5" fill="#999d9a"/>
<rect x="72.4" y="127.9" width="5.57" height="5.5" fill="#9ca09d"/>
<rect x="76.97" y="127.9" width="5.57" height="5.5" fill="#a2a6a3"/>
<rect x="81.54" y="127.9" width="5.57" height="5.5" fill="#a4a8a5"/>
<rect x="86.11" y="127.9" width="5.57" height="5.5" fill="#9fa3a0"/>
<rect x="90.68" y="127.9" width="5.57" height="5.5" fill="#a0a4a1"/>
<rect x="95.25" y="127.9" width="5.57" height="5.5" fill="#9fa3a0"/>
<rect x="99.82" y="127.9" width="5.57" height="5.5" fill="#9fa3a0"/>
<rect x="104.39" y="127.9" width="5.57" height="5.5" fill="#a6aaa7"/>
<rect x="108.96" y="127.9" width="5.57" height="5.5" fill="#9fa3a0"/>
<rect x="113.53" y="127.9" width="5.57" height="5.5" fill="#a2a6a3"/>
<rect x="118.1" y="127.9" width="5.57" height="5.5" fill="#989c99"/>
<rect x="122.67" y="127.9" width="5.57" height="5.5" fill="#9a9e9b"/>
<rect x="127.24" y="127.9" width="5.57" height="5.5" fill="#9fa3a0"/>
<rect x="131.81" y="127.9" width="5.57" height="5.5" fill="#9fa3a0"/>
<rect x="136.38" y="127.9" width="5.57" height="5.5" fill="#9fa3a0"/>
<rect x="140.95" y="127.9" width="5.55" height="5.5" fill="#9a9e9b"/>
<rect x="0" y="132.41" width="4.85" height="5.5" fill="#9fa3a0"/>
<rect x="3.85" y="132.41" width="5.57" height="5.5" fill="#9fa3a0"/>
<rect x="8.42" y="132.41" width="5.57" height="5.5" fill="#9a9e9b"/>
<rect x="12.99" y="132.41" width="5.57" height="5.5" fill="#a2a6a3"/>
<rect x="17.56" y="132.41" width="5.57" height="5.5" fill="#9fa3a0"/>
<rect x="22.13" y="132.41" width="5.57" height="5.5" fill="#a6aaa7"/>
<rect x="26.7" y="132.41" width="5.57" height="5.5" fill="#a6aaa7"/>
<rect x="31.27" y="132.41" width="5.57" height="5.5" fill="#9fa3a0"/>
<rect x="35.84" y="132.41" width="5.57" height="5.5" fill="#9fa3a0"/>
<rect x="40.41" y="132.41" width="5.57" height="5.5" fill="#a2a6a3"/>
<rect x="44.98" y="132.41" width="5.57" height="5.5" fill="#9fa3a0"/>
<rect x="49.55" y="132.41" width="5.57" height="5.5" fill="#9ca09d"/>
<rect x="54.12" y="132.41" width="5.57" height="5.5" fill="#9ca09d"/>
<rect x="58.69" y="132.41" width="5.57" height="5.5" fill="#9ca09d"/>
<rect x="63.26" y="132.41" width="5.57" height="5.5" fill="#959996"/>
<rect x="67.83" y="132.41" width="5.57" height="5.5" fill="#9a9e9b"/>
<rect x="72.4" y="132.41" width="5.57" height="5.5" fill="#9a9e9b"/>
<rect x="76.97" y="132.41" width="5.57" height="5.5" fill="#9fa3a0"/>
<rect x="81.54" y="132.41" width="5.57" height="5.5" fill="#a2a6a3"/>
<rect x="86.11" y="132.41" width="5.57" height="5.5" fill="#a2a6a3"/>
<rect x="90.68" y="132.41" width="5.57" height="5.5" fill="#9fa3a0"/>
<rect x="95.25" y="132.41" width="5.57" height="5.5" fill="#9fa3a0"/>
<rect x="99.82" y="132.41" width="5.57" height="5.5" fill="#9fa3a0"/>
<rect x="104.39" y="132.41" width="5.57" height="5.5" fill="#9fa3a0"/>
<rect x="108.96" y="132.41" width="5.57" height="5.5" fill="#9fa3a0"/>
<rect x="113.53" y="132.41" width="5.57" height="5.5" fill="#a2a6a3"/>
<rect x="118.1" y="132.41" width="5.57" height="5.5" fill="#9ca09d"/>
<rect x="122.67" y="132.41" width="5.57" height="5.5" fill="#a6aaa7"/>
<rect x="127.24" y="132.41" width="5.57" height="5.5" fill="#9ca09d"/>
<rect x="131.81" y="132.41" width="5.57" height="5.5" fill="#9fa3a0"/>
<rect x="136.38" y="132.41" width="5.57" height="5.5" fill="#9fa3a0"/>
<rect x="140.95" y="132.41" width="5.55" height="5.5" fill="#9ca09d"/>
<rect x="0" y="136.91" width="4.85" height="4.54" fill="#a2a6a3"/>
<rect x="3.85" y="136.91" width="5.57" height="4.54" fill="#a2a6a3"/>
<rect x="8.42" y="136.91" width="5.57" height="4.54" fill="#9fa3a0"/>
<rect x="12.99" y="136.91" width="5.57" height="4.54" fill="#9ca09d"/>
<rect x="17.56" y="136.91" width="5.57" height="4.54" fill="#9ca09d"/>
<rect x="22.13" y="136.91" width="5.57" height="4.54" fill="#9fa3a0"/>
<rect x="26.7" y="136.91" width="5.57" height="4.54" fill="#9fa3a0"/>
<rect x="31.27" y="136.91" width="5.57" height="4.54" fill="#9fa3a0"/>
<rect x="35.84" y="136.91" width="5.57" height="4.54" fill="#9a9e9b"/>
<rect x="40.41" y="136.91" width="5.57" height="4.54" fill="#a6aaa7"/>
<rect x="44.98" y="136.91" width="5.57" height="4.54" fill="#a2a6a3"/>
<rect x="49.55" y="136.91" width="5.57" height="4.54" fill="#9a9e9b"/>
<rect x="54.12" y="136.91" width="5.57" height="4.54" fill="#9ca09d"/>
<rect x="58.69" y="136.91" width="5.57" height="4.54" fill="#9fa3a0"/>
<rect x="63.26" y="136.91" width="5.57" height="4.54" fill="#a2a6a3"/>
<rect x="67.83" y="136.91" width="5.57" height="4.54" fill="#9ca09d"/>
<rect x="72.4" y="136.91" width="5.57" height="4.54" fill="#9fa3a0"/>
<rect x="76.97" y="136.91" width="5.57" height="4.54" fill="#9fa3a0"/>
<rect x="81.54" y="136.91" width="5.57" height="4.54" fill="#a2a6a3"/>
<rect x="86.11" y="136.91" width="5.57" height="4.54" fill="#a2a6a3"/>
<rect x="90.68" y="136.91" width="5.57" height="4.54" fill="#a0a4a1"/>
<rect x="95.25" y="136.91" width="5.57" height="4.54" fill="#9fa3a0"/>
<rect x="99.82" y="136.91" width="5.57" height="4.54" fill="#9fa3a0"/>
<rect x="104.39" y="136.91" width="5.57" height="4.54" fill="#9fa3a0"/>
<rect x="108.96" y="136.91" width="5.57" height="4.54" fill="#9fa3a0"/>
<rect x="113.53" y="136.91" width="5.57" height="4.54" fill="#9a9e9b"/>
<rect x="118.1" y="136.91" width="5.57" height="4.54" fill="#9a9e9b"/>
<rect x="122.67" y="136.91" width="5.57" height="4.54" fill="#9fa3a0"/>
<rect x="127.24" y="136.91" width="5.57" height="4.54" fill="#9fa3a0"/>
<rect x="131.81" y="136.91" width="5.57" height="4.54" fill="#a2a6a3"/>
<rect x="136.38" y="136.91" width="5.57" height="4.54" fill="#9fa3a0"/>
<rect x="140.95" y="136.91" width="5.55" height="4.54" fill="#9ca09d"/>
</g>
<g fill="none" stroke="#fff">
<rect x="100.7" y="64.6" width="8.5" height="8.7" stroke-width="1.2"/>
<rect x="104.9" y="77.9" width="9.2" height="9.2" stroke-width="1.8"/>
<rect x="529.4" y="68.4" width="4.1" height="4.15" stroke-width="1" fill="rgb(72,76,72)"/>
<path d="M487.6 339.45H505.25V351.7H487.6Z" stroke-width="1.1"/><path d="M487.6 351.7H505.25" stroke-width="2.2"/>
<polygon points="100.4,378.5 109.4,378.5 109.4,383.4 114.2,383.4 114.2,387.5 118.3,387.5 118.3,405.3 114.2,405.3 114.2,410.2 100.4,410.2 100.4,405.7 109.4,405.7 109.4,387.9 95.6,387.9 95.6,383.4 100.4,383.4" stroke-width="1.2"/>
</g>
<polyline points="63.8,257.5 69.6,255.3 74,256 79.9,253.1 85.7,250.9 90.8,248.7 93.7,238.5 96.7,229.7 100.3,239.9 104,245.1 109.1,242.9 112.7,237.7 115.7,238.5 119.3,235.6 123,231.2 126.6,218 131,201.9 134,201.9 137.6,207 141.3,216.5 145.6,225.3 150.8,229 155.6,224.7 159.8,230.3 164,235.9 168.2,237.3 172.3,242.8 177.2,247 184.9,244.5 196.1,243.5 201.7,237.3 204.5,224.7 207.3,219.1 211.5,224.7 216,231.2 220.1,225.6 224.3,201.9 228.5,192.8 232.7,199.1 236.9,207.5 241.1,208.9 248.1,201.9 255.1,194.9 260.6,189.3 264.8,179.6 267.6,174.7 271.1,179.6 276,187.9 280.2,185.1 287,185.2 290.8,186.5 296.7,185.1 300.1,184.1 304.5,181.6 308.4,180.2 313.2,180.2 318.1,182.1 322,181.2 324.9,179.7 326.9,181.6 329.3,178.2 331.7,174.3 332.7,164.6 334.2,153.9 336.7,114.9 340.3,103.9 344.5,114.9 346.5,150 348.75,164.1 354.1,161.4 359.5,159.6 365.7,156.1 369.3,157.9 374.6,155.2 378.2,147.1 380.9,140 382.7,150.7 384.5,190 385.7,223.9" fill="none" stroke="#555555" stroke-width="1" stroke-linejoin="round" stroke-dasharray="5 3.5"/>
<polyline points="63.8,262.6 66.7,260.8 75.5,261.1 81.3,258.9 85.7,258.2 90.8,255.3 93.7,248.7 96.7,241.1 100.3,247.3 104,252.4 107.6,251.9 113.5,249.9 119.3,247.3 123,244.3 126.6,231.2 129.6,221.7 132.5,220.6 136.1,223.1 139.8,228.2 143.5,234.8 149.3,239.9 152.8,236.6 157,235.2 160.5,238 164,241.5 168.2,236.6 172.3,243.5 177.2,247.7 183.5,244.9 190.5,244.2 196.1,244 200.3,238.7 202.4,233.1 204.5,207.9 207.3,176.5 209.7,190.7 213.2,218.7 216.6,231.9 220.1,227 224.3,213.1 227.8,205.4 231.3,208.2 235.5,215.9 239.7,219.4 243.9,217.3 247.4,213.1 252.3,210.3 256.5,204.7 260.6,199.1 262.7,199.1 265.5,190.7 267.6,183.7 270.4,187.9 273.2,196.3 276,202.6 278.8,204 282.3,201.9 287.9,199.2 292.8,198.7 297.2,197.7 300.6,195.3 304.5,193.3 309.3,191.4 312.8,192.4 317.1,190.9 322,188.5 327.4,187 329.8,183.1 330.8,179.2 332.2,173.4 333.6,150.7 335.4,127.9 337.3,82.5 339.9,57.5 343.2,82.5 345.5,127.9 347,154.3 349.6,162.3 356.8,157.9 360.4,156.1 364.8,152.5 368.4,157 372,156.1 376.4,150.7 380.9,139.1 382.7,150.7 384.5,190 385.7,223.9" fill="none" stroke="#555555" stroke-width="1" stroke-linejoin="round"/>
<line x1="231" y1="19.1" x2="261" y2="19.1" stroke="#555555" stroke-width="1" stroke-dasharray="4.2 4.3"/>
<line x1="231" y1="40" x2="263.7" y2="40" stroke="#555555" stroke-width="1"/>
<text class="ttl" x="271.4" y="23.9">Star A in HII reg.</text>
<text class="ttl" x="271.4" y="44.4">Star B in HII reg.</text>
<text class="pl" x="343.5" y="245.8" style="font-size:25px">a<tspan dx="0" dy="-2.1" style="font-size:24px">)</tspan></text>
<text class="ann pah" fill="#000" color="#000" transform="translate(103.3,191.7) rotate(-90)">PAH</text>
<polyline points="97.5,197.1 97.5,223" fill="none" stroke="#303030" stroke-width="1"/>
<text class="ann pah" fill="#000" color="#000" transform="translate(140.6,170.8) rotate(-90)">PAH</text>
<polyline points="134.5,170.8 134.5,197.1" fill="none" stroke="#303030" stroke-width="1"/>
<text class="ann pah" fill="#000" color="#000" transform="translate(161.3,191.7) rotate(-90)">PAH</text>
<polyline points="155.5,197.1 155.5,222" fill="none" stroke="#303030" stroke-width="1"/>
<text class="ann" fill="#0000d4" color="#0000d4" transform="translate(213.1,149.5) rotate(-90)">[SIV]</text>
<polyline points="207.5,150.5 207.5,171" fill="none" stroke="#3434dc" stroke-width="1"/>
<text class="ann pah" fill="#000" color="#000" transform="translate(235,165.1) rotate(-90)">PAH</text>
<polyline points="228.5,165 228.5,191.4" fill="none" stroke="#303030" stroke-width="1"/>
<text class="ann" fill="#0000d4" color="#0000d4" transform="translate(270.6,106.7) rotate(-90)">[NeII]</text>
<text class="ann pah" fill="#000" color="#000" transform="translate(281.7,107.6) rotate(-90)">PAH</text>
<polyline points="265.5,112.5 265.5,139.8 270.5,144.7" fill="none" stroke="#3434dc" stroke-width="1"/>
<polyline points="275.5,112.5 275.5,139.8 270.5,144.7 270.5,171" fill="none" stroke="#303030" stroke-width="1"/>
<text class="ann" fill="#0000d4" color="#0000d4" transform="translate(365.2,90.9) rotate(-90)">[NeIII]</text>
<polyline points="359.5,97.4 359.5,118.2 348.5,123.6" fill="none" stroke="#3434dc" stroke-width="1"/>
<polyline points="495.4,265.4 499.3,263.1 502.9,264.3 507.1,264 511.4,263.3 517.1,262.4 522.1,261.9 525.7,258.6 528.6,257.1 531.4,258.6 535,260.4 540,260.3 545.7,259.3 550.7,258.3 554.3,259.3 557.3,253.5 561.2,247 564.3,248 569.3,248.6 575.4,251 582.2,251 586.5,248.6 591.4,247.3 595.8,248.2 600.1,240.6 600.7,237.5 602.5,241.2 603.6,243.6 608.9,247.1 614.3,244.5 623.2,241.8 628.6,237.3 633,227.5 635.7,207.9 637.5,175.7 639.6,152.1 642,168.6 644.6,198.9 647.3,231.1 650.9,235.5 654.5,230.2 659.8,223 663.4,223 669.6,225.7 675,226.6 677.7,220.4 682.1,217.7 687.5,213.2 690,209.5 694.3,207.3 697.5,200.4 699.6,195.6 701.8,195.6 703.9,199.3 707.1,208.4 709.8,206.3 713,211.6 716.3,202.5 721.1,199.8 727.5,198.2 733.4,197.2 737.2,195 741.4,193.4 743.6,193.7 746.8,195.6 751.1,192.9 756.5,191.3 760.2,190.7 762.9,186.4 764.5,180 765,166.1 766.3,147 768.6,88.5 771.6,46.6 773.9,48.5 776.4,88.5 777.9,120 778.4,146.8 782,156.6 784.6,153.9 788.2,145.9 794.5,138.8 798,140.5 801.6,146.8 806.1,147.7 809.6,140.5 812.9,129.8 814.1,143.2 815.9,173.6 817.7,221.8" fill="none" stroke="#555555" stroke-width="1" stroke-linejoin="round"/>
<text class="ttl" x="668.6" y="23.9">Peak of SIV and NeIII.</text>
<text class="pl" x="781" y="252.6" style="font-size:26.5px">b<tspan dx="1.4" dy="-2.1" style="font-size:24px">)</tspan></text>
<text class="ann pah" fill="#000" color="#000" transform="translate(532.3,212.4) rotate(-90)">PAH</text>
<polyline points="526.5,223 526.5,249.2" fill="none" stroke="#303030" stroke-width="1"/>
<text class="ann pah" fill="#000" color="#000" transform="translate(569.3,207.3) rotate(-90)">PAH</text>
<polyline points="563.5,212.2 563.5,238.7" fill="none" stroke="#303030" stroke-width="1"/>
<text class="ann pah" fill="#000" color="#000" transform="translate(590.2,212.4) rotate(-90)">PAH</text>
<polyline points="584.5,217.7 584.5,243.6" fill="none" stroke="#303030" stroke-width="1"/>
<text class="ann" fill="#0000d4" color="#0000d4" transform="translate(646.7,118.3) rotate(-90)">[SIV]</text>
<polyline points="642.5,123.9 642.5,149.9" fill="none" stroke="#3434dc" stroke-width="1"/>
<text class="ann pah" fill="#000" color="#000" transform="translate(668.8,186.8) rotate(-90)">PAH</text>
<polyline points="662.5,197.1 662.5,223" fill="none" stroke="#303030" stroke-width="1"/>
<text class="ann" fill="#0000d4" color="#0000d4" transform="translate(699.8,128.2) rotate(-90)">[NeII]</text>
<text class="ann pah" fill="#000" color="#000" transform="translate(710.1,128.2) rotate(-90)">PAH</text>
<polyline points="694.5,134.1 694.5,159.7 699.5,164.8" fill="none" stroke="#3434dc" stroke-width="1"/>
<polyline points="705.5,134.1 705.5,159.7 699.5,164.8 699.5,191.5" fill="none" stroke="#303030" stroke-width="1"/>
<text class="ann" fill="#0000d4" color="#0000d4" transform="translate(798.4,75.8) rotate(-90)">[NeIII]</text>
<polyline points="794.5,81.7 794.5,102.1 783.5,108" fill="none" stroke="#3434dc" stroke-width="1"/>
<polyline points="62.4,580 65,577.7 68.9,577.2 72.7,578.3 75.8,576.4 78.9,573 82.8,571.5 85.9,570.2 88.2,567.2 90.5,551.7 92.8,531.7 94.4,529.4 96.7,542.5 99,554.8 101.3,561 104.4,560.2 107.5,559.1 112.1,554 116.7,549.4 119.8,542.5 122.1,531.7 124.4,513.1 127.5,494.6 129.8,492.3 132.2,496.2 136,508.5 139.1,525.5 143,534 146.8,537.1 149.1,533.2 153.9,527.8 156.2,531.7 159.3,545.6 163.1,546.8 164.7,548.6 168.5,556.4 173.1,562.2 178.5,559.4 185.5,560.7 191.7,561.3 196.3,553.3 199.4,540.9 202.5,520.1 206.3,534.8 211,544.3 213.3,540.9 217.1,522.4 219.4,505.2 221.9,489.5 224.5,489.5 227,498.4 230.4,515.4 233.9,523.9 237.3,522.2 245.8,517.1 250.9,512 253.4,506 256,503.5 258.6,491.6 261.1,482.2 263.7,488.1 266.2,500.1 269.6,510.3 272.2,516.3 274.4,507.7 276.4,515.4 282.4,512.8 285,515.1 290.1,513.7 293.5,511.1 296.9,509.4 299.1,509.1 305.1,508.5 310.2,507.9 315.3,504.5 319.3,505.1 323.4,495.3 325.4,485.2 327.5,450.7 329.5,420.3 332.4,399.9 334.6,418.3 337.6,446.7 339.6,477.1 342.1,488.2 345.7,488.2 348.8,484.2 352.8,480.1 355.9,470 359.9,470 363,463.9 367,458.8 370.1,450.7 372.5,449.1 374.1,460.9 376.1,481.1 377.8,500.4" fill="none" stroke="#555555" stroke-width="1" stroke-linejoin="round"/>
<text class="ttl" x="349.7" y="344.3">PDR</text>
<text class="pl" x="356.5" y="567.8" style="font-size:25px">c<tspan dx="0.5" dy="-2.1" style="font-size:24px">)</tspan></text>
<text class="ann pah" fill="#000" color="#000" transform="translate(98.7,505.5) rotate(-90)">PAH</text>
<polyline points="92.5,505.5 92.5,530.9" fill="none" stroke="#303030" stroke-width="1"/>
<text class="ann pah" fill="#000" color="#000" transform="translate(134.5,453.6) rotate(-90)">PAH</text>
<polyline points="129.5,459.2 129.5,484.4" fill="none" stroke="#303030" stroke-width="1"/>
<text class="ann pah" fill="#000" color="#000" transform="translate(161.2,494.7) rotate(-90)">PAH</text>
<polyline points="155.5,500.3 155.5,526.6" fill="none" stroke="#303030" stroke-width="1"/>
<text class="ann" fill="#0000d4" color="#0000d4" transform="translate(208.4,483.7) rotate(-90)">[SIV]</text>
<polyline points="202.5,485.5 202.5,516.2" fill="none" stroke="#3434dc" stroke-width="1"/>
<text class="ann pah" fill="#000" color="#000" transform="translate(229.2,453.2) rotate(-90)">PAH</text>
<polyline points="223.5,458.5 223.5,484.7" fill="none" stroke="#303030" stroke-width="1"/>
<text class="ann" fill="#0000d4" color="#0000d4" transform="translate(259.5,411.2) rotate(-90)">[NeII]</text>
<text class="ann pah" fill="#000" color="#000" transform="translate(271.1,411.2) rotate(-90)">PAH</text>
<polyline points="254.5,416.7 254.5,443.1 260.5,447.8" fill="none" stroke="#3434dc" stroke-width="1"/>
<polyline points="265.5,416.7 265.5,443.1 260.5,447.8 260.5,474.5" fill="none" stroke="#303030" stroke-width="1"/>
<text class="ann" fill="#0000d4" color="#0000d4" transform="translate(338.9,364.1) rotate(-90)">[NeIII]</text>
<polyline points="333.5,369.8 333.5,395.6" fill="none" stroke="#3434dc" stroke-width="1"/>
<polyline points="499.9,585.3 501.2,582.8 502.4,584.7 504.3,580.6 505.5,584.1 506.7,584.7 507.3,577.3 509.2,573 510.8,571.5 512,576.7 512.9,584.1 513.5,577.3 514.5,579.1 515.4,576.7 516.6,573 517.5,564.3 517.8,547 518.5,532.8 520.3,530.4 521.5,516.5 522.8,517.4 523.6,519.3 524.6,534.7 525.2,550.7 526.5,564.3 527.7,566.8 529.3,552.6 530.8,566.8 532,554.4 533.9,569.9 535.7,565.6 537.6,564.3 538.8,551.4 540.1,559.4 541.9,563.1 543.8,554.4 544.7,563.2 546.6,565.1 547.5,545.3 549,543.4 550.4,524.6 553.2,515.2 555.1,494.5 556.6,480.4 557.9,485.1 559.8,485.1 561.7,490.7 563,502 564.5,499.2 566.4,509.5 568.2,519 570.1,535 572,523.7 573.5,534 575.8,546.3 577.7,537.8 579.5,540.6 581.4,532.1 583.3,527.4 585.2,534 588,544.4 589.9,555.7 592.7,554.7 594.6,560.4 596.1,568.9 597.4,559.5 599.7,561.3 601.6,569.8 603.5,583 606.3,561.3 609.1,562.7 612,569.8 614.8,565.1 617.6,578.3 621,580.2 623.2,574.5 626.1,583 629.3,558.5 631.7,557 634.5,560.4 638.3,556.6 641.1,558.9 644.9,552.9 646.8,551 649.6,517.1 652.9,480.6 654.6,459.4 657.6,466.5 661.2,499.4 664.7,527.6 666.4,540.6 668.2,526.5 670.1,534.7 672.9,528.8 675.3,532.4 678.8,527.6 684.7,523.4 688.2,522.9 692.9,518.7 696.5,525.3 701.2,532.4 704.7,537.1 709.4,550 711.8,541.8 716.5,538.2 720,546.3 723.4,554.7 726,555.1 728.5,547.2 731.3,542.5 733.6,536.9 736,544.4 738.8,551 741.7,562.3 744.1,561.3 746.7,568.3 749.2,559.5 752,562.3 754.8,565.1 757.7,562.3 759.9,561.9 762.4,545.3 764.8,528.4 768,517.1 770.3,503.9 771.8,526.5 772.7,539.7 775,530.3 777.4,541.6 780.3,552.9 782.7,542.7 786.8,543.9 790.2,537 791.4,510.9 793.2,492.7 795.5,479.5 797.7,492.3 800,473.4 801.6,479.5 802.7,481.8" fill="none" stroke="#555555" stroke-width="1" stroke-linejoin="round"/>
<text class="ttl" x="721.7" y="343.3">CO East peak</text>
<text class="pl" x="794.5" y="574.7" style="font-size:26.5px">d<tspan dx="0.8" dy="-2.1" style="font-size:24px">)</tspan></text>
<text class="ann pah" fill="#000" color="#000" transform="translate(527,484.1) rotate(-90)">PAH</text>
<polyline points="521.5,490.1 521.5,517" fill="none" stroke="#303030" stroke-width="1"/>
<text class="ann pah" fill="#000" color="#000" transform="translate(564.1,453.3) rotate(-90)">PAH</text>
<polyline points="558.5,453.3 558.5,479.3" fill="none" stroke="#303030" stroke-width="1"/>
<text class="ann pah" fill="#000" color="#000" transform="translate(590,489.5) rotate(-90)">PAH</text>
<polyline points="584.5,495 584.5,521" fill="none" stroke="#303030" stroke-width="1"/>
<text class="ann pah" fill="#000" color="#000" transform="translate(657.9,421.6) rotate(-90)">PAH</text>
<polyline points="652.5,421.6 652.5,448.2" fill="none" stroke="#303030" stroke-width="1"/>
<text class="ann" fill="#0000d4" color="#0000d4" transform="translate(688.5,452.7) rotate(-90)">[NeII]</text>
<text class="ann pah" fill="#000" color="#000" transform="translate(700.1,452.7) rotate(-90)">PAH</text>
<polyline points="683.5,458.2 683.5,484.8 688.5,490" fill="none" stroke="#3434dc" stroke-width="1"/>
<polyline points="694.5,458.2 694.5,484.8 688.5,490 688.5,515.9" fill="none" stroke="#303030" stroke-width="1"/>
<text class="ann" fill="#0000d4" color="#0000d4" transform="translate(772.7,468.5) rotate(-90)">[NeIII]</text>
<polyline points="767.5,469.2 767.5,495.5" fill="none" stroke="#3434dc" stroke-width="1"/>
</svg></body></html>
